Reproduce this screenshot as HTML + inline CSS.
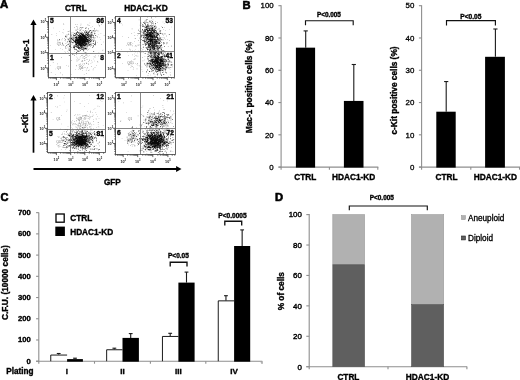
<!DOCTYPE html>
<html lang="en"><head><meta charset="utf-8"><title>Figure</title>
<style>
html,body{margin:0;padding:0;background:#fff;}
body{width:520px;height:380px;overflow:hidden;font-family:'Liberation Sans', Arial, Helvetica, sans-serif;}
svg{display:block;}
svg text{font-family:'Liberation Sans', Arial, Helvetica, sans-serif;}
</style></head><body>
<svg width="520" height="380" viewBox="0 0 520 380">
<rect x="0" y="0" width="520" height="380" fill="#ffffff"/>
<g style="filter:blur(0.38px)">
<rect x="-5" y="-5" width="530" height="390" fill="#ffffff"/>
<text x="0" y="8.3" font-size="11.4" font-weight="700" text-anchor="start" fill="#000" stroke="#000" stroke-width="0.6">A</text>
<text x="75.8" y="11" font-size="8.2" font-weight="700" text-anchor="middle" fill="#000" stroke="#000" stroke-width="0.35">CTRL</text>
<text x="146" y="10.8" font-size="8.3" font-weight="700" text-anchor="middle" fill="#000" stroke="#000" stroke-width="0.35">HDAC1-KD</text>
<text x="28.6" y="51.2" font-size="8.3" font-weight="700" text-anchor="middle" fill="#000" stroke="#000" stroke-width="0.35" transform="rotate(-90 28.6 51.2)">Mac-1</text>
<text x="28.1" y="123.4" font-size="8.4" font-weight="700" text-anchor="middle" fill="#000" stroke="#000" stroke-width="0.35" transform="rotate(-90 28.1 123.4)">c-Kit</text>
<text x="112.3" y="184.7" font-size="8.2" font-weight="700" text-anchor="middle" fill="#000" stroke="#000" stroke-width="0.35">GFP</text>
<line x1="33.5" y1="77.2" x2="33.5" y2="23.6" stroke="#000" stroke-width="1.7"/>
<path d="M30.4,25.0 L33.5,19.6 L36.6,25.0 Z" fill="#000"/>
<line x1="33.5" y1="152.7" x2="33.5" y2="99" stroke="#000" stroke-width="1.7"/>
<path d="M30.4,100.4 L33.5,95 L36.6,100.4 Z" fill="#000"/>
<line x1="33.5" y1="169" x2="177" y2="169" stroke="#000" stroke-width="1.9"/>
<path d="M176.1,166.1 L181.5,169 L176.1,171.9 Z" fill="#000"/>
<rect x="48.50" y="16.50" width="57.00" height="61.00" fill="#fff" stroke="#4a4a4a" stroke-width="0.85"/>
<line x1="45.9" y1="21.5" x2="48.5" y2="21.5" stroke="#222" stroke-width="0.7"/>
<text x="46.1" y="23.1" font-size="3.7" font-weight="700" text-anchor="end" fill="#222">10<tspan font-size="2.6" dy="-1.7">5</tspan></text>
<line x1="47.2" y1="32.124344065907486" x2="48.5" y2="32.124344065907486" stroke="#222" stroke-width="0.6"/>
<line x1="47.2" y1="29.447756928261132" x2="48.5" y2="29.447756928261132" stroke="#222" stroke-width="0.6"/>
<line x1="47.2" y1="27.54868813181497" x2="48.5" y2="27.54868813181497" stroke="#222" stroke-width="0.6"/>
<line x1="47.2" y1="26.075655934092513" x2="48.5" y2="26.075655934092513" stroke="#222" stroke-width="0.6"/>
<line x1="47.2" y1="24.872100994168616" x2="48.5" y2="24.872100994168616" stroke="#222" stroke-width="0.6"/>
<line x1="47.2" y1="23.854509791783297" x2="48.5" y2="23.854509791783297" stroke="#222" stroke-width="0.6"/>
<line x1="47.2" y1="22.973032197722457" x2="48.5" y2="22.973032197722457" stroke="#222" stroke-width="0.6"/>
<line x1="47.2" y1="22.19551385652226" x2="48.5" y2="22.19551385652226" stroke="#222" stroke-width="0.6"/>
<line x1="45.9" y1="37.3" x2="48.5" y2="37.3" stroke="#222" stroke-width="0.7"/>
<text x="46.1" y="38.9" font-size="3.7" font-weight="700" text-anchor="end" fill="#222">10<tspan font-size="2.6" dy="-1.7">4</tspan></text>
<line x1="47.2" y1="47.92434406590748" x2="48.5" y2="47.92434406590748" stroke="#222" stroke-width="0.6"/>
<line x1="47.2" y1="45.247756928261126" x2="48.5" y2="45.247756928261126" stroke="#222" stroke-width="0.6"/>
<line x1="47.2" y1="43.34868813181497" x2="48.5" y2="43.34868813181497" stroke="#222" stroke-width="0.6"/>
<line x1="47.2" y1="41.87565593409251" x2="48.5" y2="41.87565593409251" stroke="#222" stroke-width="0.6"/>
<line x1="47.2" y1="40.672100994168616" x2="48.5" y2="40.672100994168616" stroke="#222" stroke-width="0.6"/>
<line x1="47.2" y1="39.65450979178329" x2="48.5" y2="39.65450979178329" stroke="#222" stroke-width="0.6"/>
<line x1="47.2" y1="38.77303219772246" x2="48.5" y2="38.77303219772246" stroke="#222" stroke-width="0.6"/>
<line x1="47.2" y1="37.99551385652226" x2="48.5" y2="37.99551385652226" stroke="#222" stroke-width="0.6"/>
<line x1="45.9" y1="52.6" x2="48.5" y2="52.6" stroke="#222" stroke-width="0.7"/>
<text x="46.1" y="54.2" font-size="3.7" font-weight="700" text-anchor="end" fill="#222">10<tspan font-size="2.6" dy="-1.7">3</tspan></text>
<line x1="47.2" y1="63.22434406590749" x2="48.5" y2="63.22434406590749" stroke="#222" stroke-width="0.6"/>
<line x1="47.2" y1="60.54775692826113" x2="48.5" y2="60.54775692826113" stroke="#222" stroke-width="0.6"/>
<line x1="47.2" y1="58.64868813181497" x2="48.5" y2="58.64868813181497" stroke="#222" stroke-width="0.6"/>
<line x1="47.2" y1="57.17565593409252" x2="48.5" y2="57.17565593409252" stroke="#222" stroke-width="0.6"/>
<line x1="47.2" y1="55.97210099416862" x2="48.5" y2="55.97210099416862" stroke="#222" stroke-width="0.6"/>
<line x1="47.2" y1="54.954509791783295" x2="48.5" y2="54.954509791783295" stroke="#222" stroke-width="0.6"/>
<line x1="47.2" y1="54.07303219772246" x2="48.5" y2="54.07303219772246" stroke="#222" stroke-width="0.6"/>
<line x1="47.2" y1="53.29551385652226" x2="48.5" y2="53.29551385652226" stroke="#222" stroke-width="0.6"/>
<line x1="45.9" y1="68" x2="48.5" y2="68" stroke="#222" stroke-width="0.7"/>
<text x="46.1" y="69.6" font-size="3.7" font-weight="700" text-anchor="end" fill="#222">10<tspan font-size="2.6" dy="-1.7">2</tspan></text>
<line x1="47.2" y1="75.94775692826113" x2="48.5" y2="75.94775692826113" stroke="#222" stroke-width="0.6"/>
<line x1="47.2" y1="74.04868813181497" x2="48.5" y2="74.04868813181497" stroke="#222" stroke-width="0.6"/>
<line x1="47.2" y1="72.57565593409251" x2="48.5" y2="72.57565593409251" stroke="#222" stroke-width="0.6"/>
<line x1="47.2" y1="71.37210099416862" x2="48.5" y2="71.37210099416862" stroke="#222" stroke-width="0.6"/>
<line x1="47.2" y1="70.3545097917833" x2="48.5" y2="70.3545097917833" stroke="#222" stroke-width="0.6"/>
<line x1="47.2" y1="69.47303219772246" x2="48.5" y2="69.47303219772246" stroke="#222" stroke-width="0.6"/>
<line x1="47.2" y1="68.69551385652227" x2="48.5" y2="68.69551385652227" stroke="#222" stroke-width="0.6"/>
<line x1="47.2" y1="16.924344065907487" x2="48.5" y2="16.924344065907487" stroke="#222" stroke-width="0.6"/>
<line x1="56.4" y1="77.5" x2="56.4" y2="80.1" stroke="#222" stroke-width="0.7"/>
<text x="56.4" y="85.7" font-size="3.7" font-weight="700" text-anchor="middle" fill="#222">10<tspan font-size="2.6" dy="-1.7">2</tspan></text>
<line x1="48.87054606796313" y1="77.5" x2="48.87054606796313" y2="78.8" stroke="#222" stroke-width="0.6"/>
<line x1="50.66966387512266" y1="77.5" x2="50.66966387512266" y2="78.8" stroke="#222" stroke-width="0.6"/>
<line x1="52.06516806243867" y1="77.5" x2="52.06516806243867" y2="78.8" stroke="#222" stroke-width="0.6"/>
<line x1="53.205378005524466" y1="77.5" x2="53.205378005524466" y2="78.8" stroke="#222" stroke-width="0.6"/>
<line x1="54.169411776205294" y1="77.5" x2="54.169411776205294" y2="78.8" stroke="#222" stroke-width="0.6"/>
<line x1="55.004495812683984" y1="77.5" x2="55.004495812683984" y2="78.8" stroke="#222" stroke-width="0.6"/>
<line x1="55.74109213592628" y1="77.5" x2="55.74109213592628" y2="78.8" stroke="#222" stroke-width="0.6"/>
<line x1="70.7" y1="77.5" x2="70.7" y2="80.1" stroke="#222" stroke-width="0.7"/>
<text x="70.7" y="85.7" font-size="3.7" font-weight="700" text-anchor="middle" fill="#222">10<tspan font-size="2.6" dy="-1.7">3</tspan></text>
<line x1="60.63483193756133" y1="77.5" x2="60.63483193756133" y2="78.8" stroke="#222" stroke-width="0.6"/>
<line x1="63.170546067963144" y1="77.5" x2="63.170546067963144" y2="78.8" stroke="#222" stroke-width="0.6"/>
<line x1="64.96966387512266" y1="77.5" x2="64.96966387512266" y2="78.8" stroke="#222" stroke-width="0.6"/>
<line x1="66.36516806243867" y1="77.5" x2="66.36516806243867" y2="78.8" stroke="#222" stroke-width="0.6"/>
<line x1="67.50537800552448" y1="77.5" x2="67.50537800552448" y2="78.8" stroke="#222" stroke-width="0.6"/>
<line x1="68.4694117762053" y1="77.5" x2="68.4694117762053" y2="78.8" stroke="#222" stroke-width="0.6"/>
<line x1="69.304495812684" y1="77.5" x2="69.304495812684" y2="78.8" stroke="#222" stroke-width="0.6"/>
<line x1="70.04109213592628" y1="77.5" x2="70.04109213592628" y2="78.8" stroke="#222" stroke-width="0.6"/>
<line x1="84.8" y1="77.5" x2="84.8" y2="80.1" stroke="#222" stroke-width="0.7"/>
<text x="84.8" y="85.7" font-size="3.7" font-weight="700" text-anchor="middle" fill="#222">10<tspan font-size="2.6" dy="-1.7">4</tspan></text>
<line x1="74.73483193756132" y1="77.5" x2="74.73483193756132" y2="78.8" stroke="#222" stroke-width="0.6"/>
<line x1="77.27054606796314" y1="77.5" x2="77.27054606796314" y2="78.8" stroke="#222" stroke-width="0.6"/>
<line x1="79.06966387512266" y1="77.5" x2="79.06966387512266" y2="78.8" stroke="#222" stroke-width="0.6"/>
<line x1="80.46516806243866" y1="77.5" x2="80.46516806243866" y2="78.8" stroke="#222" stroke-width="0.6"/>
<line x1="81.60537800552447" y1="77.5" x2="81.60537800552447" y2="78.8" stroke="#222" stroke-width="0.6"/>
<line x1="82.5694117762053" y1="77.5" x2="82.5694117762053" y2="78.8" stroke="#222" stroke-width="0.6"/>
<line x1="83.40449581268399" y1="77.5" x2="83.40449581268399" y2="78.8" stroke="#222" stroke-width="0.6"/>
<line x1="84.14109213592627" y1="77.5" x2="84.14109213592627" y2="78.8" stroke="#222" stroke-width="0.6"/>
<line x1="99.3" y1="77.5" x2="99.3" y2="80.1" stroke="#222" stroke-width="0.7"/>
<text x="99.3" y="85.7" font-size="3.7" font-weight="700" text-anchor="middle" fill="#222">10<tspan font-size="2.6" dy="-1.7">5</tspan></text>
<line x1="89.23483193756132" y1="77.5" x2="89.23483193756132" y2="78.8" stroke="#222" stroke-width="0.6"/>
<line x1="91.77054606796314" y1="77.5" x2="91.77054606796314" y2="78.8" stroke="#222" stroke-width="0.6"/>
<line x1="93.56966387512266" y1="77.5" x2="93.56966387512266" y2="78.8" stroke="#222" stroke-width="0.6"/>
<line x1="94.96516806243866" y1="77.5" x2="94.96516806243866" y2="78.8" stroke="#222" stroke-width="0.6"/>
<line x1="96.10537800552447" y1="77.5" x2="96.10537800552447" y2="78.8" stroke="#222" stroke-width="0.6"/>
<line x1="97.0694117762053" y1="77.5" x2="97.0694117762053" y2="78.8" stroke="#222" stroke-width="0.6"/>
<line x1="97.90449581268399" y1="77.5" x2="97.90449581268399" y2="78.8" stroke="#222" stroke-width="0.6"/>
<line x1="98.64109213592627" y1="77.5" x2="98.64109213592627" y2="78.8" stroke="#222" stroke-width="0.6"/>
<line x1="103.63483193756133" y1="77.5" x2="103.63483193756133" y2="78.8" stroke="#222" stroke-width="0.6"/>
<path d="M71.6,43.9h0.6v0.6h-0.6zM90.5,35.4h0.6v0.6h-0.6zM70.7,40.9h0.6v0.6h-0.6zM86.1,47.1h0.6v0.6h-0.6zM71.7,32.3h0.6v0.6h-0.6zM88.0,42.5h0.6v0.6h-0.6zM95.0,45.2h0.6v0.6h-0.6zM81.1,38.2h0.6v0.6h-0.6zM103.8,35.3h0.6v0.6h-0.6zM75.3,32.9h0.6v0.6h-0.6zM82.8,40.9h0.6v0.6h-0.6zM79.1,39.9h0.6v0.6h-0.6zM84.3,44.5h0.6v0.6h-0.6zM91.3,40.3h0.6v0.6h-0.6zM66.8,46.7h0.6v0.6h-0.6zM69.9,40.3h0.6v0.6h-0.6zM69.5,41.6h0.6v0.6h-0.6zM75.4,42.3h0.6v0.6h-0.6zM89.2,30.0h0.6v0.6h-0.6zM79.6,44.9h0.6v0.6h-0.6zM81.2,42.7h0.6v0.6h-0.6zM82.9,32.9h0.6v0.6h-0.6zM86.8,33.8h0.6v0.6h-0.6zM97.9,34.5h0.6v0.6h-0.6zM87.8,39.3h0.6v0.6h-0.6zM90.1,34.8h0.6v0.6h-0.6zM90.5,38.1h0.6v0.6h-0.6zM92.7,43.0h0.6v0.6h-0.6zM83.2,34.5h0.6v0.6h-0.6zM88.5,42.4h0.6v0.6h-0.6zM96.0,35.7h0.6v0.6h-0.6zM86.7,42.9h0.6v0.6h-0.6zM84.4,41.1h0.6v0.6h-0.6zM83.5,35.7h0.6v0.6h-0.6zM73.4,38.3h0.6v0.6h-0.6zM87.0,49.8h0.6v0.6h-0.6zM90.3,46.3h0.6v0.6h-0.6zM88.6,44.0h0.6v0.6h-0.6zM83.6,45.1h0.6v0.6h-0.6zM97.1,35.9h0.6v0.6h-0.6zM76.1,54.3h0.6v0.6h-0.6zM84.1,46.5h0.6v0.6h-0.6zM89.4,31.2h0.6v0.6h-0.6zM102.7,49.7h0.6v0.6h-0.6zM83.5,45.0h0.6v0.6h-0.6zM83.1,33.7h0.6v0.6h-0.6zM81.0,42.7h0.6v0.6h-0.6zM91.5,43.7h0.6v0.6h-0.6zM82.5,49.3h0.6v0.6h-0.6zM75.5,46.3h0.6v0.6h-0.6zM91.5,36.8h0.6v0.6h-0.6zM66.8,35.6h0.6v0.6h-0.6zM84.0,43.4h0.6v0.6h-0.6zM95.2,31.4h0.6v0.6h-0.6zM82.0,44.5h0.6v0.6h-0.6zM80.7,23.8h0.6v0.6h-0.6zM88.9,55.2h0.6v0.6h-0.6zM90.5,32.6h0.6v0.6h-0.6zM78.5,42.0h0.6v0.6h-0.6zM103.2,41.7h0.6v0.6h-0.6zM83.0,50.7h0.6v0.6h-0.6zM81.3,53.0h0.6v0.6h-0.6zM76.2,37.4h0.6v0.6h-0.6zM88.1,49.1h0.6v0.6h-0.6zM87.6,41.4h0.6v0.6h-0.6zM66.5,37.0h0.6v0.6h-0.6zM76.8,36.9h0.6v0.6h-0.6zM87.0,37.1h0.6v0.6h-0.6zM88.7,39.7h0.6v0.6h-0.6zM79.2,41.2h0.6v0.6h-0.6zM85.6,45.5h0.6v0.6h-0.6zM77.9,38.9h0.6v0.6h-0.6zM70.4,52.5h0.6v0.6h-0.6zM94.3,37.2h0.6v0.6h-0.6zM77.9,31.9h0.6v0.6h-0.6zM83.4,41.2h0.6v0.6h-0.6zM100.5,39.4h0.6v0.6h-0.6zM75.4,23.9h0.6v0.6h-0.6zM94.0,39.8h0.6v0.6h-0.6zM68.3,42.9h0.6v0.6h-0.6zM68.3,65.8h0.6v0.6h-0.6zM91.5,42.8h0.6v0.6h-0.6zM80.5,25.4h0.6v0.6h-0.6zM80.9,29.4h0.6v0.6h-0.6zM87.1,24.6h0.6v0.6h-0.6zM74.3,49.4h0.6v0.6h-0.6zM96.0,30.1h0.6v0.6h-0.6zM69.0,47.7h0.6v0.6h-0.6zM89.3,32.3h0.6v0.6h-0.6zM76.1,35.9h0.6v0.6h-0.6zM71.9,36.5h0.6v0.6h-0.6zM92.6,43.5h0.6v0.6h-0.6zM99.5,37.2h0.6v0.6h-0.6zM80.8,33.3h0.6v0.6h-0.6zM80.9,31.0h0.6v0.6h-0.6zM66.9,46.7h0.6v0.6h-0.6zM94.2,44.3h0.6v0.6h-0.6zM93.3,40.3h0.6v0.6h-0.6zM75.9,41.4h0.6v0.6h-0.6zM78.8,32.7h0.6v0.6h-0.6zM67.6,31.5h0.6v0.6h-0.6zM82.0,41.0h0.6v0.6h-0.6zM78.0,50.4h0.6v0.6h-0.6zM83.5,43.8h0.6v0.6h-0.6zM92.4,33.0h0.6v0.6h-0.6zM65.3,47.3h0.6v0.6h-0.6zM76.1,49.8h0.6v0.6h-0.6zM84.9,46.6h0.6v0.6h-0.6zM88.5,24.8h0.6v0.6h-0.6zM88.1,34.6h0.6v0.6h-0.6zM75.6,37.8h0.6v0.6h-0.6zM88.5,45.3h0.6v0.6h-0.6zM90.6,27.5h0.6v0.6h-0.6zM77.0,24.2h0.6v0.6h-0.6zM81.1,44.3h0.6v0.6h-0.6zM75.5,42.5h0.6v0.6h-0.6zM84.0,46.7h0.6v0.6h-0.6zM75.0,35.1h0.6v0.6h-0.6zM75.5,52.9h0.6v0.6h-0.6zM91.3,38.0h0.6v0.6h-0.6zM83.9,40.6h0.6v0.6h-0.6zM83.7,38.3h0.6v0.6h-0.6zM79.2,31.7h0.6v0.6h-0.6zM76.5,52.1h0.6v0.6h-0.6zM86.6,39.9h0.6v0.6h-0.6zM80.2,40.7h0.6v0.6h-0.6zM85.0,35.2h0.6v0.6h-0.6zM83.7,41.5h0.6v0.6h-0.6zM75.6,35.3h0.6v0.6h-0.6zM73.5,33.7h0.6v0.6h-0.6zM89.6,22.7h0.6v0.6h-0.6zM79.7,36.1h0.6v0.6h-0.6zM76.7,41.3h0.6v0.6h-0.6zM91.6,39.3h0.6v0.6h-0.6zM80.8,35.9h0.6v0.6h-0.6zM80.9,46.4h0.6v0.6h-0.6zM78.7,32.5h0.6v0.6h-0.6zM71.3,33.7h0.6v0.6h-0.6zM70.2,49.1h0.6v0.6h-0.6zM85.0,38.0h0.6v0.6h-0.6zM94.4,33.9h0.6v0.6h-0.6zM88.4,44.8h0.6v0.6h-0.6zM68.9,30.8h0.6v0.6h-0.6zM74.1,47.2h0.6v0.6h-0.6zM93.0,30.1h0.6v0.6h-0.6zM90.9,36.2h0.6v0.6h-0.6zM78.7,36.6h0.6v0.6h-0.6zM79.2,27.8h0.6v0.6h-0.6zM73.5,32.5h0.6v0.6h-0.6zM86.2,53.9h0.6v0.6h-0.6zM67.4,39.0h0.6v0.6h-0.6zM74.0,54.7h0.6v0.6h-0.6zM86.9,34.4h0.6v0.6h-0.6zM90.0,42.7h0.6v0.6h-0.6zM68.2,38.0h0.6v0.6h-0.6zM80.0,40.4h0.6v0.6h-0.6zM83.1,37.5h0.6v0.6h-0.6zM83.6,35.7h0.6v0.6h-0.6zM74.4,51.4h0.6v0.6h-0.6zM85.1,42.7h0.6v0.6h-0.6zM68.4,40.5h0.6v0.6h-0.6zM89.0,30.2h0.6v0.6h-0.6zM91.3,36.2h0.6v0.6h-0.6zM85.4,38.7h0.6v0.6h-0.6zM83.9,48.1h0.6v0.6h-0.6zM78.6,51.3h0.6v0.6h-0.6zM75.4,34.4h0.6v0.6h-0.6zM88.0,31.9h0.6v0.6h-0.6zM78.9,46.7h0.6v0.6h-0.6zM92.3,26.4h0.6v0.6h-0.6zM86.3,52.5h0.6v0.6h-0.6zM92.2,37.1h0.6v0.6h-0.6zM76.9,38.6h0.6v0.6h-0.6zM72.2,39.4h0.6v0.6h-0.6zM80.4,39.2h0.6v0.6h-0.6zM92.1,37.2h0.6v0.6h-0.6zM69.6,48.8h0.6v0.6h-0.6zM72.9,38.0h0.6v0.6h-0.6zM80.9,37.8h0.6v0.6h-0.6zM73.5,39.3h0.6v0.6h-0.6zM100.6,33.5h0.6v0.6h-0.6zM80.8,47.9h0.6v0.6h-0.6zM88.3,44.5h0.6v0.6h-0.6zM89.3,25.5h0.6v0.6h-0.6zM74.7,41.8h0.6v0.6h-0.6zM86.2,48.4h0.6v0.6h-0.6zM86.0,37.9h0.6v0.6h-0.6zM82.3,38.5h0.6v0.6h-0.6zM84.1,44.4h0.6v0.6h-0.6zM79.1,34.7h0.6v0.6h-0.6zM74.7,48.5h0.6v0.6h-0.6zM92.9,45.5h0.6v0.6h-0.6zM89.3,44.9h0.6v0.6h-0.6zM82.0,44.6h0.6v0.6h-0.6zM73.1,39.7h0.6v0.6h-0.6zM75.8,45.8h0.6v0.6h-0.6zM77.1,39.9h0.6v0.6h-0.6zM85.4,49.0h0.6v0.6h-0.6zM75.3,34.3h0.6v0.6h-0.6zM88.9,31.5h0.6v0.6h-0.6zM85.8,35.6h0.6v0.6h-0.6zM81.1,27.5h0.6v0.6h-0.6zM88.1,35.8h0.6v0.6h-0.6zM74.4,55.3h0.6v0.6h-0.6zM88.1,63.5h0.6v0.6h-0.6zM85.5,37.2h0.6v0.6h-0.6zM82.9,51.0h0.6v0.6h-0.6zM81.8,43.1h0.6v0.6h-0.6zM86.4,33.2h0.6v0.6h-0.6zM83.1,36.4h0.6v0.6h-0.6zM71.4,47.3h0.6v0.6h-0.6zM87.7,39.8h0.6v0.6h-0.6zM74.3,27.1h0.6v0.6h-0.6zM86.1,38.8h0.6v0.6h-0.6zM67.7,41.4h0.6v0.6h-0.6zM69.1,41.4h0.6v0.6h-0.6zM83.2,42.3h0.6v0.6h-0.6zM83.8,41.0h0.6v0.6h-0.6zM72.3,38.5h0.6v0.6h-0.6zM77.7,38.9h0.6v0.6h-0.6zM84.3,44.0h0.6v0.6h-0.6zM95.9,20.5h0.6v0.6h-0.6zM85.4,38.2h0.6v0.6h-0.6zM101.3,44.1h0.6v0.6h-0.6zM67.9,44.5h0.6v0.6h-0.6zM77.6,47.4h0.6v0.6h-0.6zM73.0,40.4h0.6v0.6h-0.6zM80.9,39.5h0.6v0.6h-0.6zM77.0,27.9h0.6v0.6h-0.6zM85.9,46.4h0.6v0.6h-0.6zM81.4,33.0h0.6v0.6h-0.6zM83.7,43.7h0.6v0.6h-0.6zM80.5,40.1h0.6v0.6h-0.6zM94.0,30.8h0.6v0.6h-0.6zM77.3,27.4h0.6v0.6h-0.6zM76.1,35.6h0.6v0.6h-0.6zM73.8,36.2h0.6v0.6h-0.6zM97.3,36.8h0.6v0.6h-0.6zM81.0,55.3h0.6v0.6h-0.6zM81.5,28.1h0.6v0.6h-0.6zM85.4,33.1h0.6v0.6h-0.6zM95.9,29.7h0.6v0.6h-0.6zM77.1,29.5h0.6v0.6h-0.6zM82.8,32.9h0.6v0.6h-0.6zM81.4,37.5h0.6v0.6h-0.6zM76.8,47.2h0.6v0.6h-0.6zM90.0,39.4h0.6v0.6h-0.6zM74.3,33.5h0.6v0.6h-0.6zM84.3,56.3h0.6v0.6h-0.6zM78.1,35.0h0.6v0.6h-0.6zM76.1,33.2h0.6v0.6h-0.6zM73.7,39.6h0.6v0.6h-0.6zM94.2,38.5h0.6v0.6h-0.6zM77.7,29.4h0.6v0.6h-0.6zM83.8,39.6h0.6v0.6h-0.6zM71.6,33.8h0.6v0.6h-0.6zM81.6,47.1h0.6v0.6h-0.6zM87.3,40.8h0.6v0.6h-0.6zM82.2,63.8h0.6v0.6h-0.6zM83.9,74.0h0.6v0.6h-0.6zM77.8,60.0h0.6v0.6h-0.6zM91.0,60.5h0.6v0.6h-0.6zM91.8,61.8h0.6v0.6h-0.6zM84.8,60.0h0.6v0.6h-0.6zM76.4,56.7h0.6v0.6h-0.6zM96.2,65.5h0.6v0.6h-0.6zM87.3,67.2h0.6v0.6h-0.6zM87.1,67.6h0.6v0.6h-0.6zM82.5,60.8h0.6v0.6h-0.6zM89.4,60.1h0.6v0.6h-0.6zM76.7,60.8h0.6v0.6h-0.6zM81.0,65.4h0.6v0.6h-0.6zM80.0,56.2h0.6v0.6h-0.6zM82.2,70.5h0.6v0.6h-0.6zM83.7,62.9h0.6v0.6h-0.6zM84.1,63.6h0.6v0.6h-0.6zM89.1,69.7h0.6v0.6h-0.6zM75.0,69.5h0.6v0.6h-0.6zM84.0,60.2h0.6v0.6h-0.6zM97.2,61.1h0.6v0.6h-0.6zM94.7,67.3h0.6v0.6h-0.6zM78.3,64.7h0.6v0.6h-0.6zM88.1,61.3h0.6v0.6h-0.6zM71.2,60.1h0.6v0.6h-0.6zM82.9,55.9h0.6v0.6h-0.6zM94.0,60.7h0.6v0.6h-0.6zM81.8,60.4h0.6v0.6h-0.6zM79.7,57.7h0.6v0.6h-0.6zM84.5,63.7h0.6v0.6h-0.6zM81.2,61.5h0.6v0.6h-0.6zM76.4,64.9h0.6v0.6h-0.6zM79.9,63.2h0.6v0.6h-0.6zM79.0,59.2h0.6v0.6h-0.6zM85.2,55.3h0.6v0.6h-0.6zM97.6,61.8h0.6v0.6h-0.6zM83.6,58.0h0.6v0.6h-0.6zM92.8,69.6h0.6v0.6h-0.6zM85.6,54.5h0.6v0.6h-0.6zM81.2,65.4h0.6v0.6h-0.6zM81.2,55.5h0.6v0.6h-0.6zM77.5,57.8h0.6v0.6h-0.6zM84.1,58.4h0.6v0.6h-0.6zM93.8,56.3h0.6v0.6h-0.6zM85.9,62.5h0.6v0.6h-0.6zM83.2,67.7h0.6v0.6h-0.6zM82.2,60.2h0.6v0.6h-0.6zM81.9,61.4h0.6v0.6h-0.6zM91.1,66.3h0.6v0.6h-0.6zM76.6,59.6h0.6v0.6h-0.6zM79.6,66.5h0.6v0.6h-0.6zM85.2,66.9h0.6v0.6h-0.6zM83.7,51.5h0.6v0.6h-0.6zM86.5,63.3h0.6v0.6h-0.6zM86.8,54.8h0.6v0.6h-0.6zM84.4,58.2h0.6v0.6h-0.6zM80.2,63.9h0.6v0.6h-0.6zM85.9,57.1h0.6v0.6h-0.6zM74.6,48.4h0.6v0.6h-0.6zM80.8,68.2h0.6v0.6h-0.6zM83.7,49.6h0.6v0.6h-0.6zM79.3,64.3h0.6v0.6h-0.6zM93.2,68.4h0.6v0.6h-0.6zM86.0,63.1h0.6v0.6h-0.6zM78.2,59.5h0.6v0.6h-0.6zM82.2,57.7h0.6v0.6h-0.6zM84.3,59.8h0.6v0.6h-0.6zM85.9,69.9h0.6v0.6h-0.6zM88.1,64.3h0.6v0.6h-0.6zM82.7,53.6h0.6v0.6h-0.6zM83.4,65.0h0.6v0.6h-0.6zM78.5,68.9h0.6v0.6h-0.6zM82.2,64.0h0.6v0.6h-0.6zM82.2,55.1h0.6v0.6h-0.6zM95.4,55.6h0.6v0.6h-0.6zM89.1,58.9h0.6v0.6h-0.6zM85.5,57.6h0.6v0.6h-0.6zM81.7,67.1h0.6v0.6h-0.6zM94.7,57.3h0.6v0.6h-0.6zM84.1,67.2h0.6v0.6h-0.6zM80.5,65.9h0.6v0.6h-0.6zM79.7,65.3h0.6v0.6h-0.6zM86.4,68.7h0.6v0.6h-0.6zM86.0,55.4h0.6v0.6h-0.6zM87.7,55.9h0.6v0.6h-0.6zM88.1,70.3h0.6v0.6h-0.6zM87.3,59.0h0.6v0.6h-0.6zM90.6,62.9h0.6v0.6h-0.6zM59.0,39.9h0.6v0.6h-0.6zM69.7,40.2h0.6v0.6h-0.6zM64.5,39.9h0.6v0.6h-0.6zM57.3,38.9h0.6v0.6h-0.6zM65.4,43.2h0.6v0.6h-0.6zM63.3,29.2h0.6v0.6h-0.6zM68.9,46.3h0.6v0.6h-0.6zM68.1,49.8h0.6v0.6h-0.6zM62.2,38.4h0.6v0.6h-0.6zM65.3,52.0h0.6v0.6h-0.6zM57.3,40.6h0.6v0.6h-0.6zM61.1,45.4h0.6v0.6h-0.6zM69.9,40.2h0.6v0.6h-0.6zM59.0,42.3h0.6v0.6h-0.6zM62.9,32.7h0.6v0.6h-0.6zM67.5,38.9h0.6v0.6h-0.6zM66.7,34.1h0.6v0.6h-0.6zM68.4,33.4h0.6v0.6h-0.6zM68.2,31.1h0.6v0.6h-0.6zM69.5,39.8h0.6v0.6h-0.6zM57.8,40.6h0.6v0.6h-0.6zM65.3,36.1h0.6v0.6h-0.6zM62.0,43.6h0.6v0.6h-0.6zM63.3,23.6h0.6v0.6h-0.6zM62.3,44.6h0.6v0.6h-0.6zM65.2,48.1h0.6v0.6h-0.6zM61.2,57.3h0.6v0.6h-0.6zM67.2,43.9h0.6v0.6h-0.6zM68.3,47.7h0.6v0.6h-0.6zM64.4,38.3h0.6v0.6h-0.6zM68.1,44.5h0.6v0.6h-0.6zM56.4,35.4h0.6v0.6h-0.6zM65.9,42.7h0.6v0.6h-0.6zM65.1,45.9h0.6v0.6h-0.6zM64.6,51.5h0.6v0.6h-0.6zM61.6,39.6h0.6v0.6h-0.6zM65.3,46.5h0.6v0.6h-0.6zM67.2,50.9h0.6v0.6h-0.6zM62.1,49.0h0.6v0.6h-0.6zM65.9,35.7h0.6v0.6h-0.6zM54.9,68.7h0.55v0.55h-0.55zM67.4,38.2h0.55v0.55h-0.55zM60.4,72.6h0.55v0.55h-0.55zM59.2,31.4h0.55v0.55h-0.55zM50.9,72.1h0.55v0.55h-0.55zM65.2,40.6h0.55v0.55h-0.55zM60.0,47.9h0.55v0.55h-0.55zM55.2,74.5h0.55v0.55h-0.55zM62.5,32.3h0.55v0.55h-0.55zM50.2,45.5h0.55v0.55h-0.55zM57.1,63.6h0.55v0.55h-0.55zM63.6,52.9h0.55v0.55h-0.55zM53.0,27.8h0.55v0.55h-0.55zM56.1,33.5h0.55v0.55h-0.55zM66.5,47.9h0.55v0.55h-0.55zM62.1,74.6h0.55v0.55h-0.55zM55.1,48.9h0.55v0.55h-0.55zM52.9,62.1h0.55v0.55h-0.55zM50.0,65.0h0.55v0.55h-0.55zM66.1,65.0h0.55v0.55h-0.55zM51.6,34.1h0.55v0.55h-0.55zM63.6,24.4h0.55v0.55h-0.55zM59.1,45.2h0.55v0.55h-0.55zM68.2,51.9h0.55v0.55h-0.55zM66.3,36.0h0.55v0.55h-0.55zM97.0,42.4h0.55v0.55h-0.55zM101.3,24.1h0.55v0.55h-0.55zM98.3,30.7h0.55v0.55h-0.55zM88.9,48.4h0.55v0.55h-0.55zM76.2,65.6h0.55v0.55h-0.55zM81.3,36.4h0.55v0.55h-0.55zM73.5,36.1h0.55v0.55h-0.55zM86.4,59.0h0.55v0.55h-0.55zM82.9,57.5h0.55v0.55h-0.55zM74.5,41.1h0.55v0.55h-0.55zM86.2,73.1h0.55v0.55h-0.55zM98.4,55.6h0.55v0.55h-0.55zM71.4,40.1h0.55v0.55h-0.55zM94.4,32.3h0.55v0.55h-0.55zM89.6,44.7h0.55v0.55h-0.55zM71.3,74.5h0.55v0.55h-0.55zM97.4,30.6h0.55v0.55h-0.55zM91.3,35.3h0.55v0.55h-0.55zM83.4,49.2h0.55v0.55h-0.55zM80.8,37.9h0.55v0.55h-0.55zM83.9,56.3h0.55v0.55h-0.55zM79.5,30.2h0.55v0.55h-0.55zM95.1,37.4h0.55v0.55h-0.55zM102.2,50.5h0.55v0.55h-0.55zM94.9,37.6h0.55v0.55h-0.55zM98.3,24.2h0.55v0.55h-0.55zM75.6,24.3h0.55v0.55h-0.55zM93.4,58.7h0.55v0.55h-0.55zM76.9,41.5h0.55v0.55h-0.55zM98.6,52.2h0.55v0.55h-0.55z" fill="#8a8a8a"/>
<path d="M83.0,40.2h0.7v0.7h-0.7zM82.2,40.5h0.7v0.7h-0.7zM80.5,40.3h0.7v0.7h-0.7zM83.9,37.9h0.7v0.7h-0.7zM77.5,40.1h0.7v0.7h-0.7zM81.9,35.0h0.7v0.7h-0.7zM79.6,41.4h0.7v0.7h-0.7zM81.0,39.9h0.7v0.7h-0.7zM78.0,42.4h0.7v0.7h-0.7zM86.1,38.2h0.7v0.7h-0.7zM79.4,37.1h0.7v0.7h-0.7zM83.8,39.4h0.7v0.7h-0.7zM79.3,43.0h0.7v0.7h-0.7zM83.5,40.7h0.7v0.7h-0.7zM76.6,40.2h0.7v0.7h-0.7zM83.1,36.3h0.7v0.7h-0.7zM83.9,42.6h0.7v0.7h-0.7zM84.2,37.3h0.7v0.7h-0.7zM79.5,42.3h0.7v0.7h-0.7zM84.1,42.1h0.7v0.7h-0.7zM84.6,38.8h0.7v0.7h-0.7zM80.3,35.3h0.7v0.7h-0.7zM83.5,44.8h0.7v0.7h-0.7zM80.1,38.7h0.7v0.7h-0.7zM83.2,40.2h0.7v0.7h-0.7zM77.7,38.5h0.7v0.7h-0.7zM78.4,45.1h0.7v0.7h-0.7zM79.5,42.1h0.7v0.7h-0.7zM86.6,43.3h0.7v0.7h-0.7zM85.2,42.9h0.7v0.7h-0.7zM78.1,39.4h0.7v0.7h-0.7zM79.4,39.3h0.7v0.7h-0.7zM88.5,34.2h0.7v0.7h-0.7zM82.9,36.3h0.7v0.7h-0.7zM85.0,42.1h0.7v0.7h-0.7zM80.0,44.9h0.7v0.7h-0.7zM81.6,42.8h0.7v0.7h-0.7zM82.2,38.1h0.7v0.7h-0.7zM80.4,39.5h0.7v0.7h-0.7zM83.1,39.6h0.7v0.7h-0.7zM87.8,37.9h0.7v0.7h-0.7zM80.1,38.1h0.7v0.7h-0.7zM79.3,36.5h0.7v0.7h-0.7zM78.7,42.3h0.7v0.7h-0.7zM81.6,39.2h0.7v0.7h-0.7zM82.3,42.0h0.7v0.7h-0.7zM83.1,41.2h0.7v0.7h-0.7zM79.9,39.2h0.7v0.7h-0.7zM79.3,39.8h0.7v0.7h-0.7zM79.2,39.1h0.7v0.7h-0.7zM80.9,39.2h0.7v0.7h-0.7zM80.7,38.5h0.7v0.7h-0.7zM84.9,38.1h0.7v0.7h-0.7zM78.7,40.6h0.7v0.7h-0.7zM78.5,37.5h0.7v0.7h-0.7zM81.6,35.5h0.7v0.7h-0.7zM72.7,41.9h0.7v0.7h-0.7zM84.2,35.0h0.7v0.7h-0.7zM79.0,41.5h0.7v0.7h-0.7zM76.0,38.5h0.7v0.7h-0.7zM78.1,39.7h0.7v0.7h-0.7zM76.1,42.8h0.7v0.7h-0.7zM81.0,40.4h0.7v0.7h-0.7zM80.5,34.6h0.7v0.7h-0.7zM81.0,36.4h0.7v0.7h-0.7zM81.4,37.5h0.7v0.7h-0.7zM80.5,39.2h0.7v0.7h-0.7zM83.5,41.1h0.7v0.7h-0.7zM78.7,40.1h0.7v0.7h-0.7zM85.3,40.1h0.7v0.7h-0.7zM79.4,39.7h0.7v0.7h-0.7zM80.5,42.1h0.7v0.7h-0.7zM81.5,40.5h0.7v0.7h-0.7zM87.4,35.1h0.7v0.7h-0.7zM78.7,35.9h0.7v0.7h-0.7zM77.1,42.5h0.7v0.7h-0.7zM82.2,43.4h0.7v0.7h-0.7zM76.1,38.4h0.7v0.7h-0.7zM85.3,41.4h0.7v0.7h-0.7zM83.8,41.3h0.7v0.7h-0.7zM81.5,39.6h0.7v0.7h-0.7zM81.5,41.6h0.7v0.7h-0.7zM81.0,40.5h0.7v0.7h-0.7zM85.3,36.1h0.7v0.7h-0.7zM79.4,41.4h0.7v0.7h-0.7zM80.7,39.3h0.7v0.7h-0.7zM87.1,39.6h0.7v0.7h-0.7zM80.3,42.5h0.7v0.7h-0.7zM88.2,35.6h0.7v0.7h-0.7zM79.6,40.2h0.7v0.7h-0.7zM79.7,45.2h0.7v0.7h-0.7zM82.8,38.4h0.7v0.7h-0.7zM82.7,37.4h0.7v0.7h-0.7zM79.8,40.2h0.7v0.7h-0.7zM87.8,32.9h0.7v0.7h-0.7zM82.5,42.7h0.7v0.7h-0.7zM83.4,43.9h0.7v0.7h-0.7zM82.6,39.7h0.7v0.7h-0.7zM81.0,37.6h0.7v0.7h-0.7zM85.8,35.9h0.7v0.7h-0.7zM81.1,38.4h0.7v0.7h-0.7zM79.3,34.5h0.7v0.7h-0.7zM80.4,40.1h0.7v0.7h-0.7zM81.8,41.6h0.7v0.7h-0.7zM81.0,38.1h0.7v0.7h-0.7zM82.2,41.1h0.7v0.7h-0.7zM79.0,36.3h0.7v0.7h-0.7zM78.6,42.7h0.7v0.7h-0.7zM84.1,36.9h0.7v0.7h-0.7zM81.7,41.6h0.7v0.7h-0.7zM85.0,37.3h0.7v0.7h-0.7zM80.8,43.2h0.7v0.7h-0.7zM87.9,42.1h0.7v0.7h-0.7zM78.3,41.3h0.7v0.7h-0.7zM80.6,39.6h0.7v0.7h-0.7zM79.6,38.8h0.7v0.7h-0.7zM81.4,44.0h0.7v0.7h-0.7zM83.3,40.3h0.7v0.7h-0.7zM81.5,37.7h0.7v0.7h-0.7zM80.8,42.8h0.7v0.7h-0.7zM83.6,44.0h0.7v0.7h-0.7zM82.1,39.4h0.7v0.7h-0.7zM77.0,41.4h0.7v0.7h-0.7zM76.7,44.2h0.7v0.7h-0.7zM79.7,39.9h0.7v0.7h-0.7zM77.8,39.1h0.7v0.7h-0.7zM78.9,42.8h0.7v0.7h-0.7zM82.1,36.6h0.7v0.7h-0.7zM76.2,40.4h0.7v0.7h-0.7zM80.1,37.1h0.7v0.7h-0.7zM83.0,38.9h0.7v0.7h-0.7zM81.7,38.1h0.7v0.7h-0.7zM79.9,38.8h0.7v0.7h-0.7zM77.1,41.9h0.7v0.7h-0.7zM82.5,35.2h0.7v0.7h-0.7zM81.7,42.4h0.7v0.7h-0.7zM82.0,42.7h0.7v0.7h-0.7zM80.7,39.7h0.7v0.7h-0.7zM77.9,38.0h0.7v0.7h-0.7zM76.5,38.3h0.7v0.7h-0.7zM82.1,40.7h0.7v0.7h-0.7zM84.5,39.3h0.7v0.7h-0.7zM78.7,41.2h0.7v0.7h-0.7zM81.0,44.0h0.7v0.7h-0.7zM86.7,41.0h0.7v0.7h-0.7zM78.3,38.9h0.7v0.7h-0.7zM81.9,37.8h0.7v0.7h-0.7zM82.8,41.0h0.7v0.7h-0.7zM83.7,39.7h0.7v0.7h-0.7zM79.0,38.0h0.7v0.7h-0.7zM81.1,42.9h0.7v0.7h-0.7zM85.7,41.2h0.7v0.7h-0.7zM82.4,41.1h0.7v0.7h-0.7zM83.6,42.4h0.7v0.7h-0.7zM83.7,35.4h0.7v0.7h-0.7zM84.0,40.1h0.7v0.7h-0.7zM80.2,41.1h0.7v0.7h-0.7zM82.2,39.3h0.7v0.7h-0.7zM76.8,40.7h0.7v0.7h-0.7zM82.9,39.2h0.7v0.7h-0.7zM77.1,41.5h0.7v0.7h-0.7zM83.3,39.7h0.7v0.7h-0.7zM82.5,38.5h0.7v0.7h-0.7zM79.6,41.2h0.7v0.7h-0.7zM80.4,40.2h0.7v0.7h-0.7zM90.2,39.7h0.7v0.7h-0.7zM81.8,35.6h0.7v0.7h-0.7zM81.7,41.4h0.7v0.7h-0.7zM79.5,39.4h0.7v0.7h-0.7zM75.3,42.1h0.7v0.7h-0.7zM79.8,41.6h0.7v0.7h-0.7zM85.1,38.5h0.7v0.7h-0.7zM84.1,39.7h0.7v0.7h-0.7zM80.8,39.0h0.7v0.7h-0.7zM79.1,43.2h0.7v0.7h-0.7zM83.8,36.7h0.7v0.7h-0.7zM83.7,37.4h0.7v0.7h-0.7zM77.3,43.3h0.7v0.7h-0.7zM77.9,43.1h0.7v0.7h-0.7zM81.9,41.7h0.7v0.7h-0.7zM82.8,42.2h0.7v0.7h-0.7zM82.3,40.8h0.7v0.7h-0.7zM82.1,42.2h0.7v0.7h-0.7zM80.3,42.3h0.7v0.7h-0.7zM85.5,38.7h0.7v0.7h-0.7zM82.6,38.1h0.7v0.7h-0.7zM80.6,40.4h0.7v0.7h-0.7zM80.5,37.6h0.7v0.7h-0.7zM81.3,40.1h0.7v0.7h-0.7zM82.3,41.2h0.7v0.7h-0.7zM76.6,43.9h0.7v0.7h-0.7zM80.9,37.8h0.7v0.7h-0.7zM80.4,40.9h0.7v0.7h-0.7zM83.8,38.3h0.7v0.7h-0.7zM81.8,35.6h0.7v0.7h-0.7zM81.9,39.2h0.7v0.7h-0.7zM80.2,42.0h0.7v0.7h-0.7zM86.2,41.2h0.7v0.7h-0.7zM79.3,43.7h0.7v0.7h-0.7zM80.5,39.7h0.7v0.7h-0.7zM79.8,41.0h0.7v0.7h-0.7zM82.9,39.7h0.7v0.7h-0.7zM80.8,39.4h0.7v0.7h-0.7zM80.3,42.2h0.7v0.7h-0.7zM80.0,39.5h0.7v0.7h-0.7zM80.8,37.9h0.7v0.7h-0.7zM80.8,36.1h0.7v0.7h-0.7zM82.5,40.7h0.7v0.7h-0.7zM80.6,43.5h0.7v0.7h-0.7zM79.2,41.4h0.7v0.7h-0.7zM82.7,38.1h0.7v0.7h-0.7zM80.8,41.9h0.7v0.7h-0.7zM81.6,40.3h0.7v0.7h-0.7zM85.2,39.4h0.7v0.7h-0.7zM76.9,38.6h0.7v0.7h-0.7zM83.6,38.9h0.7v0.7h-0.7zM78.5,35.3h0.7v0.7h-0.7zM82.3,43.1h0.7v0.7h-0.7zM78.0,34.9h0.7v0.7h-0.7zM82.7,38.0h0.7v0.7h-0.7zM80.6,39.0h0.7v0.7h-0.7zM79.0,41.1h0.7v0.7h-0.7zM83.9,40.0h0.7v0.7h-0.7zM79.9,42.4h0.7v0.7h-0.7zM81.1,41.1h0.7v0.7h-0.7zM78.9,41.7h0.7v0.7h-0.7zM83.4,42.4h0.7v0.7h-0.7zM81.5,40.7h0.7v0.7h-0.7zM79.9,42.0h0.7v0.7h-0.7zM83.5,41.8h0.7v0.7h-0.7zM80.4,36.8h0.7v0.7h-0.7zM81.2,39.1h0.7v0.7h-0.7zM79.4,41.4h0.7v0.7h-0.7zM83.9,40.1h0.7v0.7h-0.7zM84.4,40.0h0.7v0.7h-0.7zM78.8,38.7h0.7v0.7h-0.7zM80.5,41.4h0.7v0.7h-0.7zM83.9,39.5h0.7v0.7h-0.7zM84.1,37.1h0.7v0.7h-0.7zM81.1,43.3h0.7v0.7h-0.7zM82.6,41.9h0.7v0.7h-0.7zM76.4,36.5h0.7v0.7h-0.7zM79.1,42.5h0.7v0.7h-0.7zM85.7,37.3h0.7v0.7h-0.7zM78.8,37.6h0.7v0.7h-0.7zM79.0,41.4h0.7v0.7h-0.7zM80.6,44.3h0.7v0.7h-0.7zM83.3,37.6h0.7v0.7h-0.7zM82.0,39.1h0.7v0.7h-0.7zM83.5,41.4h0.7v0.7h-0.7zM80.5,41.9h0.7v0.7h-0.7zM82.9,39.1h0.7v0.7h-0.7zM82.1,41.1h0.7v0.7h-0.7zM80.6,38.1h0.7v0.7h-0.7zM84.8,39.0h0.7v0.7h-0.7zM79.8,41.0h0.7v0.7h-0.7zM77.5,40.5h0.7v0.7h-0.7zM77.8,39.2h0.7v0.7h-0.7zM76.7,38.8h0.7v0.7h-0.7zM83.8,38.7h0.7v0.7h-0.7zM78.2,44.4h0.7v0.7h-0.7zM79.7,43.5h0.7v0.7h-0.7zM80.0,36.3h0.7v0.7h-0.7zM86.3,37.7h0.7v0.7h-0.7zM83.4,42.1h0.7v0.7h-0.7zM77.9,40.4h0.7v0.7h-0.7zM79.9,41.3h0.7v0.7h-0.7zM81.4,36.6h0.7v0.7h-0.7zM81.6,41.4h0.7v0.7h-0.7zM80.6,41.1h0.7v0.7h-0.7zM80.0,39.7h0.7v0.7h-0.7zM82.3,39.8h0.7v0.7h-0.7zM84.8,41.3h0.7v0.7h-0.7zM83.6,40.9h0.7v0.7h-0.7zM81.8,36.7h0.7v0.7h-0.7zM84.2,43.3h0.7v0.7h-0.7zM82.0,38.9h0.7v0.7h-0.7zM81.3,42.5h0.7v0.7h-0.7zM82.2,37.1h0.7v0.7h-0.7zM81.0,37.9h0.7v0.7h-0.7zM80.9,37.6h0.7v0.7h-0.7zM79.1,43.6h0.7v0.7h-0.7zM84.2,35.2h0.7v0.7h-0.7zM78.8,39.0h0.7v0.7h-0.7zM80.4,36.5h0.7v0.7h-0.7zM83.8,35.3h0.7v0.7h-0.7zM83.3,40.9h0.7v0.7h-0.7zM80.5,38.2h0.7v0.7h-0.7zM81.6,39.9h0.7v0.7h-0.7zM75.9,37.6h0.7v0.7h-0.7zM82.8,39.1h0.7v0.7h-0.7zM80.3,37.4h0.7v0.7h-0.7zM79.6,38.1h0.7v0.7h-0.7zM88.8,35.2h0.7v0.7h-0.7zM85.5,40.0h0.7v0.7h-0.7zM82.0,40.0h0.7v0.7h-0.7zM80.4,43.7h0.7v0.7h-0.7zM82.8,39.3h0.7v0.7h-0.7zM81.1,40.2h0.7v0.7h-0.7zM78.4,39.4h0.7v0.7h-0.7zM79.8,41.4h0.7v0.7h-0.7zM83.0,34.9h0.7v0.7h-0.7zM80.8,42.1h0.7v0.7h-0.7zM78.0,37.4h0.7v0.7h-0.7zM84.1,38.8h0.7v0.7h-0.7zM80.2,36.9h0.7v0.7h-0.7zM81.9,38.2h0.7v0.7h-0.7zM82.0,40.5h0.7v0.7h-0.7zM83.3,38.5h0.7v0.7h-0.7zM80.0,39.9h0.7v0.7h-0.7zM81.2,40.1h0.7v0.7h-0.7zM80.0,39.3h0.7v0.7h-0.7zM79.9,38.5h0.7v0.7h-0.7zM81.8,42.3h0.7v0.7h-0.7zM80.0,41.3h0.7v0.7h-0.7zM82.3,39.7h0.7v0.7h-0.7zM83.2,37.9h0.7v0.7h-0.7zM82.9,40.1h0.7v0.7h-0.7zM72.2,42.2h0.7v0.7h-0.7zM83.0,44.0h0.7v0.7h-0.7zM78.6,40.4h0.7v0.7h-0.7zM82.4,37.1h0.7v0.7h-0.7zM84.6,40.1h0.7v0.7h-0.7zM79.3,37.1h0.7v0.7h-0.7zM80.3,45.5h0.7v0.7h-0.7zM87.1,32.6h0.7v0.7h-0.7zM76.6,42.1h0.7v0.7h-0.7zM81.1,38.1h0.7v0.7h-0.7zM83.0,39.5h0.7v0.7h-0.7zM82.2,40.1h0.7v0.7h-0.7zM78.5,43.3h0.7v0.7h-0.7zM80.2,42.6h0.7v0.7h-0.7zM83.3,39.4h0.7v0.7h-0.7zM81.8,39.4h0.7v0.7h-0.7zM76.6,39.7h0.7v0.7h-0.7zM82.6,35.5h0.7v0.7h-0.7zM77.5,42.9h0.7v0.7h-0.7zM83.6,35.5h0.7v0.7h-0.7zM82.6,39.3h0.7v0.7h-0.7zM84.0,38.4h0.7v0.7h-0.7zM80.7,36.8h0.7v0.7h-0.7zM82.7,39.1h0.7v0.7h-0.7zM78.6,38.9h0.7v0.7h-0.7zM78.1,43.1h0.7v0.7h-0.7zM76.8,34.1h0.7v0.7h-0.7zM77.1,45.2h0.7v0.7h-0.7zM79.3,43.0h0.7v0.7h-0.7zM85.4,37.0h0.7v0.7h-0.7zM85.5,41.3h0.7v0.7h-0.7zM81.6,36.9h0.7v0.7h-0.7zM81.5,34.4h0.7v0.7h-0.7zM80.5,37.6h0.7v0.7h-0.7zM84.0,40.9h0.7v0.7h-0.7zM78.7,44.0h0.7v0.7h-0.7zM87.7,39.1h0.7v0.7h-0.7zM78.2,42.6h0.7v0.7h-0.7zM69.8,39.5h0.7v0.7h-0.7zM84.7,47.8h0.7v0.7h-0.7zM78.2,47.0h0.7v0.7h-0.7zM93.3,45.8h0.7v0.7h-0.7zM70.2,46.5h0.7v0.7h-0.7zM82.8,44.0h0.7v0.7h-0.7zM80.9,37.4h0.7v0.7h-0.7zM80.7,46.4h0.7v0.7h-0.7zM86.0,37.8h0.7v0.7h-0.7zM83.7,43.2h0.7v0.7h-0.7zM84.6,39.1h0.7v0.7h-0.7zM78.6,37.2h0.7v0.7h-0.7zM79.7,37.8h0.7v0.7h-0.7zM74.0,35.2h0.7v0.7h-0.7zM86.2,34.3h0.7v0.7h-0.7zM75.3,40.8h0.7v0.7h-0.7zM89.0,43.9h0.7v0.7h-0.7zM79.8,35.8h0.7v0.7h-0.7zM79.2,36.4h0.7v0.7h-0.7zM79.1,42.3h0.7v0.7h-0.7zM76.5,37.4h0.7v0.7h-0.7zM80.5,39.9h0.7v0.7h-0.7zM78.0,37.1h0.7v0.7h-0.7zM76.2,37.6h0.7v0.7h-0.7zM84.4,38.3h0.7v0.7h-0.7zM66.4,45.2h0.7v0.7h-0.7zM81.5,36.1h0.7v0.7h-0.7zM80.5,27.1h0.7v0.7h-0.7zM73.6,46.2h0.7v0.7h-0.7zM92.4,47.3h0.7v0.7h-0.7zM78.2,40.6h0.7v0.7h-0.7zM85.7,33.9h0.7v0.7h-0.7zM90.5,35.2h0.7v0.7h-0.7zM83.6,34.6h0.7v0.7h-0.7zM83.6,39.4h0.7v0.7h-0.7zM87.2,33.9h0.7v0.7h-0.7zM81.8,47.6h0.7v0.7h-0.7zM75.9,42.4h0.7v0.7h-0.7zM84.0,37.3h0.7v0.7h-0.7zM80.5,46.1h0.7v0.7h-0.7zM87.5,41.2h0.7v0.7h-0.7zM83.1,34.7h0.7v0.7h-0.7zM82.3,47.4h0.7v0.7h-0.7zM87.1,33.0h0.7v0.7h-0.7zM71.5,38.8h0.7v0.7h-0.7zM82.6,37.3h0.7v0.7h-0.7zM80.3,41.5h0.7v0.7h-0.7zM86.3,39.9h0.7v0.7h-0.7zM88.1,32.6h0.7v0.7h-0.7zM84.1,41.2h0.7v0.7h-0.7zM74.4,46.5h0.7v0.7h-0.7zM73.8,35.0h0.7v0.7h-0.7zM95.2,43.0h0.7v0.7h-0.7zM83.7,45.3h0.7v0.7h-0.7zM87.6,33.9h0.7v0.7h-0.7zM84.2,45.4h0.7v0.7h-0.7zM81.0,40.3h0.7v0.7h-0.7zM79.5,43.4h0.7v0.7h-0.7zM79.0,37.8h0.7v0.7h-0.7zM75.7,36.9h0.7v0.7h-0.7zM82.9,41.7h0.7v0.7h-0.7zM79.9,35.6h0.7v0.7h-0.7zM83.5,41.1h0.7v0.7h-0.7zM88.2,36.5h0.7v0.7h-0.7zM79.7,42.4h0.7v0.7h-0.7zM89.5,38.2h0.7v0.7h-0.7zM81.4,35.8h0.7v0.7h-0.7zM79.9,44.2h0.7v0.7h-0.7zM86.1,43.9h0.7v0.7h-0.7zM73.6,44.9h0.7v0.7h-0.7zM77.2,43.2h0.7v0.7h-0.7zM69.9,41.5h0.7v0.7h-0.7zM77.4,46.1h0.7v0.7h-0.7zM82.4,45.3h0.7v0.7h-0.7zM79.6,48.7h0.7v0.7h-0.7zM79.6,48.4h0.7v0.7h-0.7zM79.4,36.0h0.7v0.7h-0.7zM86.3,37.3h0.7v0.7h-0.7zM81.5,34.0h0.7v0.7h-0.7zM80.1,40.6h0.7v0.7h-0.7zM78.2,42.1h0.7v0.7h-0.7zM70.2,45.7h0.7v0.7h-0.7zM79.7,46.6h0.7v0.7h-0.7zM80.0,37.3h0.7v0.7h-0.7zM79.5,41.4h0.7v0.7h-0.7zM84.8,37.3h0.7v0.7h-0.7zM77.8,42.4h0.7v0.7h-0.7zM86.0,31.5h0.7v0.7h-0.7zM76.5,37.8h0.7v0.7h-0.7zM90.4,43.7h0.7v0.7h-0.7zM85.8,41.2h0.7v0.7h-0.7zM76.2,45.7h0.7v0.7h-0.7zM79.6,36.7h0.7v0.7h-0.7zM91.6,31.8h0.7v0.7h-0.7zM88.8,39.5h0.7v0.7h-0.7zM77.2,41.4h0.7v0.7h-0.7zM77.5,41.4h0.7v0.7h-0.7zM78.5,35.2h0.7v0.7h-0.7zM95.3,35.2h0.7v0.7h-0.7zM86.8,38.7h0.7v0.7h-0.7zM85.2,33.7h0.7v0.7h-0.7zM76.5,26.4h0.7v0.7h-0.7zM86.9,40.9h0.7v0.7h-0.7zM75.9,44.5h0.7v0.7h-0.7zM84.8,52.1h0.7v0.7h-0.7zM83.0,43.6h0.7v0.7h-0.7zM84.9,42.6h0.7v0.7h-0.7zM81.7,38.0h0.7v0.7h-0.7zM85.4,44.6h0.7v0.7h-0.7zM75.9,35.9h0.7v0.7h-0.7zM81.6,47.7h0.7v0.7h-0.7zM80.8,32.6h0.7v0.7h-0.7zM85.9,42.4h0.7v0.7h-0.7zM91.7,38.9h0.7v0.7h-0.7zM91.8,34.9h0.7v0.7h-0.7zM86.4,39.6h0.7v0.7h-0.7zM75.8,39.7h0.7v0.7h-0.7zM88.6,43.5h0.7v0.7h-0.7zM79.9,45.0h0.7v0.7h-0.7zM86.4,42.9h0.7v0.7h-0.7zM83.3,40.9h0.7v0.7h-0.7zM77.6,40.3h0.7v0.7h-0.7zM82.4,36.5h0.7v0.7h-0.7zM80.4,40.8h0.7v0.7h-0.7zM82.9,44.2h0.7v0.7h-0.7zM76.6,39.0h0.7v0.7h-0.7zM83.2,37.9h0.7v0.7h-0.7zM83.5,37.5h0.7v0.7h-0.7zM87.8,37.8h0.7v0.7h-0.7zM76.1,44.1h0.7v0.7h-0.7zM90.2,29.9h0.7v0.7h-0.7zM81.2,40.2h0.7v0.7h-0.7zM87.1,45.4h0.7v0.7h-0.7zM81.0,33.2h0.7v0.7h-0.7zM85.2,43.6h0.7v0.7h-0.7zM84.2,39.8h0.7v0.7h-0.7zM77.7,51.2h0.7v0.7h-0.7zM75.8,34.3h0.7v0.7h-0.7zM86.8,40.2h0.7v0.7h-0.7zM85.2,40.8h0.7v0.7h-0.7zM90.4,44.5h0.7v0.7h-0.7zM79.0,44.7h0.7v0.7h-0.7zM75.9,33.4h0.7v0.7h-0.7zM87.9,36.9h0.7v0.7h-0.7zM71.0,41.6h0.7v0.7h-0.7zM78.5,42.6h0.7v0.7h-0.7zM81.5,36.5h0.7v0.7h-0.7zM78.2,43.8h0.7v0.7h-0.7zM77.1,41.2h0.7v0.7h-0.7zM76.8,42.7h0.7v0.7h-0.7zM90.8,40.7h0.7v0.7h-0.7zM87.5,40.8h0.7v0.7h-0.7zM77.0,39.4h0.7v0.7h-0.7zM82.2,41.7h0.7v0.7h-0.7zM78.8,43.0h0.7v0.7h-0.7zM78.2,40.7h0.7v0.7h-0.7zM81.8,34.8h0.7v0.7h-0.7zM86.9,39.2h0.7v0.7h-0.7zM82.4,39.6h0.7v0.7h-0.7zM71.2,35.6h0.7v0.7h-0.7zM77.3,44.9h0.7v0.7h-0.7zM78.9,43.0h0.7v0.7h-0.7zM76.6,37.1h0.7v0.7h-0.7zM79.5,44.9h0.7v0.7h-0.7zM73.5,40.5h0.7v0.7h-0.7zM83.9,40.1h0.7v0.7h-0.7zM81.8,43.2h0.7v0.7h-0.7zM83.3,35.2h0.7v0.7h-0.7zM85.0,35.9h0.7v0.7h-0.7zM80.1,46.4h0.7v0.7h-0.7zM94.2,44.0h0.7v0.7h-0.7zM84.0,36.1h0.7v0.7h-0.7zM78.0,47.7h0.7v0.7h-0.7zM83.5,33.5h0.7v0.7h-0.7zM89.8,41.0h0.7v0.7h-0.7zM88.5,40.4h0.7v0.7h-0.7zM71.0,38.5h0.7v0.7h-0.7zM81.1,39.2h0.7v0.7h-0.7zM89.5,35.6h0.7v0.7h-0.7zM81.3,39.7h0.7v0.7h-0.7zM81.4,35.4h0.7v0.7h-0.7zM75.7,29.7h0.7v0.7h-0.7zM83.5,38.6h0.7v0.7h-0.7zM82.9,35.1h0.7v0.7h-0.7zM81.8,35.6h0.7v0.7h-0.7zM76.7,42.2h0.7v0.7h-0.7zM85.0,41.8h0.7v0.7h-0.7zM81.6,38.2h0.7v0.7h-0.7zM88.9,44.0h0.7v0.7h-0.7zM78.6,35.7h0.7v0.7h-0.7zM83.7,40.9h0.7v0.7h-0.7zM77.2,50.5h0.7v0.7h-0.7zM71.3,38.0h0.7v0.7h-0.7zM83.1,43.9h0.7v0.7h-0.7zM72.5,39.6h0.7v0.7h-0.7zM89.1,44.7h0.7v0.7h-0.7zM80.6,40.2h0.7v0.7h-0.7zM77.4,42.3h0.7v0.7h-0.7zM76.5,31.9h0.7v0.7h-0.7zM74.2,41.4h0.7v0.7h-0.7zM75.2,45.8h0.7v0.7h-0.7zM88.3,43.0h0.7v0.7h-0.7zM85.1,44.2h0.7v0.7h-0.7zM83.2,43.4h0.7v0.7h-0.7zM84.2,42.8h0.7v0.7h-0.7zM76.7,37.9h0.7v0.7h-0.7zM76.8,44.3h0.7v0.7h-0.7zM84.4,35.9h0.7v0.7h-0.7zM76.9,38.2h0.7v0.7h-0.7zM86.2,38.6h0.7v0.7h-0.7zM80.6,37.0h0.7v0.7h-0.7zM81.2,46.9h0.7v0.7h-0.7zM78.4,38.9h0.7v0.7h-0.7zM90.4,41.4h0.7v0.7h-0.7zM76.1,45.6h0.7v0.7h-0.7zM75.5,43.4h0.7v0.7h-0.7zM69.1,37.7h0.7v0.7h-0.7zM86.5,36.4h0.7v0.7h-0.7zM78.2,40.7h0.7v0.7h-0.7zM81.8,37.8h0.7v0.7h-0.7zM78.4,48.2h0.7v0.7h-0.7zM89.4,39.9h0.7v0.7h-0.7zM76.0,38.5h0.7v0.7h-0.7zM80.4,42.2h0.7v0.7h-0.7zM89.9,36.1h0.7v0.7h-0.7zM82.6,37.8h0.7v0.7h-0.7zM82.5,36.7h0.7v0.7h-0.7zM83.7,44.5h0.7v0.7h-0.7zM79.8,38.8h0.7v0.7h-0.7zM82.4,34.0h0.7v0.7h-0.7zM91.0,32.4h0.7v0.7h-0.7zM80.0,36.3h0.7v0.7h-0.7zM89.4,36.4h0.7v0.7h-0.7zM79.3,48.5h0.7v0.7h-0.7zM81.2,36.6h0.7v0.7h-0.7zM81.8,40.7h0.7v0.7h-0.7zM78.1,39.7h0.7v0.7h-0.7zM80.8,43.2h0.7v0.7h-0.7zM85.7,42.8h0.7v0.7h-0.7zM81.2,43.4h0.7v0.7h-0.7zM80.8,45.0h0.7v0.7h-0.7zM83.9,37.6h0.7v0.7h-0.7zM88.0,32.2h0.7v0.7h-0.7zM77.0,37.2h0.7v0.7h-0.7zM81.2,34.6h0.7v0.7h-0.7zM75.8,32.7h0.7v0.7h-0.7zM82.4,36.4h0.7v0.7h-0.7zM92.9,41.2h0.7v0.7h-0.7zM76.1,46.6h0.7v0.7h-0.7zM82.4,44.4h0.7v0.7h-0.7zM76.2,45.8h0.7v0.7h-0.7zM87.4,37.0h0.7v0.7h-0.7zM77.6,38.9h0.7v0.7h-0.7zM83.2,50.0h0.7v0.7h-0.7zM90.9,44.7h0.7v0.7h-0.7zM80.7,38.6h0.7v0.7h-0.7zM83.7,38.3h0.7v0.7h-0.7zM79.5,39.3h0.7v0.7h-0.7zM86.1,38.8h0.7v0.7h-0.7zM83.0,38.5h0.7v0.7h-0.7zM80.9,38.6h0.7v0.7h-0.7zM88.2,39.7h0.7v0.7h-0.7zM89.4,37.8h0.7v0.7h-0.7zM87.2,32.9h0.7v0.7h-0.7zM79.8,39.9h0.7v0.7h-0.7zM78.7,39.9h0.7v0.7h-0.7zM77.2,39.9h0.7v0.7h-0.7zM78.5,40.4h0.7v0.7h-0.7zM80.4,35.8h0.7v0.7h-0.7zM79.8,40.3h0.7v0.7h-0.7zM75.4,41.4h0.7v0.7h-0.7zM88.1,37.7h0.7v0.7h-0.7zM84.6,42.0h0.7v0.7h-0.7zM77.8,46.3h0.7v0.7h-0.7zM94.5,33.2h0.7v0.7h-0.7zM92.6,34.9h0.7v0.7h-0.7zM89.2,30.7h0.7v0.7h-0.7zM87.6,39.4h0.7v0.7h-0.7zM75.4,37.4h0.7v0.7h-0.7zM76.6,36.9h0.7v0.7h-0.7zM83.7,38.7h0.7v0.7h-0.7zM69.2,40.7h0.7v0.7h-0.7zM84.2,39.8h0.7v0.7h-0.7zM90.3,30.4h0.7v0.7h-0.7zM83.1,39.7h0.7v0.7h-0.7zM85.5,33.4h0.7v0.7h-0.7zM75.3,40.2h0.7v0.7h-0.7zM82.2,31.9h0.7v0.7h-0.7zM83.7,39.5h0.7v0.7h-0.7zM85.5,27.9h0.7v0.7h-0.7zM84.4,35.5h0.7v0.7h-0.7zM79.4,43.6h0.7v0.7h-0.7zM90.3,39.0h0.7v0.7h-0.7zM81.3,45.6h0.7v0.7h-0.7zM77.3,39.9h0.7v0.7h-0.7zM79.3,36.0h0.7v0.7h-0.7zM82.8,48.5h0.7v0.7h-0.7zM83.1,41.8h0.7v0.7h-0.7zM81.7,44.7h0.7v0.7h-0.7zM82.7,35.8h0.7v0.7h-0.7zM82.3,46.0h0.7v0.7h-0.7zM81.4,45.1h0.7v0.7h-0.7zM81.5,48.7h0.7v0.7h-0.7zM83.3,42.4h0.7v0.7h-0.7zM80.4,43.7h0.7v0.7h-0.7zM80.7,33.6h0.7v0.7h-0.7zM83.4,34.3h0.7v0.7h-0.7zM89.3,42.0h0.7v0.7h-0.7zM81.9,42.8h0.7v0.7h-0.7zM68.8,48.8h0.7v0.7h-0.7zM78.6,43.3h0.7v0.7h-0.7zM94.7,30.5h0.7v0.7h-0.7zM79.8,41.7h0.7v0.7h-0.7zM84.0,32.1h0.7v0.7h-0.7zM77.2,47.1h0.7v0.7h-0.7zM78.8,42.8h0.7v0.7h-0.7zM74.9,37.1h0.7v0.7h-0.7zM72.7,42.6h0.7v0.7h-0.7zM87.7,39.2h0.7v0.7h-0.7zM80.5,41.1h0.7v0.7h-0.7zM84.2,38.2h0.7v0.7h-0.7zM84.6,47.8h0.7v0.7h-0.7zM93.0,35.4h0.7v0.7h-0.7zM75.5,49.3h0.7v0.7h-0.7zM86.8,44.2h0.7v0.7h-0.7zM84.9,38.3h0.7v0.7h-0.7zM86.8,43.8h0.7v0.7h-0.7zM87.8,34.1h0.7v0.7h-0.7zM87.0,37.4h0.7v0.7h-0.7zM80.0,41.7h0.7v0.7h-0.7zM80.1,50.2h0.7v0.7h-0.7zM84.7,40.5h0.7v0.7h-0.7zM80.9,41.1h0.7v0.7h-0.7zM80.7,42.6h0.7v0.7h-0.7zM86.2,42.7h0.7v0.7h-0.7zM75.5,39.5h0.7v0.7h-0.7zM82.3,34.5h0.7v0.7h-0.7zM83.7,38.9h0.7v0.7h-0.7zM82.1,41.4h0.7v0.7h-0.7zM78.7,47.1h0.7v0.7h-0.7zM87.1,36.5h0.7v0.7h-0.7zM84.2,42.6h0.7v0.7h-0.7zM78.0,39.0h0.7v0.7h-0.7zM85.4,28.0h0.7v0.7h-0.7zM75.2,42.4h0.7v0.7h-0.7zM85.0,35.3h0.7v0.7h-0.7zM86.2,48.7h0.7v0.7h-0.7zM82.9,39.5h0.7v0.7h-0.7zM82.2,35.4h0.7v0.7h-0.7zM84.6,40.1h0.7v0.7h-0.7zM85.6,45.4h0.7v0.7h-0.7zM82.0,40.6h0.7v0.7h-0.7zM83.5,47.1h0.7v0.7h-0.7zM74.5,41.1h0.7v0.7h-0.7zM78.7,40.9h0.7v0.7h-0.7zM86.0,39.4h0.7v0.7h-0.7zM85.6,40.0h0.7v0.7h-0.7zM78.3,37.6h0.7v0.7h-0.7zM74.9,42.0h0.7v0.7h-0.7zM79.9,43.8h0.7v0.7h-0.7zM86.7,35.1h0.7v0.7h-0.7zM76.4,43.4h0.7v0.7h-0.7zM77.4,41.5h0.7v0.7h-0.7zM84.9,37.6h0.7v0.7h-0.7zM90.8,34.9h0.7v0.7h-0.7zM84.0,37.7h0.7v0.7h-0.7zM67.4,41.6h0.7v0.7h-0.7zM81.1,42.5h0.7v0.7h-0.7zM81.2,36.8h0.7v0.7h-0.7zM79.3,39.0h0.7v0.7h-0.7zM85.7,38.0h0.7v0.7h-0.7zM88.1,42.5h0.7v0.7h-0.7zM78.1,45.0h0.7v0.7h-0.7zM70.5,42.0h0.7v0.7h-0.7zM76.9,40.3h0.7v0.7h-0.7zM87.7,38.8h0.7v0.7h-0.7zM81.0,45.5h0.7v0.7h-0.7zM78.0,36.9h0.7v0.7h-0.7zM86.8,41.6h0.7v0.7h-0.7zM74.7,41.8h0.7v0.7h-0.7zM85.8,38.4h0.7v0.7h-0.7zM79.8,40.8h0.7v0.7h-0.7zM82.9,36.6h0.7v0.7h-0.7zM86.1,32.3h0.7v0.7h-0.7zM81.5,49.2h0.7v0.7h-0.7zM76.5,40.6h0.7v0.7h-0.7zM70.4,38.3h0.7v0.7h-0.7zM76.1,41.1h0.7v0.7h-0.7zM79.4,48.2h0.7v0.7h-0.7zM77.2,40.5h0.7v0.7h-0.7zM82.9,42.4h0.7v0.7h-0.7zM86.3,32.3h0.7v0.7h-0.7zM92.9,36.6h0.7v0.7h-0.7zM78.3,33.4h0.7v0.7h-0.7zM79.6,32.6h0.7v0.7h-0.7zM82.8,37.1h0.7v0.7h-0.7zM83.5,36.1h0.7v0.7h-0.7zM82.2,49.4h0.7v0.7h-0.7zM87.7,39.5h0.7v0.7h-0.7zM76.9,47.0h0.7v0.7h-0.7zM73.3,35.2h0.7v0.7h-0.7zM88.4,36.1h0.7v0.7h-0.7zM88.6,41.1h0.7v0.7h-0.7zM92.8,45.6h0.7v0.7h-0.7zM84.8,36.6h0.7v0.7h-0.7zM84.8,45.4h0.7v0.7h-0.7zM82.5,27.2h0.7v0.7h-0.7zM79.9,38.6h0.7v0.7h-0.7zM81.5,38.4h0.7v0.7h-0.7zM87.6,33.3h0.7v0.7h-0.7zM84.0,30.9h0.7v0.7h-0.7zM70.9,37.4h0.7v0.7h-0.7zM78.1,36.6h0.7v0.7h-0.7zM78.3,43.1h0.7v0.7h-0.7zM84.7,39.7h0.7v0.7h-0.7zM82.8,36.6h0.7v0.7h-0.7zM76.9,34.5h0.7v0.7h-0.7zM79.7,35.3h0.7v0.7h-0.7zM80.2,43.2h0.7v0.7h-0.7zM84.6,45.1h0.7v0.7h-0.7zM77.1,31.1h0.7v0.7h-0.7zM76.3,49.4h0.7v0.7h-0.7zM85.3,37.3h0.7v0.7h-0.7zM88.4,36.9h0.7v0.7h-0.7zM90.2,36.6h0.7v0.7h-0.7zM79.8,43.2h0.7v0.7h-0.7zM76.1,40.1h0.7v0.7h-0.7zM91.5,40.0h0.7v0.7h-0.7zM76.3,39.7h0.7v0.7h-0.7zM81.7,36.6h0.7v0.7h-0.7zM83.9,44.8h0.7v0.7h-0.7zM82.0,43.6h0.7v0.7h-0.7zM83.3,40.1h0.7v0.7h-0.7zM78.0,44.6h0.7v0.7h-0.7zM88.6,36.7h0.7v0.7h-0.7zM77.4,42.8h0.7v0.7h-0.7zM82.3,44.6h0.7v0.7h-0.7zM84.3,38.8h0.7v0.7h-0.7zM74.9,43.7h0.7v0.7h-0.7zM82.3,34.2h0.7v0.7h-0.7zM74.3,33.2h0.7v0.7h-0.7zM84.9,37.4h0.7v0.7h-0.7zM65.2,38.9h0.7v0.7h-0.7zM78.6,39.9h0.7v0.7h-0.7zM82.0,38.3h0.7v0.7h-0.7zM85.5,43.6h0.7v0.7h-0.7zM80.7,46.8h0.7v0.7h-0.7zM81.2,36.2h0.7v0.7h-0.7zM82.6,33.5h0.7v0.7h-0.7zM80.3,35.5h0.7v0.7h-0.7zM79.6,41.0h0.7v0.7h-0.7zM69.5,43.6h0.7v0.7h-0.7zM83.1,38.6h0.7v0.7h-0.7zM85.4,40.6h0.7v0.7h-0.7zM80.0,35.8h0.7v0.7h-0.7zM85.5,42.4h0.7v0.7h-0.7zM74.4,37.9h0.7v0.7h-0.7zM75.9,44.4h0.7v0.7h-0.7zM78.9,34.9h0.7v0.7h-0.7zM89.3,40.4h0.7v0.7h-0.7zM83.0,40.6h0.7v0.7h-0.7zM80.9,40.1h0.7v0.7h-0.7zM86.3,40.9h0.7v0.7h-0.7zM79.5,40.6h0.7v0.7h-0.7zM91.2,35.7h0.7v0.7h-0.7zM75.2,41.4h0.7v0.7h-0.7zM76.1,52.1h0.7v0.7h-0.7zM84.9,41.8h0.7v0.7h-0.7zM83.6,48.0h0.7v0.7h-0.7zM76.7,40.5h0.7v0.7h-0.7zM73.4,46.6h0.7v0.7h-0.7zM81.4,47.5h0.7v0.7h-0.7zM80.4,35.5h0.7v0.7h-0.7zM78.2,43.9h0.7v0.7h-0.7zM77.6,41.6h0.7v0.7h-0.7zM78.1,37.3h0.7v0.7h-0.7zM79.0,47.3h0.7v0.7h-0.7zM76.4,42.1h0.7v0.7h-0.7zM85.8,35.8h0.7v0.7h-0.7zM74.2,47.6h0.7v0.7h-0.7zM90.5,37.2h0.7v0.7h-0.7zM75.7,44.6h0.7v0.7h-0.7zM81.6,36.2h0.7v0.7h-0.7zM79.8,29.7h0.7v0.7h-0.7zM77.7,35.2h0.7v0.7h-0.7zM75.1,43.5h0.7v0.7h-0.7zM83.1,46.9h0.7v0.7h-0.7zM68.2,39.3h0.7v0.7h-0.7zM77.5,46.3h0.7v0.7h-0.7zM87.0,39.4h0.7v0.7h-0.7zM82.2,36.4h0.7v0.7h-0.7zM79.1,38.3h0.7v0.7h-0.7zM69.0,50.2h0.7v0.7h-0.7zM85.4,48.2h0.7v0.7h-0.7zM88.0,40.8h0.7v0.7h-0.7zM85.9,31.7h0.7v0.7h-0.7zM76.6,44.3h0.7v0.7h-0.7zM79.8,33.1h0.7v0.7h-0.7zM81.7,34.2h0.7v0.7h-0.7zM81.7,46.6h0.7v0.7h-0.7zM76.0,38.8h0.7v0.7h-0.7zM84.5,39.1h0.7v0.7h-0.7zM82.6,35.9h0.7v0.7h-0.7zM80.0,29.7h0.7v0.7h-0.7zM80.5,47.8h0.7v0.7h-0.7zM73.4,39.8h0.7v0.7h-0.7zM87.2,46.6h0.7v0.7h-0.7zM90.7,33.5h0.7v0.7h-0.7zM78.7,50.8h0.7v0.7h-0.7zM78.3,42.0h0.7v0.7h-0.7zM75.4,36.7h0.7v0.7h-0.7zM59.3,39.3h0.7v0.7h-0.7zM65.2,35.8h0.7v0.7h-0.7zM74.4,48.9h0.7v0.7h-0.7zM87.6,41.6h0.7v0.7h-0.7zM77.9,32.0h0.7v0.7h-0.7zM85.5,34.5h0.7v0.7h-0.7zM81.0,45.7h0.7v0.7h-0.7zM80.4,39.9h0.7v0.7h-0.7zM74.3,47.1h0.7v0.7h-0.7zM85.9,43.7h0.7v0.7h-0.7zM94.2,28.6h0.7v0.7h-0.7zM82.0,43.7h0.7v0.7h-0.7zM84.3,41.4h0.7v0.7h-0.7zM85.4,30.2h0.7v0.7h-0.7zM81.2,46.9h0.7v0.7h-0.7zM81.4,38.7h0.7v0.7h-0.7zM88.2,28.6h0.7v0.7h-0.7zM84.8,48.6h0.7v0.7h-0.7zM79.9,35.1h0.7v0.7h-0.7zM85.8,36.7h0.7v0.7h-0.7zM75.6,41.6h0.7v0.7h-0.7zM69.2,45.4h0.7v0.7h-0.7zM72.7,37.7h0.7v0.7h-0.7zM87.3,39.0h0.7v0.7h-0.7zM83.8,47.9h0.7v0.7h-0.7zM93.4,51.0h0.7v0.7h-0.7zM77.6,45.9h0.7v0.7h-0.7zM69.2,46.2h0.7v0.7h-0.7zM91.7,34.3h0.7v0.7h-0.7zM85.3,44.5h0.7v0.7h-0.7zM80.6,36.2h0.7v0.7h-0.7zM93.3,30.6h0.7v0.7h-0.7zM83.1,45.5h0.7v0.7h-0.7zM83.6,49.2h0.7v0.7h-0.7zM93.1,41.3h0.7v0.7h-0.7zM95.3,42.8h0.7v0.7h-0.7zM72.4,39.0h0.7v0.7h-0.7zM83.9,40.8h0.7v0.7h-0.7zM68.9,55.2h0.7v0.7h-0.7zM69.9,34.5h0.7v0.7h-0.7zM85.2,40.7h0.7v0.7h-0.7zM93.5,39.8h0.7v0.7h-0.7zM84.7,43.9h0.7v0.7h-0.7zM76.2,32.8h0.7v0.7h-0.7zM78.3,46.4h0.7v0.7h-0.7zM79.7,47.7h0.7v0.7h-0.7zM77.6,44.9h0.7v0.7h-0.7zM82.0,44.9h0.7v0.7h-0.7zM81.9,41.1h0.7v0.7h-0.7zM78.3,47.8h0.7v0.7h-0.7zM81.6,42.9h0.7v0.7h-0.7zM86.8,33.9h0.7v0.7h-0.7zM75.5,40.4h0.7v0.7h-0.7zM91.5,32.4h0.7v0.7h-0.7zM74.1,34.9h0.7v0.7h-0.7zM78.9,33.8h0.7v0.7h-0.7zM75.6,43.8h0.7v0.7h-0.7zM73.6,40.8h0.7v0.7h-0.7zM72.9,39.8h0.7v0.7h-0.7zM85.8,27.4h0.7v0.7h-0.7zM82.3,41.2h0.7v0.7h-0.7zM81.4,41.5h0.7v0.7h-0.7zM85.0,31.7h0.7v0.7h-0.7zM80.9,43.9h0.7v0.7h-0.7zM91.7,30.5h0.7v0.7h-0.7zM77.3,32.2h0.7v0.7h-0.7zM81.7,33.5h0.7v0.7h-0.7zM74.4,45.4h0.7v0.7h-0.7zM98.9,25.5h0.7v0.7h-0.7zM94.4,32.9h0.7v0.7h-0.7zM87.0,41.4h0.7v0.7h-0.7zM91.2,37.5h0.7v0.7h-0.7zM75.6,40.3h0.7v0.7h-0.7zM87.9,33.8h0.7v0.7h-0.7zM85.0,39.5h0.7v0.7h-0.7zM83.2,39.8h0.7v0.7h-0.7zM86.4,44.2h0.7v0.7h-0.7zM79.7,38.1h0.7v0.7h-0.7zM65.6,36.6h0.7v0.7h-0.7zM70.3,45.4h0.7v0.7h-0.7zM73.7,36.7h0.7v0.7h-0.7zM85.9,45.4h0.7v0.7h-0.7zM91.1,33.7h0.7v0.7h-0.7zM83.7,46.1h0.7v0.7h-0.7zM75.5,39.3h0.7v0.7h-0.7zM72.6,37.2h0.7v0.7h-0.7zM87.3,39.8h0.7v0.7h-0.7zM79.1,36.9h0.7v0.7h-0.7zM93.4,43.1h0.7v0.7h-0.7zM72.5,54.0h0.7v0.7h-0.7zM78.8,39.4h0.7v0.7h-0.7zM78.2,37.0h0.7v0.7h-0.7zM86.7,30.7h0.7v0.7h-0.7zM82.1,38.0h0.7v0.7h-0.7zM95.1,40.7h0.7v0.7h-0.7zM85.2,42.7h0.7v0.7h-0.7zM86.4,40.1h0.7v0.7h-0.7zM63.4,44.7h0.7v0.7h-0.7zM79.5,44.4h0.7v0.7h-0.7zM84.3,36.4h0.7v0.7h-0.7zM75.2,34.7h0.7v0.7h-0.7zM84.1,39.1h0.7v0.7h-0.7zM75.2,38.6h0.7v0.7h-0.7zM84.6,35.6h0.7v0.7h-0.7zM81.0,36.4h0.7v0.7h-0.7zM62.3,42.8h0.7v0.7h-0.7zM82.4,44.7h0.7v0.7h-0.7zM91.8,34.4h0.7v0.7h-0.7zM86.4,41.0h0.7v0.7h-0.7zM82.5,44.8h0.7v0.7h-0.7zM88.5,31.6h0.7v0.7h-0.7zM93.1,37.6h0.7v0.7h-0.7zM76.9,36.4h0.7v0.7h-0.7zM80.2,33.4h0.7v0.7h-0.7zM90.1,41.5h0.7v0.7h-0.7zM75.1,45.7h0.7v0.7h-0.7zM83.7,40.2h0.7v0.7h-0.7zM89.2,38.5h0.7v0.7h-0.7zM80.0,43.2h0.7v0.7h-0.7zM68.1,34.4h0.7v0.7h-0.7zM85.7,45.9h0.7v0.7h-0.7zM69.2,41.6h0.7v0.7h-0.7zM76.9,38.9h0.7v0.7h-0.7zM86.5,48.3h0.7v0.7h-0.7zM95.2,44.0h0.7v0.7h-0.7zM86.8,40.2h0.7v0.7h-0.7zM67.8,44.0h0.7v0.7h-0.7zM72.9,34.4h0.7v0.7h-0.7zM82.8,30.4h0.7v0.7h-0.7zM95.3,41.9h0.7v0.7h-0.7zM84.7,42.5h0.7v0.7h-0.7zM83.8,40.1h0.7v0.7h-0.7zM87.3,35.3h0.7v0.7h-0.7zM84.0,40.7h0.7v0.7h-0.7zM87.8,32.7h0.7v0.7h-0.7zM83.8,39.0h0.7v0.7h-0.7zM86.7,42.6h0.7v0.7h-0.7zM83.3,42.5h0.7v0.7h-0.7zM85.3,47.7h0.7v0.7h-0.7zM84.2,42.9h0.7v0.7h-0.7zM74.9,39.6h0.7v0.7h-0.7zM87.7,45.5h0.7v0.7h-0.7zM74.6,40.6h0.7v0.7h-0.7zM79.9,40.5h0.7v0.7h-0.7zM78.3,37.9h0.7v0.7h-0.7zM81.5,40.8h0.7v0.7h-0.7zM89.6,34.0h0.7v0.7h-0.7zM74.7,45.5h0.7v0.7h-0.7zM85.7,38.4h0.7v0.7h-0.7zM73.2,47.3h0.7v0.7h-0.7zM73.8,47.7h0.7v0.7h-0.7zM83.8,38.8h0.7v0.7h-0.7zM80.7,45.0h0.7v0.7h-0.7z" fill="#0a0a0a"/>
<line x1="70.5" y1="16.5" x2="70.5" y2="77.5" stroke="#6a6a6a" stroke-width="0.8"/>
<line x1="48.5" y1="53.5" x2="105.5" y2="53.5" stroke="#6a6a6a" stroke-width="0.8"/>
<text x="59" y="45" font-size="3.4" text-anchor="middle" fill="#777">Q1</text>
<text x="59" y="68.8" font-size="3.4" text-anchor="middle" fill="#777">Q3</text>
<text x="81" y="68.8" font-size="3.4" text-anchor="middle" fill="#777">Q4</text>
<text x="49.9" y="23.1" font-size="6.7" font-weight="700" text-anchor="start" fill="#000" stroke="#000" stroke-width="0.35">5</text>
<text x="103.9" y="23.1" font-size="6.7" font-weight="700" text-anchor="end" fill="#000" stroke="#000" stroke-width="0.35">86</text>
<text x="49.9" y="60.4" font-size="6.7" font-weight="700" text-anchor="start" fill="#000" stroke="#000" stroke-width="0.35">1</text>
<text x="103.9" y="60.4" font-size="6.7" font-weight="700" text-anchor="end" fill="#000" stroke="#000" stroke-width="0.35">8</text>
<rect x="115.50" y="16.50" width="59.00" height="61.00" fill="#fff" stroke="#4a4a4a" stroke-width="0.85"/>
<line x1="112.9" y1="22.5" x2="115.5" y2="22.5" stroke="#222" stroke-width="0.7"/>
<text x="113.1" y="24.1" font-size="3.7" font-weight="700" text-anchor="end" fill="#222">10<tspan font-size="2.6" dy="-1.7">5</tspan></text>
<line x1="114.2" y1="33.124344065907486" x2="115.5" y2="33.124344065907486" stroke="#222" stroke-width="0.6"/>
<line x1="114.2" y1="30.447756928261132" x2="115.5" y2="30.447756928261132" stroke="#222" stroke-width="0.6"/>
<line x1="114.2" y1="28.54868813181497" x2="115.5" y2="28.54868813181497" stroke="#222" stroke-width="0.6"/>
<line x1="114.2" y1="27.075655934092513" x2="115.5" y2="27.075655934092513" stroke="#222" stroke-width="0.6"/>
<line x1="114.2" y1="25.872100994168616" x2="115.5" y2="25.872100994168616" stroke="#222" stroke-width="0.6"/>
<line x1="114.2" y1="24.854509791783297" x2="115.5" y2="24.854509791783297" stroke="#222" stroke-width="0.6"/>
<line x1="114.2" y1="23.973032197722457" x2="115.5" y2="23.973032197722457" stroke="#222" stroke-width="0.6"/>
<line x1="114.2" y1="23.19551385652226" x2="115.5" y2="23.19551385652226" stroke="#222" stroke-width="0.6"/>
<line x1="112.9" y1="37.8" x2="115.5" y2="37.8" stroke="#222" stroke-width="0.7"/>
<text x="113.1" y="39.4" font-size="3.7" font-weight="700" text-anchor="end" fill="#222">10<tspan font-size="2.6" dy="-1.7">4</tspan></text>
<line x1="114.2" y1="48.42434406590748" x2="115.5" y2="48.42434406590748" stroke="#222" stroke-width="0.6"/>
<line x1="114.2" y1="45.747756928261126" x2="115.5" y2="45.747756928261126" stroke="#222" stroke-width="0.6"/>
<line x1="114.2" y1="43.84868813181497" x2="115.5" y2="43.84868813181497" stroke="#222" stroke-width="0.6"/>
<line x1="114.2" y1="42.37565593409251" x2="115.5" y2="42.37565593409251" stroke="#222" stroke-width="0.6"/>
<line x1="114.2" y1="41.172100994168616" x2="115.5" y2="41.172100994168616" stroke="#222" stroke-width="0.6"/>
<line x1="114.2" y1="40.15450979178329" x2="115.5" y2="40.15450979178329" stroke="#222" stroke-width="0.6"/>
<line x1="114.2" y1="39.27303219772246" x2="115.5" y2="39.27303219772246" stroke="#222" stroke-width="0.6"/>
<line x1="114.2" y1="38.49551385652226" x2="115.5" y2="38.49551385652226" stroke="#222" stroke-width="0.6"/>
<line x1="112.9" y1="52.6" x2="115.5" y2="52.6" stroke="#222" stroke-width="0.7"/>
<text x="113.1" y="54.2" font-size="3.7" font-weight="700" text-anchor="end" fill="#222">10<tspan font-size="2.6" dy="-1.7">3</tspan></text>
<line x1="114.2" y1="63.22434406590749" x2="115.5" y2="63.22434406590749" stroke="#222" stroke-width="0.6"/>
<line x1="114.2" y1="60.54775692826113" x2="115.5" y2="60.54775692826113" stroke="#222" stroke-width="0.6"/>
<line x1="114.2" y1="58.64868813181497" x2="115.5" y2="58.64868813181497" stroke="#222" stroke-width="0.6"/>
<line x1="114.2" y1="57.17565593409252" x2="115.5" y2="57.17565593409252" stroke="#222" stroke-width="0.6"/>
<line x1="114.2" y1="55.97210099416862" x2="115.5" y2="55.97210099416862" stroke="#222" stroke-width="0.6"/>
<line x1="114.2" y1="54.954509791783295" x2="115.5" y2="54.954509791783295" stroke="#222" stroke-width="0.6"/>
<line x1="114.2" y1="54.07303219772246" x2="115.5" y2="54.07303219772246" stroke="#222" stroke-width="0.6"/>
<line x1="114.2" y1="53.29551385652226" x2="115.5" y2="53.29551385652226" stroke="#222" stroke-width="0.6"/>
<line x1="112.9" y1="68.8" x2="115.5" y2="68.8" stroke="#222" stroke-width="0.7"/>
<text x="113.1" y="70.4" font-size="3.7" font-weight="700" text-anchor="end" fill="#222">10<tspan font-size="2.6" dy="-1.7">2</tspan></text>
<line x1="114.2" y1="76.74775692826113" x2="115.5" y2="76.74775692826113" stroke="#222" stroke-width="0.6"/>
<line x1="114.2" y1="74.84868813181497" x2="115.5" y2="74.84868813181497" stroke="#222" stroke-width="0.6"/>
<line x1="114.2" y1="73.3756559340925" x2="115.5" y2="73.3756559340925" stroke="#222" stroke-width="0.6"/>
<line x1="114.2" y1="72.17210099416862" x2="115.5" y2="72.17210099416862" stroke="#222" stroke-width="0.6"/>
<line x1="114.2" y1="71.1545097917833" x2="115.5" y2="71.1545097917833" stroke="#222" stroke-width="0.6"/>
<line x1="114.2" y1="70.27303219772246" x2="115.5" y2="70.27303219772246" stroke="#222" stroke-width="0.6"/>
<line x1="114.2" y1="69.49551385652227" x2="115.5" y2="69.49551385652227" stroke="#222" stroke-width="0.6"/>
<line x1="114.2" y1="17.924344065907487" x2="115.5" y2="17.924344065907487" stroke="#222" stroke-width="0.6"/>
<line x1="123.8" y1="77.5" x2="123.8" y2="80.1" stroke="#222" stroke-width="0.7"/>
<text x="123.8" y="85.7" font-size="3.7" font-weight="700" text-anchor="middle" fill="#222">10<tspan font-size="2.6" dy="-1.7">2</tspan></text>
<line x1="116.27054606796314" y1="77.5" x2="116.27054606796314" y2="78.8" stroke="#222" stroke-width="0.6"/>
<line x1="118.06966387512266" y1="77.5" x2="118.06966387512266" y2="78.8" stroke="#222" stroke-width="0.6"/>
<line x1="119.46516806243866" y1="77.5" x2="119.46516806243866" y2="78.8" stroke="#222" stroke-width="0.6"/>
<line x1="120.60537800552447" y1="77.5" x2="120.60537800552447" y2="78.8" stroke="#222" stroke-width="0.6"/>
<line x1="121.5694117762053" y1="77.5" x2="121.5694117762053" y2="78.8" stroke="#222" stroke-width="0.6"/>
<line x1="122.40449581268399" y1="77.5" x2="122.40449581268399" y2="78.8" stroke="#222" stroke-width="0.6"/>
<line x1="123.14109213592627" y1="77.5" x2="123.14109213592627" y2="78.8" stroke="#222" stroke-width="0.6"/>
<line x1="138.6" y1="77.5" x2="138.6" y2="80.1" stroke="#222" stroke-width="0.7"/>
<text x="138.6" y="85.7" font-size="3.7" font-weight="700" text-anchor="middle" fill="#222">10<tspan font-size="2.6" dy="-1.7">3</tspan></text>
<line x1="128.53483193756134" y1="77.5" x2="128.53483193756134" y2="78.8" stroke="#222" stroke-width="0.6"/>
<line x1="131.07054606796314" y1="77.5" x2="131.07054606796314" y2="78.8" stroke="#222" stroke-width="0.6"/>
<line x1="132.86966387512265" y1="77.5" x2="132.86966387512265" y2="78.8" stroke="#222" stroke-width="0.6"/>
<line x1="134.26516806243868" y1="77.5" x2="134.26516806243868" y2="78.8" stroke="#222" stroke-width="0.6"/>
<line x1="135.40537800552445" y1="77.5" x2="135.40537800552445" y2="78.8" stroke="#222" stroke-width="0.6"/>
<line x1="136.36941177620528" y1="77.5" x2="136.36941177620528" y2="78.8" stroke="#222" stroke-width="0.6"/>
<line x1="137.20449581268397" y1="77.5" x2="137.20449581268397" y2="78.8" stroke="#222" stroke-width="0.6"/>
<line x1="137.94109213592628" y1="77.5" x2="137.94109213592628" y2="78.8" stroke="#222" stroke-width="0.6"/>
<line x1="153" y1="77.5" x2="153" y2="80.1" stroke="#222" stroke-width="0.7"/>
<text x="153.0" y="85.7" font-size="3.7" font-weight="700" text-anchor="middle" fill="#222">10<tspan font-size="2.6" dy="-1.7">4</tspan></text>
<line x1="142.93483193756134" y1="77.5" x2="142.93483193756134" y2="78.8" stroke="#222" stroke-width="0.6"/>
<line x1="145.47054606796314" y1="77.5" x2="145.47054606796314" y2="78.8" stroke="#222" stroke-width="0.6"/>
<line x1="147.26966387512266" y1="77.5" x2="147.26966387512266" y2="78.8" stroke="#222" stroke-width="0.6"/>
<line x1="148.66516806243868" y1="77.5" x2="148.66516806243868" y2="78.8" stroke="#222" stroke-width="0.6"/>
<line x1="149.80537800552446" y1="77.5" x2="149.80537800552446" y2="78.8" stroke="#222" stroke-width="0.6"/>
<line x1="150.7694117762053" y1="77.5" x2="150.7694117762053" y2="78.8" stroke="#222" stroke-width="0.6"/>
<line x1="151.60449581268398" y1="77.5" x2="151.60449581268398" y2="78.8" stroke="#222" stroke-width="0.6"/>
<line x1="152.3410921359263" y1="77.5" x2="152.3410921359263" y2="78.8" stroke="#222" stroke-width="0.6"/>
<line x1="167.3" y1="77.5" x2="167.3" y2="80.1" stroke="#222" stroke-width="0.7"/>
<text x="167.3" y="85.7" font-size="3.7" font-weight="700" text-anchor="middle" fill="#222">10<tspan font-size="2.6" dy="-1.7">5</tspan></text>
<line x1="157.23483193756135" y1="77.5" x2="157.23483193756135" y2="78.8" stroke="#222" stroke-width="0.6"/>
<line x1="159.77054606796315" y1="77.5" x2="159.77054606796315" y2="78.8" stroke="#222" stroke-width="0.6"/>
<line x1="161.56966387512267" y1="77.5" x2="161.56966387512267" y2="78.8" stroke="#222" stroke-width="0.6"/>
<line x1="162.9651680624387" y1="77.5" x2="162.9651680624387" y2="78.8" stroke="#222" stroke-width="0.6"/>
<line x1="164.10537800552447" y1="77.5" x2="164.10537800552447" y2="78.8" stroke="#222" stroke-width="0.6"/>
<line x1="165.0694117762053" y1="77.5" x2="165.0694117762053" y2="78.8" stroke="#222" stroke-width="0.6"/>
<line x1="165.904495812684" y1="77.5" x2="165.904495812684" y2="78.8" stroke="#222" stroke-width="0.6"/>
<line x1="166.6410921359263" y1="77.5" x2="166.6410921359263" y2="78.8" stroke="#222" stroke-width="0.6"/>
<line x1="171.63483193756133" y1="77.5" x2="171.63483193756133" y2="78.8" stroke="#222" stroke-width="0.6"/>
<line x1="174.17054606796316" y1="77.5" x2="174.17054606796316" y2="78.8" stroke="#222" stroke-width="0.6"/>
<path d="M152.0,23.0h0.6v0.6h-0.6zM147.4,17.5h0.6v0.6h-0.6zM154.6,47.0h0.6v0.6h-0.6zM158.7,29.1h0.6v0.6h-0.6zM165.8,59.3h0.6v0.6h-0.6zM151.2,20.5h0.6v0.6h-0.6zM146.3,44.5h0.6v0.6h-0.6zM165.4,38.9h0.6v0.6h-0.6zM139.9,24.6h0.6v0.6h-0.6zM164.4,43.1h0.6v0.6h-0.6zM156.1,46.6h0.6v0.6h-0.6zM148.8,34.9h0.6v0.6h-0.6zM152.4,35.2h0.6v0.6h-0.6zM148.4,31.5h0.6v0.6h-0.6zM148.1,46.9h0.6v0.6h-0.6zM154.5,47.8h0.6v0.6h-0.6zM163.9,23.2h0.6v0.6h-0.6zM151.5,46.0h0.6v0.6h-0.6zM150.5,32.2h0.6v0.6h-0.6zM154.5,34.4h0.6v0.6h-0.6zM146.5,33.0h0.6v0.6h-0.6zM152.3,38.1h0.6v0.6h-0.6zM157.8,40.5h0.6v0.6h-0.6zM148.8,62.8h0.6v0.6h-0.6zM150.5,35.0h0.6v0.6h-0.6zM151.0,31.5h0.6v0.6h-0.6zM141.7,35.3h0.6v0.6h-0.6zM161.4,26.2h0.6v0.6h-0.6zM147.0,39.5h0.6v0.6h-0.6zM147.5,40.6h0.6v0.6h-0.6zM151.6,28.3h0.6v0.6h-0.6zM150.5,32.9h0.6v0.6h-0.6zM155.5,17.5h0.6v0.6h-0.6zM154.6,50.5h0.6v0.6h-0.6zM152.9,40.3h0.6v0.6h-0.6zM148.5,39.3h0.6v0.6h-0.6zM151.0,26.5h0.6v0.6h-0.6zM154.8,40.5h0.6v0.6h-0.6zM159.0,43.0h0.6v0.6h-0.6zM156.4,28.2h0.6v0.6h-0.6zM139.8,27.9h0.6v0.6h-0.6zM149.8,40.1h0.6v0.6h-0.6zM151.1,36.1h0.6v0.6h-0.6zM152.2,40.2h0.6v0.6h-0.6zM153.2,41.2h0.6v0.6h-0.6zM148.7,35.7h0.6v0.6h-0.6zM142.4,24.3h0.6v0.6h-0.6zM150.2,40.8h0.6v0.6h-0.6zM147.0,23.7h0.6v0.6h-0.6zM158.2,33.3h0.6v0.6h-0.6zM140.7,24.9h0.6v0.6h-0.6zM149.4,51.3h0.6v0.6h-0.6zM147.1,28.8h0.6v0.6h-0.6zM159.4,41.7h0.6v0.6h-0.6zM151.3,49.3h0.6v0.6h-0.6zM144.2,34.2h0.6v0.6h-0.6zM155.2,41.0h0.6v0.6h-0.6zM144.3,26.7h0.6v0.6h-0.6zM163.5,41.9h0.6v0.6h-0.6zM150.2,46.4h0.6v0.6h-0.6zM140.3,32.6h0.6v0.6h-0.6zM140.5,45.1h0.6v0.6h-0.6zM145.5,36.2h0.6v0.6h-0.6zM145.9,36.5h0.6v0.6h-0.6zM154.0,38.8h0.6v0.6h-0.6zM149.9,39.2h0.6v0.6h-0.6zM150.4,32.9h0.6v0.6h-0.6zM156.0,46.9h0.6v0.6h-0.6zM143.2,25.6h0.6v0.6h-0.6zM146.9,38.3h0.6v0.6h-0.6zM142.8,47.5h0.6v0.6h-0.6zM152.2,39.4h0.6v0.6h-0.6zM157.6,33.9h0.6v0.6h-0.6zM154.4,42.4h0.6v0.6h-0.6zM160.3,32.4h0.6v0.6h-0.6zM161.0,46.8h0.6v0.6h-0.6zM153.6,47.8h0.6v0.6h-0.6zM150.3,35.6h0.6v0.6h-0.6zM157.4,37.2h0.6v0.6h-0.6zM159.0,52.7h0.6v0.6h-0.6zM153.4,40.1h0.6v0.6h-0.6zM147.8,28.3h0.6v0.6h-0.6zM161.3,33.0h0.6v0.6h-0.6zM152.5,40.7h0.6v0.6h-0.6zM146.2,29.7h0.6v0.6h-0.6zM147.4,54.3h0.6v0.6h-0.6zM154.4,50.9h0.6v0.6h-0.6zM165.2,52.2h0.6v0.6h-0.6zM160.6,37.8h0.6v0.6h-0.6zM147.5,48.6h0.6v0.6h-0.6zM161.5,33.2h0.6v0.6h-0.6zM159.4,43.7h0.6v0.6h-0.6zM157.2,48.5h0.6v0.6h-0.6zM164.4,37.8h0.6v0.6h-0.6zM152.1,48.9h0.6v0.6h-0.6zM150.4,42.1h0.6v0.6h-0.6zM151.6,23.3h0.6v0.6h-0.6zM148.5,44.2h0.6v0.6h-0.6zM148.5,23.5h0.6v0.6h-0.6zM148.8,37.7h0.6v0.6h-0.6zM155.3,42.3h0.6v0.6h-0.6zM155.5,30.5h0.6v0.6h-0.6zM148.2,30.0h0.6v0.6h-0.6zM149.3,40.8h0.6v0.6h-0.6zM160.8,39.8h0.6v0.6h-0.6zM159.0,50.6h0.6v0.6h-0.6zM144.7,28.1h0.6v0.6h-0.6zM153.1,26.8h0.6v0.6h-0.6zM164.3,27.2h0.6v0.6h-0.6zM144.2,41.6h0.6v0.6h-0.6zM147.3,42.3h0.6v0.6h-0.6zM145.7,44.6h0.6v0.6h-0.6zM148.4,42.9h0.6v0.6h-0.6zM158.7,28.1h0.6v0.6h-0.6zM146.4,20.9h0.6v0.6h-0.6zM145.0,43.2h0.6v0.6h-0.6zM152.0,45.5h0.6v0.6h-0.6zM161.4,51.0h0.6v0.6h-0.6zM156.9,36.6h0.6v0.6h-0.6zM149.7,40.0h0.6v0.6h-0.6zM157.8,50.0h0.6v0.6h-0.6zM154.1,36.6h0.6v0.6h-0.6zM151.7,52.3h0.6v0.6h-0.6zM154.0,56.2h0.6v0.6h-0.6zM147.6,43.9h0.6v0.6h-0.6zM153.6,45.5h0.6v0.6h-0.6zM147.3,39.2h0.6v0.6h-0.6zM151.8,35.8h0.6v0.6h-0.6zM144.5,23.0h0.6v0.6h-0.6zM150.0,42.2h0.6v0.6h-0.6zM153.9,41.1h0.6v0.6h-0.6zM154.3,27.7h0.6v0.6h-0.6zM159.1,41.8h0.6v0.6h-0.6zM147.4,31.7h0.6v0.6h-0.6zM158.6,42.7h0.6v0.6h-0.6zM141.5,51.9h0.6v0.6h-0.6zM142.6,49.1h0.6v0.6h-0.6zM157.7,32.1h0.6v0.6h-0.6zM160.3,52.5h0.6v0.6h-0.6zM159.0,46.8h0.6v0.6h-0.6zM154.3,41.1h0.6v0.6h-0.6zM148.8,39.3h0.6v0.6h-0.6zM160.5,41.0h0.6v0.6h-0.6zM165.0,30.5h0.6v0.6h-0.6zM152.5,25.8h0.6v0.6h-0.6zM140.9,35.9h0.6v0.6h-0.6zM150.2,32.8h0.6v0.6h-0.6zM145.4,33.6h0.6v0.6h-0.6zM141.8,32.4h0.6v0.6h-0.6zM148.8,26.3h0.6v0.6h-0.6zM154.9,23.7h0.6v0.6h-0.6zM155.0,41.9h0.6v0.6h-0.6zM155.7,41.0h0.6v0.6h-0.6zM157.4,38.4h0.6v0.6h-0.6zM145.3,38.8h0.6v0.6h-0.6zM147.2,33.3h0.6v0.6h-0.6zM153.0,30.9h0.6v0.6h-0.6zM158.6,28.0h0.6v0.6h-0.6zM160.2,41.5h0.6v0.6h-0.6zM163.2,52.5h0.6v0.6h-0.6zM156.6,42.8h0.6v0.6h-0.6zM153.0,27.0h0.6v0.6h-0.6zM148.7,28.9h0.6v0.6h-0.6zM147.7,35.4h0.6v0.6h-0.6zM147.1,37.5h0.6v0.6h-0.6zM150.6,33.8h0.6v0.6h-0.6zM154.8,43.5h0.6v0.6h-0.6zM143.6,32.2h0.6v0.6h-0.6zM171.2,46.4h0.6v0.6h-0.6zM155.2,32.1h0.6v0.6h-0.6zM158.6,54.2h0.6v0.6h-0.6zM156.0,38.9h0.6v0.6h-0.6zM152.5,22.4h0.6v0.6h-0.6zM156.1,37.4h0.6v0.6h-0.6zM154.8,42.7h0.6v0.6h-0.6zM153.6,57.0h0.6v0.6h-0.6zM158.2,35.4h0.6v0.6h-0.6zM156.2,45.5h0.6v0.6h-0.6zM152.5,50.6h0.6v0.6h-0.6zM149.9,22.5h0.6v0.6h-0.6zM145.4,38.9h0.6v0.6h-0.6zM145.9,37.1h0.6v0.6h-0.6zM142.5,37.7h0.6v0.6h-0.6zM150.6,30.0h0.6v0.6h-0.6zM148.7,34.7h0.6v0.6h-0.6zM158.2,42.9h0.6v0.6h-0.6zM150.9,39.3h0.6v0.6h-0.6zM158.0,44.8h0.6v0.6h-0.6zM163.6,37.0h0.6v0.6h-0.6zM157.6,41.7h0.6v0.6h-0.6zM148.2,41.9h0.6v0.6h-0.6zM157.7,49.1h0.6v0.6h-0.6zM155.4,32.3h0.6v0.6h-0.6zM153.4,42.2h0.6v0.6h-0.6zM163.0,44.0h0.6v0.6h-0.6zM153.3,52.2h0.6v0.6h-0.6zM152.7,34.8h0.6v0.6h-0.6zM154.1,45.8h0.6v0.6h-0.6zM153.3,24.6h0.6v0.6h-0.6zM149.7,45.9h0.6v0.6h-0.6zM147.5,43.8h0.6v0.6h-0.6zM153.4,32.1h0.6v0.6h-0.6zM157.4,22.3h0.6v0.6h-0.6zM138.8,19.6h0.6v0.6h-0.6zM155.7,37.5h0.6v0.6h-0.6zM156.3,39.5h0.6v0.6h-0.6zM153.1,34.4h0.6v0.6h-0.6zM149.7,45.8h0.6v0.6h-0.6zM157.2,29.2h0.6v0.6h-0.6zM156.0,57.2h0.6v0.6h-0.6zM157.1,32.5h0.6v0.6h-0.6zM157.1,42.3h0.6v0.6h-0.6zM150.2,45.9h0.6v0.6h-0.6zM160.2,37.3h0.6v0.6h-0.6zM153.1,35.4h0.6v0.6h-0.6zM152.3,52.0h0.6v0.6h-0.6zM149.5,42.2h0.6v0.6h-0.6zM153.9,39.9h0.6v0.6h-0.6zM145.0,40.8h0.6v0.6h-0.6zM145.2,41.7h0.6v0.6h-0.6zM151.7,39.4h0.6v0.6h-0.6zM149.3,30.0h0.6v0.6h-0.6zM145.7,35.8h0.6v0.6h-0.6zM151.7,40.7h0.6v0.6h-0.6zM150.4,44.3h0.6v0.6h-0.6zM153.2,39.9h0.6v0.6h-0.6zM150.7,37.7h0.6v0.6h-0.6zM156.5,34.3h0.6v0.6h-0.6zM144.6,38.5h0.6v0.6h-0.6zM155.0,39.8h0.6v0.6h-0.6zM153.8,28.1h0.6v0.6h-0.6zM146.0,35.9h0.6v0.6h-0.6zM152.1,27.9h0.6v0.6h-0.6zM155.2,23.6h0.6v0.6h-0.6zM160.2,32.9h0.6v0.6h-0.6zM148.7,28.1h0.6v0.6h-0.6zM143.6,32.2h0.6v0.6h-0.6zM140.1,30.6h0.6v0.6h-0.6zM153.3,36.4h0.6v0.6h-0.6zM152.1,26.2h0.6v0.6h-0.6zM140.4,22.3h0.6v0.6h-0.6zM159.0,43.9h0.6v0.6h-0.6zM140.8,48.1h0.6v0.6h-0.6zM156.3,49.3h0.6v0.6h-0.6zM158.7,52.1h0.6v0.6h-0.6zM141.4,34.6h0.6v0.6h-0.6zM147.3,52.7h0.6v0.6h-0.6zM156.6,40.2h0.6v0.6h-0.6zM150.6,19.9h0.6v0.6h-0.6zM152.9,31.6h0.6v0.6h-0.6zM160.9,48.3h0.6v0.6h-0.6zM151.7,34.9h0.6v0.6h-0.6zM159.3,36.8h0.6v0.6h-0.6zM159.3,43.1h0.6v0.6h-0.6zM150.4,40.8h0.6v0.6h-0.6zM163.4,29.5h0.6v0.6h-0.6zM157.0,46.6h0.6v0.6h-0.6zM150.6,50.1h0.6v0.6h-0.6zM156.5,44.8h0.6v0.6h-0.6zM145.8,40.6h0.6v0.6h-0.6zM144.0,39.2h0.6v0.6h-0.6zM166.0,36.5h0.6v0.6h-0.6zM162.2,33.4h0.6v0.6h-0.6zM152.7,44.6h0.6v0.6h-0.6zM143.0,37.3h0.6v0.6h-0.6zM147.3,31.1h0.6v0.6h-0.6zM157.6,39.9h0.6v0.6h-0.6zM154.8,39.6h0.6v0.6h-0.6zM154.7,52.6h0.6v0.6h-0.6zM153.0,36.3h0.6v0.6h-0.6zM152.4,44.5h0.6v0.6h-0.6zM155.2,21.5h0.6v0.6h-0.6zM151.7,41.9h0.6v0.6h-0.6zM169.0,40.3h0.6v0.6h-0.6zM150.5,27.9h0.6v0.6h-0.6zM151.8,23.2h0.6v0.6h-0.6zM146.8,35.5h0.6v0.6h-0.6zM142.5,32.1h0.6v0.6h-0.6zM147.8,47.2h0.6v0.6h-0.6zM162.4,60.5h0.6v0.6h-0.6zM153.1,44.4h0.6v0.6h-0.6zM167.4,39.2h0.6v0.6h-0.6zM163.1,35.2h0.6v0.6h-0.6zM159.0,27.9h0.6v0.6h-0.6zM149.7,35.7h0.6v0.6h-0.6zM150.6,21.2h0.6v0.6h-0.6zM153.0,36.2h0.6v0.6h-0.6zM161.8,47.3h0.6v0.6h-0.6zM138.3,33.7h0.6v0.6h-0.6zM159.1,40.4h0.6v0.6h-0.6zM147.7,24.9h0.6v0.6h-0.6zM149.8,29.4h0.6v0.6h-0.6zM150.4,34.9h0.6v0.6h-0.6zM160.4,33.4h0.6v0.6h-0.6zM154.3,29.9h0.6v0.6h-0.6zM154.0,47.9h0.6v0.6h-0.6zM148.5,26.8h0.6v0.6h-0.6zM158.5,61.4h0.6v0.6h-0.6zM153.8,63.5h0.6v0.6h-0.6zM158.7,65.6h0.6v0.6h-0.6zM148.7,65.2h0.6v0.6h-0.6zM167.0,56.8h0.6v0.6h-0.6zM172.0,64.0h0.6v0.6h-0.6zM149.2,53.6h0.6v0.6h-0.6zM153.1,56.6h0.6v0.6h-0.6zM156.6,63.0h0.6v0.6h-0.6zM156.8,59.0h0.6v0.6h-0.6zM151.5,47.5h0.6v0.6h-0.6zM153.3,52.9h0.6v0.6h-0.6zM164.3,46.3h0.6v0.6h-0.6zM166.1,43.6h0.6v0.6h-0.6zM156.8,61.2h0.6v0.6h-0.6zM150.5,54.2h0.6v0.6h-0.6zM164.3,54.8h0.6v0.6h-0.6zM157.6,61.4h0.6v0.6h-0.6zM162.8,53.5h0.6v0.6h-0.6zM167.4,61.1h0.6v0.6h-0.6zM165.2,52.8h0.6v0.6h-0.6zM165.8,61.3h0.6v0.6h-0.6zM163.6,57.6h0.6v0.6h-0.6zM164.2,62.0h0.6v0.6h-0.6zM153.6,63.8h0.6v0.6h-0.6zM156.8,58.2h0.6v0.6h-0.6zM155.6,66.9h0.6v0.6h-0.6zM164.7,67.8h0.6v0.6h-0.6zM146.8,65.4h0.6v0.6h-0.6zM147.7,75.1h0.6v0.6h-0.6zM160.9,68.8h0.6v0.6h-0.6zM158.2,62.1h0.6v0.6h-0.6zM153.3,73.6h0.6v0.6h-0.6zM155.9,68.0h0.6v0.6h-0.6zM152.6,59.7h0.6v0.6h-0.6zM155.5,60.2h0.6v0.6h-0.6zM154.7,65.0h0.6v0.6h-0.6zM162.8,51.3h0.6v0.6h-0.6zM155.1,52.5h0.6v0.6h-0.6zM165.7,53.8h0.6v0.6h-0.6zM161.5,62.5h0.6v0.6h-0.6zM157.8,48.6h0.6v0.6h-0.6zM170.1,61.4h0.6v0.6h-0.6zM163.0,68.5h0.6v0.6h-0.6zM151.2,54.2h0.6v0.6h-0.6zM170.2,74.8h0.6v0.6h-0.6zM152.5,60.2h0.6v0.6h-0.6zM164.9,60.9h0.6v0.6h-0.6zM167.4,66.0h0.6v0.6h-0.6zM157.7,65.5h0.6v0.6h-0.6zM154.9,69.1h0.6v0.6h-0.6zM153.6,69.2h0.6v0.6h-0.6zM170.1,52.8h0.6v0.6h-0.6zM157.7,73.0h0.6v0.6h-0.6zM165.8,66.3h0.6v0.6h-0.6zM160.8,62.6h0.6v0.6h-0.6zM161.5,60.3h0.6v0.6h-0.6zM156.2,53.1h0.6v0.6h-0.6zM170.4,62.2h0.6v0.6h-0.6zM171.6,67.3h0.6v0.6h-0.6zM161.4,54.4h0.6v0.6h-0.6zM156.4,61.4h0.6v0.6h-0.6zM157.4,59.2h0.6v0.6h-0.6zM142.3,57.1h0.6v0.6h-0.6zM156.5,58.0h0.6v0.6h-0.6zM156.0,50.9h0.6v0.6h-0.6zM152.3,70.2h0.6v0.6h-0.6zM151.6,57.2h0.6v0.6h-0.6zM152.5,59.6h0.6v0.6h-0.6zM154.6,73.9h0.6v0.6h-0.6zM151.0,69.4h0.6v0.6h-0.6zM155.0,63.8h0.6v0.6h-0.6zM158.2,42.7h0.6v0.6h-0.6zM155.9,59.6h0.6v0.6h-0.6zM159.2,62.9h0.6v0.6h-0.6zM150.6,54.5h0.6v0.6h-0.6zM163.6,60.0h0.6v0.6h-0.6zM158.5,65.6h0.6v0.6h-0.6zM159.0,62.3h0.6v0.6h-0.6zM150.7,60.6h0.6v0.6h-0.6zM146.4,71.6h0.6v0.6h-0.6zM152.9,71.7h0.6v0.6h-0.6zM154.8,60.1h0.6v0.6h-0.6zM167.4,63.5h0.6v0.6h-0.6zM159.6,59.7h0.6v0.6h-0.6zM156.5,56.4h0.6v0.6h-0.6zM152.9,49.2h0.6v0.6h-0.6zM157.3,56.1h0.6v0.6h-0.6zM168.2,76.0h0.6v0.6h-0.6zM171.7,54.9h0.6v0.6h-0.6zM155.8,60.3h0.6v0.6h-0.6zM147.6,70.5h0.6v0.6h-0.6zM163.3,63.7h0.6v0.6h-0.6zM171.9,65.8h0.6v0.6h-0.6zM156.2,63.0h0.6v0.6h-0.6zM155.1,64.2h0.6v0.6h-0.6zM149.2,63.8h0.6v0.6h-0.6zM156.3,58.4h0.6v0.6h-0.6zM155.7,60.3h0.6v0.6h-0.6zM146.1,64.1h0.6v0.6h-0.6zM157.0,72.9h0.6v0.6h-0.6zM158.3,67.5h0.6v0.6h-0.6zM158.2,60.5h0.6v0.6h-0.6zM149.8,57.6h0.6v0.6h-0.6zM154.3,45.3h0.6v0.6h-0.6zM156.3,56.5h0.6v0.6h-0.6zM160.5,68.3h0.6v0.6h-0.6zM156.3,68.9h0.6v0.6h-0.6zM167.1,67.2h0.6v0.6h-0.6zM156.1,61.9h0.6v0.6h-0.6zM169.9,72.5h0.6v0.6h-0.6zM166.4,50.9h0.6v0.6h-0.6zM142.5,71.5h0.6v0.6h-0.6zM163.4,70.6h0.6v0.6h-0.6zM162.5,59.8h0.6v0.6h-0.6zM161.6,61.4h0.6v0.6h-0.6zM168.9,67.9h0.6v0.6h-0.6zM151.7,55.9h0.6v0.6h-0.6zM165.6,67.8h0.6v0.6h-0.6zM160.4,63.9h0.6v0.6h-0.6zM149.6,55.1h0.6v0.6h-0.6zM162.1,49.9h0.6v0.6h-0.6zM161.9,65.5h0.6v0.6h-0.6zM163.0,67.4h0.6v0.6h-0.6zM171.9,64.6h0.6v0.6h-0.6zM152.7,49.8h0.6v0.6h-0.6zM142.6,60.6h0.6v0.6h-0.6zM164.7,51.2h0.6v0.6h-0.6zM159.7,56.9h0.6v0.6h-0.6zM156.7,62.7h0.6v0.6h-0.6zM158.7,53.8h0.6v0.6h-0.6zM163.8,61.1h0.6v0.6h-0.6zM145.2,65.3h0.6v0.6h-0.6zM169.5,60.0h0.6v0.6h-0.6zM169.7,52.2h0.6v0.6h-0.6zM156.7,69.8h0.6v0.6h-0.6zM167.7,65.7h0.6v0.6h-0.6zM165.9,59.5h0.6v0.6h-0.6zM163.5,68.2h0.6v0.6h-0.6zM165.1,64.5h0.6v0.6h-0.6zM164.4,64.8h0.6v0.6h-0.6zM162.7,51.8h0.6v0.6h-0.6zM162.7,55.7h0.6v0.6h-0.6zM155.8,61.6h0.6v0.6h-0.6zM160.2,53.1h0.6v0.6h-0.6zM154.7,62.7h0.6v0.6h-0.6zM155.6,61.4h0.6v0.6h-0.6zM160.1,63.0h0.6v0.6h-0.6zM154.6,62.3h0.6v0.6h-0.6zM162.5,53.6h0.6v0.6h-0.6zM164.0,55.5h0.6v0.6h-0.6zM161.0,65.7h0.6v0.6h-0.6zM163.0,54.2h0.6v0.6h-0.6zM152.0,53.2h0.6v0.6h-0.6zM162.5,62.7h0.6v0.6h-0.6zM145.7,65.1h0.6v0.6h-0.6zM166.8,58.8h0.6v0.6h-0.6zM157.9,63.0h0.6v0.6h-0.6zM151.3,58.0h0.6v0.6h-0.6zM162.3,59.5h0.6v0.6h-0.6zM158.4,62.1h0.6v0.6h-0.6zM170.5,64.3h0.6v0.6h-0.6zM160.8,58.6h0.6v0.6h-0.6zM167.1,62.7h0.6v0.6h-0.6zM158.2,69.9h0.6v0.6h-0.6zM167.9,56.3h0.6v0.6h-0.6zM156.2,69.5h0.6v0.6h-0.6zM155.1,71.3h0.6v0.6h-0.6zM157.3,74.0h0.6v0.6h-0.6zM151.6,48.1h0.6v0.6h-0.6zM148.2,73.3h0.6v0.6h-0.6zM153.3,58.1h0.6v0.6h-0.6zM154.4,56.2h0.6v0.6h-0.6zM159.5,62.3h0.6v0.6h-0.6zM154.0,57.5h0.6v0.6h-0.6zM167.8,68.5h0.6v0.6h-0.6zM165.4,70.1h0.6v0.6h-0.6zM157.0,67.0h0.6v0.6h-0.6zM170.0,57.1h0.6v0.6h-0.6zM167.9,46.3h0.6v0.6h-0.6zM145.0,50.6h0.6v0.6h-0.6zM151.4,54.4h0.6v0.6h-0.6zM154.9,66.4h0.6v0.6h-0.6zM153.2,58.5h0.6v0.6h-0.6zM149.2,50.1h0.6v0.6h-0.6zM157.1,56.4h0.6v0.6h-0.6zM164.6,62.7h0.6v0.6h-0.6zM145.6,64.9h0.6v0.6h-0.6zM149.9,58.0h0.6v0.6h-0.6zM151.0,55.3h0.6v0.6h-0.6zM154.1,53.2h0.6v0.6h-0.6zM153.1,59.0h0.6v0.6h-0.6zM163.4,66.4h0.6v0.6h-0.6zM170.8,52.0h0.6v0.6h-0.6zM155.5,68.9h0.6v0.6h-0.6zM150.3,59.5h0.6v0.6h-0.6zM163.4,71.8h0.6v0.6h-0.6zM162.3,63.8h0.6v0.6h-0.6zM157.2,65.2h0.6v0.6h-0.6zM159.0,63.6h0.6v0.6h-0.6zM153.7,60.0h0.6v0.6h-0.6zM152.1,53.6h0.6v0.6h-0.6zM152.3,55.3h0.6v0.6h-0.6zM153.5,57.1h0.6v0.6h-0.6zM147.6,62.3h0.6v0.6h-0.6zM160.5,71.5h0.6v0.6h-0.6zM141.7,50.5h0.6v0.6h-0.6zM151.4,54.9h0.6v0.6h-0.6zM158.7,55.8h0.6v0.6h-0.6zM152.8,65.5h0.6v0.6h-0.6zM156.9,50.6h0.6v0.6h-0.6zM166.1,60.9h0.6v0.6h-0.6zM167.8,61.7h0.6v0.6h-0.6zM155.8,62.6h0.6v0.6h-0.6zM167.3,62.8h0.6v0.6h-0.6zM156.1,52.1h0.6v0.6h-0.6zM159.5,54.4h0.6v0.6h-0.6zM157.5,52.2h0.6v0.6h-0.6zM152.1,54.4h0.6v0.6h-0.6zM153.5,53.4h0.6v0.6h-0.6zM166.8,67.0h0.6v0.6h-0.6zM155.9,54.3h0.6v0.6h-0.6zM165.9,60.3h0.6v0.6h-0.6zM162.2,68.1h0.6v0.6h-0.6zM155.4,63.8h0.6v0.6h-0.6zM161.3,58.7h0.6v0.6h-0.6zM157.0,57.1h0.6v0.6h-0.6zM134.4,56.5h0.6v0.6h-0.6zM169.8,68.9h0.6v0.6h-0.6zM164.4,57.8h0.6v0.6h-0.6zM153.0,55.1h0.6v0.6h-0.6zM161.4,66.5h0.6v0.6h-0.6zM144.8,64.5h0.6v0.6h-0.6zM164.6,66.9h0.6v0.6h-0.6zM149.3,61.7h0.6v0.6h-0.6zM160.5,52.8h0.6v0.6h-0.6zM150.3,74.7h0.6v0.6h-0.6zM153.5,57.6h0.6v0.6h-0.6zM144.6,55.9h0.6v0.6h-0.6zM167.7,64.6h0.6v0.6h-0.6zM152.2,60.9h0.6v0.6h-0.6zM160.7,65.2h0.6v0.6h-0.6zM151.2,63.0h0.6v0.6h-0.6zM153.5,57.5h0.6v0.6h-0.6zM152.2,55.4h0.6v0.6h-0.6zM161.6,50.1h0.6v0.6h-0.6zM151.9,58.8h0.6v0.6h-0.6zM157.7,71.2h0.6v0.6h-0.6zM148.2,63.9h0.6v0.6h-0.6zM157.5,73.8h0.6v0.6h-0.6zM156.7,73.9h0.6v0.6h-0.6zM151.4,62.9h0.6v0.6h-0.6zM150.5,56.6h0.6v0.6h-0.6zM149.4,57.7h0.6v0.6h-0.6zM140.3,40.4h0.6v0.6h-0.6zM143.9,59.7h0.6v0.6h-0.6zM135.3,45.3h0.6v0.6h-0.6zM135.3,38.4h0.6v0.6h-0.6zM136.4,46.0h0.6v0.6h-0.6zM126.3,45.5h0.6v0.6h-0.6zM136.4,45.7h0.6v0.6h-0.6zM135.3,45.2h0.6v0.6h-0.6zM132.2,54.6h0.6v0.6h-0.6zM139.7,42.5h0.6v0.6h-0.6zM137.3,35.5h0.6v0.6h-0.6zM139.1,37.8h0.6v0.6h-0.6zM134.2,53.7h0.6v0.6h-0.6zM132.1,45.6h0.6v0.6h-0.6zM138.1,40.3h0.6v0.6h-0.6zM135.4,55.0h0.6v0.6h-0.6zM135.1,38.2h0.6v0.6h-0.6zM132.5,42.9h0.6v0.6h-0.6zM134.1,50.8h0.6v0.6h-0.6zM127.9,44.5h0.6v0.6h-0.6zM134.9,58.6h0.6v0.6h-0.6zM128.3,37.3h0.6v0.6h-0.6zM137.6,44.8h0.6v0.6h-0.6zM138.4,44.8h0.6v0.6h-0.6zM131.5,44.7h0.6v0.6h-0.6zM139.0,51.6h0.6v0.6h-0.6zM134.8,46.4h0.6v0.6h-0.6zM138.3,50.7h0.6v0.6h-0.6zM135.0,51.6h0.6v0.6h-0.6zM134.5,35.3h0.6v0.6h-0.6zM137.6,55.8h0.6v0.6h-0.6zM139.6,44.6h0.6v0.6h-0.6zM129.3,48.8h0.6v0.6h-0.6zM131.8,28.6h0.6v0.6h-0.6zM134.7,38.4h0.6v0.6h-0.6zM134.4,40.9h0.6v0.6h-0.6zM137.3,52.7h0.6v0.6h-0.6zM136.1,55.6h0.6v0.6h-0.6zM132.0,66.1h0.6v0.6h-0.6zM127.3,51.7h0.6v0.6h-0.6zM137.1,63.1h0.6v0.6h-0.6zM133.5,59.2h0.6v0.6h-0.6zM131.3,66.5h0.6v0.6h-0.6zM128.1,55.5h0.6v0.6h-0.6zM131.7,61.0h0.6v0.6h-0.6zM129.3,64.3h0.6v0.6h-0.6zM127.7,70.4h0.6v0.6h-0.6zM137.6,65.2h0.6v0.6h-0.6zM130.8,64.8h0.6v0.6h-0.6zM132.7,61.2h0.6v0.6h-0.6zM130.5,67.2h0.6v0.6h-0.6zM129.5,62.0h0.6v0.6h-0.6zM131.3,60.2h0.6v0.6h-0.6zM134.1,58.8h0.6v0.6h-0.6zM136.7,68.6h0.6v0.6h-0.6zM132.9,69.2h0.6v0.6h-0.6zM137.3,63.2h0.6v0.6h-0.6zM132.8,62.1h0.6v0.6h-0.6zM131.6,63.2h0.6v0.6h-0.6zM133.4,67.6h0.6v0.6h-0.6zM141.6,66.7h0.6v0.6h-0.6zM136.7,63.9h0.6v0.6h-0.6zM139.5,65.6h0.6v0.6h-0.6zM132.4,63.7h0.6v0.6h-0.6zM133.2,63.1h0.6v0.6h-0.6zM122.1,63.4h0.55v0.55h-0.55zM133.9,32.3h0.55v0.55h-0.55zM128.2,64.6h0.55v0.55h-0.55zM130.3,48.9h0.55v0.55h-0.55zM121.1,22.9h0.55v0.55h-0.55zM121.1,48.9h0.55v0.55h-0.55zM130.1,45.2h0.55v0.55h-0.55zM131.0,51.1h0.55v0.55h-0.55zM131.2,42.4h0.55v0.55h-0.55zM135.5,49.3h0.55v0.55h-0.55zM136.4,75.2h0.55v0.55h-0.55zM135.2,63.0h0.55v0.55h-0.55zM132.2,50.5h0.55v0.55h-0.55zM122.4,24.8h0.55v0.55h-0.55zM131.5,33.1h0.55v0.55h-0.55zM130.5,50.3h0.55v0.55h-0.55zM130.4,43.5h0.55v0.55h-0.55zM122.3,36.3h0.55v0.55h-0.55zM163.3,69.5h0.55v0.55h-0.55zM151.2,36.9h0.55v0.55h-0.55zM155.3,43.5h0.55v0.55h-0.55zM161.2,62.1h0.55v0.55h-0.55zM165.6,65.1h0.55v0.55h-0.55zM164.2,74.4h0.55v0.55h-0.55zM155.4,44.5h0.55v0.55h-0.55zM161.8,36.9h0.55v0.55h-0.55zM167.5,42.8h0.55v0.55h-0.55zM158.8,48.6h0.55v0.55h-0.55zM152.7,19.6h0.55v0.55h-0.55zM149.9,46.1h0.55v0.55h-0.55zM171.4,26.8h0.55v0.55h-0.55zM169.9,74.4h0.55v0.55h-0.55zM166.3,34.9h0.55v0.55h-0.55zM141.6,69.2h0.55v0.55h-0.55zM143.2,36.0h0.55v0.55h-0.55zM171.0,57.4h0.55v0.55h-0.55zM167.4,66.5h0.55v0.55h-0.55zM146.7,47.8h0.55v0.55h-0.55zM144.0,40.6h0.55v0.55h-0.55zM156.9,65.6h0.55v0.55h-0.55zM150.3,57.0h0.55v0.55h-0.55zM145.5,33.6h0.55v0.55h-0.55zM142.9,52.1h0.55v0.55h-0.55zM159.8,59.6h0.55v0.55h-0.55zM154.4,72.4h0.55v0.55h-0.55zM164.1,51.4h0.55v0.55h-0.55zM169.0,29.2h0.55v0.55h-0.55zM150.3,50.4h0.55v0.55h-0.55zM160.2,73.5h0.55v0.55h-0.55zM162.7,21.7h0.55v0.55h-0.55zM171.2,45.6h0.55v0.55h-0.55zM147.6,62.4h0.55v0.55h-0.55zM161.1,67.7h0.55v0.55h-0.55zM158.6,33.6h0.55v0.55h-0.55zM156.1,45.6h0.55v0.55h-0.55zM152.3,52.1h0.55v0.55h-0.55zM145.8,33.4h0.55v0.55h-0.55zM144.8,20.5h0.55v0.55h-0.55z" fill="#8a8a8a"/>
<path d="M144.2,31.7h0.7v0.7h-0.7zM143.6,40.7h0.7v0.7h-0.7zM146.1,28.6h0.7v0.7h-0.7zM148.8,48.5h0.7v0.7h-0.7zM146.2,44.1h0.7v0.7h-0.7zM151.2,51.9h0.7v0.7h-0.7zM149.8,32.5h0.7v0.7h-0.7zM150.5,32.8h0.7v0.7h-0.7zM147.8,39.1h0.7v0.7h-0.7zM148.8,40.6h0.7v0.7h-0.7zM153.0,42.9h0.7v0.7h-0.7zM156.9,45.5h0.7v0.7h-0.7zM146.9,42.4h0.7v0.7h-0.7zM140.8,39.1h0.7v0.7h-0.7zM155.5,32.1h0.7v0.7h-0.7zM155.7,27.3h0.7v0.7h-0.7zM154.6,35.6h0.7v0.7h-0.7zM149.5,34.6h0.7v0.7h-0.7zM148.4,39.5h0.7v0.7h-0.7zM150.4,35.8h0.7v0.7h-0.7zM150.8,34.1h0.7v0.7h-0.7zM146.6,37.8h0.7v0.7h-0.7zM154.0,30.7h0.7v0.7h-0.7zM154.4,45.6h0.7v0.7h-0.7zM151.3,45.3h0.7v0.7h-0.7zM142.0,40.3h0.7v0.7h-0.7zM147.7,36.6h0.7v0.7h-0.7zM147.0,49.2h0.7v0.7h-0.7zM149.0,39.4h0.7v0.7h-0.7zM144.8,31.6h0.7v0.7h-0.7zM152.4,36.3h0.7v0.7h-0.7zM147.7,43.7h0.7v0.7h-0.7zM144.5,33.8h0.7v0.7h-0.7zM150.0,33.7h0.7v0.7h-0.7zM153.2,38.9h0.7v0.7h-0.7zM149.9,39.8h0.7v0.7h-0.7zM150.3,39.3h0.7v0.7h-0.7zM155.7,40.1h0.7v0.7h-0.7zM150.9,32.9h0.7v0.7h-0.7zM156.3,44.7h0.7v0.7h-0.7zM152.8,39.1h0.7v0.7h-0.7zM147.4,35.2h0.7v0.7h-0.7zM151.9,29.8h0.7v0.7h-0.7zM146.9,33.8h0.7v0.7h-0.7zM158.3,42.1h0.7v0.7h-0.7zM144.9,41.1h0.7v0.7h-0.7zM154.2,42.2h0.7v0.7h-0.7zM148.5,34.5h0.7v0.7h-0.7zM159.4,47.1h0.7v0.7h-0.7zM168.9,34.0h0.7v0.7h-0.7zM144.4,30.7h0.7v0.7h-0.7zM147.0,30.5h0.7v0.7h-0.7zM153.6,45.7h0.7v0.7h-0.7zM145.0,37.0h0.7v0.7h-0.7zM154.1,39.4h0.7v0.7h-0.7zM156.1,45.9h0.7v0.7h-0.7zM147.5,35.6h0.7v0.7h-0.7zM151.8,29.6h0.7v0.7h-0.7zM149.8,42.0h0.7v0.7h-0.7zM152.2,37.2h0.7v0.7h-0.7zM161.0,45.0h0.7v0.7h-0.7zM154.5,32.9h0.7v0.7h-0.7zM155.6,36.0h0.7v0.7h-0.7zM150.0,33.5h0.7v0.7h-0.7zM145.6,37.4h0.7v0.7h-0.7zM145.8,39.0h0.7v0.7h-0.7zM147.5,42.5h0.7v0.7h-0.7zM152.0,44.0h0.7v0.7h-0.7zM146.3,37.7h0.7v0.7h-0.7zM153.7,39.4h0.7v0.7h-0.7zM150.3,32.6h0.7v0.7h-0.7zM137.7,33.2h0.7v0.7h-0.7zM145.7,27.6h0.7v0.7h-0.7zM152.2,21.0h0.7v0.7h-0.7zM147.7,39.0h0.7v0.7h-0.7zM150.8,35.1h0.7v0.7h-0.7zM147.6,35.9h0.7v0.7h-0.7zM144.6,30.0h0.7v0.7h-0.7zM153.9,32.3h0.7v0.7h-0.7zM150.2,33.9h0.7v0.7h-0.7zM145.7,22.0h0.7v0.7h-0.7zM147.2,30.0h0.7v0.7h-0.7zM146.6,34.1h0.7v0.7h-0.7zM152.0,40.8h0.7v0.7h-0.7zM152.2,30.0h0.7v0.7h-0.7zM156.3,41.2h0.7v0.7h-0.7zM153.7,30.0h0.7v0.7h-0.7zM155.1,52.4h0.7v0.7h-0.7zM152.8,44.2h0.7v0.7h-0.7zM148.4,36.3h0.7v0.7h-0.7zM150.5,40.3h0.7v0.7h-0.7zM151.4,38.3h0.7v0.7h-0.7zM147.1,27.5h0.7v0.7h-0.7zM150.7,51.7h0.7v0.7h-0.7zM146.8,37.8h0.7v0.7h-0.7zM156.1,35.1h0.7v0.7h-0.7zM144.2,35.5h0.7v0.7h-0.7zM150.6,31.1h0.7v0.7h-0.7zM156.8,43.6h0.7v0.7h-0.7zM150.7,28.1h0.7v0.7h-0.7zM155.8,45.8h0.7v0.7h-0.7zM154.1,48.0h0.7v0.7h-0.7zM146.6,28.4h0.7v0.7h-0.7zM154.3,40.8h0.7v0.7h-0.7zM150.6,33.4h0.7v0.7h-0.7zM154.9,40.0h0.7v0.7h-0.7zM154.3,31.2h0.7v0.7h-0.7zM151.0,39.1h0.7v0.7h-0.7zM154.9,28.3h0.7v0.7h-0.7zM150.0,32.1h0.7v0.7h-0.7zM150.8,35.6h0.7v0.7h-0.7zM152.5,42.1h0.7v0.7h-0.7zM151.9,36.6h0.7v0.7h-0.7zM154.3,46.7h0.7v0.7h-0.7zM151.0,31.7h0.7v0.7h-0.7zM157.9,45.5h0.7v0.7h-0.7zM159.6,38.2h0.7v0.7h-0.7zM149.2,34.7h0.7v0.7h-0.7zM150.4,27.4h0.7v0.7h-0.7zM154.2,29.0h0.7v0.7h-0.7zM139.6,30.9h0.7v0.7h-0.7zM146.5,36.0h0.7v0.7h-0.7zM146.1,26.0h0.7v0.7h-0.7zM142.5,24.8h0.7v0.7h-0.7zM149.6,49.0h0.7v0.7h-0.7zM153.5,33.8h0.7v0.7h-0.7zM156.3,40.6h0.7v0.7h-0.7zM143.2,22.1h0.7v0.7h-0.7zM144.7,30.0h0.7v0.7h-0.7zM150.9,32.8h0.7v0.7h-0.7zM148.6,29.7h0.7v0.7h-0.7zM151.5,41.7h0.7v0.7h-0.7zM146.5,42.1h0.7v0.7h-0.7zM147.4,33.1h0.7v0.7h-0.7zM157.6,43.4h0.7v0.7h-0.7zM151.0,24.8h0.7v0.7h-0.7zM151.1,34.5h0.7v0.7h-0.7zM149.9,42.9h0.7v0.7h-0.7zM148.6,46.5h0.7v0.7h-0.7zM151.0,37.6h0.7v0.7h-0.7zM149.5,36.5h0.7v0.7h-0.7zM156.3,40.6h0.7v0.7h-0.7zM146.7,29.8h0.7v0.7h-0.7zM155.6,42.2h0.7v0.7h-0.7zM147.3,34.1h0.7v0.7h-0.7zM151.2,40.2h0.7v0.7h-0.7zM146.9,35.3h0.7v0.7h-0.7zM145.5,29.2h0.7v0.7h-0.7zM149.9,44.4h0.7v0.7h-0.7zM150.4,46.6h0.7v0.7h-0.7zM152.4,45.2h0.7v0.7h-0.7zM150.2,25.1h0.7v0.7h-0.7zM141.9,29.7h0.7v0.7h-0.7zM158.0,39.0h0.7v0.7h-0.7zM148.8,39.3h0.7v0.7h-0.7zM149.3,33.5h0.7v0.7h-0.7zM151.6,39.4h0.7v0.7h-0.7zM148.4,30.4h0.7v0.7h-0.7zM157.3,34.3h0.7v0.7h-0.7zM147.1,33.6h0.7v0.7h-0.7zM150.2,38.1h0.7v0.7h-0.7zM157.2,47.6h0.7v0.7h-0.7zM150.6,37.2h0.7v0.7h-0.7zM154.8,37.6h0.7v0.7h-0.7zM151.5,30.1h0.7v0.7h-0.7zM152.4,36.8h0.7v0.7h-0.7zM145.0,35.2h0.7v0.7h-0.7zM159.8,42.9h0.7v0.7h-0.7zM147.5,42.9h0.7v0.7h-0.7zM152.3,38.4h0.7v0.7h-0.7zM157.0,45.1h0.7v0.7h-0.7zM159.3,35.6h0.7v0.7h-0.7zM149.0,35.1h0.7v0.7h-0.7zM151.6,29.6h0.7v0.7h-0.7zM152.0,28.4h0.7v0.7h-0.7zM148.5,33.9h0.7v0.7h-0.7zM151.9,39.0h0.7v0.7h-0.7zM147.7,37.1h0.7v0.7h-0.7zM152.0,36.5h0.7v0.7h-0.7zM150.9,33.4h0.7v0.7h-0.7zM158.2,48.5h0.7v0.7h-0.7zM151.8,45.2h0.7v0.7h-0.7zM147.2,31.6h0.7v0.7h-0.7zM149.5,38.6h0.7v0.7h-0.7zM149.5,30.2h0.7v0.7h-0.7zM144.7,26.8h0.7v0.7h-0.7zM154.6,41.3h0.7v0.7h-0.7zM145.1,45.3h0.7v0.7h-0.7zM148.8,32.7h0.7v0.7h-0.7zM150.1,36.5h0.7v0.7h-0.7zM149.2,35.6h0.7v0.7h-0.7zM154.0,43.6h0.7v0.7h-0.7zM148.0,34.2h0.7v0.7h-0.7zM147.7,32.4h0.7v0.7h-0.7zM150.4,34.4h0.7v0.7h-0.7zM153.2,32.0h0.7v0.7h-0.7zM152.4,41.8h0.7v0.7h-0.7zM149.5,33.9h0.7v0.7h-0.7zM153.3,35.4h0.7v0.7h-0.7zM149.5,37.1h0.7v0.7h-0.7zM140.7,36.0h0.7v0.7h-0.7zM151.8,40.6h0.7v0.7h-0.7zM145.2,31.3h0.7v0.7h-0.7zM152.6,40.8h0.7v0.7h-0.7zM148.4,32.6h0.7v0.7h-0.7zM157.0,41.1h0.7v0.7h-0.7zM155.8,30.6h0.7v0.7h-0.7zM152.5,33.9h0.7v0.7h-0.7zM148.8,43.3h0.7v0.7h-0.7zM146.5,28.7h0.7v0.7h-0.7zM148.0,33.7h0.7v0.7h-0.7zM150.9,39.2h0.7v0.7h-0.7zM155.9,41.8h0.7v0.7h-0.7zM158.0,46.5h0.7v0.7h-0.7zM153.0,36.7h0.7v0.7h-0.7zM156.4,37.3h0.7v0.7h-0.7zM154.8,38.6h0.7v0.7h-0.7zM148.5,39.5h0.7v0.7h-0.7zM153.6,39.7h0.7v0.7h-0.7zM155.2,39.3h0.7v0.7h-0.7zM147.8,35.6h0.7v0.7h-0.7zM158.4,34.2h0.7v0.7h-0.7zM143.4,33.0h0.7v0.7h-0.7zM146.7,42.8h0.7v0.7h-0.7zM151.5,31.1h0.7v0.7h-0.7zM150.6,30.6h0.7v0.7h-0.7zM152.8,43.2h0.7v0.7h-0.7zM155.7,45.3h0.7v0.7h-0.7zM150.7,43.7h0.7v0.7h-0.7zM152.8,29.6h0.7v0.7h-0.7zM156.3,33.7h0.7v0.7h-0.7zM148.4,25.8h0.7v0.7h-0.7zM147.5,22.0h0.7v0.7h-0.7zM145.8,29.0h0.7v0.7h-0.7zM146.0,31.8h0.7v0.7h-0.7zM154.0,36.1h0.7v0.7h-0.7zM152.6,44.1h0.7v0.7h-0.7zM148.3,44.4h0.7v0.7h-0.7zM150.6,36.1h0.7v0.7h-0.7zM152.3,45.5h0.7v0.7h-0.7zM145.9,39.8h0.7v0.7h-0.7zM148.8,36.1h0.7v0.7h-0.7zM146.7,19.0h0.7v0.7h-0.7zM155.6,43.4h0.7v0.7h-0.7zM146.5,28.9h0.7v0.7h-0.7zM145.9,33.9h0.7v0.7h-0.7zM159.1,39.6h0.7v0.7h-0.7zM143.9,37.8h0.7v0.7h-0.7zM147.1,25.0h0.7v0.7h-0.7zM152.4,37.2h0.7v0.7h-0.7zM151.5,41.2h0.7v0.7h-0.7zM154.7,25.6h0.7v0.7h-0.7zM151.5,43.9h0.7v0.7h-0.7zM155.8,32.6h0.7v0.7h-0.7zM143.4,26.2h0.7v0.7h-0.7zM152.4,36.0h0.7v0.7h-0.7zM154.1,37.0h0.7v0.7h-0.7zM145.6,27.2h0.7v0.7h-0.7zM149.8,41.2h0.7v0.7h-0.7zM156.8,33.2h0.7v0.7h-0.7zM152.6,37.0h0.7v0.7h-0.7zM146.1,27.0h0.7v0.7h-0.7zM157.1,36.8h0.7v0.7h-0.7zM150.4,39.1h0.7v0.7h-0.7zM152.3,41.5h0.7v0.7h-0.7zM147.5,32.6h0.7v0.7h-0.7zM151.8,39.1h0.7v0.7h-0.7zM147.8,24.6h0.7v0.7h-0.7zM154.3,43.4h0.7v0.7h-0.7zM154.6,37.6h0.7v0.7h-0.7zM143.5,30.6h0.7v0.7h-0.7zM159.0,42.3h0.7v0.7h-0.7zM151.8,27.0h0.7v0.7h-0.7zM148.2,41.3h0.7v0.7h-0.7zM152.2,36.3h0.7v0.7h-0.7zM155.9,43.3h0.7v0.7h-0.7zM153.0,36.5h0.7v0.7h-0.7zM152.5,43.7h0.7v0.7h-0.7zM152.1,29.4h0.7v0.7h-0.7zM150.1,34.5h0.7v0.7h-0.7zM152.5,45.1h0.7v0.7h-0.7zM150.5,33.7h0.7v0.7h-0.7zM153.8,40.8h0.7v0.7h-0.7zM147.6,37.8h0.7v0.7h-0.7zM151.6,39.0h0.7v0.7h-0.7zM144.6,21.4h0.7v0.7h-0.7zM144.7,23.2h0.7v0.7h-0.7zM154.8,44.5h0.7v0.7h-0.7zM145.6,43.0h0.7v0.7h-0.7zM146.2,29.3h0.7v0.7h-0.7zM159.6,32.8h0.7v0.7h-0.7zM153.7,42.9h0.7v0.7h-0.7zM155.3,42.7h0.7v0.7h-0.7zM151.8,46.5h0.7v0.7h-0.7zM150.5,37.0h0.7v0.7h-0.7zM152.4,35.2h0.7v0.7h-0.7zM150.2,43.7h0.7v0.7h-0.7zM157.4,43.4h0.7v0.7h-0.7zM150.4,33.3h0.7v0.7h-0.7zM149.2,33.5h0.7v0.7h-0.7zM149.0,35.1h0.7v0.7h-0.7zM149.9,42.7h0.7v0.7h-0.7zM145.1,31.3h0.7v0.7h-0.7zM154.1,35.6h0.7v0.7h-0.7zM149.1,39.2h0.7v0.7h-0.7zM150.5,30.4h0.7v0.7h-0.7zM151.4,40.7h0.7v0.7h-0.7zM143.9,38.9h0.7v0.7h-0.7zM143.8,37.5h0.7v0.7h-0.7zM145.5,35.4h0.7v0.7h-0.7zM150.7,42.8h0.7v0.7h-0.7zM150.5,33.8h0.7v0.7h-0.7zM147.8,36.4h0.7v0.7h-0.7zM149.9,41.5h0.7v0.7h-0.7zM152.5,45.0h0.7v0.7h-0.7zM153.7,39.0h0.7v0.7h-0.7zM150.6,40.3h0.7v0.7h-0.7zM154.0,29.9h0.7v0.7h-0.7zM152.5,35.1h0.7v0.7h-0.7zM152.2,42.1h0.7v0.7h-0.7zM143.0,32.2h0.7v0.7h-0.7zM154.9,27.9h0.7v0.7h-0.7zM151.8,37.1h0.7v0.7h-0.7zM148.6,41.0h0.7v0.7h-0.7zM154.6,38.5h0.7v0.7h-0.7zM156.6,48.3h0.7v0.7h-0.7zM151.7,42.2h0.7v0.7h-0.7zM154.4,48.9h0.7v0.7h-0.7zM154.2,42.4h0.7v0.7h-0.7zM151.4,41.4h0.7v0.7h-0.7zM157.3,39.2h0.7v0.7h-0.7zM150.5,30.6h0.7v0.7h-0.7zM161.3,39.2h0.7v0.7h-0.7zM148.9,32.2h0.7v0.7h-0.7zM155.7,41.2h0.7v0.7h-0.7zM142.7,33.7h0.7v0.7h-0.7zM158.4,40.0h0.7v0.7h-0.7zM151.4,54.7h0.7v0.7h-0.7zM149.9,35.0h0.7v0.7h-0.7zM153.5,52.9h0.7v0.7h-0.7zM152.7,27.6h0.7v0.7h-0.7zM150.3,35.1h0.7v0.7h-0.7zM154.0,36.0h0.7v0.7h-0.7zM151.5,29.2h0.7v0.7h-0.7zM145.8,34.7h0.7v0.7h-0.7zM157.6,34.0h0.7v0.7h-0.7zM144.5,41.0h0.7v0.7h-0.7zM152.5,42.4h0.7v0.7h-0.7zM150.3,38.0h0.7v0.7h-0.7zM150.6,36.6h0.7v0.7h-0.7zM158.2,37.8h0.7v0.7h-0.7zM149.3,36.1h0.7v0.7h-0.7zM150.2,46.9h0.7v0.7h-0.7zM150.3,38.9h0.7v0.7h-0.7zM146.0,37.8h0.7v0.7h-0.7zM153.6,42.1h0.7v0.7h-0.7zM144.4,29.9h0.7v0.7h-0.7zM140.3,42.0h0.7v0.7h-0.7zM150.6,46.7h0.7v0.7h-0.7zM158.8,46.9h0.7v0.7h-0.7zM148.4,34.3h0.7v0.7h-0.7zM154.2,26.3h0.7v0.7h-0.7zM156.6,48.6h0.7v0.7h-0.7zM154.5,36.8h0.7v0.7h-0.7zM152.4,27.7h0.7v0.7h-0.7zM147.1,32.2h0.7v0.7h-0.7zM147.9,45.6h0.7v0.7h-0.7zM152.8,22.8h0.7v0.7h-0.7zM155.6,42.2h0.7v0.7h-0.7zM150.0,31.9h0.7v0.7h-0.7zM159.4,42.3h0.7v0.7h-0.7zM152.0,27.5h0.7v0.7h-0.7zM148.6,41.2h0.7v0.7h-0.7zM151.5,34.3h0.7v0.7h-0.7zM149.7,26.4h0.7v0.7h-0.7zM140.9,35.3h0.7v0.7h-0.7zM145.0,24.3h0.7v0.7h-0.7zM152.2,43.1h0.7v0.7h-0.7zM149.5,42.9h0.7v0.7h-0.7zM151.1,17.5h0.7v0.7h-0.7zM157.6,33.2h0.7v0.7h-0.7zM157.4,38.1h0.7v0.7h-0.7zM150.7,33.7h0.7v0.7h-0.7zM146.8,38.6h0.7v0.7h-0.7zM157.8,48.0h0.7v0.7h-0.7zM148.7,38.8h0.7v0.7h-0.7zM155.2,42.4h0.7v0.7h-0.7zM145.6,46.9h0.7v0.7h-0.7zM147.9,30.2h0.7v0.7h-0.7zM151.5,38.5h0.7v0.7h-0.7zM148.7,27.6h0.7v0.7h-0.7zM145.9,34.4h0.7v0.7h-0.7zM143.2,40.1h0.7v0.7h-0.7zM153.6,39.4h0.7v0.7h-0.7zM151.8,31.8h0.7v0.7h-0.7zM148.7,41.2h0.7v0.7h-0.7zM148.8,45.6h0.7v0.7h-0.7zM155.1,43.0h0.7v0.7h-0.7zM150.0,30.6h0.7v0.7h-0.7zM150.3,30.5h0.7v0.7h-0.7zM149.4,33.8h0.7v0.7h-0.7zM148.6,42.7h0.7v0.7h-0.7zM147.3,30.4h0.7v0.7h-0.7zM155.8,40.6h0.7v0.7h-0.7zM153.0,33.8h0.7v0.7h-0.7zM152.3,45.5h0.7v0.7h-0.7zM151.0,39.5h0.7v0.7h-0.7zM155.9,42.8h0.7v0.7h-0.7zM156.0,31.8h0.7v0.7h-0.7zM143.7,26.4h0.7v0.7h-0.7zM152.7,33.4h0.7v0.7h-0.7zM142.7,44.0h0.7v0.7h-0.7zM156.3,36.0h0.7v0.7h-0.7zM148.2,31.1h0.7v0.7h-0.7zM153.9,41.0h0.7v0.7h-0.7zM151.5,45.5h0.7v0.7h-0.7zM147.6,27.7h0.7v0.7h-0.7zM150.9,36.4h0.7v0.7h-0.7zM151.3,39.5h0.7v0.7h-0.7zM144.6,43.6h0.7v0.7h-0.7zM143.6,35.3h0.7v0.7h-0.7zM152.4,42.5h0.7v0.7h-0.7zM151.8,32.1h0.7v0.7h-0.7zM150.1,27.9h0.7v0.7h-0.7zM150.2,35.0h0.7v0.7h-0.7zM143.2,46.7h0.7v0.7h-0.7zM148.5,38.9h0.7v0.7h-0.7zM156.3,39.1h0.7v0.7h-0.7zM149.2,29.0h0.7v0.7h-0.7zM147.9,30.8h0.7v0.7h-0.7zM150.3,41.3h0.7v0.7h-0.7zM151.7,46.4h0.7v0.7h-0.7zM152.5,38.9h0.7v0.7h-0.7zM138.4,29.8h0.7v0.7h-0.7zM152.0,28.0h0.7v0.7h-0.7zM150.7,32.2h0.7v0.7h-0.7zM150.0,36.1h0.7v0.7h-0.7zM149.8,35.8h0.7v0.7h-0.7zM152.4,39.3h0.7v0.7h-0.7zM148.2,41.1h0.7v0.7h-0.7zM151.1,39.1h0.7v0.7h-0.7zM158.0,50.4h0.7v0.7h-0.7zM159.8,39.5h0.7v0.7h-0.7zM152.6,40.5h0.7v0.7h-0.7zM151.3,36.0h0.7v0.7h-0.7zM154.3,45.4h0.7v0.7h-0.7zM159.9,37.7h0.7v0.7h-0.7zM152.8,33.0h0.7v0.7h-0.7zM149.8,21.5h0.7v0.7h-0.7zM159.6,31.0h0.7v0.7h-0.7zM151.3,25.9h0.7v0.7h-0.7zM149.5,29.7h0.7v0.7h-0.7zM142.3,26.1h0.7v0.7h-0.7zM150.0,35.5h0.7v0.7h-0.7zM143.0,36.8h0.7v0.7h-0.7zM149.6,29.0h0.7v0.7h-0.7zM157.1,35.3h0.7v0.7h-0.7zM151.8,46.5h0.7v0.7h-0.7zM151.1,36.1h0.7v0.7h-0.7zM154.8,35.9h0.7v0.7h-0.7zM151.2,35.9h0.7v0.7h-0.7zM149.3,40.6h0.7v0.7h-0.7zM152.0,46.0h0.7v0.7h-0.7zM152.5,28.7h0.7v0.7h-0.7zM152.5,35.7h0.7v0.7h-0.7zM149.8,42.2h0.7v0.7h-0.7zM152.6,27.6h0.7v0.7h-0.7zM159.1,39.7h0.7v0.7h-0.7zM144.2,31.4h0.7v0.7h-0.7zM152.9,30.6h0.7v0.7h-0.7zM147.3,23.9h0.7v0.7h-0.7zM152.0,33.9h0.7v0.7h-0.7zM157.1,41.3h0.7v0.7h-0.7zM151.9,33.3h0.7v0.7h-0.7zM154.9,30.0h0.7v0.7h-0.7zM152.0,40.2h0.7v0.7h-0.7zM147.7,27.8h0.7v0.7h-0.7zM155.6,50.2h0.7v0.7h-0.7zM152.5,48.8h0.7v0.7h-0.7zM152.8,36.4h0.7v0.7h-0.7zM149.2,28.3h0.7v0.7h-0.7zM154.6,34.9h0.7v0.7h-0.7zM148.3,37.7h0.7v0.7h-0.7zM152.9,33.0h0.7v0.7h-0.7zM151.7,36.1h0.7v0.7h-0.7zM151.4,36.0h0.7v0.7h-0.7zM149.1,20.7h0.7v0.7h-0.7zM148.4,42.8h0.7v0.7h-0.7zM149.5,37.1h0.7v0.7h-0.7zM153.3,31.6h0.7v0.7h-0.7zM151.2,35.1h0.7v0.7h-0.7zM152.3,41.1h0.7v0.7h-0.7zM151.2,35.4h0.7v0.7h-0.7zM154.8,39.2h0.7v0.7h-0.7zM144.8,41.5h0.7v0.7h-0.7zM152.7,33.9h0.7v0.7h-0.7zM150.6,30.6h0.7v0.7h-0.7zM151.4,27.7h0.7v0.7h-0.7zM155.0,41.5h0.7v0.7h-0.7zM146.8,37.8h0.7v0.7h-0.7zM144.9,30.5h0.7v0.7h-0.7zM146.7,38.9h0.7v0.7h-0.7zM153.7,29.6h0.7v0.7h-0.7zM151.6,40.0h0.7v0.7h-0.7zM149.4,51.0h0.7v0.7h-0.7zM144.4,41.8h0.7v0.7h-0.7zM157.0,37.3h0.7v0.7h-0.7zM146.2,41.8h0.7v0.7h-0.7zM140.7,31.5h0.7v0.7h-0.7zM145.0,33.6h0.7v0.7h-0.7zM148.5,27.4h0.7v0.7h-0.7zM153.1,44.8h0.7v0.7h-0.7zM145.2,37.9h0.7v0.7h-0.7zM151.2,32.5h0.7v0.7h-0.7zM148.6,39.0h0.7v0.7h-0.7zM155.4,37.0h0.7v0.7h-0.7zM140.7,36.7h0.7v0.7h-0.7zM152.5,25.3h0.7v0.7h-0.7zM148.7,35.4h0.7v0.7h-0.7zM149.6,37.8h0.7v0.7h-0.7zM147.2,38.8h0.7v0.7h-0.7zM139.5,33.3h0.7v0.7h-0.7zM148.4,34.6h0.7v0.7h-0.7zM153.5,46.2h0.7v0.7h-0.7zM146.6,33.9h0.7v0.7h-0.7zM146.6,34.8h0.7v0.7h-0.7zM148.4,27.9h0.7v0.7h-0.7zM155.4,40.9h0.7v0.7h-0.7zM150.8,44.7h0.7v0.7h-0.7zM144.1,35.7h0.7v0.7h-0.7zM157.4,37.4h0.7v0.7h-0.7zM147.2,29.8h0.7v0.7h-0.7zM155.8,45.4h0.7v0.7h-0.7zM152.1,42.8h0.7v0.7h-0.7zM148.0,32.7h0.7v0.7h-0.7zM154.2,32.2h0.7v0.7h-0.7zM151.7,36.7h0.7v0.7h-0.7zM147.3,36.0h0.7v0.7h-0.7zM145.5,29.9h0.7v0.7h-0.7zM142.6,24.7h0.7v0.7h-0.7zM147.1,36.9h0.7v0.7h-0.7zM150.8,28.6h0.7v0.7h-0.7zM149.7,49.9h0.7v0.7h-0.7zM151.0,39.0h0.7v0.7h-0.7zM142.0,29.1h0.7v0.7h-0.7zM155.4,29.7h0.7v0.7h-0.7zM147.0,30.0h0.7v0.7h-0.7zM150.2,39.8h0.7v0.7h-0.7zM143.5,37.2h0.7v0.7h-0.7zM139.9,25.5h0.7v0.7h-0.7zM152.4,29.9h0.7v0.7h-0.7zM147.2,31.3h0.7v0.7h-0.7zM157.3,33.1h0.7v0.7h-0.7zM154.6,50.4h0.7v0.7h-0.7zM149.1,30.4h0.7v0.7h-0.7zM150.7,29.9h0.7v0.7h-0.7zM149.1,28.8h0.7v0.7h-0.7zM144.5,23.3h0.7v0.7h-0.7zM154.4,33.7h0.7v0.7h-0.7zM145.9,40.5h0.7v0.7h-0.7zM149.9,33.7h0.7v0.7h-0.7zM147.5,34.6h0.7v0.7h-0.7zM149.3,32.8h0.7v0.7h-0.7zM149.9,40.6h0.7v0.7h-0.7zM149.8,43.9h0.7v0.7h-0.7zM154.6,31.6h0.7v0.7h-0.7zM146.6,26.1h0.7v0.7h-0.7zM147.4,39.1h0.7v0.7h-0.7zM149.2,32.3h0.7v0.7h-0.7zM151.0,22.6h0.7v0.7h-0.7zM151.9,35.5h0.7v0.7h-0.7zM153.3,35.5h0.7v0.7h-0.7zM154.7,44.6h0.7v0.7h-0.7zM149.3,39.0h0.7v0.7h-0.7zM146.8,29.8h0.7v0.7h-0.7zM146.0,32.5h0.7v0.7h-0.7zM145.5,26.8h0.7v0.7h-0.7zM149.6,26.4h0.7v0.7h-0.7zM153.0,31.4h0.7v0.7h-0.7zM149.5,33.6h0.7v0.7h-0.7zM154.7,41.7h0.7v0.7h-0.7zM149.5,31.8h0.7v0.7h-0.7zM154.1,36.8h0.7v0.7h-0.7zM146.2,34.7h0.7v0.7h-0.7zM153.1,37.0h0.7v0.7h-0.7zM150.7,45.3h0.7v0.7h-0.7zM148.4,39.7h0.7v0.7h-0.7zM157.0,49.6h0.7v0.7h-0.7zM145.8,37.0h0.7v0.7h-0.7zM151.1,51.2h0.7v0.7h-0.7zM155.8,44.8h0.7v0.7h-0.7zM155.4,41.8h0.7v0.7h-0.7zM146.2,47.9h0.7v0.7h-0.7zM143.5,37.5h0.7v0.7h-0.7zM153.8,38.7h0.7v0.7h-0.7zM154.7,37.9h0.7v0.7h-0.7zM153.9,39.1h0.7v0.7h-0.7zM147.5,40.7h0.7v0.7h-0.7zM148.2,38.9h0.7v0.7h-0.7zM146.2,35.5h0.7v0.7h-0.7zM159.6,67.4h0.7v0.7h-0.7zM152.2,59.3h0.7v0.7h-0.7zM157.1,57.9h0.7v0.7h-0.7zM159.9,72.5h0.7v0.7h-0.7zM160.2,65.3h0.7v0.7h-0.7zM153.4,64.1h0.7v0.7h-0.7zM159.6,70.8h0.7v0.7h-0.7zM155.6,67.2h0.7v0.7h-0.7zM155.6,60.9h0.7v0.7h-0.7zM155.2,63.1h0.7v0.7h-0.7zM150.4,59.7h0.7v0.7h-0.7zM163.9,55.6h0.7v0.7h-0.7zM161.2,66.0h0.7v0.7h-0.7zM155.2,58.7h0.7v0.7h-0.7zM162.3,61.5h0.7v0.7h-0.7zM158.5,61.5h0.7v0.7h-0.7zM152.1,65.9h0.7v0.7h-0.7zM160.2,58.7h0.7v0.7h-0.7zM162.2,57.7h0.7v0.7h-0.7zM151.4,65.0h0.7v0.7h-0.7zM155.2,62.0h0.7v0.7h-0.7zM164.4,58.8h0.7v0.7h-0.7zM160.0,61.0h0.7v0.7h-0.7zM157.6,61.4h0.7v0.7h-0.7zM153.6,62.0h0.7v0.7h-0.7zM153.0,61.7h0.7v0.7h-0.7zM152.8,60.5h0.7v0.7h-0.7zM157.8,56.5h0.7v0.7h-0.7zM156.9,65.1h0.7v0.7h-0.7zM157.7,66.2h0.7v0.7h-0.7zM152.7,64.1h0.7v0.7h-0.7zM158.6,50.9h0.7v0.7h-0.7zM157.1,65.9h0.7v0.7h-0.7zM156.9,62.4h0.7v0.7h-0.7zM156.6,61.5h0.7v0.7h-0.7zM152.4,58.7h0.7v0.7h-0.7zM147.2,69.6h0.7v0.7h-0.7zM157.1,63.2h0.7v0.7h-0.7zM160.0,64.8h0.7v0.7h-0.7zM156.8,55.6h0.7v0.7h-0.7zM151.7,68.5h0.7v0.7h-0.7zM159.1,65.3h0.7v0.7h-0.7zM152.4,59.6h0.7v0.7h-0.7zM158.4,59.2h0.7v0.7h-0.7zM162.6,59.8h0.7v0.7h-0.7zM155.2,57.2h0.7v0.7h-0.7zM158.8,67.9h0.7v0.7h-0.7zM158.1,62.3h0.7v0.7h-0.7zM155.5,65.4h0.7v0.7h-0.7zM157.2,69.6h0.7v0.7h-0.7zM156.0,60.5h0.7v0.7h-0.7zM154.8,54.0h0.7v0.7h-0.7zM158.2,62.9h0.7v0.7h-0.7zM149.9,56.4h0.7v0.7h-0.7zM152.3,60.3h0.7v0.7h-0.7zM152.6,64.8h0.7v0.7h-0.7zM162.6,60.3h0.7v0.7h-0.7zM157.3,57.8h0.7v0.7h-0.7zM163.1,58.6h0.7v0.7h-0.7zM153.6,61.8h0.7v0.7h-0.7zM153.5,72.9h0.7v0.7h-0.7zM156.3,61.1h0.7v0.7h-0.7zM152.7,61.3h0.7v0.7h-0.7zM154.4,60.1h0.7v0.7h-0.7zM161.7,60.4h0.7v0.7h-0.7zM159.1,59.9h0.7v0.7h-0.7zM161.7,59.7h0.7v0.7h-0.7zM152.8,60.6h0.7v0.7h-0.7zM162.8,61.4h0.7v0.7h-0.7zM153.2,61.1h0.7v0.7h-0.7zM154.0,62.9h0.7v0.7h-0.7zM154.1,63.1h0.7v0.7h-0.7zM161.2,64.9h0.7v0.7h-0.7zM163.9,64.5h0.7v0.7h-0.7zM165.5,68.7h0.7v0.7h-0.7zM155.9,65.3h0.7v0.7h-0.7zM153.8,60.9h0.7v0.7h-0.7zM156.8,58.9h0.7v0.7h-0.7zM158.6,62.1h0.7v0.7h-0.7zM166.1,66.7h0.7v0.7h-0.7zM156.1,59.3h0.7v0.7h-0.7zM154.7,59.1h0.7v0.7h-0.7zM153.8,61.8h0.7v0.7h-0.7zM151.1,60.1h0.7v0.7h-0.7zM159.4,60.1h0.7v0.7h-0.7zM152.1,59.5h0.7v0.7h-0.7zM161.0,59.6h0.7v0.7h-0.7zM164.1,56.3h0.7v0.7h-0.7zM153.5,64.3h0.7v0.7h-0.7zM163.2,62.3h0.7v0.7h-0.7zM149.7,60.0h0.7v0.7h-0.7zM153.1,58.8h0.7v0.7h-0.7zM155.5,59.5h0.7v0.7h-0.7zM157.0,62.8h0.7v0.7h-0.7zM155.9,54.7h0.7v0.7h-0.7zM156.3,51.3h0.7v0.7h-0.7zM157.5,60.5h0.7v0.7h-0.7zM153.0,70.3h0.7v0.7h-0.7zM164.6,68.8h0.7v0.7h-0.7zM158.1,60.4h0.7v0.7h-0.7zM159.2,69.3h0.7v0.7h-0.7zM156.8,61.6h0.7v0.7h-0.7zM154.5,61.6h0.7v0.7h-0.7zM160.9,59.0h0.7v0.7h-0.7zM161.9,63.5h0.7v0.7h-0.7zM167.2,64.5h0.7v0.7h-0.7zM162.8,59.0h0.7v0.7h-0.7zM168.0,64.1h0.7v0.7h-0.7zM156.8,68.4h0.7v0.7h-0.7zM157.9,57.3h0.7v0.7h-0.7zM159.9,64.9h0.7v0.7h-0.7zM157.1,60.3h0.7v0.7h-0.7zM150.0,68.2h0.7v0.7h-0.7zM155.2,63.5h0.7v0.7h-0.7zM155.0,59.0h0.7v0.7h-0.7zM158.5,58.8h0.7v0.7h-0.7zM161.4,56.2h0.7v0.7h-0.7zM159.9,67.5h0.7v0.7h-0.7zM155.2,62.9h0.7v0.7h-0.7zM160.9,61.0h0.7v0.7h-0.7zM156.2,61.4h0.7v0.7h-0.7zM169.4,60.6h0.7v0.7h-0.7zM156.4,60.4h0.7v0.7h-0.7zM154.8,58.1h0.7v0.7h-0.7zM154.3,62.6h0.7v0.7h-0.7zM162.4,69.7h0.7v0.7h-0.7zM151.5,57.5h0.7v0.7h-0.7zM157.1,58.3h0.7v0.7h-0.7zM153.8,60.9h0.7v0.7h-0.7zM154.7,58.5h0.7v0.7h-0.7zM158.2,59.2h0.7v0.7h-0.7zM156.0,63.5h0.7v0.7h-0.7zM160.4,63.6h0.7v0.7h-0.7zM162.1,63.6h0.7v0.7h-0.7zM150.6,67.5h0.7v0.7h-0.7zM170.0,67.4h0.7v0.7h-0.7zM164.4,67.9h0.7v0.7h-0.7zM155.3,64.6h0.7v0.7h-0.7zM154.2,59.6h0.7v0.7h-0.7zM159.8,63.1h0.7v0.7h-0.7zM154.3,56.1h0.7v0.7h-0.7zM160.8,62.9h0.7v0.7h-0.7zM157.9,58.8h0.7v0.7h-0.7zM153.8,61.7h0.7v0.7h-0.7zM148.9,66.2h0.7v0.7h-0.7zM157.3,66.9h0.7v0.7h-0.7zM161.5,60.6h0.7v0.7h-0.7zM159.5,58.1h0.7v0.7h-0.7zM153.2,67.3h0.7v0.7h-0.7zM154.9,58.8h0.7v0.7h-0.7zM159.4,62.8h0.7v0.7h-0.7zM161.6,57.7h0.7v0.7h-0.7zM156.1,57.8h0.7v0.7h-0.7zM157.4,61.3h0.7v0.7h-0.7zM153.1,54.6h0.7v0.7h-0.7zM151.2,65.4h0.7v0.7h-0.7zM155.6,57.6h0.7v0.7h-0.7zM158.1,57.9h0.7v0.7h-0.7zM161.4,66.5h0.7v0.7h-0.7zM157.5,60.0h0.7v0.7h-0.7zM149.1,63.2h0.7v0.7h-0.7zM166.3,64.4h0.7v0.7h-0.7zM154.9,65.3h0.7v0.7h-0.7zM155.5,57.1h0.7v0.7h-0.7zM156.8,64.8h0.7v0.7h-0.7zM149.1,65.5h0.7v0.7h-0.7zM164.6,63.3h0.7v0.7h-0.7zM155.1,56.2h0.7v0.7h-0.7zM159.7,61.6h0.7v0.7h-0.7zM162.7,69.6h0.7v0.7h-0.7zM162.8,63.9h0.7v0.7h-0.7zM149.1,66.7h0.7v0.7h-0.7zM155.1,60.1h0.7v0.7h-0.7zM162.1,65.0h0.7v0.7h-0.7zM152.6,60.3h0.7v0.7h-0.7zM156.0,61.6h0.7v0.7h-0.7zM152.0,67.8h0.7v0.7h-0.7zM156.7,65.0h0.7v0.7h-0.7zM162.0,72.0h0.7v0.7h-0.7zM160.5,59.8h0.7v0.7h-0.7zM155.3,65.7h0.7v0.7h-0.7zM164.7,57.4h0.7v0.7h-0.7zM165.9,61.3h0.7v0.7h-0.7zM156.4,60.5h0.7v0.7h-0.7zM159.9,62.0h0.7v0.7h-0.7zM157.1,58.6h0.7v0.7h-0.7zM163.8,64.8h0.7v0.7h-0.7zM157.1,71.1h0.7v0.7h-0.7zM160.2,68.5h0.7v0.7h-0.7zM156.1,62.8h0.7v0.7h-0.7zM156.6,65.9h0.7v0.7h-0.7zM158.6,55.6h0.7v0.7h-0.7zM159.9,61.9h0.7v0.7h-0.7zM158.4,66.5h0.7v0.7h-0.7zM156.1,64.9h0.7v0.7h-0.7zM157.4,62.1h0.7v0.7h-0.7zM155.1,61.7h0.7v0.7h-0.7zM155.9,65.5h0.7v0.7h-0.7zM147.1,63.3h0.7v0.7h-0.7zM157.0,58.1h0.7v0.7h-0.7zM160.8,62.8h0.7v0.7h-0.7zM159.8,68.3h0.7v0.7h-0.7zM158.3,56.0h0.7v0.7h-0.7zM150.2,61.2h0.7v0.7h-0.7zM152.0,70.5h0.7v0.7h-0.7zM156.9,55.0h0.7v0.7h-0.7zM147.6,58.8h0.7v0.7h-0.7zM146.5,62.9h0.7v0.7h-0.7zM147.0,64.6h0.7v0.7h-0.7zM155.2,66.7h0.7v0.7h-0.7zM152.1,59.8h0.7v0.7h-0.7zM162.2,56.5h0.7v0.7h-0.7zM160.3,68.8h0.7v0.7h-0.7zM152.9,61.2h0.7v0.7h-0.7zM164.8,69.6h0.7v0.7h-0.7zM164.6,63.0h0.7v0.7h-0.7zM155.7,61.5h0.7v0.7h-0.7zM155.7,65.6h0.7v0.7h-0.7zM161.1,65.1h0.7v0.7h-0.7zM154.3,65.3h0.7v0.7h-0.7zM159.6,63.7h0.7v0.7h-0.7zM162.9,61.7h0.7v0.7h-0.7zM157.9,67.1h0.7v0.7h-0.7zM154.0,65.7h0.7v0.7h-0.7zM160.7,69.1h0.7v0.7h-0.7zM163.2,60.9h0.7v0.7h-0.7zM165.4,61.7h0.7v0.7h-0.7zM152.1,60.6h0.7v0.7h-0.7zM155.8,58.6h0.7v0.7h-0.7zM161.8,65.2h0.7v0.7h-0.7zM160.2,57.2h0.7v0.7h-0.7zM165.6,65.6h0.7v0.7h-0.7zM162.6,64.7h0.7v0.7h-0.7zM159.1,65.9h0.7v0.7h-0.7zM158.1,68.3h0.7v0.7h-0.7zM155.1,53.8h0.7v0.7h-0.7zM155.8,62.2h0.7v0.7h-0.7zM159.2,63.2h0.7v0.7h-0.7zM159.3,64.6h0.7v0.7h-0.7zM156.7,64.7h0.7v0.7h-0.7zM159.9,59.7h0.7v0.7h-0.7zM149.6,62.3h0.7v0.7h-0.7zM159.6,67.3h0.7v0.7h-0.7zM162.4,64.4h0.7v0.7h-0.7zM162.6,60.9h0.7v0.7h-0.7zM155.3,67.8h0.7v0.7h-0.7zM152.1,61.7h0.7v0.7h-0.7zM152.8,56.9h0.7v0.7h-0.7zM166.9,56.6h0.7v0.7h-0.7zM165.4,61.8h0.7v0.7h-0.7zM154.1,55.2h0.7v0.7h-0.7zM158.4,65.2h0.7v0.7h-0.7zM160.1,59.2h0.7v0.7h-0.7zM164.8,64.4h0.7v0.7h-0.7zM159.8,65.3h0.7v0.7h-0.7zM160.0,61.6h0.7v0.7h-0.7zM159.0,59.8h0.7v0.7h-0.7zM158.6,58.8h0.7v0.7h-0.7zM151.1,59.2h0.7v0.7h-0.7zM156.8,59.6h0.7v0.7h-0.7zM156.1,60.1h0.7v0.7h-0.7zM157.7,69.7h0.7v0.7h-0.7zM160.1,66.4h0.7v0.7h-0.7zM161.9,66.7h0.7v0.7h-0.7zM159.3,66.3h0.7v0.7h-0.7zM162.2,62.6h0.7v0.7h-0.7zM156.2,62.3h0.7v0.7h-0.7zM157.2,64.4h0.7v0.7h-0.7zM155.5,60.6h0.7v0.7h-0.7zM158.5,64.7h0.7v0.7h-0.7zM157.0,56.4h0.7v0.7h-0.7zM156.4,65.8h0.7v0.7h-0.7zM156.5,67.5h0.7v0.7h-0.7zM155.2,61.3h0.7v0.7h-0.7zM161.0,67.8h0.7v0.7h-0.7zM156.2,68.4h0.7v0.7h-0.7zM158.3,64.3h0.7v0.7h-0.7zM165.4,67.1h0.7v0.7h-0.7zM156.5,62.2h0.7v0.7h-0.7zM153.5,66.6h0.7v0.7h-0.7zM159.1,70.4h0.7v0.7h-0.7zM162.9,63.4h0.7v0.7h-0.7zM154.8,60.9h0.7v0.7h-0.7zM163.0,62.9h0.7v0.7h-0.7zM162.5,68.3h0.7v0.7h-0.7zM164.1,64.5h0.7v0.7h-0.7zM160.7,57.9h0.7v0.7h-0.7zM159.0,62.9h0.7v0.7h-0.7zM161.6,56.0h0.7v0.7h-0.7zM156.1,71.8h0.7v0.7h-0.7zM158.2,60.8h0.7v0.7h-0.7zM158.0,62.1h0.7v0.7h-0.7zM156.0,64.8h0.7v0.7h-0.7zM158.7,67.4h0.7v0.7h-0.7zM168.6,67.1h0.7v0.7h-0.7zM159.1,68.8h0.7v0.7h-0.7zM151.4,69.1h0.7v0.7h-0.7zM152.5,60.0h0.7v0.7h-0.7zM157.8,57.2h0.7v0.7h-0.7zM154.8,62.9h0.7v0.7h-0.7zM159.3,57.2h0.7v0.7h-0.7zM144.3,63.5h0.7v0.7h-0.7zM150.2,63.0h0.7v0.7h-0.7zM159.6,66.2h0.7v0.7h-0.7zM155.0,59.8h0.7v0.7h-0.7zM171.1,64.1h0.7v0.7h-0.7zM153.0,56.7h0.7v0.7h-0.7zM156.4,69.4h0.7v0.7h-0.7zM160.6,59.4h0.7v0.7h-0.7zM151.4,59.2h0.7v0.7h-0.7zM157.4,63.8h0.7v0.7h-0.7zM159.7,67.4h0.7v0.7h-0.7zM151.6,55.5h0.7v0.7h-0.7zM157.1,65.0h0.7v0.7h-0.7zM155.0,63.4h0.7v0.7h-0.7zM157.1,67.3h0.7v0.7h-0.7zM156.6,60.6h0.7v0.7h-0.7zM159.7,67.0h0.7v0.7h-0.7zM154.6,61.8h0.7v0.7h-0.7zM154.3,57.5h0.7v0.7h-0.7zM168.3,61.6h0.7v0.7h-0.7zM156.1,61.0h0.7v0.7h-0.7zM153.9,61.5h0.7v0.7h-0.7zM157.1,64.1h0.7v0.7h-0.7zM155.0,56.5h0.7v0.7h-0.7zM156.9,65.4h0.7v0.7h-0.7zM163.1,63.0h0.7v0.7h-0.7zM156.3,59.4h0.7v0.7h-0.7zM164.1,61.1h0.7v0.7h-0.7zM155.2,62.1h0.7v0.7h-0.7zM156.5,62.7h0.7v0.7h-0.7zM159.3,69.8h0.7v0.7h-0.7zM159.7,64.6h0.7v0.7h-0.7zM151.0,70.7h0.7v0.7h-0.7zM159.8,66.5h0.7v0.7h-0.7zM156.1,62.1h0.7v0.7h-0.7zM155.8,61.7h0.7v0.7h-0.7zM155.7,65.6h0.7v0.7h-0.7zM162.2,63.1h0.7v0.7h-0.7zM156.2,65.9h0.7v0.7h-0.7zM156.6,64.7h0.7v0.7h-0.7zM154.6,67.9h0.7v0.7h-0.7zM155.4,64.6h0.7v0.7h-0.7zM165.1,65.3h0.7v0.7h-0.7zM156.3,65.5h0.7v0.7h-0.7zM164.3,54.5h0.7v0.7h-0.7zM155.8,61.8h0.7v0.7h-0.7zM161.3,57.0h0.7v0.7h-0.7zM161.1,63.4h0.7v0.7h-0.7zM160.0,58.8h0.7v0.7h-0.7zM163.2,74.1h0.7v0.7h-0.7zM158.1,65.1h0.7v0.7h-0.7zM152.9,50.4h0.7v0.7h-0.7zM157.2,61.7h0.7v0.7h-0.7zM160.5,63.3h0.7v0.7h-0.7zM151.6,52.6h0.7v0.7h-0.7zM162.4,67.3h0.7v0.7h-0.7zM156.9,61.5h0.7v0.7h-0.7zM160.6,60.9h0.7v0.7h-0.7zM151.8,66.9h0.7v0.7h-0.7zM151.3,60.1h0.7v0.7h-0.7zM163.3,65.4h0.7v0.7h-0.7zM162.4,69.4h0.7v0.7h-0.7zM158.4,56.7h0.7v0.7h-0.7zM149.8,52.5h0.7v0.7h-0.7zM160.8,57.2h0.7v0.7h-0.7zM156.9,62.9h0.7v0.7h-0.7zM159.0,62.7h0.7v0.7h-0.7zM163.2,64.8h0.7v0.7h-0.7zM162.3,63.0h0.7v0.7h-0.7zM157.6,63.3h0.7v0.7h-0.7zM159.7,66.2h0.7v0.7h-0.7zM155.3,64.9h0.7v0.7h-0.7zM169.9,53.3h0.7v0.7h-0.7zM160.3,62.5h0.7v0.7h-0.7zM156.5,60.0h0.7v0.7h-0.7zM152.2,62.9h0.7v0.7h-0.7zM154.3,68.7h0.7v0.7h-0.7zM158.9,70.1h0.7v0.7h-0.7zM158.0,56.8h0.7v0.7h-0.7zM159.4,63.8h0.7v0.7h-0.7zM161.3,53.2h0.7v0.7h-0.7zM157.8,68.7h0.7v0.7h-0.7zM157.9,54.2h0.7v0.7h-0.7zM159.4,64.9h0.7v0.7h-0.7zM163.8,65.8h0.7v0.7h-0.7zM153.0,66.9h0.7v0.7h-0.7zM160.7,68.1h0.7v0.7h-0.7zM156.7,66.8h0.7v0.7h-0.7zM148.1,55.7h0.7v0.7h-0.7zM160.2,69.7h0.7v0.7h-0.7zM160.1,63.7h0.7v0.7h-0.7zM156.8,60.8h0.7v0.7h-0.7zM162.5,55.9h0.7v0.7h-0.7zM158.7,69.1h0.7v0.7h-0.7zM150.0,52.2h0.7v0.7h-0.7zM153.1,62.0h0.7v0.7h-0.7zM160.0,60.6h0.7v0.7h-0.7zM161.1,61.0h0.7v0.7h-0.7zM150.3,65.8h0.7v0.7h-0.7zM157.5,59.9h0.7v0.7h-0.7zM150.1,51.0h0.7v0.7h-0.7zM152.7,65.0h0.7v0.7h-0.7zM153.4,56.4h0.7v0.7h-0.7zM154.0,64.6h0.7v0.7h-0.7zM160.2,68.1h0.7v0.7h-0.7zM153.6,68.4h0.7v0.7h-0.7zM164.7,65.4h0.7v0.7h-0.7zM162.2,70.3h0.7v0.7h-0.7zM159.3,59.3h0.7v0.7h-0.7zM159.9,64.5h0.7v0.7h-0.7zM160.7,74.1h0.7v0.7h-0.7zM157.7,61.7h0.7v0.7h-0.7zM163.2,63.6h0.7v0.7h-0.7zM151.9,63.2h0.7v0.7h-0.7zM162.1,56.5h0.7v0.7h-0.7zM165.2,71.8h0.7v0.7h-0.7zM152.5,63.0h0.7v0.7h-0.7zM159.3,65.3h0.7v0.7h-0.7zM158.8,65.8h0.7v0.7h-0.7zM154.1,61.2h0.7v0.7h-0.7zM157.1,64.5h0.7v0.7h-0.7zM166.4,67.6h0.7v0.7h-0.7zM152.8,63.6h0.7v0.7h-0.7zM166.2,72.5h0.7v0.7h-0.7zM165.3,64.2h0.7v0.7h-0.7zM161.0,63.9h0.7v0.7h-0.7zM152.5,62.2h0.7v0.7h-0.7zM155.7,57.1h0.7v0.7h-0.7zM156.9,61.0h0.7v0.7h-0.7zM156.4,65.6h0.7v0.7h-0.7zM152.7,62.4h0.7v0.7h-0.7zM159.2,64.1h0.7v0.7h-0.7zM158.8,63.2h0.7v0.7h-0.7zM150.4,53.0h0.7v0.7h-0.7zM154.9,60.6h0.7v0.7h-0.7zM153.4,58.8h0.7v0.7h-0.7zM155.7,69.6h0.7v0.7h-0.7zM157.1,66.0h0.7v0.7h-0.7zM160.6,63.8h0.7v0.7h-0.7zM161.9,60.9h0.7v0.7h-0.7zM156.7,57.6h0.7v0.7h-0.7zM157.0,66.3h0.7v0.7h-0.7zM153.5,61.8h0.7v0.7h-0.7zM156.4,62.3h0.7v0.7h-0.7zM155.7,63.6h0.7v0.7h-0.7zM151.9,62.4h0.7v0.7h-0.7zM165.1,59.1h0.7v0.7h-0.7zM161.2,60.2h0.7v0.7h-0.7zM155.0,69.9h0.7v0.7h-0.7zM160.6,65.7h0.7v0.7h-0.7zM165.0,66.4h0.7v0.7h-0.7zM157.1,53.0h0.7v0.7h-0.7zM160.8,70.2h0.7v0.7h-0.7zM155.6,57.3h0.7v0.7h-0.7zM149.8,64.0h0.7v0.7h-0.7zM146.7,62.7h0.7v0.7h-0.7zM161.2,61.2h0.7v0.7h-0.7zM152.8,60.8h0.7v0.7h-0.7zM164.6,58.8h0.7v0.7h-0.7zM153.9,64.3h0.7v0.7h-0.7zM154.7,67.7h0.7v0.7h-0.7zM154.2,57.1h0.7v0.7h-0.7zM150.7,60.7h0.7v0.7h-0.7zM162.5,63.4h0.7v0.7h-0.7zM154.9,55.8h0.7v0.7h-0.7zM158.7,60.0h0.7v0.7h-0.7zM168.0,59.1h0.7v0.7h-0.7zM151.3,56.4h0.7v0.7h-0.7zM158.4,65.2h0.7v0.7h-0.7zM158.5,67.7h0.7v0.7h-0.7zM160.7,60.6h0.7v0.7h-0.7zM165.1,60.4h0.7v0.7h-0.7zM158.5,62.9h0.7v0.7h-0.7zM162.7,63.2h0.7v0.7h-0.7zM159.0,54.6h0.7v0.7h-0.7zM157.1,63.1h0.7v0.7h-0.7zM164.4,56.3h0.7v0.7h-0.7zM152.1,65.4h0.7v0.7h-0.7zM168.0,64.7h0.7v0.7h-0.7zM147.9,53.8h0.7v0.7h-0.7zM155.8,58.6h0.7v0.7h-0.7zM159.7,67.3h0.7v0.7h-0.7zM161.1,59.2h0.7v0.7h-0.7zM154.3,61.4h0.7v0.7h-0.7zM159.4,65.2h0.7v0.7h-0.7zM155.7,66.7h0.7v0.7h-0.7zM160.7,61.8h0.7v0.7h-0.7zM158.4,69.4h0.7v0.7h-0.7zM160.5,61.8h0.7v0.7h-0.7zM156.0,66.4h0.7v0.7h-0.7zM159.2,63.4h0.7v0.7h-0.7zM154.2,61.1h0.7v0.7h-0.7zM158.2,70.1h0.7v0.7h-0.7zM151.6,62.3h0.7v0.7h-0.7zM153.3,56.2h0.7v0.7h-0.7zM167.9,58.7h0.7v0.7h-0.7zM163.0,67.7h0.7v0.7h-0.7zM159.6,63.1h0.7v0.7h-0.7zM157.3,64.7h0.7v0.7h-0.7zM159.3,65.2h0.7v0.7h-0.7zM160.4,56.2h0.7v0.7h-0.7zM151.7,61.7h0.7v0.7h-0.7zM157.3,56.9h0.7v0.7h-0.7zM161.8,65.3h0.7v0.7h-0.7zM158.9,67.2h0.7v0.7h-0.7zM160.4,62.5h0.7v0.7h-0.7zM154.8,67.1h0.7v0.7h-0.7zM155.3,59.2h0.7v0.7h-0.7zM153.2,64.9h0.7v0.7h-0.7zM158.7,62.1h0.7v0.7h-0.7zM161.8,59.7h0.7v0.7h-0.7zM161.3,61.0h0.7v0.7h-0.7zM156.8,61.7h0.7v0.7h-0.7zM158.5,68.6h0.7v0.7h-0.7zM154.8,66.5h0.7v0.7h-0.7zM163.1,62.7h0.7v0.7h-0.7zM154.6,57.4h0.7v0.7h-0.7zM157.2,74.6h0.7v0.7h-0.7zM156.7,63.0h0.7v0.7h-0.7zM150.4,49.3h0.7v0.7h-0.7zM154.5,54.2h0.7v0.7h-0.7zM160.8,58.1h0.7v0.7h-0.7zM150.7,46.9h0.7v0.7h-0.7zM149.2,44.6h0.7v0.7h-0.7zM148.7,51.6h0.7v0.7h-0.7zM146.1,47.5h0.7v0.7h-0.7zM154.0,42.3h0.7v0.7h-0.7zM156.3,56.7h0.7v0.7h-0.7zM159.7,51.6h0.7v0.7h-0.7zM156.2,51.6h0.7v0.7h-0.7zM158.5,52.0h0.7v0.7h-0.7zM157.4,46.7h0.7v0.7h-0.7zM151.3,42.8h0.7v0.7h-0.7zM153.0,43.0h0.7v0.7h-0.7zM154.1,46.8h0.7v0.7h-0.7zM148.8,47.4h0.7v0.7h-0.7zM157.5,53.8h0.7v0.7h-0.7zM154.8,48.7h0.7v0.7h-0.7zM153.0,41.4h0.7v0.7h-0.7zM160.3,45.4h0.7v0.7h-0.7zM150.5,42.5h0.7v0.7h-0.7zM149.9,47.7h0.7v0.7h-0.7zM151.0,45.1h0.7v0.7h-0.7zM154.8,44.3h0.7v0.7h-0.7zM149.7,49.0h0.7v0.7h-0.7zM151.9,39.6h0.7v0.7h-0.7zM155.6,43.6h0.7v0.7h-0.7zM153.5,49.1h0.7v0.7h-0.7zM154.5,50.9h0.7v0.7h-0.7zM152.1,48.1h0.7v0.7h-0.7zM147.9,47.0h0.7v0.7h-0.7zM147.1,48.6h0.7v0.7h-0.7zM151.0,51.6h0.7v0.7h-0.7zM153.3,51.3h0.7v0.7h-0.7zM152.0,47.0h0.7v0.7h-0.7zM155.2,53.0h0.7v0.7h-0.7zM152.2,35.6h0.7v0.7h-0.7zM154.0,52.6h0.7v0.7h-0.7zM157.9,50.4h0.7v0.7h-0.7zM157.2,34.7h0.7v0.7h-0.7zM152.1,45.3h0.7v0.7h-0.7zM160.6,52.1h0.7v0.7h-0.7zM162.4,54.5h0.7v0.7h-0.7zM152.0,45.5h0.7v0.7h-0.7zM150.7,48.0h0.7v0.7h-0.7zM154.0,44.7h0.7v0.7h-0.7zM159.6,57.5h0.7v0.7h-0.7zM152.5,50.9h0.7v0.7h-0.7zM152.9,46.4h0.7v0.7h-0.7zM150.6,44.2h0.7v0.7h-0.7zM159.6,60.5h0.7v0.7h-0.7zM153.1,47.3h0.7v0.7h-0.7zM157.5,47.4h0.7v0.7h-0.7zM156.1,43.4h0.7v0.7h-0.7zM154.9,53.3h0.7v0.7h-0.7zM156.4,58.1h0.7v0.7h-0.7zM157.7,49.5h0.7v0.7h-0.7zM148.8,35.4h0.7v0.7h-0.7zM149.9,46.2h0.7v0.7h-0.7zM151.6,61.0h0.7v0.7h-0.7zM155.1,52.0h0.7v0.7h-0.7zM154.0,48.4h0.7v0.7h-0.7zM154.8,55.1h0.7v0.7h-0.7zM153.8,53.7h0.7v0.7h-0.7zM158.5,53.0h0.7v0.7h-0.7zM156.0,52.2h0.7v0.7h-0.7zM157.7,55.7h0.7v0.7h-0.7zM154.4,55.2h0.7v0.7h-0.7zM157.8,52.8h0.7v0.7h-0.7zM149.4,55.0h0.7v0.7h-0.7zM154.5,53.2h0.7v0.7h-0.7zM154.3,48.3h0.7v0.7h-0.7zM149.6,47.0h0.7v0.7h-0.7zM153.0,51.4h0.7v0.7h-0.7zM152.7,48.5h0.7v0.7h-0.7zM156.3,50.9h0.7v0.7h-0.7zM151.6,50.3h0.7v0.7h-0.7zM152.6,43.9h0.7v0.7h-0.7zM150.0,43.1h0.7v0.7h-0.7zM151.6,37.6h0.7v0.7h-0.7zM148.6,43.5h0.7v0.7h-0.7zM152.2,47.6h0.7v0.7h-0.7zM155.6,45.4h0.7v0.7h-0.7zM158.9,54.0h0.7v0.7h-0.7zM145.3,44.1h0.7v0.7h-0.7zM150.2,49.6h0.7v0.7h-0.7zM159.7,46.2h0.7v0.7h-0.7zM154.0,44.3h0.7v0.7h-0.7zM148.5,49.2h0.7v0.7h-0.7zM156.5,47.7h0.7v0.7h-0.7zM152.2,42.6h0.7v0.7h-0.7zM151.3,46.7h0.7v0.7h-0.7zM153.0,52.1h0.7v0.7h-0.7zM154.3,49.4h0.7v0.7h-0.7zM153.9,52.3h0.7v0.7h-0.7zM155.5,43.9h0.7v0.7h-0.7zM152.9,50.7h0.7v0.7h-0.7zM150.9,40.7h0.7v0.7h-0.7zM150.1,41.4h0.7v0.7h-0.7zM152.8,47.9h0.7v0.7h-0.7zM155.4,41.2h0.7v0.7h-0.7zM155.2,53.9h0.7v0.7h-0.7zM162.8,53.2h0.7v0.7h-0.7zM156.2,42.5h0.7v0.7h-0.7zM157.3,59.1h0.7v0.7h-0.7zM154.5,46.8h0.7v0.7h-0.7zM158.8,47.7h0.7v0.7h-0.7zM159.8,47.8h0.7v0.7h-0.7zM155.2,51.6h0.7v0.7h-0.7zM154.2,46.8h0.7v0.7h-0.7zM150.0,53.6h0.7v0.7h-0.7zM155.2,45.9h0.7v0.7h-0.7zM149.0,50.1h0.7v0.7h-0.7zM158.3,51.6h0.7v0.7h-0.7zM152.1,50.9h0.7v0.7h-0.7zM155.3,55.9h0.7v0.7h-0.7zM153.0,45.5h0.7v0.7h-0.7zM153.3,42.7h0.7v0.7h-0.7zM149.8,44.3h0.7v0.7h-0.7zM153.0,49.1h0.7v0.7h-0.7zM148.6,44.5h0.7v0.7h-0.7zM160.4,45.1h0.7v0.7h-0.7zM152.3,46.1h0.7v0.7h-0.7zM155.7,46.6h0.7v0.7h-0.7zM161.5,51.2h0.7v0.7h-0.7zM154.4,50.4h0.7v0.7h-0.7zM158.4,54.0h0.7v0.7h-0.7zM148.8,46.5h0.7v0.7h-0.7zM151.4,53.3h0.7v0.7h-0.7zM155.4,51.9h0.7v0.7h-0.7zM153.2,45.6h0.7v0.7h-0.7zM157.2,55.5h0.7v0.7h-0.7zM161.4,52.5h0.7v0.7h-0.7zM157.5,46.4h0.7v0.7h-0.7zM155.5,50.3h0.7v0.7h-0.7zM149.9,44.1h0.7v0.7h-0.7zM153.9,48.3h0.7v0.7h-0.7zM152.6,47.2h0.7v0.7h-0.7zM153.5,47.0h0.7v0.7h-0.7zM147.7,46.2h0.7v0.7h-0.7zM159.5,51.8h0.7v0.7h-0.7zM154.1,45.6h0.7v0.7h-0.7zM150.8,43.0h0.7v0.7h-0.7zM148.9,46.5h0.7v0.7h-0.7zM150.4,48.7h0.7v0.7h-0.7zM153.9,42.6h0.7v0.7h-0.7zM161.2,51.9h0.7v0.7h-0.7zM154.0,47.2h0.7v0.7h-0.7zM149.5,46.5h0.7v0.7h-0.7zM155.0,23.1h0.7v0.7h-0.7zM152.3,39.2h0.7v0.7h-0.7zM162.3,27.3h0.7v0.7h-0.7zM148.1,45.1h0.7v0.7h-0.7zM147.9,41.2h0.7v0.7h-0.7zM146.5,26.7h0.7v0.7h-0.7zM156.3,35.6h0.7v0.7h-0.7zM146.0,35.7h0.7v0.7h-0.7zM158.6,40.1h0.7v0.7h-0.7zM164.6,33.6h0.7v0.7h-0.7zM161.3,44.4h0.7v0.7h-0.7zM156.9,45.9h0.7v0.7h-0.7zM150.5,35.1h0.7v0.7h-0.7zM144.6,29.2h0.7v0.7h-0.7zM148.0,44.0h0.7v0.7h-0.7zM149.5,39.6h0.7v0.7h-0.7zM151.6,56.0h0.7v0.7h-0.7zM147.5,28.8h0.7v0.7h-0.7zM155.6,25.9h0.7v0.7h-0.7zM152.2,30.4h0.7v0.7h-0.7zM147.3,34.3h0.7v0.7h-0.7zM163.5,49.9h0.7v0.7h-0.7zM156.6,43.6h0.7v0.7h-0.7zM154.8,34.0h0.7v0.7h-0.7zM153.0,37.6h0.7v0.7h-0.7zM155.5,46.3h0.7v0.7h-0.7zM145.6,25.0h0.7v0.7h-0.7zM160.1,33.0h0.7v0.7h-0.7zM158.7,62.6h0.7v0.7h-0.7zM157.9,43.0h0.7v0.7h-0.7zM151.3,39.1h0.7v0.7h-0.7zM157.1,63.5h0.7v0.7h-0.7zM157.0,38.9h0.7v0.7h-0.7zM161.0,41.9h0.7v0.7h-0.7zM159.3,43.3h0.7v0.7h-0.7zM153.2,44.5h0.7v0.7h-0.7zM151.2,32.6h0.7v0.7h-0.7zM151.6,38.5h0.7v0.7h-0.7zM150.0,43.0h0.7v0.7h-0.7zM153.9,41.1h0.7v0.7h-0.7zM150.1,38.9h0.7v0.7h-0.7zM155.9,37.4h0.7v0.7h-0.7zM150.7,39.5h0.7v0.7h-0.7zM153.4,34.0h0.7v0.7h-0.7zM156.7,43.4h0.7v0.7h-0.7zM162.5,33.7h0.7v0.7h-0.7zM144.9,37.0h0.7v0.7h-0.7zM162.6,50.0h0.7v0.7h-0.7zM152.1,32.3h0.7v0.7h-0.7zM153.7,35.0h0.7v0.7h-0.7zM147.5,36.7h0.7v0.7h-0.7zM148.2,34.0h0.7v0.7h-0.7zM147.9,34.6h0.7v0.7h-0.7zM154.7,39.5h0.7v0.7h-0.7zM153.4,30.6h0.7v0.7h-0.7zM143.9,33.6h0.7v0.7h-0.7zM151.9,42.9h0.7v0.7h-0.7zM144.3,41.6h0.7v0.7h-0.7zM151.3,29.3h0.7v0.7h-0.7zM148.7,32.9h0.7v0.7h-0.7zM159.4,37.8h0.7v0.7h-0.7zM153.7,31.8h0.7v0.7h-0.7zM144.4,29.0h0.7v0.7h-0.7zM142.9,31.4h0.7v0.7h-0.7zM150.7,50.7h0.7v0.7h-0.7zM149.3,45.2h0.7v0.7h-0.7zM155.5,45.6h0.7v0.7h-0.7zM153.0,37.2h0.7v0.7h-0.7zM154.6,48.0h0.7v0.7h-0.7zM147.4,26.3h0.7v0.7h-0.7zM148.6,25.3h0.7v0.7h-0.7zM149.5,34.2h0.7v0.7h-0.7zM147.7,34.4h0.7v0.7h-0.7zM158.5,41.2h0.7v0.7h-0.7zM158.1,39.3h0.7v0.7h-0.7zM152.5,27.6h0.7v0.7h-0.7zM158.7,43.2h0.7v0.7h-0.7zM160.0,40.7h0.7v0.7h-0.7zM148.5,52.3h0.7v0.7h-0.7zM145.8,19.8h0.7v0.7h-0.7zM156.2,31.6h0.7v0.7h-0.7zM145.4,37.0h0.7v0.7h-0.7zM147.4,49.6h0.7v0.7h-0.7zM163.5,59.6h0.7v0.7h-0.7zM148.9,43.6h0.7v0.7h-0.7zM148.3,32.2h0.7v0.7h-0.7zM150.6,35.8h0.7v0.7h-0.7zM153.8,36.1h0.7v0.7h-0.7zM159.6,30.5h0.7v0.7h-0.7zM154.1,26.5h0.7v0.7h-0.7zM154.8,48.3h0.7v0.7h-0.7zM160.4,46.5h0.7v0.7h-0.7zM152.9,33.3h0.7v0.7h-0.7zM149.8,38.2h0.7v0.7h-0.7zM147.8,25.9h0.7v0.7h-0.7zM159.0,44.9h0.7v0.7h-0.7zM154.5,35.8h0.7v0.7h-0.7zM155.7,36.3h0.7v0.7h-0.7zM154.3,39.3h0.7v0.7h-0.7zM152.2,33.1h0.7v0.7h-0.7zM155.7,33.3h0.7v0.7h-0.7zM160.8,48.8h0.7v0.7h-0.7zM150.6,41.0h0.7v0.7h-0.7zM156.7,40.2h0.7v0.7h-0.7zM145.8,37.4h0.7v0.7h-0.7zM150.0,35.6h0.7v0.7h-0.7zM163.5,43.3h0.7v0.7h-0.7zM144.1,40.1h0.7v0.7h-0.7zM157.8,34.3h0.7v0.7h-0.7zM151.8,32.5h0.7v0.7h-0.7zM153.6,47.6h0.7v0.7h-0.7zM166.6,42.6h0.7v0.7h-0.7zM152.9,49.1h0.7v0.7h-0.7zM150.7,44.4h0.7v0.7h-0.7zM148.5,61.0h0.7v0.7h-0.7zM147.4,41.7h0.7v0.7h-0.7zM161.1,49.6h0.7v0.7h-0.7zM160.9,49.2h0.7v0.7h-0.7zM152.3,43.7h0.7v0.7h-0.7zM157.0,42.0h0.7v0.7h-0.7zM157.0,38.2h0.7v0.7h-0.7zM147.5,47.0h0.7v0.7h-0.7zM153.2,51.2h0.7v0.7h-0.7zM162.6,39.5h0.7v0.7h-0.7zM161.3,45.4h0.7v0.7h-0.7zM154.4,25.9h0.7v0.7h-0.7zM149.7,35.3h0.7v0.7h-0.7zM148.8,27.6h0.7v0.7h-0.7zM142.6,35.1h0.7v0.7h-0.7zM154.2,45.7h0.7v0.7h-0.7zM144.1,22.6h0.7v0.7h-0.7zM163.5,42.1h0.7v0.7h-0.7zM151.5,45.8h0.7v0.7h-0.7zM146.0,34.1h0.7v0.7h-0.7zM156.6,43.5h0.7v0.7h-0.7zM156.8,37.0h0.7v0.7h-0.7zM160.4,30.6h0.7v0.7h-0.7zM139.8,31.1h0.7v0.7h-0.7zM152.8,38.2h0.7v0.7h-0.7zM140.5,22.8h0.7v0.7h-0.7zM150.1,43.9h0.7v0.7h-0.7zM158.6,53.7h0.7v0.7h-0.7zM145.2,31.1h0.7v0.7h-0.7zM142.4,24.5h0.7v0.7h-0.7zM145.1,34.0h0.7v0.7h-0.7zM147.3,38.2h0.7v0.7h-0.7zM159.8,39.3h0.7v0.7h-0.7zM149.6,37.1h0.7v0.7h-0.7zM150.9,35.8h0.7v0.7h-0.7zM148.3,37.3h0.7v0.7h-0.7zM154.7,63.1h0.7v0.7h-0.7zM159.0,66.9h0.7v0.7h-0.7zM161.3,64.2h0.7v0.7h-0.7zM157.5,58.5h0.7v0.7h-0.7zM161.5,56.7h0.7v0.7h-0.7zM160.4,70.4h0.7v0.7h-0.7zM153.9,64.3h0.7v0.7h-0.7zM161.8,61.4h0.7v0.7h-0.7zM164.5,59.1h0.7v0.7h-0.7zM150.6,63.2h0.7v0.7h-0.7zM160.9,62.9h0.7v0.7h-0.7zM163.5,55.6h0.7v0.7h-0.7zM153.0,70.4h0.7v0.7h-0.7zM156.3,66.6h0.7v0.7h-0.7zM160.6,50.8h0.7v0.7h-0.7zM154.7,75.9h0.7v0.7h-0.7zM159.2,65.3h0.7v0.7h-0.7zM150.3,59.7h0.7v0.7h-0.7zM151.5,58.9h0.7v0.7h-0.7zM158.8,57.0h0.7v0.7h-0.7zM149.7,63.5h0.7v0.7h-0.7zM161.6,58.7h0.7v0.7h-0.7zM153.9,65.5h0.7v0.7h-0.7zM157.2,67.4h0.7v0.7h-0.7zM162.1,59.9h0.7v0.7h-0.7zM164.1,51.5h0.7v0.7h-0.7zM152.4,60.8h0.7v0.7h-0.7zM163.6,66.2h0.7v0.7h-0.7zM161.3,56.9h0.7v0.7h-0.7zM157.7,71.2h0.7v0.7h-0.7zM162.2,67.3h0.7v0.7h-0.7zM158.7,54.6h0.7v0.7h-0.7zM155.8,67.9h0.7v0.7h-0.7zM153.4,67.5h0.7v0.7h-0.7zM161.1,51.8h0.7v0.7h-0.7zM158.5,58.3h0.7v0.7h-0.7zM156.9,69.0h0.7v0.7h-0.7zM149.7,51.5h0.7v0.7h-0.7zM156.0,61.5h0.7v0.7h-0.7zM159.7,61.9h0.7v0.7h-0.7zM152.8,59.4h0.7v0.7h-0.7zM170.8,65.0h0.7v0.7h-0.7zM163.1,63.5h0.7v0.7h-0.7zM159.4,52.9h0.7v0.7h-0.7zM161.0,75.0h0.7v0.7h-0.7zM147.4,63.3h0.7v0.7h-0.7zM150.4,64.0h0.7v0.7h-0.7zM160.0,60.7h0.7v0.7h-0.7zM150.7,57.3h0.7v0.7h-0.7zM166.0,60.2h0.7v0.7h-0.7zM157.8,64.0h0.7v0.7h-0.7zM154.6,59.6h0.7v0.7h-0.7zM149.0,71.3h0.7v0.7h-0.7zM159.7,64.5h0.7v0.7h-0.7zM154.6,55.0h0.7v0.7h-0.7zM162.5,58.8h0.7v0.7h-0.7zM158.3,55.4h0.7v0.7h-0.7zM171.4,61.8h0.7v0.7h-0.7zM160.0,66.1h0.7v0.7h-0.7zM151.3,61.4h0.7v0.7h-0.7zM150.3,55.7h0.7v0.7h-0.7zM163.1,67.9h0.7v0.7h-0.7zM160.7,56.2h0.7v0.7h-0.7zM157.4,65.1h0.7v0.7h-0.7zM155.6,59.0h0.7v0.7h-0.7zM159.2,65.6h0.7v0.7h-0.7zM154.3,52.3h0.7v0.7h-0.7zM154.7,59.9h0.7v0.7h-0.7zM156.7,62.4h0.7v0.7h-0.7zM164.7,61.5h0.7v0.7h-0.7zM160.4,57.7h0.7v0.7h-0.7zM157.5,64.0h0.7v0.7h-0.7zM151.0,65.8h0.7v0.7h-0.7zM153.0,59.0h0.7v0.7h-0.7zM161.3,64.5h0.7v0.7h-0.7zM158.5,57.7h0.7v0.7h-0.7zM169.4,61.5h0.7v0.7h-0.7zM158.2,61.4h0.7v0.7h-0.7zM158.8,59.6h0.7v0.7h-0.7zM154.6,55.0h0.7v0.7h-0.7zM151.3,64.2h0.7v0.7h-0.7zM167.9,62.9h0.7v0.7h-0.7zM158.9,59.8h0.7v0.7h-0.7zM155.7,71.1h0.7v0.7h-0.7zM159.1,64.0h0.7v0.7h-0.7zM164.1,45.9h0.7v0.7h-0.7zM161.9,61.1h0.7v0.7h-0.7zM158.6,61.6h0.7v0.7h-0.7zM161.9,64.7h0.7v0.7h-0.7zM167.8,59.6h0.7v0.7h-0.7zM160.5,66.2h0.7v0.7h-0.7zM154.6,59.7h0.7v0.7h-0.7zM161.7,62.6h0.7v0.7h-0.7zM157.5,62.4h0.7v0.7h-0.7zM151.7,61.4h0.7v0.7h-0.7zM147.3,56.6h0.7v0.7h-0.7zM146.6,66.5h0.7v0.7h-0.7zM162.7,60.2h0.7v0.7h-0.7zM144.8,53.3h0.7v0.7h-0.7zM149.1,60.1h0.7v0.7h-0.7zM163.0,64.6h0.7v0.7h-0.7zM155.7,57.7h0.7v0.7h-0.7zM163.9,60.5h0.7v0.7h-0.7zM148.5,56.2h0.7v0.7h-0.7zM154.4,68.5h0.7v0.7h-0.7zM156.9,51.5h0.7v0.7h-0.7zM155.7,65.3h0.7v0.7h-0.7zM152.3,57.5h0.7v0.7h-0.7zM150.4,61.5h0.7v0.7h-0.7zM158.2,58.0h0.7v0.7h-0.7zM158.7,63.8h0.7v0.7h-0.7zM153.9,60.2h0.7v0.7h-0.7zM161.7,59.8h0.7v0.7h-0.7zM148.3,63.1h0.7v0.7h-0.7zM157.5,63.1h0.7v0.7h-0.7zM159.1,69.6h0.7v0.7h-0.7zM149.5,70.9h0.7v0.7h-0.7zM160.9,65.1h0.7v0.7h-0.7zM152.6,60.7h0.7v0.7h-0.7zM157.2,63.4h0.7v0.7h-0.7zM148.0,59.8h0.7v0.7h-0.7zM146.2,71.5h0.7v0.7h-0.7zM153.9,57.0h0.7v0.7h-0.7zM154.8,64.0h0.7v0.7h-0.7zM163.6,65.0h0.7v0.7h-0.7zM147.6,58.0h0.7v0.7h-0.7zM159.3,61.8h0.7v0.7h-0.7zM162.7,58.6h0.7v0.7h-0.7z" fill="#0a0a0a"/>
<line x1="140.5" y1="16.5" x2="140.5" y2="77.5" stroke="#6a6a6a" stroke-width="0.8"/>
<line x1="115.5" y1="51.5" x2="174.5" y2="51.5" stroke="#6a6a6a" stroke-width="0.8"/>
<text x="129.5" y="44.6" font-size="3.4" text-anchor="middle" fill="#777">Q1</text>
<text x="129.5" y="64.4" font-size="3.4" text-anchor="middle" fill="#777">Q3</text>
<text x="116.9" y="23.1" font-size="6.7" font-weight="700" text-anchor="start" fill="#000" stroke="#000" stroke-width="0.35">4</text>
<text x="172.9" y="23.1" font-size="6.7" font-weight="700" text-anchor="end" fill="#000" stroke="#000" stroke-width="0.35">53</text>
<text x="116.9" y="58.4" font-size="6.7" font-weight="700" text-anchor="start" fill="#000" stroke="#000" stroke-width="0.35">2</text>
<text x="172.9" y="58.4" font-size="6.7" font-weight="700" text-anchor="end" fill="#000" stroke="#000" stroke-width="0.35">41</text>
<rect x="47.50" y="92.50" width="58.00" height="60.00" fill="#fff" stroke="#4a4a4a" stroke-width="0.85"/>
<line x1="44.9" y1="98" x2="47.5" y2="98" stroke="#222" stroke-width="0.7"/>
<text x="45.1" y="99.6" font-size="3.7" font-weight="700" text-anchor="end" fill="#222">10<tspan font-size="2.6" dy="-1.7">5</tspan></text>
<line x1="46.2" y1="108.62434406590748" x2="47.5" y2="108.62434406590748" stroke="#222" stroke-width="0.6"/>
<line x1="46.2" y1="105.94775692826113" x2="47.5" y2="105.94775692826113" stroke="#222" stroke-width="0.6"/>
<line x1="46.2" y1="104.04868813181497" x2="47.5" y2="104.04868813181497" stroke="#222" stroke-width="0.6"/>
<line x1="46.2" y1="102.57565593409251" x2="47.5" y2="102.57565593409251" stroke="#222" stroke-width="0.6"/>
<line x1="46.2" y1="101.37210099416862" x2="47.5" y2="101.37210099416862" stroke="#222" stroke-width="0.6"/>
<line x1="46.2" y1="100.3545097917833" x2="47.5" y2="100.3545097917833" stroke="#222" stroke-width="0.6"/>
<line x1="46.2" y1="99.47303219772246" x2="47.5" y2="99.47303219772246" stroke="#222" stroke-width="0.6"/>
<line x1="46.2" y1="98.69551385652227" x2="47.5" y2="98.69551385652227" stroke="#222" stroke-width="0.6"/>
<line x1="44.9" y1="113.2" x2="47.5" y2="113.2" stroke="#222" stroke-width="0.7"/>
<text x="45.1" y="114.8" font-size="3.7" font-weight="700" text-anchor="end" fill="#222">10<tspan font-size="2.6" dy="-1.7">4</tspan></text>
<line x1="46.2" y1="123.82434406590748" x2="47.5" y2="123.82434406590748" stroke="#222" stroke-width="0.6"/>
<line x1="46.2" y1="121.14775692826113" x2="47.5" y2="121.14775692826113" stroke="#222" stroke-width="0.6"/>
<line x1="46.2" y1="119.24868813181497" x2="47.5" y2="119.24868813181497" stroke="#222" stroke-width="0.6"/>
<line x1="46.2" y1="117.77565593409251" x2="47.5" y2="117.77565593409251" stroke="#222" stroke-width="0.6"/>
<line x1="46.2" y1="116.57210099416862" x2="47.5" y2="116.57210099416862" stroke="#222" stroke-width="0.6"/>
<line x1="46.2" y1="115.5545097917833" x2="47.5" y2="115.5545097917833" stroke="#222" stroke-width="0.6"/>
<line x1="46.2" y1="114.67303219772246" x2="47.5" y2="114.67303219772246" stroke="#222" stroke-width="0.6"/>
<line x1="46.2" y1="113.89551385652227" x2="47.5" y2="113.89551385652227" stroke="#222" stroke-width="0.6"/>
<line x1="44.9" y1="128.4" x2="47.5" y2="128.4" stroke="#222" stroke-width="0.7"/>
<text x="45.1" y="130.0" font-size="3.7" font-weight="700" text-anchor="end" fill="#222">10<tspan font-size="2.6" dy="-1.7">3</tspan></text>
<line x1="46.2" y1="139.02434406590748" x2="47.5" y2="139.02434406590748" stroke="#222" stroke-width="0.6"/>
<line x1="46.2" y1="136.34775692826113" x2="47.5" y2="136.34775692826113" stroke="#222" stroke-width="0.6"/>
<line x1="46.2" y1="134.44868813181498" x2="47.5" y2="134.44868813181498" stroke="#222" stroke-width="0.6"/>
<line x1="46.2" y1="132.97565593409252" x2="47.5" y2="132.97565593409252" stroke="#222" stroke-width="0.6"/>
<line x1="46.2" y1="131.77210099416862" x2="47.5" y2="131.77210099416862" stroke="#222" stroke-width="0.6"/>
<line x1="46.2" y1="130.7545097917833" x2="47.5" y2="130.7545097917833" stroke="#222" stroke-width="0.6"/>
<line x1="46.2" y1="129.87303219772247" x2="47.5" y2="129.87303219772247" stroke="#222" stroke-width="0.6"/>
<line x1="46.2" y1="129.09551385652227" x2="47.5" y2="129.09551385652227" stroke="#222" stroke-width="0.6"/>
<line x1="44.9" y1="143.6" x2="47.5" y2="143.6" stroke="#222" stroke-width="0.7"/>
<text x="45.1" y="145.2" font-size="3.7" font-weight="700" text-anchor="end" fill="#222">10<tspan font-size="2.6" dy="-1.7">2</tspan></text>
<line x1="46.2" y1="151.54775692826112" x2="47.5" y2="151.54775692826112" stroke="#222" stroke-width="0.6"/>
<line x1="46.2" y1="149.64868813181496" x2="47.5" y2="149.64868813181496" stroke="#222" stroke-width="0.6"/>
<line x1="46.2" y1="148.1756559340925" x2="47.5" y2="148.1756559340925" stroke="#222" stroke-width="0.6"/>
<line x1="46.2" y1="146.9721009941686" x2="47.5" y2="146.9721009941686" stroke="#222" stroke-width="0.6"/>
<line x1="46.2" y1="145.9545097917833" x2="47.5" y2="145.9545097917833" stroke="#222" stroke-width="0.6"/>
<line x1="46.2" y1="145.07303219772245" x2="47.5" y2="145.07303219772245" stroke="#222" stroke-width="0.6"/>
<line x1="46.2" y1="144.29551385652226" x2="47.5" y2="144.29551385652226" stroke="#222" stroke-width="0.6"/>
<line x1="46.2" y1="93.42434406590749" x2="47.5" y2="93.42434406590749" stroke="#222" stroke-width="0.6"/>
<line x1="56.4" y1="152.5" x2="56.4" y2="155.1" stroke="#222" stroke-width="0.7"/>
<text x="56.4" y="160.7" font-size="3.7" font-weight="700" text-anchor="middle" fill="#222">10<tspan font-size="2.6" dy="-1.7">2</tspan></text>
<line x1="48.87054606796313" y1="152.5" x2="48.87054606796313" y2="153.8" stroke="#222" stroke-width="0.6"/>
<line x1="50.66966387512266" y1="152.5" x2="50.66966387512266" y2="153.8" stroke="#222" stroke-width="0.6"/>
<line x1="52.06516806243867" y1="152.5" x2="52.06516806243867" y2="153.8" stroke="#222" stroke-width="0.6"/>
<line x1="53.205378005524466" y1="152.5" x2="53.205378005524466" y2="153.8" stroke="#222" stroke-width="0.6"/>
<line x1="54.169411776205294" y1="152.5" x2="54.169411776205294" y2="153.8" stroke="#222" stroke-width="0.6"/>
<line x1="55.004495812683984" y1="152.5" x2="55.004495812683984" y2="153.8" stroke="#222" stroke-width="0.6"/>
<line x1="55.74109213592628" y1="152.5" x2="55.74109213592628" y2="153.8" stroke="#222" stroke-width="0.6"/>
<line x1="70.7" y1="152.5" x2="70.7" y2="155.1" stroke="#222" stroke-width="0.7"/>
<text x="70.7" y="160.7" font-size="3.7" font-weight="700" text-anchor="middle" fill="#222">10<tspan font-size="2.6" dy="-1.7">3</tspan></text>
<line x1="60.63483193756133" y1="152.5" x2="60.63483193756133" y2="153.8" stroke="#222" stroke-width="0.6"/>
<line x1="63.170546067963144" y1="152.5" x2="63.170546067963144" y2="153.8" stroke="#222" stroke-width="0.6"/>
<line x1="64.96966387512266" y1="152.5" x2="64.96966387512266" y2="153.8" stroke="#222" stroke-width="0.6"/>
<line x1="66.36516806243867" y1="152.5" x2="66.36516806243867" y2="153.8" stroke="#222" stroke-width="0.6"/>
<line x1="67.50537800552448" y1="152.5" x2="67.50537800552448" y2="153.8" stroke="#222" stroke-width="0.6"/>
<line x1="68.4694117762053" y1="152.5" x2="68.4694117762053" y2="153.8" stroke="#222" stroke-width="0.6"/>
<line x1="69.304495812684" y1="152.5" x2="69.304495812684" y2="153.8" stroke="#222" stroke-width="0.6"/>
<line x1="70.04109213592628" y1="152.5" x2="70.04109213592628" y2="153.8" stroke="#222" stroke-width="0.6"/>
<line x1="84.8" y1="152.5" x2="84.8" y2="155.1" stroke="#222" stroke-width="0.7"/>
<text x="84.8" y="160.7" font-size="3.7" font-weight="700" text-anchor="middle" fill="#222">10<tspan font-size="2.6" dy="-1.7">4</tspan></text>
<line x1="74.73483193756132" y1="152.5" x2="74.73483193756132" y2="153.8" stroke="#222" stroke-width="0.6"/>
<line x1="77.27054606796314" y1="152.5" x2="77.27054606796314" y2="153.8" stroke="#222" stroke-width="0.6"/>
<line x1="79.06966387512266" y1="152.5" x2="79.06966387512266" y2="153.8" stroke="#222" stroke-width="0.6"/>
<line x1="80.46516806243866" y1="152.5" x2="80.46516806243866" y2="153.8" stroke="#222" stroke-width="0.6"/>
<line x1="81.60537800552447" y1="152.5" x2="81.60537800552447" y2="153.8" stroke="#222" stroke-width="0.6"/>
<line x1="82.5694117762053" y1="152.5" x2="82.5694117762053" y2="153.8" stroke="#222" stroke-width="0.6"/>
<line x1="83.40449581268399" y1="152.5" x2="83.40449581268399" y2="153.8" stroke="#222" stroke-width="0.6"/>
<line x1="84.14109213592627" y1="152.5" x2="84.14109213592627" y2="153.8" stroke="#222" stroke-width="0.6"/>
<line x1="99.3" y1="152.5" x2="99.3" y2="155.1" stroke="#222" stroke-width="0.7"/>
<text x="99.3" y="160.7" font-size="3.7" font-weight="700" text-anchor="middle" fill="#222">10<tspan font-size="2.6" dy="-1.7">5</tspan></text>
<line x1="89.23483193756132" y1="152.5" x2="89.23483193756132" y2="153.8" stroke="#222" stroke-width="0.6"/>
<line x1="91.77054606796314" y1="152.5" x2="91.77054606796314" y2="153.8" stroke="#222" stroke-width="0.6"/>
<line x1="93.56966387512266" y1="152.5" x2="93.56966387512266" y2="153.8" stroke="#222" stroke-width="0.6"/>
<line x1="94.96516806243866" y1="152.5" x2="94.96516806243866" y2="153.8" stroke="#222" stroke-width="0.6"/>
<line x1="96.10537800552447" y1="152.5" x2="96.10537800552447" y2="153.8" stroke="#222" stroke-width="0.6"/>
<line x1="97.0694117762053" y1="152.5" x2="97.0694117762053" y2="153.8" stroke="#222" stroke-width="0.6"/>
<line x1="97.90449581268399" y1="152.5" x2="97.90449581268399" y2="153.8" stroke="#222" stroke-width="0.6"/>
<line x1="98.64109213592627" y1="152.5" x2="98.64109213592627" y2="153.8" stroke="#222" stroke-width="0.6"/>
<line x1="103.63483193756133" y1="152.5" x2="103.63483193756133" y2="153.8" stroke="#222" stroke-width="0.6"/>
<path d="M78.3,124.9h0.6v0.6h-0.6zM80.0,142.0h0.6v0.6h-0.6zM82.4,132.6h0.6v0.6h-0.6zM80.6,138.0h0.6v0.6h-0.6zM73.0,134.5h0.6v0.6h-0.6zM82.4,142.1h0.6v0.6h-0.6zM97.3,131.8h0.6v0.6h-0.6zM78.2,143.3h0.6v0.6h-0.6zM76.8,143.1h0.6v0.6h-0.6zM65.0,149.0h0.6v0.6h-0.6zM89.0,138.6h0.6v0.6h-0.6zM69.9,135.3h0.6v0.6h-0.6zM74.2,147.0h0.6v0.6h-0.6zM76.6,139.6h0.6v0.6h-0.6zM85.9,135.6h0.6v0.6h-0.6zM75.4,123.6h0.6v0.6h-0.6zM87.9,147.6h0.6v0.6h-0.6zM82.4,132.1h0.6v0.6h-0.6zM85.0,136.2h0.6v0.6h-0.6zM57.6,135.9h0.6v0.6h-0.6zM63.9,135.9h0.6v0.6h-0.6zM71.0,143.4h0.6v0.6h-0.6zM67.7,138.9h0.6v0.6h-0.6zM79.7,127.7h0.6v0.6h-0.6zM81.4,133.5h0.6v0.6h-0.6zM72.3,128.5h0.6v0.6h-0.6zM80.9,133.9h0.6v0.6h-0.6zM79.6,137.7h0.6v0.6h-0.6zM93.1,136.3h0.6v0.6h-0.6zM81.3,146.8h0.6v0.6h-0.6zM76.8,145.7h0.6v0.6h-0.6zM84.8,125.5h0.6v0.6h-0.6zM93.4,136.9h0.6v0.6h-0.6zM71.1,136.2h0.6v0.6h-0.6zM82.3,139.4h0.6v0.6h-0.6zM98.6,126.7h0.6v0.6h-0.6zM83.6,134.3h0.6v0.6h-0.6zM77.1,135.0h0.6v0.6h-0.6zM74.4,148.3h0.6v0.6h-0.6zM82.2,137.6h0.6v0.6h-0.6zM83.5,127.9h0.6v0.6h-0.6zM79.5,134.5h0.6v0.6h-0.6zM72.7,146.7h0.6v0.6h-0.6zM82.5,141.8h0.6v0.6h-0.6zM75.9,138.5h0.6v0.6h-0.6zM80.6,141.8h0.6v0.6h-0.6zM81.9,140.9h0.6v0.6h-0.6zM74.4,141.1h0.6v0.6h-0.6zM84.4,141.1h0.6v0.6h-0.6zM78.3,139.4h0.6v0.6h-0.6zM80.3,139.9h0.6v0.6h-0.6zM80.7,134.7h0.6v0.6h-0.6zM76.5,138.7h0.6v0.6h-0.6zM71.6,122.0h0.6v0.6h-0.6zM80.0,135.4h0.6v0.6h-0.6zM82.7,141.7h0.6v0.6h-0.6zM83.7,136.2h0.6v0.6h-0.6zM82.2,126.9h0.6v0.6h-0.6zM85.5,132.1h0.6v0.6h-0.6zM74.1,141.0h0.6v0.6h-0.6zM75.4,131.9h0.6v0.6h-0.6zM78.5,131.3h0.6v0.6h-0.6zM87.3,130.7h0.6v0.6h-0.6zM79.9,144.7h0.6v0.6h-0.6zM89.2,139.9h0.6v0.6h-0.6zM70.5,141.8h0.6v0.6h-0.6zM91.1,143.9h0.6v0.6h-0.6zM85.6,141.9h0.6v0.6h-0.6zM79.7,140.3h0.6v0.6h-0.6zM84.0,138.0h0.6v0.6h-0.6zM91.6,132.3h0.6v0.6h-0.6zM91.3,134.3h0.6v0.6h-0.6zM72.2,135.9h0.6v0.6h-0.6zM73.8,136.2h0.6v0.6h-0.6zM86.0,145.7h0.6v0.6h-0.6zM87.3,120.8h0.6v0.6h-0.6zM90.7,133.2h0.6v0.6h-0.6zM84.1,146.0h0.6v0.6h-0.6zM89.8,149.0h0.6v0.6h-0.6zM81.3,131.7h0.6v0.6h-0.6zM73.1,150.2h0.6v0.6h-0.6zM77.9,139.0h0.6v0.6h-0.6zM76.6,132.1h0.6v0.6h-0.6zM93.4,146.6h0.6v0.6h-0.6zM82.4,142.1h0.6v0.6h-0.6zM74.7,137.1h0.6v0.6h-0.6zM76.4,144.2h0.6v0.6h-0.6zM91.3,134.3h0.6v0.6h-0.6zM66.4,143.1h0.6v0.6h-0.6zM98.0,131.6h0.6v0.6h-0.6zM96.2,139.9h0.6v0.6h-0.6zM83.1,127.9h0.6v0.6h-0.6zM79.2,128.6h0.6v0.6h-0.6zM82.7,133.4h0.6v0.6h-0.6zM75.6,137.1h0.6v0.6h-0.6zM82.1,147.1h0.6v0.6h-0.6zM81.7,138.6h0.6v0.6h-0.6zM72.3,131.9h0.6v0.6h-0.6zM82.7,137.2h0.6v0.6h-0.6zM79.4,141.1h0.6v0.6h-0.6zM94.2,132.0h0.6v0.6h-0.6zM86.5,144.0h0.6v0.6h-0.6zM76.6,129.6h0.6v0.6h-0.6zM70.5,138.9h0.6v0.6h-0.6zM81.7,140.2h0.6v0.6h-0.6zM86.6,144.5h0.6v0.6h-0.6zM92.0,148.6h0.6v0.6h-0.6zM80.6,139.0h0.6v0.6h-0.6zM73.4,130.4h0.6v0.6h-0.6zM80.7,130.9h0.6v0.6h-0.6zM92.0,133.1h0.6v0.6h-0.6zM94.8,133.3h0.6v0.6h-0.6zM79.7,144.8h0.6v0.6h-0.6zM84.2,146.8h0.6v0.6h-0.6zM73.8,142.7h0.6v0.6h-0.6zM77.5,141.0h0.6v0.6h-0.6zM69.4,132.4h0.6v0.6h-0.6zM78.4,140.8h0.6v0.6h-0.6zM72.1,132.0h0.6v0.6h-0.6zM65.8,134.3h0.6v0.6h-0.6zM94.4,134.0h0.6v0.6h-0.6zM64.7,129.1h0.6v0.6h-0.6zM71.5,135.0h0.6v0.6h-0.6zM83.0,143.5h0.6v0.6h-0.6zM76.6,141.9h0.6v0.6h-0.6zM80.2,142.1h0.6v0.6h-0.6zM89.6,143.0h0.6v0.6h-0.6zM66.9,142.6h0.6v0.6h-0.6zM77.9,123.2h0.6v0.6h-0.6zM84.5,136.3h0.6v0.6h-0.6zM70.4,125.6h0.6v0.6h-0.6zM85.0,139.8h0.6v0.6h-0.6zM86.3,138.5h0.6v0.6h-0.6zM97.5,133.6h0.6v0.6h-0.6zM81.5,138.5h0.6v0.6h-0.6zM94.3,146.1h0.6v0.6h-0.6zM76.1,145.6h0.6v0.6h-0.6zM75.4,143.2h0.6v0.6h-0.6zM67.7,126.4h0.6v0.6h-0.6zM89.2,140.7h0.6v0.6h-0.6zM77.6,126.9h0.6v0.6h-0.6zM76.2,134.2h0.6v0.6h-0.6zM87.0,138.8h0.6v0.6h-0.6zM64.2,132.9h0.6v0.6h-0.6zM71.3,133.4h0.6v0.6h-0.6zM70.5,145.3h0.6v0.6h-0.6zM90.5,136.6h0.6v0.6h-0.6zM74.5,131.7h0.6v0.6h-0.6zM88.9,141.1h0.6v0.6h-0.6zM90.8,134.1h0.6v0.6h-0.6zM76.5,140.8h0.6v0.6h-0.6zM71.2,145.8h0.6v0.6h-0.6zM76.1,129.8h0.6v0.6h-0.6zM88.8,136.1h0.6v0.6h-0.6zM78.5,146.9h0.6v0.6h-0.6zM93.0,133.7h0.6v0.6h-0.6zM91.0,128.5h0.6v0.6h-0.6zM93.0,139.3h0.6v0.6h-0.6zM81.3,147.8h0.6v0.6h-0.6zM84.6,126.6h0.6v0.6h-0.6zM84.0,143.8h0.6v0.6h-0.6zM89.8,148.2h0.6v0.6h-0.6zM77.9,130.0h0.6v0.6h-0.6zM67.8,134.8h0.6v0.6h-0.6zM75.9,139.2h0.6v0.6h-0.6zM95.0,134.8h0.6v0.6h-0.6zM70.1,138.2h0.6v0.6h-0.6zM82.7,142.6h0.6v0.6h-0.6zM92.8,141.2h0.6v0.6h-0.6zM83.6,133.3h0.6v0.6h-0.6zM84.1,144.5h0.6v0.6h-0.6zM78.0,148.7h0.6v0.6h-0.6zM81.1,143.0h0.6v0.6h-0.6zM67.1,145.2h0.6v0.6h-0.6zM80.0,134.9h0.6v0.6h-0.6zM82.8,139.6h0.6v0.6h-0.6zM75.0,129.7h0.6v0.6h-0.6zM84.5,142.6h0.6v0.6h-0.6zM82.6,136.3h0.6v0.6h-0.6zM79.2,125.9h0.6v0.6h-0.6zM76.8,133.3h0.6v0.6h-0.6zM79.8,123.3h0.6v0.6h-0.6zM69.9,134.8h0.6v0.6h-0.6zM65.2,129.1h0.6v0.6h-0.6zM93.4,136.4h0.6v0.6h-0.6zM76.6,138.3h0.6v0.6h-0.6zM72.1,138.5h0.6v0.6h-0.6zM76.8,131.2h0.6v0.6h-0.6zM81.3,142.3h0.6v0.6h-0.6zM80.9,129.5h0.6v0.6h-0.6zM81.7,133.8h0.6v0.6h-0.6zM77.0,139.1h0.6v0.6h-0.6zM84.7,143.3h0.6v0.6h-0.6zM89.0,142.8h0.6v0.6h-0.6zM95.8,145.5h0.6v0.6h-0.6zM94.3,145.7h0.6v0.6h-0.6zM77.8,143.6h0.6v0.6h-0.6zM90.7,143.3h0.6v0.6h-0.6zM92.3,142.2h0.6v0.6h-0.6zM74.3,136.9h0.6v0.6h-0.6zM73.1,129.7h0.6v0.6h-0.6zM98.2,143.7h0.6v0.6h-0.6zM91.8,129.8h0.6v0.6h-0.6zM87.9,135.2h0.6v0.6h-0.6zM87.2,143.0h0.6v0.6h-0.6zM92.1,133.1h0.6v0.6h-0.6zM92.0,144.9h0.6v0.6h-0.6zM84.4,131.3h0.6v0.6h-0.6zM70.8,127.4h0.6v0.6h-0.6zM67.7,143.3h0.6v0.6h-0.6zM67.5,133.1h0.6v0.6h-0.6zM83.8,135.0h0.6v0.6h-0.6zM85.3,146.0h0.6v0.6h-0.6zM76.9,142.5h0.6v0.6h-0.6zM90.2,138.0h0.6v0.6h-0.6zM89.7,137.9h0.6v0.6h-0.6zM82.8,144.1h0.6v0.6h-0.6zM79.4,137.1h0.6v0.6h-0.6zM86.0,145.0h0.6v0.6h-0.6zM72.4,145.5h0.6v0.6h-0.6zM83.1,139.7h0.6v0.6h-0.6zM93.1,132.3h0.6v0.6h-0.6zM73.8,131.1h0.6v0.6h-0.6zM82.7,141.5h0.6v0.6h-0.6zM68.9,141.3h0.6v0.6h-0.6zM71.3,139.8h0.6v0.6h-0.6zM99.2,145.6h0.6v0.6h-0.6zM81.6,144.4h0.6v0.6h-0.6zM88.0,123.2h0.6v0.6h-0.6zM74.7,143.3h0.6v0.6h-0.6zM86.2,131.6h0.6v0.6h-0.6zM85.4,141.1h0.6v0.6h-0.6zM80.7,138.4h0.6v0.6h-0.6zM97.6,143.3h0.6v0.6h-0.6zM89.0,127.4h0.6v0.6h-0.6zM78.4,143.7h0.6v0.6h-0.6zM83.6,137.2h0.6v0.6h-0.6zM73.6,140.5h0.6v0.6h-0.6zM80.5,128.1h0.6v0.6h-0.6zM103.1,137.4h0.6v0.6h-0.6zM66.1,129.0h0.6v0.6h-0.6zM76.3,135.5h0.6v0.6h-0.6zM74.3,137.7h0.6v0.6h-0.6zM93.9,131.7h0.6v0.6h-0.6zM90.9,143.6h0.6v0.6h-0.6zM72.0,129.2h0.6v0.6h-0.6zM87.8,144.8h0.6v0.6h-0.6zM87.9,142.3h0.6v0.6h-0.6zM75.9,142.7h0.6v0.6h-0.6zM72.4,142.3h0.6v0.6h-0.6zM89.0,143.1h0.6v0.6h-0.6zM92.8,142.6h0.6v0.6h-0.6zM90.5,139.7h0.6v0.6h-0.6zM95.8,138.3h0.6v0.6h-0.6zM94.2,134.2h0.6v0.6h-0.6zM71.9,140.0h0.6v0.6h-0.6zM84.1,118.9h0.6v0.6h-0.6zM79.4,127.0h0.6v0.6h-0.6zM87.3,125.1h0.6v0.6h-0.6zM81.9,123.9h0.6v0.6h-0.6zM78.1,119.8h0.6v0.6h-0.6zM89.7,123.8h0.6v0.6h-0.6zM85.3,127.2h0.6v0.6h-0.6zM79.7,129.7h0.6v0.6h-0.6zM83.6,120.9h0.6v0.6h-0.6zM78.4,130.1h0.6v0.6h-0.6zM78.2,130.3h0.6v0.6h-0.6zM93.6,109.2h0.6v0.6h-0.6zM84.1,115.5h0.6v0.6h-0.6zM81.3,122.1h0.6v0.6h-0.6zM82.6,125.3h0.6v0.6h-0.6zM87.4,111.4h0.6v0.6h-0.6zM76.5,116.8h0.6v0.6h-0.6zM75.6,126.6h0.6v0.6h-0.6zM83.3,121.9h0.6v0.6h-0.6zM70.8,123.4h0.6v0.6h-0.6zM70.0,125.3h0.6v0.6h-0.6zM80.2,124.7h0.6v0.6h-0.6zM87.7,124.5h0.6v0.6h-0.6zM82.8,123.7h0.6v0.6h-0.6zM77.8,134.6h0.6v0.6h-0.6zM85.3,115.3h0.6v0.6h-0.6zM84.7,126.8h0.6v0.6h-0.6zM79.5,128.5h0.6v0.6h-0.6zM82.3,128.6h0.6v0.6h-0.6zM84.6,116.7h0.6v0.6h-0.6zM85.5,127.1h0.6v0.6h-0.6zM72.0,119.9h0.6v0.6h-0.6zM86.8,114.9h0.6v0.6h-0.6zM72.6,124.7h0.6v0.6h-0.6zM81.1,120.7h0.6v0.6h-0.6zM81.6,123.4h0.6v0.6h-0.6zM78.6,114.7h0.6v0.6h-0.6zM82.6,120.1h0.6v0.6h-0.6zM83.0,121.8h0.6v0.6h-0.6zM79.6,114.4h0.6v0.6h-0.6zM87.1,127.9h0.6v0.6h-0.6zM87.5,120.9h0.6v0.6h-0.6zM88.1,118.2h0.6v0.6h-0.6zM75.0,114.0h0.6v0.6h-0.6zM84.7,115.1h0.6v0.6h-0.6zM78.1,125.0h0.6v0.6h-0.6zM90.4,126.6h0.6v0.6h-0.6zM73.0,123.1h0.6v0.6h-0.6zM79.3,122.9h0.6v0.6h-0.6zM83.8,123.6h0.6v0.6h-0.6zM82.5,115.5h0.6v0.6h-0.6zM70.7,134.2h0.6v0.6h-0.6zM80.0,125.8h0.6v0.6h-0.6zM84.9,124.8h0.6v0.6h-0.6zM84.1,127.1h0.6v0.6h-0.6zM77.6,125.7h0.6v0.6h-0.6zM87.1,116.0h0.6v0.6h-0.6zM77.9,119.0h0.6v0.6h-0.6zM92.3,116.3h0.6v0.6h-0.6zM89.6,117.3h0.6v0.6h-0.6zM85.5,123.8h0.6v0.6h-0.6zM85.3,118.3h0.6v0.6h-0.6zM80.8,131.6h0.6v0.6h-0.6zM93.4,121.3h0.6v0.6h-0.6zM80.4,124.3h0.6v0.6h-0.6zM96.1,114.0h0.6v0.6h-0.6zM84.8,123.4h0.6v0.6h-0.6zM81.6,121.0h0.6v0.6h-0.6zM89.5,117.9h0.6v0.6h-0.6zM83.1,122.9h0.6v0.6h-0.6zM75.7,123.9h0.6v0.6h-0.6zM91.1,124.6h0.6v0.6h-0.6zM72.0,123.8h0.6v0.6h-0.6zM95.5,112.5h0.6v0.6h-0.6zM78.4,124.4h0.6v0.6h-0.6zM79.7,118.3h0.6v0.6h-0.6zM79.3,123.5h0.6v0.6h-0.6zM85.8,122.4h0.6v0.6h-0.6zM74.5,115.3h0.6v0.6h-0.6zM89.1,119.0h0.6v0.6h-0.6zM84.8,122.9h0.6v0.6h-0.6zM93.5,124.0h0.6v0.6h-0.6zM80.5,126.1h0.6v0.6h-0.6zM87.4,127.5h0.6v0.6h-0.6zM89.8,131.2h0.6v0.6h-0.6zM98.7,118.4h0.6v0.6h-0.6zM78.1,125.8h0.6v0.6h-0.6zM79.2,122.4h0.6v0.6h-0.6zM90.8,115.9h0.6v0.6h-0.6zM71.3,121.9h0.6v0.6h-0.6zM77.4,114.6h0.6v0.6h-0.6zM88.0,122.8h0.6v0.6h-0.6zM85.8,126.5h0.6v0.6h-0.6zM83.0,132.3h0.6v0.6h-0.6zM85.6,125.5h0.6v0.6h-0.6zM79.3,124.9h0.6v0.6h-0.6zM82.1,115.8h0.6v0.6h-0.6zM85.7,115.9h0.6v0.6h-0.6zM90.4,110.8h0.6v0.6h-0.6zM71.5,131.6h0.6v0.6h-0.6zM88.2,118.2h0.6v0.6h-0.6zM71.5,121.4h0.6v0.6h-0.6zM85.7,130.8h0.6v0.6h-0.6zM80.0,131.2h0.6v0.6h-0.6zM72.8,132.9h0.6v0.6h-0.6zM88.5,116.1h0.6v0.6h-0.6zM93.0,118.9h0.6v0.6h-0.6zM79.0,120.7h0.6v0.6h-0.6zM89.8,116.6h0.6v0.6h-0.6zM79.4,121.7h0.6v0.6h-0.6zM83.0,114.9h0.6v0.6h-0.6zM93.4,127.9h0.6v0.6h-0.6zM83.4,123.9h0.6v0.6h-0.6zM82.8,116.0h0.6v0.6h-0.6zM86.3,115.2h0.6v0.6h-0.6zM74.2,121.1h0.6v0.6h-0.6zM86.7,118.0h0.6v0.6h-0.6zM89.7,123.1h0.6v0.6h-0.6zM90.6,126.6h0.6v0.6h-0.6zM80.7,126.0h0.6v0.6h-0.6zM88.5,121.8h0.6v0.6h-0.6zM80.7,125.1h0.6v0.6h-0.6zM85.3,124.7h0.6v0.6h-0.6zM83.5,118.6h0.6v0.6h-0.6zM74.6,123.6h0.6v0.6h-0.6zM95.9,118.8h0.6v0.6h-0.6zM84.2,117.1h0.6v0.6h-0.6zM86.4,121.0h0.6v0.6h-0.6zM85.3,119.5h0.6v0.6h-0.6zM77.3,118.7h0.6v0.6h-0.6zM80.1,117.4h0.6v0.6h-0.6zM77.1,124.8h0.6v0.6h-0.6zM84.1,118.6h0.6v0.6h-0.6zM83.1,127.2h0.6v0.6h-0.6zM76.3,126.9h0.6v0.6h-0.6zM70.7,133.4h0.6v0.6h-0.6zM87.3,131.4h0.6v0.6h-0.6zM95.8,118.5h0.6v0.6h-0.6zM88.3,122.3h0.6v0.6h-0.6zM71.3,129.9h0.6v0.6h-0.6zM89.2,124.0h0.6v0.6h-0.6zM85.9,114.7h0.6v0.6h-0.6zM79.8,103.1h0.6v0.6h-0.6zM85.6,116.8h0.6v0.6h-0.6zM80.3,127.9h0.6v0.6h-0.6zM84.0,106.5h0.6v0.6h-0.6zM90.5,111.7h0.6v0.6h-0.6zM76.1,118.2h0.6v0.6h-0.6zM92.1,111.9h0.6v0.6h-0.6zM86.2,123.6h0.6v0.6h-0.6zM70.0,132.5h0.6v0.6h-0.6zM79.3,131.1h0.6v0.6h-0.6zM81.2,129.6h0.6v0.6h-0.6zM97.6,105.8h0.6v0.6h-0.6zM76.1,120.3h0.6v0.6h-0.6zM90.2,127.9h0.6v0.6h-0.6zM84.8,123.4h0.6v0.6h-0.6zM89.1,114.7h0.6v0.6h-0.6zM79.9,123.0h0.6v0.6h-0.6zM92.8,114.8h0.6v0.6h-0.6zM88.3,115.9h0.6v0.6h-0.6zM76.3,124.0h0.6v0.6h-0.6zM85.1,121.2h0.6v0.6h-0.6zM78.9,119.8h0.6v0.6h-0.6zM90.0,111.9h0.6v0.6h-0.6zM79.8,116.4h0.6v0.6h-0.6zM84.5,127.7h0.6v0.6h-0.6zM81.5,118.3h0.6v0.6h-0.6zM81.6,122.1h0.6v0.6h-0.6zM80.8,117.1h0.6v0.6h-0.6zM64.1,146.9h0.6v0.6h-0.6zM63.7,137.0h0.6v0.6h-0.6zM67.6,140.3h0.6v0.6h-0.6zM64.4,139.4h0.6v0.6h-0.6zM64.5,134.2h0.6v0.6h-0.6zM62.8,139.3h0.6v0.6h-0.6zM62.2,140.8h0.6v0.6h-0.6zM72.8,135.7h0.6v0.6h-0.6zM61.9,134.1h0.6v0.6h-0.6zM63.3,137.6h0.6v0.6h-0.6zM66.4,139.6h0.6v0.6h-0.6zM62.5,140.3h0.6v0.6h-0.6zM70.0,145.0h0.6v0.6h-0.6zM64.4,145.0h0.6v0.6h-0.6zM62.1,132.8h0.6v0.6h-0.6zM58.0,142.5h0.6v0.6h-0.6zM64.2,137.4h0.6v0.6h-0.6zM59.6,143.9h0.6v0.6h-0.6zM61.4,134.5h0.6v0.6h-0.6zM65.6,140.7h0.6v0.6h-0.6zM58.6,147.0h0.6v0.6h-0.6zM60.9,137.6h0.6v0.6h-0.6zM60.3,138.5h0.6v0.6h-0.6zM68.3,138.6h0.6v0.6h-0.6zM65.5,136.9h0.6v0.6h-0.6zM67.2,145.8h0.6v0.6h-0.6zM65.9,148.0h0.6v0.6h-0.6zM63.8,131.1h0.6v0.6h-0.6zM58.5,137.2h0.6v0.6h-0.6zM65.8,140.7h0.6v0.6h-0.6zM63.9,141.1h0.6v0.6h-0.6zM61.8,139.7h0.6v0.6h-0.6zM61.0,140.1h0.6v0.6h-0.6zM65.4,147.5h0.6v0.6h-0.6zM67.9,139.5h0.6v0.6h-0.6zM61.3,138.1h0.6v0.6h-0.6zM56.5,144.3h0.6v0.6h-0.6zM66.1,141.9h0.6v0.6h-0.6zM63.1,143.2h0.6v0.6h-0.6zM66.3,145.9h0.6v0.6h-0.6zM60.6,146.4h0.6v0.6h-0.6zM59.0,145.8h0.6v0.6h-0.6zM72.3,144.8h0.6v0.6h-0.6zM63.1,147.4h0.6v0.6h-0.6zM62.7,140.8h0.6v0.6h-0.6zM61.2,139.4h0.6v0.6h-0.6zM63.5,136.9h0.6v0.6h-0.6zM67.1,141.7h0.6v0.6h-0.6zM58.7,136.7h0.6v0.6h-0.6zM63.6,97.8h0.55v0.55h-0.55zM67.2,139.4h0.55v0.55h-0.55zM64.2,95.3h0.55v0.55h-0.55zM55.5,106.3h0.55v0.55h-0.55zM66.8,109.8h0.55v0.55h-0.55zM57.5,106.5h0.55v0.55h-0.55zM63.9,101.7h0.55v0.55h-0.55zM58.8,136.5h0.55v0.55h-0.55zM56.9,107.4h0.55v0.55h-0.55zM59.7,105.4h0.55v0.55h-0.55zM63.8,139.8h0.55v0.55h-0.55zM54.5,97.8h0.55v0.55h-0.55zM57.1,95.6h0.55v0.55h-0.55zM66.1,147.4h0.55v0.55h-0.55zM61.3,123.8h0.55v0.55h-0.55zM61.2,114.9h0.55v0.55h-0.55zM60.3,128.8h0.55v0.55h-0.55zM66.1,111.3h0.55v0.55h-0.55zM52.8,119.4h0.55v0.55h-0.55zM50.9,112.1h0.55v0.55h-0.55zM59.7,142.0h0.55v0.55h-0.55zM61.2,149.3h0.55v0.55h-0.55zM96.1,127.5h0.55v0.55h-0.55zM99.2,105.9h0.55v0.55h-0.55zM76.7,118.0h0.55v0.55h-0.55zM94.7,108.4h0.55v0.55h-0.55zM97.3,116.3h0.55v0.55h-0.55zM97.2,95.1h0.55v0.55h-0.55zM97.9,124.0h0.55v0.55h-0.55zM78.5,122.7h0.55v0.55h-0.55zM79.4,123.0h0.55v0.55h-0.55zM97.7,122.4h0.55v0.55h-0.55zM74.0,101.4h0.55v0.55h-0.55zM88.5,102.9h0.55v0.55h-0.55zM83.2,126.7h0.55v0.55h-0.55zM100.2,100.4h0.55v0.55h-0.55zM76.4,120.7h0.55v0.55h-0.55zM89.2,95.3h0.55v0.55h-0.55zM101.7,101.0h0.55v0.55h-0.55zM73.7,124.2h0.55v0.55h-0.55zM97.4,98.3h0.55v0.55h-0.55zM89.5,126.1h0.55v0.55h-0.55zM102.9,125.0h0.55v0.55h-0.55zM97.9,125.9h0.55v0.55h-0.55zM83.8,118.4h0.55v0.55h-0.55zM98.4,122.1h0.55v0.55h-0.55zM90.1,122.7h0.55v0.55h-0.55z" fill="#8a8a8a"/>
<path d="M80.0,134.0h0.7v0.7h-0.7zM84.4,137.1h0.7v0.7h-0.7zM80.7,142.6h0.7v0.7h-0.7zM79.5,140.3h0.7v0.7h-0.7zM78.5,145.9h0.7v0.7h-0.7zM82.9,139.8h0.7v0.7h-0.7zM78.3,140.2h0.7v0.7h-0.7zM73.4,138.8h0.7v0.7h-0.7zM78.2,144.1h0.7v0.7h-0.7zM81.0,137.5h0.7v0.7h-0.7zM75.7,142.1h0.7v0.7h-0.7zM80.8,142.6h0.7v0.7h-0.7zM79.8,141.3h0.7v0.7h-0.7zM79.9,145.6h0.7v0.7h-0.7zM79.7,137.5h0.7v0.7h-0.7zM82.2,142.5h0.7v0.7h-0.7zM78.8,144.1h0.7v0.7h-0.7zM81.3,138.2h0.7v0.7h-0.7zM77.3,144.9h0.7v0.7h-0.7zM82.4,136.9h0.7v0.7h-0.7zM76.4,145.8h0.7v0.7h-0.7zM87.4,143.6h0.7v0.7h-0.7zM79.5,139.3h0.7v0.7h-0.7zM82.1,144.7h0.7v0.7h-0.7zM80.9,139.8h0.7v0.7h-0.7zM75.6,136.5h0.7v0.7h-0.7zM76.5,134.7h0.7v0.7h-0.7zM81.0,139.1h0.7v0.7h-0.7zM84.8,143.3h0.7v0.7h-0.7zM79.8,146.0h0.7v0.7h-0.7zM82.4,139.6h0.7v0.7h-0.7zM79.9,138.4h0.7v0.7h-0.7zM78.3,140.2h0.7v0.7h-0.7zM78.6,139.2h0.7v0.7h-0.7zM79.1,140.6h0.7v0.7h-0.7zM83.5,139.8h0.7v0.7h-0.7zM78.6,142.0h0.7v0.7h-0.7zM80.4,137.1h0.7v0.7h-0.7zM79.0,140.0h0.7v0.7h-0.7zM77.6,142.7h0.7v0.7h-0.7zM80.7,138.7h0.7v0.7h-0.7zM83.0,141.4h0.7v0.7h-0.7zM79.9,141.1h0.7v0.7h-0.7zM82.2,142.3h0.7v0.7h-0.7zM77.7,141.3h0.7v0.7h-0.7zM79.4,139.4h0.7v0.7h-0.7zM78.8,143.5h0.7v0.7h-0.7zM80.0,147.6h0.7v0.7h-0.7zM78.1,142.9h0.7v0.7h-0.7zM82.9,139.3h0.7v0.7h-0.7zM80.0,143.5h0.7v0.7h-0.7zM85.0,140.0h0.7v0.7h-0.7zM79.3,141.3h0.7v0.7h-0.7zM81.8,139.2h0.7v0.7h-0.7zM82.3,141.7h0.7v0.7h-0.7zM79.9,137.6h0.7v0.7h-0.7zM81.9,134.1h0.7v0.7h-0.7zM77.0,135.2h0.7v0.7h-0.7zM78.7,139.7h0.7v0.7h-0.7zM78.8,138.4h0.7v0.7h-0.7zM81.8,134.7h0.7v0.7h-0.7zM75.4,141.2h0.7v0.7h-0.7zM83.2,141.4h0.7v0.7h-0.7zM76.3,135.0h0.7v0.7h-0.7zM81.4,141.1h0.7v0.7h-0.7zM80.0,136.5h0.7v0.7h-0.7zM72.6,142.6h0.7v0.7h-0.7zM84.8,142.7h0.7v0.7h-0.7zM81.3,141.7h0.7v0.7h-0.7zM79.2,139.5h0.7v0.7h-0.7zM79.9,137.9h0.7v0.7h-0.7zM80.8,136.7h0.7v0.7h-0.7zM79.5,145.3h0.7v0.7h-0.7zM84.0,137.9h0.7v0.7h-0.7zM82.2,142.0h0.7v0.7h-0.7zM82.5,141.6h0.7v0.7h-0.7zM79.0,143.7h0.7v0.7h-0.7zM82.8,136.9h0.7v0.7h-0.7zM80.0,139.4h0.7v0.7h-0.7zM76.8,140.6h0.7v0.7h-0.7zM78.8,134.5h0.7v0.7h-0.7zM85.3,140.6h0.7v0.7h-0.7zM79.3,140.9h0.7v0.7h-0.7zM77.2,137.9h0.7v0.7h-0.7zM84.6,139.1h0.7v0.7h-0.7zM74.9,141.3h0.7v0.7h-0.7zM82.3,138.2h0.7v0.7h-0.7zM78.0,144.0h0.7v0.7h-0.7zM82.3,136.7h0.7v0.7h-0.7zM78.5,139.2h0.7v0.7h-0.7zM79.2,136.5h0.7v0.7h-0.7zM79.2,137.2h0.7v0.7h-0.7zM81.8,140.8h0.7v0.7h-0.7zM78.3,139.4h0.7v0.7h-0.7zM78.4,142.9h0.7v0.7h-0.7zM81.1,142.1h0.7v0.7h-0.7zM73.8,142.2h0.7v0.7h-0.7zM79.4,139.0h0.7v0.7h-0.7zM75.7,143.5h0.7v0.7h-0.7zM84.1,140.3h0.7v0.7h-0.7zM79.3,138.2h0.7v0.7h-0.7zM82.1,140.5h0.7v0.7h-0.7zM77.7,143.9h0.7v0.7h-0.7zM81.2,141.1h0.7v0.7h-0.7zM79.6,139.5h0.7v0.7h-0.7zM77.5,138.8h0.7v0.7h-0.7zM78.2,142.8h0.7v0.7h-0.7zM77.0,144.5h0.7v0.7h-0.7zM82.8,138.5h0.7v0.7h-0.7zM77.5,135.4h0.7v0.7h-0.7zM82.1,142.3h0.7v0.7h-0.7zM84.3,141.1h0.7v0.7h-0.7zM80.9,139.4h0.7v0.7h-0.7zM76.2,142.1h0.7v0.7h-0.7zM78.8,140.1h0.7v0.7h-0.7zM77.6,141.7h0.7v0.7h-0.7zM75.0,136.7h0.7v0.7h-0.7zM82.8,142.0h0.7v0.7h-0.7zM77.0,141.0h0.7v0.7h-0.7zM80.8,143.2h0.7v0.7h-0.7zM82.8,143.1h0.7v0.7h-0.7zM78.1,145.8h0.7v0.7h-0.7zM79.8,142.2h0.7v0.7h-0.7zM81.4,144.5h0.7v0.7h-0.7zM82.7,135.5h0.7v0.7h-0.7zM75.7,139.9h0.7v0.7h-0.7zM77.6,143.0h0.7v0.7h-0.7zM84.0,144.0h0.7v0.7h-0.7zM76.8,141.8h0.7v0.7h-0.7zM82.4,142.3h0.7v0.7h-0.7zM82.4,147.9h0.7v0.7h-0.7zM82.0,141.5h0.7v0.7h-0.7zM81.4,141.2h0.7v0.7h-0.7zM78.7,140.3h0.7v0.7h-0.7zM77.2,137.5h0.7v0.7h-0.7zM80.0,137.8h0.7v0.7h-0.7zM78.0,138.4h0.7v0.7h-0.7zM76.5,132.6h0.7v0.7h-0.7zM81.5,144.1h0.7v0.7h-0.7zM80.3,138.3h0.7v0.7h-0.7zM82.9,141.3h0.7v0.7h-0.7zM75.9,140.0h0.7v0.7h-0.7zM79.9,137.8h0.7v0.7h-0.7zM81.2,136.2h0.7v0.7h-0.7zM79.8,142.3h0.7v0.7h-0.7zM74.4,141.9h0.7v0.7h-0.7zM82.1,137.9h0.7v0.7h-0.7zM76.5,139.7h0.7v0.7h-0.7zM79.7,139.7h0.7v0.7h-0.7zM78.8,137.0h0.7v0.7h-0.7zM74.6,138.2h0.7v0.7h-0.7zM82.3,142.4h0.7v0.7h-0.7zM81.7,139.7h0.7v0.7h-0.7zM78.0,138.8h0.7v0.7h-0.7zM80.2,136.3h0.7v0.7h-0.7zM80.7,141.5h0.7v0.7h-0.7zM78.0,142.8h0.7v0.7h-0.7zM81.7,133.9h0.7v0.7h-0.7zM78.5,139.9h0.7v0.7h-0.7zM73.2,142.0h0.7v0.7h-0.7zM82.4,141.7h0.7v0.7h-0.7zM79.3,144.3h0.7v0.7h-0.7zM79.9,141.1h0.7v0.7h-0.7zM81.0,143.4h0.7v0.7h-0.7zM74.9,142.8h0.7v0.7h-0.7zM80.6,144.3h0.7v0.7h-0.7zM80.3,140.0h0.7v0.7h-0.7zM77.8,140.4h0.7v0.7h-0.7zM78.1,141.7h0.7v0.7h-0.7zM79.8,138.1h0.7v0.7h-0.7zM81.6,140.1h0.7v0.7h-0.7zM78.6,144.1h0.7v0.7h-0.7zM80.9,141.5h0.7v0.7h-0.7zM77.6,143.9h0.7v0.7h-0.7zM81.3,136.9h0.7v0.7h-0.7zM78.9,143.8h0.7v0.7h-0.7zM82.4,140.0h0.7v0.7h-0.7zM80.3,140.8h0.7v0.7h-0.7zM73.2,142.3h0.7v0.7h-0.7zM83.7,138.7h0.7v0.7h-0.7zM80.0,143.0h0.7v0.7h-0.7zM80.4,143.2h0.7v0.7h-0.7zM79.8,139.6h0.7v0.7h-0.7zM77.8,140.0h0.7v0.7h-0.7zM76.1,136.9h0.7v0.7h-0.7zM80.0,137.7h0.7v0.7h-0.7zM80.1,140.0h0.7v0.7h-0.7zM79.3,141.8h0.7v0.7h-0.7zM78.4,137.4h0.7v0.7h-0.7zM78.9,139.7h0.7v0.7h-0.7zM83.4,143.1h0.7v0.7h-0.7zM76.0,135.2h0.7v0.7h-0.7zM76.3,141.8h0.7v0.7h-0.7zM74.5,142.8h0.7v0.7h-0.7zM78.8,143.4h0.7v0.7h-0.7zM80.3,137.7h0.7v0.7h-0.7zM78.5,140.8h0.7v0.7h-0.7zM82.9,139.5h0.7v0.7h-0.7zM78.0,140.6h0.7v0.7h-0.7zM77.5,141.7h0.7v0.7h-0.7zM80.7,142.7h0.7v0.7h-0.7zM77.3,143.5h0.7v0.7h-0.7zM87.6,144.2h0.7v0.7h-0.7zM79.9,140.0h0.7v0.7h-0.7zM75.3,141.6h0.7v0.7h-0.7zM85.4,141.8h0.7v0.7h-0.7zM80.7,140.1h0.7v0.7h-0.7zM76.4,146.9h0.7v0.7h-0.7zM78.7,144.8h0.7v0.7h-0.7zM79.8,140.1h0.7v0.7h-0.7zM77.2,140.6h0.7v0.7h-0.7zM80.2,139.3h0.7v0.7h-0.7zM79.4,139.8h0.7v0.7h-0.7zM77.2,138.3h0.7v0.7h-0.7zM87.1,136.7h0.7v0.7h-0.7zM81.6,136.4h0.7v0.7h-0.7zM77.0,142.9h0.7v0.7h-0.7zM75.6,142.4h0.7v0.7h-0.7zM83.8,139.7h0.7v0.7h-0.7zM81.8,143.1h0.7v0.7h-0.7zM73.8,139.1h0.7v0.7h-0.7zM78.5,142.8h0.7v0.7h-0.7zM78.4,136.7h0.7v0.7h-0.7zM75.9,140.5h0.7v0.7h-0.7zM79.9,141.5h0.7v0.7h-0.7zM76.5,141.6h0.7v0.7h-0.7zM79.3,137.5h0.7v0.7h-0.7zM76.1,146.4h0.7v0.7h-0.7zM81.3,139.3h0.7v0.7h-0.7zM81.3,138.3h0.7v0.7h-0.7zM84.4,141.9h0.7v0.7h-0.7zM73.3,139.2h0.7v0.7h-0.7zM79.0,140.6h0.7v0.7h-0.7zM76.3,143.0h0.7v0.7h-0.7zM80.1,144.4h0.7v0.7h-0.7zM80.3,144.4h0.7v0.7h-0.7zM84.1,140.6h0.7v0.7h-0.7zM80.5,143.0h0.7v0.7h-0.7zM81.0,140.0h0.7v0.7h-0.7zM86.3,143.7h0.7v0.7h-0.7zM81.1,137.0h0.7v0.7h-0.7zM76.6,139.8h0.7v0.7h-0.7zM76.5,136.2h0.7v0.7h-0.7zM81.4,142.3h0.7v0.7h-0.7zM78.1,140.3h0.7v0.7h-0.7zM82.8,142.8h0.7v0.7h-0.7zM84.8,139.8h0.7v0.7h-0.7zM78.7,142.6h0.7v0.7h-0.7zM84.9,139.9h0.7v0.7h-0.7zM78.8,139.7h0.7v0.7h-0.7zM82.9,143.7h0.7v0.7h-0.7zM76.9,143.3h0.7v0.7h-0.7zM81.9,144.0h0.7v0.7h-0.7zM78.4,140.2h0.7v0.7h-0.7zM81.2,141.8h0.7v0.7h-0.7zM77.0,142.5h0.7v0.7h-0.7zM81.4,139.7h0.7v0.7h-0.7zM80.9,143.5h0.7v0.7h-0.7zM79.7,140.6h0.7v0.7h-0.7zM76.8,140.2h0.7v0.7h-0.7zM77.8,137.6h0.7v0.7h-0.7zM82.4,141.6h0.7v0.7h-0.7zM80.6,140.9h0.7v0.7h-0.7zM83.5,135.6h0.7v0.7h-0.7zM84.1,139.1h0.7v0.7h-0.7zM77.2,138.1h0.7v0.7h-0.7zM77.3,139.9h0.7v0.7h-0.7zM81.9,138.1h0.7v0.7h-0.7zM82.0,138.9h0.7v0.7h-0.7zM79.7,144.3h0.7v0.7h-0.7zM78.8,137.2h0.7v0.7h-0.7zM79.9,141.5h0.7v0.7h-0.7zM78.7,139.2h0.7v0.7h-0.7zM81.5,137.7h0.7v0.7h-0.7zM79.3,138.1h0.7v0.7h-0.7zM81.4,139.2h0.7v0.7h-0.7zM80.7,140.2h0.7v0.7h-0.7zM79.5,137.9h0.7v0.7h-0.7zM83.2,138.9h0.7v0.7h-0.7zM79.3,136.8h0.7v0.7h-0.7zM79.9,138.0h0.7v0.7h-0.7zM76.7,143.2h0.7v0.7h-0.7zM81.8,141.1h0.7v0.7h-0.7zM80.3,141.9h0.7v0.7h-0.7zM79.7,140.9h0.7v0.7h-0.7zM77.0,139.3h0.7v0.7h-0.7zM79.3,133.2h0.7v0.7h-0.7zM76.3,137.9h0.7v0.7h-0.7zM85.4,135.9h0.7v0.7h-0.7zM74.5,142.3h0.7v0.7h-0.7zM76.9,141.7h0.7v0.7h-0.7zM79.6,144.9h0.7v0.7h-0.7zM79.7,142.7h0.7v0.7h-0.7zM79.2,140.5h0.7v0.7h-0.7zM79.8,140.2h0.7v0.7h-0.7zM83.7,144.7h0.7v0.7h-0.7zM79.8,139.7h0.7v0.7h-0.7zM80.2,143.1h0.7v0.7h-0.7zM81.7,140.5h0.7v0.7h-0.7zM75.3,146.8h0.7v0.7h-0.7zM83.8,141.7h0.7v0.7h-0.7zM80.6,144.1h0.7v0.7h-0.7zM84.4,140.6h0.7v0.7h-0.7zM80.6,139.8h0.7v0.7h-0.7zM85.2,139.4h0.7v0.7h-0.7zM78.5,143.3h0.7v0.7h-0.7zM81.5,140.4h0.7v0.7h-0.7zM82.1,141.2h0.7v0.7h-0.7zM79.7,141.4h0.7v0.7h-0.7zM81.4,141.0h0.7v0.7h-0.7zM81.1,140.8h0.7v0.7h-0.7zM81.2,137.8h0.7v0.7h-0.7zM84.5,143.2h0.7v0.7h-0.7zM80.6,142.1h0.7v0.7h-0.7zM84.8,141.7h0.7v0.7h-0.7zM76.2,141.5h0.7v0.7h-0.7zM74.2,139.9h0.7v0.7h-0.7zM83.8,137.4h0.7v0.7h-0.7zM75.5,139.4h0.7v0.7h-0.7zM80.9,145.8h0.7v0.7h-0.7zM79.1,140.2h0.7v0.7h-0.7zM76.4,146.2h0.7v0.7h-0.7zM79.3,141.7h0.7v0.7h-0.7zM82.6,140.0h0.7v0.7h-0.7zM77.3,139.1h0.7v0.7h-0.7zM79.5,142.8h0.7v0.7h-0.7zM82.7,139.0h0.7v0.7h-0.7zM78.8,136.5h0.7v0.7h-0.7zM79.9,146.4h0.7v0.7h-0.7zM81.0,139.5h0.7v0.7h-0.7zM84.0,141.6h0.7v0.7h-0.7zM83.0,144.9h0.7v0.7h-0.7zM76.3,140.6h0.7v0.7h-0.7zM79.1,143.8h0.7v0.7h-0.7zM79.5,140.8h0.7v0.7h-0.7zM74.2,139.1h0.7v0.7h-0.7zM78.1,137.6h0.7v0.7h-0.7zM80.2,139.6h0.7v0.7h-0.7zM80.3,142.9h0.7v0.7h-0.7zM80.9,140.5h0.7v0.7h-0.7zM82.4,135.0h0.7v0.7h-0.7zM78.6,137.4h0.7v0.7h-0.7zM90.8,134.3h0.7v0.7h-0.7zM78.6,142.3h0.7v0.7h-0.7zM78.0,142.8h0.7v0.7h-0.7zM74.4,144.4h0.7v0.7h-0.7zM81.7,130.2h0.7v0.7h-0.7zM73.0,134.3h0.7v0.7h-0.7zM79.2,138.3h0.7v0.7h-0.7zM82.3,142.7h0.7v0.7h-0.7zM83.8,142.0h0.7v0.7h-0.7zM76.2,133.3h0.7v0.7h-0.7zM74.1,141.6h0.7v0.7h-0.7zM75.3,134.5h0.7v0.7h-0.7zM75.9,141.6h0.7v0.7h-0.7zM73.4,139.0h0.7v0.7h-0.7zM84.4,143.6h0.7v0.7h-0.7zM71.4,139.7h0.7v0.7h-0.7zM77.5,150.9h0.7v0.7h-0.7zM79.2,133.6h0.7v0.7h-0.7zM77.2,139.8h0.7v0.7h-0.7zM78.0,143.1h0.7v0.7h-0.7zM78.4,140.1h0.7v0.7h-0.7zM98.9,141.8h0.7v0.7h-0.7zM85.1,140.0h0.7v0.7h-0.7zM67.4,147.4h0.7v0.7h-0.7zM78.1,142.9h0.7v0.7h-0.7zM72.9,140.4h0.7v0.7h-0.7zM86.4,135.0h0.7v0.7h-0.7zM90.8,144.3h0.7v0.7h-0.7zM82.6,138.6h0.7v0.7h-0.7zM85.6,130.8h0.7v0.7h-0.7zM87.3,131.0h0.7v0.7h-0.7zM77.8,145.8h0.7v0.7h-0.7zM82.3,131.4h0.7v0.7h-0.7zM71.6,134.1h0.7v0.7h-0.7zM77.7,136.1h0.7v0.7h-0.7zM85.7,138.3h0.7v0.7h-0.7zM90.0,145.9h0.7v0.7h-0.7zM73.9,145.6h0.7v0.7h-0.7zM87.6,134.7h0.7v0.7h-0.7zM78.7,136.1h0.7v0.7h-0.7zM75.1,139.6h0.7v0.7h-0.7zM82.2,136.2h0.7v0.7h-0.7zM71.8,142.7h0.7v0.7h-0.7zM87.7,145.0h0.7v0.7h-0.7zM72.8,137.5h0.7v0.7h-0.7zM78.8,136.8h0.7v0.7h-0.7zM86.3,135.8h0.7v0.7h-0.7zM78.9,141.5h0.7v0.7h-0.7zM80.9,141.0h0.7v0.7h-0.7zM79.8,142.2h0.7v0.7h-0.7zM82.2,140.1h0.7v0.7h-0.7zM83.5,141.7h0.7v0.7h-0.7zM84.3,142.0h0.7v0.7h-0.7zM83.0,141.4h0.7v0.7h-0.7zM75.9,137.7h0.7v0.7h-0.7zM78.9,136.8h0.7v0.7h-0.7zM77.9,136.8h0.7v0.7h-0.7zM76.8,141.3h0.7v0.7h-0.7zM96.6,148.5h0.7v0.7h-0.7zM80.5,140.1h0.7v0.7h-0.7zM79.1,138.8h0.7v0.7h-0.7zM83.6,141.7h0.7v0.7h-0.7zM82.0,144.0h0.7v0.7h-0.7zM78.1,143.1h0.7v0.7h-0.7zM81.4,135.5h0.7v0.7h-0.7zM87.3,135.7h0.7v0.7h-0.7zM84.8,136.6h0.7v0.7h-0.7zM76.8,144.9h0.7v0.7h-0.7zM82.7,139.8h0.7v0.7h-0.7zM76.3,132.2h0.7v0.7h-0.7zM77.9,139.1h0.7v0.7h-0.7zM85.3,139.8h0.7v0.7h-0.7zM85.9,137.4h0.7v0.7h-0.7zM85.4,143.6h0.7v0.7h-0.7zM79.2,143.5h0.7v0.7h-0.7zM89.5,133.7h0.7v0.7h-0.7zM73.5,136.8h0.7v0.7h-0.7zM77.5,135.6h0.7v0.7h-0.7zM81.3,133.7h0.7v0.7h-0.7zM90.2,139.4h0.7v0.7h-0.7zM81.6,139.0h0.7v0.7h-0.7zM77.5,140.3h0.7v0.7h-0.7zM79.8,141.4h0.7v0.7h-0.7zM84.5,136.2h0.7v0.7h-0.7zM71.0,136.8h0.7v0.7h-0.7zM81.8,130.8h0.7v0.7h-0.7zM82.9,140.3h0.7v0.7h-0.7zM73.4,140.8h0.7v0.7h-0.7zM85.5,139.4h0.7v0.7h-0.7zM83.1,142.4h0.7v0.7h-0.7zM86.8,145.1h0.7v0.7h-0.7zM76.6,138.8h0.7v0.7h-0.7zM80.7,135.4h0.7v0.7h-0.7zM81.2,141.4h0.7v0.7h-0.7zM82.2,131.5h0.7v0.7h-0.7zM77.1,128.8h0.7v0.7h-0.7zM81.0,139.7h0.7v0.7h-0.7zM84.8,143.8h0.7v0.7h-0.7zM75.5,139.4h0.7v0.7h-0.7zM81.4,143.3h0.7v0.7h-0.7zM86.7,139.0h0.7v0.7h-0.7zM72.7,143.3h0.7v0.7h-0.7zM79.4,131.8h0.7v0.7h-0.7zM81.5,136.0h0.7v0.7h-0.7zM80.7,145.1h0.7v0.7h-0.7zM80.2,136.3h0.7v0.7h-0.7zM82.8,138.5h0.7v0.7h-0.7zM81.1,144.2h0.7v0.7h-0.7zM81.8,141.9h0.7v0.7h-0.7zM80.2,140.3h0.7v0.7h-0.7zM75.0,136.4h0.7v0.7h-0.7zM86.0,145.6h0.7v0.7h-0.7zM74.7,142.8h0.7v0.7h-0.7zM85.3,136.3h0.7v0.7h-0.7zM84.3,142.4h0.7v0.7h-0.7zM86.9,147.5h0.7v0.7h-0.7zM80.7,141.5h0.7v0.7h-0.7zM75.8,141.0h0.7v0.7h-0.7zM80.7,138.9h0.7v0.7h-0.7zM81.3,143.7h0.7v0.7h-0.7zM85.5,143.2h0.7v0.7h-0.7zM90.1,133.5h0.7v0.7h-0.7zM79.8,139.5h0.7v0.7h-0.7zM78.5,137.9h0.7v0.7h-0.7zM73.2,138.4h0.7v0.7h-0.7zM87.1,137.9h0.7v0.7h-0.7zM80.4,141.7h0.7v0.7h-0.7zM80.6,135.6h0.7v0.7h-0.7zM77.9,145.0h0.7v0.7h-0.7zM77.0,134.4h0.7v0.7h-0.7zM90.8,140.4h0.7v0.7h-0.7zM74.7,132.1h0.7v0.7h-0.7zM76.6,134.1h0.7v0.7h-0.7zM79.9,143.9h0.7v0.7h-0.7zM84.8,138.2h0.7v0.7h-0.7zM84.1,137.9h0.7v0.7h-0.7zM67.1,142.9h0.7v0.7h-0.7zM76.3,135.6h0.7v0.7h-0.7zM85.9,140.1h0.7v0.7h-0.7zM85.2,144.1h0.7v0.7h-0.7zM84.7,139.3h0.7v0.7h-0.7zM91.6,135.4h0.7v0.7h-0.7zM85.8,148.1h0.7v0.7h-0.7zM79.7,137.2h0.7v0.7h-0.7zM85.1,144.7h0.7v0.7h-0.7zM83.7,137.0h0.7v0.7h-0.7zM81.5,133.4h0.7v0.7h-0.7zM86.4,144.8h0.7v0.7h-0.7zM79.7,142.5h0.7v0.7h-0.7zM79.1,140.1h0.7v0.7h-0.7zM81.5,138.9h0.7v0.7h-0.7zM96.3,138.5h0.7v0.7h-0.7zM86.1,135.9h0.7v0.7h-0.7zM82.1,139.7h0.7v0.7h-0.7zM76.3,143.5h0.7v0.7h-0.7zM84.8,145.6h0.7v0.7h-0.7zM82.9,135.3h0.7v0.7h-0.7zM85.1,141.2h0.7v0.7h-0.7zM90.5,129.5h0.7v0.7h-0.7zM79.8,140.3h0.7v0.7h-0.7zM86.3,134.7h0.7v0.7h-0.7zM86.7,141.1h0.7v0.7h-0.7zM69.7,150.2h0.7v0.7h-0.7zM69.3,135.3h0.7v0.7h-0.7zM76.2,141.9h0.7v0.7h-0.7zM78.2,139.4h0.7v0.7h-0.7zM76.6,142.0h0.7v0.7h-0.7zM85.1,147.5h0.7v0.7h-0.7zM72.8,136.6h0.7v0.7h-0.7zM77.5,137.8h0.7v0.7h-0.7zM79.9,142.6h0.7v0.7h-0.7zM77.3,137.0h0.7v0.7h-0.7zM87.4,145.9h0.7v0.7h-0.7zM90.6,148.8h0.7v0.7h-0.7zM76.7,145.7h0.7v0.7h-0.7zM84.5,139.5h0.7v0.7h-0.7zM84.0,137.0h0.7v0.7h-0.7zM74.7,138.7h0.7v0.7h-0.7zM72.6,138.1h0.7v0.7h-0.7zM81.1,135.4h0.7v0.7h-0.7zM76.7,131.2h0.7v0.7h-0.7zM74.4,139.5h0.7v0.7h-0.7zM77.2,140.4h0.7v0.7h-0.7zM77.2,137.6h0.7v0.7h-0.7zM71.8,147.2h0.7v0.7h-0.7zM79.3,143.7h0.7v0.7h-0.7zM76.5,134.7h0.7v0.7h-0.7zM82.1,137.9h0.7v0.7h-0.7zM80.3,142.6h0.7v0.7h-0.7zM83.9,143.3h0.7v0.7h-0.7zM81.7,131.4h0.7v0.7h-0.7zM83.2,146.5h0.7v0.7h-0.7zM82.7,144.4h0.7v0.7h-0.7zM83.3,142.2h0.7v0.7h-0.7zM83.9,133.2h0.7v0.7h-0.7zM69.2,140.1h0.7v0.7h-0.7zM84.0,142.2h0.7v0.7h-0.7zM79.2,137.7h0.7v0.7h-0.7zM75.1,141.3h0.7v0.7h-0.7zM82.4,143.0h0.7v0.7h-0.7zM80.0,145.4h0.7v0.7h-0.7zM76.8,144.7h0.7v0.7h-0.7zM76.4,146.1h0.7v0.7h-0.7zM85.9,135.5h0.7v0.7h-0.7zM83.6,135.5h0.7v0.7h-0.7zM90.4,144.6h0.7v0.7h-0.7zM81.2,141.5h0.7v0.7h-0.7zM80.4,137.8h0.7v0.7h-0.7zM74.8,139.5h0.7v0.7h-0.7zM86.1,141.4h0.7v0.7h-0.7zM86.8,144.4h0.7v0.7h-0.7zM83.6,135.9h0.7v0.7h-0.7zM75.5,138.2h0.7v0.7h-0.7zM68.9,132.9h0.7v0.7h-0.7zM81.1,145.8h0.7v0.7h-0.7zM92.5,140.7h0.7v0.7h-0.7zM85.9,141.4h0.7v0.7h-0.7zM76.0,144.0h0.7v0.7h-0.7zM80.5,142.6h0.7v0.7h-0.7zM70.7,138.4h0.7v0.7h-0.7zM86.0,138.9h0.7v0.7h-0.7zM80.7,143.8h0.7v0.7h-0.7zM88.6,146.0h0.7v0.7h-0.7zM81.5,137.5h0.7v0.7h-0.7zM85.9,137.0h0.7v0.7h-0.7zM74.1,136.3h0.7v0.7h-0.7zM80.5,136.7h0.7v0.7h-0.7zM76.3,144.3h0.7v0.7h-0.7zM74.6,134.5h0.7v0.7h-0.7zM81.1,142.7h0.7v0.7h-0.7zM77.9,135.6h0.7v0.7h-0.7zM93.9,138.1h0.7v0.7h-0.7zM95.2,136.7h0.7v0.7h-0.7zM87.7,134.5h0.7v0.7h-0.7zM89.6,142.4h0.7v0.7h-0.7zM82.3,137.5h0.7v0.7h-0.7zM89.4,146.0h0.7v0.7h-0.7zM81.3,141.1h0.7v0.7h-0.7zM77.4,143.1h0.7v0.7h-0.7zM79.4,142.5h0.7v0.7h-0.7zM70.5,142.1h0.7v0.7h-0.7zM86.5,140.9h0.7v0.7h-0.7zM89.6,136.7h0.7v0.7h-0.7zM87.4,140.8h0.7v0.7h-0.7zM81.6,142.2h0.7v0.7h-0.7zM88.5,132.3h0.7v0.7h-0.7zM81.5,139.8h0.7v0.7h-0.7zM85.4,140.2h0.7v0.7h-0.7zM78.7,141.3h0.7v0.7h-0.7zM85.7,137.2h0.7v0.7h-0.7zM82.1,139.7h0.7v0.7h-0.7zM78.0,140.2h0.7v0.7h-0.7zM91.8,138.1h0.7v0.7h-0.7zM84.3,142.6h0.7v0.7h-0.7zM87.6,138.8h0.7v0.7h-0.7zM74.5,143.4h0.7v0.7h-0.7zM70.3,141.4h0.7v0.7h-0.7zM86.4,143.0h0.7v0.7h-0.7zM81.6,139.2h0.7v0.7h-0.7zM78.4,144.1h0.7v0.7h-0.7zM72.2,134.9h0.7v0.7h-0.7zM78.3,139.3h0.7v0.7h-0.7zM83.8,139.0h0.7v0.7h-0.7zM81.4,137.8h0.7v0.7h-0.7zM86.8,143.9h0.7v0.7h-0.7zM72.1,144.9h0.7v0.7h-0.7zM82.9,140.6h0.7v0.7h-0.7zM85.6,142.2h0.7v0.7h-0.7zM82.1,142.1h0.7v0.7h-0.7zM71.5,142.0h0.7v0.7h-0.7zM81.9,135.4h0.7v0.7h-0.7zM78.1,142.7h0.7v0.7h-0.7zM78.6,135.7h0.7v0.7h-0.7zM79.7,137.7h0.7v0.7h-0.7zM81.6,145.4h0.7v0.7h-0.7zM92.0,140.1h0.7v0.7h-0.7zM83.6,135.7h0.7v0.7h-0.7zM84.8,142.4h0.7v0.7h-0.7zM77.6,143.3h0.7v0.7h-0.7zM77.7,140.8h0.7v0.7h-0.7zM82.5,140.5h0.7v0.7h-0.7zM82.7,142.1h0.7v0.7h-0.7zM77.9,141.1h0.7v0.7h-0.7zM84.8,144.5h0.7v0.7h-0.7zM76.5,138.3h0.7v0.7h-0.7zM78.7,134.5h0.7v0.7h-0.7zM83.4,148.4h0.7v0.7h-0.7zM77.8,138.8h0.7v0.7h-0.7zM78.8,139.8h0.7v0.7h-0.7zM76.5,148.6h0.7v0.7h-0.7zM75.6,143.1h0.7v0.7h-0.7zM86.2,140.8h0.7v0.7h-0.7zM88.7,132.7h0.7v0.7h-0.7zM65.3,143.0h0.7v0.7h-0.7zM83.1,139.5h0.7v0.7h-0.7zM82.3,136.7h0.7v0.7h-0.7zM75.6,136.7h0.7v0.7h-0.7zM81.1,142.7h0.7v0.7h-0.7zM91.4,139.0h0.7v0.7h-0.7zM72.0,144.2h0.7v0.7h-0.7zM78.8,135.7h0.7v0.7h-0.7zM84.7,131.9h0.7v0.7h-0.7zM74.1,148.3h0.7v0.7h-0.7zM78.1,142.3h0.7v0.7h-0.7zM87.9,134.7h0.7v0.7h-0.7zM81.7,145.2h0.7v0.7h-0.7zM85.6,146.3h0.7v0.7h-0.7zM94.3,149.1h0.7v0.7h-0.7zM84.7,137.4h0.7v0.7h-0.7zM85.5,137.2h0.7v0.7h-0.7zM71.3,133.7h0.7v0.7h-0.7zM81.1,139.9h0.7v0.7h-0.7zM77.9,145.0h0.7v0.7h-0.7zM80.2,136.8h0.7v0.7h-0.7zM80.8,139.9h0.7v0.7h-0.7zM84.2,139.9h0.7v0.7h-0.7zM85.8,138.2h0.7v0.7h-0.7zM80.2,142.7h0.7v0.7h-0.7zM76.7,141.0h0.7v0.7h-0.7zM81.9,144.6h0.7v0.7h-0.7zM67.8,145.8h0.7v0.7h-0.7zM79.1,140.4h0.7v0.7h-0.7zM88.5,142.4h0.7v0.7h-0.7zM73.4,138.8h0.7v0.7h-0.7zM84.9,138.8h0.7v0.7h-0.7zM82.9,144.0h0.7v0.7h-0.7zM91.4,137.1h0.7v0.7h-0.7zM72.3,136.8h0.7v0.7h-0.7zM78.4,144.5h0.7v0.7h-0.7zM82.3,145.7h0.7v0.7h-0.7zM82.0,134.2h0.7v0.7h-0.7zM83.0,137.2h0.7v0.7h-0.7zM82.6,133.0h0.7v0.7h-0.7zM85.0,135.5h0.7v0.7h-0.7zM78.7,144.0h0.7v0.7h-0.7zM79.6,136.1h0.7v0.7h-0.7zM88.8,138.6h0.7v0.7h-0.7zM86.1,139.7h0.7v0.7h-0.7zM71.2,139.2h0.7v0.7h-0.7zM82.9,139.4h0.7v0.7h-0.7zM89.8,132.7h0.7v0.7h-0.7zM77.0,142.9h0.7v0.7h-0.7zM86.9,143.9h0.7v0.7h-0.7zM75.8,141.6h0.7v0.7h-0.7zM83.6,148.1h0.7v0.7h-0.7zM92.5,142.3h0.7v0.7h-0.7zM84.3,143.4h0.7v0.7h-0.7zM80.3,141.4h0.7v0.7h-0.7zM82.9,140.7h0.7v0.7h-0.7zM84.5,140.2h0.7v0.7h-0.7zM77.8,145.1h0.7v0.7h-0.7zM85.9,136.8h0.7v0.7h-0.7zM84.1,136.3h0.7v0.7h-0.7zM82.6,137.0h0.7v0.7h-0.7zM77.6,142.0h0.7v0.7h-0.7zM76.0,143.5h0.7v0.7h-0.7zM89.5,139.0h0.7v0.7h-0.7zM76.8,141.9h0.7v0.7h-0.7zM79.6,133.5h0.7v0.7h-0.7zM92.5,138.0h0.7v0.7h-0.7zM90.7,144.0h0.7v0.7h-0.7zM84.5,141.9h0.7v0.7h-0.7zM79.2,142.9h0.7v0.7h-0.7zM77.7,141.9h0.7v0.7h-0.7zM76.2,140.3h0.7v0.7h-0.7zM65.5,137.7h0.7v0.7h-0.7zM82.9,140.5h0.7v0.7h-0.7zM82.5,142.4h0.7v0.7h-0.7zM90.1,137.8h0.7v0.7h-0.7zM61.6,142.4h0.7v0.7h-0.7zM82.0,140.2h0.7v0.7h-0.7zM84.7,147.1h0.7v0.7h-0.7zM82.5,136.0h0.7v0.7h-0.7zM84.8,137.0h0.7v0.7h-0.7zM72.8,135.4h0.7v0.7h-0.7zM80.9,134.0h0.7v0.7h-0.7zM78.8,142.1h0.7v0.7h-0.7zM68.6,145.5h0.7v0.7h-0.7zM91.6,139.4h0.7v0.7h-0.7zM80.3,139.0h0.7v0.7h-0.7zM65.0,140.9h0.7v0.7h-0.7zM72.7,139.4h0.7v0.7h-0.7zM75.1,136.2h0.7v0.7h-0.7zM76.9,135.5h0.7v0.7h-0.7zM69.0,145.3h0.7v0.7h-0.7zM75.0,144.1h0.7v0.7h-0.7zM84.8,138.7h0.7v0.7h-0.7zM81.0,140.3h0.7v0.7h-0.7zM83.5,141.9h0.7v0.7h-0.7zM79.3,139.9h0.7v0.7h-0.7zM86.3,136.5h0.7v0.7h-0.7zM71.9,130.8h0.7v0.7h-0.7zM78.9,144.3h0.7v0.7h-0.7zM91.9,137.5h0.7v0.7h-0.7zM81.7,136.3h0.7v0.7h-0.7zM81.4,139.3h0.7v0.7h-0.7zM85.6,143.5h0.7v0.7h-0.7zM83.1,140.4h0.7v0.7h-0.7zM85.4,139.2h0.7v0.7h-0.7zM87.7,146.5h0.7v0.7h-0.7zM85.3,147.5h0.7v0.7h-0.7zM77.5,142.2h0.7v0.7h-0.7zM82.2,136.9h0.7v0.7h-0.7zM82.6,139.4h0.7v0.7h-0.7zM83.3,140.7h0.7v0.7h-0.7zM84.5,138.7h0.7v0.7h-0.7zM80.8,144.1h0.7v0.7h-0.7zM87.7,140.8h0.7v0.7h-0.7zM71.5,144.1h0.7v0.7h-0.7zM84.2,135.4h0.7v0.7h-0.7zM70.2,133.1h0.7v0.7h-0.7zM72.3,147.9h0.7v0.7h-0.7zM78.4,139.4h0.7v0.7h-0.7zM84.7,146.6h0.7v0.7h-0.7zM81.6,139.8h0.7v0.7h-0.7zM86.3,145.9h0.7v0.7h-0.7zM82.2,137.7h0.7v0.7h-0.7zM75.1,143.9h0.7v0.7h-0.7zM75.7,137.6h0.7v0.7h-0.7zM69.3,134.7h0.7v0.7h-0.7zM84.1,137.5h0.7v0.7h-0.7zM84.9,139.4h0.7v0.7h-0.7zM77.9,144.1h0.7v0.7h-0.7zM81.5,138.6h0.7v0.7h-0.7zM88.8,135.8h0.7v0.7h-0.7zM74.7,140.2h0.7v0.7h-0.7zM80.6,131.8h0.7v0.7h-0.7zM79.1,139.0h0.7v0.7h-0.7zM76.1,141.0h0.7v0.7h-0.7zM69.4,141.9h0.7v0.7h-0.7zM86.2,150.0h0.7v0.7h-0.7zM73.8,144.2h0.7v0.7h-0.7zM76.4,132.9h0.7v0.7h-0.7zM80.6,136.4h0.7v0.7h-0.7zM77.5,136.3h0.7v0.7h-0.7zM83.2,139.3h0.7v0.7h-0.7zM82.9,141.0h0.7v0.7h-0.7zM83.0,140.2h0.7v0.7h-0.7zM74.3,143.0h0.7v0.7h-0.7zM78.7,140.3h0.7v0.7h-0.7zM81.4,140.6h0.7v0.7h-0.7zM77.1,137.4h0.7v0.7h-0.7zM75.8,138.7h0.7v0.7h-0.7zM84.5,136.0h0.7v0.7h-0.7zM82.1,147.7h0.7v0.7h-0.7zM73.1,140.3h0.7v0.7h-0.7zM82.4,139.0h0.7v0.7h-0.7zM77.7,143.3h0.7v0.7h-0.7zM80.1,141.1h0.7v0.7h-0.7zM74.7,145.5h0.7v0.7h-0.7zM91.1,138.8h0.7v0.7h-0.7zM82.9,137.6h0.7v0.7h-0.7zM87.2,141.9h0.7v0.7h-0.7zM81.9,139.6h0.7v0.7h-0.7zM75.5,141.0h0.7v0.7h-0.7zM82.6,132.0h0.7v0.7h-0.7zM81.3,131.8h0.7v0.7h-0.7zM88.9,140.6h0.7v0.7h-0.7zM83.3,136.6h0.7v0.7h-0.7zM90.4,141.7h0.7v0.7h-0.7zM81.3,139.3h0.7v0.7h-0.7zM76.3,138.4h0.7v0.7h-0.7zM79.0,134.7h0.7v0.7h-0.7zM86.6,133.1h0.7v0.7h-0.7zM82.9,145.6h0.7v0.7h-0.7zM82.0,141.6h0.7v0.7h-0.7zM78.5,135.5h0.7v0.7h-0.7zM90.1,133.6h0.7v0.7h-0.7zM83.0,135.1h0.7v0.7h-0.7zM83.6,142.8h0.7v0.7h-0.7zM86.9,140.1h0.7v0.7h-0.7zM80.9,138.6h0.7v0.7h-0.7zM80.9,139.7h0.7v0.7h-0.7zM85.1,139.2h0.7v0.7h-0.7zM79.7,150.1h0.7v0.7h-0.7zM74.5,140.6h0.7v0.7h-0.7zM94.0,134.3h0.7v0.7h-0.7zM88.3,140.9h0.7v0.7h-0.7zM86.4,143.0h0.7v0.7h-0.7zM72.9,144.1h0.7v0.7h-0.7zM79.0,133.4h0.7v0.7h-0.7zM83.3,135.5h0.7v0.7h-0.7zM79.8,141.3h0.7v0.7h-0.7zM72.9,143.5h0.7v0.7h-0.7zM84.8,140.5h0.7v0.7h-0.7zM85.6,139.6h0.7v0.7h-0.7zM88.8,138.1h0.7v0.7h-0.7zM81.8,143.1h0.7v0.7h-0.7zM83.3,133.2h0.7v0.7h-0.7zM79.1,145.1h0.7v0.7h-0.7zM78.0,133.5h0.7v0.7h-0.7zM83.1,135.7h0.7v0.7h-0.7zM87.5,137.2h0.7v0.7h-0.7zM67.9,134.5h0.7v0.7h-0.7zM75.0,136.9h0.7v0.7h-0.7zM82.3,140.3h0.7v0.7h-0.7zM85.5,136.4h0.7v0.7h-0.7zM78.1,141.6h0.7v0.7h-0.7zM83.3,143.6h0.7v0.7h-0.7zM72.7,140.8h0.7v0.7h-0.7zM82.9,142.2h0.7v0.7h-0.7zM79.0,141.0h0.7v0.7h-0.7zM71.6,135.5h0.7v0.7h-0.7zM86.7,136.1h0.7v0.7h-0.7zM82.3,149.6h0.7v0.7h-0.7zM72.0,135.5h0.7v0.7h-0.7zM81.3,141.2h0.7v0.7h-0.7zM81.4,140.6h0.7v0.7h-0.7zM74.2,138.5h0.7v0.7h-0.7zM85.8,135.2h0.7v0.7h-0.7zM79.5,139.8h0.7v0.7h-0.7zM85.4,136.9h0.7v0.7h-0.7zM87.7,141.2h0.7v0.7h-0.7zM82.1,138.9h0.7v0.7h-0.7zM77.2,134.6h0.7v0.7h-0.7zM84.6,139.8h0.7v0.7h-0.7zM85.0,143.2h0.7v0.7h-0.7zM76.0,140.4h0.7v0.7h-0.7zM77.1,131.7h0.7v0.7h-0.7zM85.8,140.3h0.7v0.7h-0.7zM81.1,145.3h0.7v0.7h-0.7zM74.6,145.0h0.7v0.7h-0.7zM78.0,141.4h0.7v0.7h-0.7zM81.0,136.2h0.7v0.7h-0.7zM73.0,144.5h0.7v0.7h-0.7zM78.4,141.6h0.7v0.7h-0.7zM78.2,140.9h0.7v0.7h-0.7zM79.6,139.6h0.7v0.7h-0.7zM85.0,147.2h0.7v0.7h-0.7zM75.4,137.3h0.7v0.7h-0.7zM82.6,138.4h0.7v0.7h-0.7zM80.2,143.3h0.7v0.7h-0.7zM80.6,135.4h0.7v0.7h-0.7zM85.2,140.6h0.7v0.7h-0.7zM83.0,140.6h0.7v0.7h-0.7zM70.9,145.4h0.7v0.7h-0.7zM76.7,145.0h0.7v0.7h-0.7zM74.2,140.3h0.7v0.7h-0.7zM82.1,137.3h0.7v0.7h-0.7zM83.0,142.3h0.7v0.7h-0.7zM77.8,142.7h0.7v0.7h-0.7zM81.1,142.8h0.7v0.7h-0.7zM76.4,137.2h0.7v0.7h-0.7zM78.2,137.7h0.7v0.7h-0.7zM78.6,142.3h0.7v0.7h-0.7zM82.5,136.6h0.7v0.7h-0.7zM79.6,142.0h0.7v0.7h-0.7zM76.5,138.4h0.7v0.7h-0.7zM78.2,135.7h0.7v0.7h-0.7zM75.2,136.6h0.7v0.7h-0.7zM84.1,138.3h0.7v0.7h-0.7zM82.6,137.5h0.7v0.7h-0.7zM72.8,137.5h0.7v0.7h-0.7zM85.1,140.3h0.7v0.7h-0.7zM77.9,141.2h0.7v0.7h-0.7zM80.5,137.6h0.7v0.7h-0.7zM77.4,141.2h0.7v0.7h-0.7zM78.3,133.1h0.7v0.7h-0.7zM82.2,134.5h0.7v0.7h-0.7zM71.3,133.8h0.7v0.7h-0.7zM69.2,145.3h0.7v0.7h-0.7zM79.1,144.3h0.7v0.7h-0.7zM82.3,138.5h0.7v0.7h-0.7zM72.4,142.2h0.7v0.7h-0.7zM79.4,139.3h0.7v0.7h-0.7zM73.3,145.7h0.7v0.7h-0.7zM76.0,141.3h0.7v0.7h-0.7zM80.5,147.3h0.7v0.7h-0.7zM89.2,141.9h0.7v0.7h-0.7zM79.2,144.9h0.7v0.7h-0.7zM85.2,132.7h0.7v0.7h-0.7zM80.9,137.0h0.7v0.7h-0.7zM87.5,146.8h0.7v0.7h-0.7zM76.4,138.4h0.7v0.7h-0.7zM76.1,142.4h0.7v0.7h-0.7zM85.4,133.4h0.7v0.7h-0.7zM72.2,142.7h0.7v0.7h-0.7zM81.9,136.4h0.7v0.7h-0.7zM82.8,144.9h0.7v0.7h-0.7zM88.6,142.3h0.7v0.7h-0.7zM77.4,143.7h0.7v0.7h-0.7zM83.4,137.7h0.7v0.7h-0.7zM88.6,146.2h0.7v0.7h-0.7zM92.4,140.5h0.7v0.7h-0.7zM78.9,139.1h0.7v0.7h-0.7zM81.3,136.3h0.7v0.7h-0.7zM73.4,147.6h0.7v0.7h-0.7zM84.7,141.9h0.7v0.7h-0.7zM86.1,137.5h0.7v0.7h-0.7zM79.1,139.2h0.7v0.7h-0.7zM88.2,139.5h0.7v0.7h-0.7zM82.2,138.1h0.7v0.7h-0.7zM83.1,142.6h0.7v0.7h-0.7zM80.8,138.3h0.7v0.7h-0.7zM90.8,135.9h0.7v0.7h-0.7zM76.9,143.2h0.7v0.7h-0.7zM75.4,135.7h0.7v0.7h-0.7zM83.1,144.0h0.7v0.7h-0.7zM98.1,149.6h0.7v0.7h-0.7zM84.8,149.5h0.7v0.7h-0.7zM72.4,138.4h0.7v0.7h-0.7zM70.3,146.8h0.7v0.7h-0.7zM77.1,140.3h0.7v0.7h-0.7zM78.5,140.4h0.7v0.7h-0.7zM79.0,143.0h0.7v0.7h-0.7zM89.0,137.3h0.7v0.7h-0.7zM81.0,137.8h0.7v0.7h-0.7zM75.5,147.9h0.7v0.7h-0.7zM66.9,129.5h0.7v0.7h-0.7zM69.0,145.8h0.7v0.7h-0.7zM85.7,144.9h0.7v0.7h-0.7zM72.8,138.5h0.7v0.7h-0.7zM96.5,132.2h0.7v0.7h-0.7zM66.3,131.6h0.7v0.7h-0.7zM79.1,143.8h0.7v0.7h-0.7zM87.5,138.3h0.7v0.7h-0.7zM83.8,138.8h0.7v0.7h-0.7zM78.3,146.5h0.7v0.7h-0.7zM82.1,138.2h0.7v0.7h-0.7zM81.5,140.2h0.7v0.7h-0.7zM84.7,145.1h0.7v0.7h-0.7zM81.3,141.7h0.7v0.7h-0.7zM79.1,136.3h0.7v0.7h-0.7zM95.6,137.0h0.7v0.7h-0.7zM94.3,131.3h0.7v0.7h-0.7zM94.2,133.2h0.7v0.7h-0.7zM80.9,139.7h0.7v0.7h-0.7zM81.5,139.3h0.7v0.7h-0.7zM76.1,143.6h0.7v0.7h-0.7zM79.2,133.6h0.7v0.7h-0.7zM87.6,141.9h0.7v0.7h-0.7zM76.5,132.3h0.7v0.7h-0.7zM88.7,139.9h0.7v0.7h-0.7zM80.1,135.7h0.7v0.7h-0.7zM72.9,146.7h0.7v0.7h-0.7zM84.4,135.3h0.7v0.7h-0.7zM85.9,140.8h0.7v0.7h-0.7zM82.5,129.9h0.7v0.7h-0.7zM85.2,142.9h0.7v0.7h-0.7zM73.4,142.1h0.7v0.7h-0.7zM79.7,140.4h0.7v0.7h-0.7zM73.7,143.4h0.7v0.7h-0.7zM81.4,138.8h0.7v0.7h-0.7zM83.6,133.7h0.7v0.7h-0.7zM84.7,148.5h0.7v0.7h-0.7zM86.1,139.2h0.7v0.7h-0.7zM74.8,140.4h0.7v0.7h-0.7zM81.0,137.6h0.7v0.7h-0.7zM77.6,138.7h0.7v0.7h-0.7zM86.1,139.6h0.7v0.7h-0.7zM84.1,140.7h0.7v0.7h-0.7zM86.7,138.5h0.7v0.7h-0.7zM81.4,144.5h0.7v0.7h-0.7zM85.4,147.5h0.7v0.7h-0.7zM70.7,140.0h0.7v0.7h-0.7zM76.2,140.6h0.7v0.7h-0.7zM83.9,141.5h0.7v0.7h-0.7zM74.4,143.1h0.7v0.7h-0.7zM88.7,140.2h0.7v0.7h-0.7zM82.3,147.3h0.7v0.7h-0.7zM88.4,136.8h0.7v0.7h-0.7zM90.0,141.8h0.7v0.7h-0.7zM74.5,135.9h0.7v0.7h-0.7zM67.9,135.0h0.7v0.7h-0.7zM81.5,144.2h0.7v0.7h-0.7zM80.9,137.0h0.7v0.7h-0.7zM79.2,135.9h0.7v0.7h-0.7zM78.2,148.7h0.7v0.7h-0.7zM82.1,133.4h0.7v0.7h-0.7zM80.7,135.6h0.7v0.7h-0.7zM73.4,134.6h0.7v0.7h-0.7zM94.6,134.5h0.7v0.7h-0.7zM75.5,138.4h0.7v0.7h-0.7zM89.4,151.0h0.7v0.7h-0.7zM85.8,141.7h0.7v0.7h-0.7zM78.8,138.3h0.7v0.7h-0.7zM91.5,135.6h0.7v0.7h-0.7zM86.2,134.3h0.7v0.7h-0.7zM80.5,138.4h0.7v0.7h-0.7zM87.8,129.4h0.7v0.7h-0.7zM70.0,139.3h0.7v0.7h-0.7zM82.2,143.5h0.7v0.7h-0.7zM70.8,144.6h0.7v0.7h-0.7zM85.6,138.2h0.7v0.7h-0.7zM91.5,136.2h0.7v0.7h-0.7zM89.4,146.5h0.7v0.7h-0.7zM80.5,140.4h0.7v0.7h-0.7zM78.1,140.4h0.7v0.7h-0.7zM84.9,136.8h0.7v0.7h-0.7zM81.1,141.2h0.7v0.7h-0.7zM72.1,139.7h0.7v0.7h-0.7zM82.4,147.6h0.7v0.7h-0.7zM85.0,137.6h0.7v0.7h-0.7zM80.6,142.7h0.7v0.7h-0.7zM74.0,141.9h0.7v0.7h-0.7zM75.3,144.6h0.7v0.7h-0.7zM89.2,135.1h0.7v0.7h-0.7zM87.3,143.5h0.7v0.7h-0.7zM72.4,137.5h0.7v0.7h-0.7zM80.8,144.4h0.7v0.7h-0.7zM76.4,145.5h0.7v0.7h-0.7zM89.1,138.6h0.7v0.7h-0.7zM79.3,140.6h0.7v0.7h-0.7zM84.6,142.2h0.7v0.7h-0.7zM71.0,136.3h0.7v0.7h-0.7zM70.4,145.6h0.7v0.7h-0.7zM88.0,138.5h0.7v0.7h-0.7zM86.2,133.6h0.7v0.7h-0.7zM81.4,142.0h0.7v0.7h-0.7zM69.8,139.7h0.7v0.7h-0.7zM72.8,144.5h0.7v0.7h-0.7zM80.6,137.4h0.7v0.7h-0.7zM73.7,144.7h0.7v0.7h-0.7zM82.3,136.3h0.7v0.7h-0.7zM77.2,135.0h0.7v0.7h-0.7zM90.0,137.0h0.7v0.7h-0.7zM94.2,137.3h0.7v0.7h-0.7zM74.6,138.0h0.7v0.7h-0.7zM80.4,143.3h0.7v0.7h-0.7zM99.2,149.2h0.7v0.7h-0.7zM86.2,131.9h0.7v0.7h-0.7zM92.7,149.2h0.7v0.7h-0.7zM70.6,138.2h0.7v0.7h-0.7zM84.4,150.9h0.7v0.7h-0.7zM88.5,140.3h0.7v0.7h-0.7zM64.6,144.9h0.7v0.7h-0.7zM72.3,136.3h0.7v0.7h-0.7zM70.9,142.3h0.7v0.7h-0.7zM96.0,140.6h0.7v0.7h-0.7zM88.0,135.7h0.7v0.7h-0.7zM72.3,141.0h0.7v0.7h-0.7zM68.8,134.7h0.7v0.7h-0.7zM82.0,134.0h0.7v0.7h-0.7zM87.7,146.8h0.7v0.7h-0.7zM75.3,138.2h0.7v0.7h-0.7zM81.0,142.0h0.7v0.7h-0.7zM72.9,135.5h0.7v0.7h-0.7zM88.9,142.8h0.7v0.7h-0.7zM94.5,148.2h0.7v0.7h-0.7zM84.4,135.8h0.7v0.7h-0.7zM76.5,134.2h0.7v0.7h-0.7zM87.9,144.8h0.7v0.7h-0.7zM92.3,136.7h0.7v0.7h-0.7zM90.7,136.4h0.7v0.7h-0.7zM81.6,136.3h0.7v0.7h-0.7zM84.7,140.3h0.7v0.7h-0.7zM81.9,127.3h0.7v0.7h-0.7zM84.6,144.4h0.7v0.7h-0.7zM88.3,132.7h0.7v0.7h-0.7zM66.2,146.4h0.7v0.7h-0.7zM81.4,137.2h0.7v0.7h-0.7zM73.3,135.4h0.7v0.7h-0.7zM72.9,135.2h0.7v0.7h-0.7zM84.5,129.8h0.7v0.7h-0.7zM93.9,146.1h0.7v0.7h-0.7zM68.2,140.3h0.7v0.7h-0.7zM66.0,144.3h0.7v0.7h-0.7zM57.8,145.5h0.7v0.7h-0.7zM69.2,139.1h0.7v0.7h-0.7zM64.5,144.4h0.7v0.7h-0.7zM66.4,147.2h0.7v0.7h-0.7zM62.6,136.7h0.7v0.7h-0.7zM65.1,141.4h0.7v0.7h-0.7zM64.3,143.3h0.7v0.7h-0.7zM63.9,143.0h0.7v0.7h-0.7zM62.7,146.8h0.7v0.7h-0.7zM67.7,141.8h0.7v0.7h-0.7zM63.5,139.9h0.7v0.7h-0.7zM63.2,136.2h0.7v0.7h-0.7zM63.1,145.2h0.7v0.7h-0.7zM64.7,144.5h0.7v0.7h-0.7zM65.9,139.5h0.7v0.7h-0.7zM62.7,139.9h0.7v0.7h-0.7zM65.6,138.5h0.7v0.7h-0.7zM63.8,137.3h0.7v0.7h-0.7zM69.0,135.8h0.7v0.7h-0.7zM66.7,137.0h0.7v0.7h-0.7zM64.6,147.4h0.7v0.7h-0.7z" fill="#0a0a0a"/>
<line x1="70.5" y1="92.5" x2="70.5" y2="152.5" stroke="#6a6a6a" stroke-width="0.8"/>
<line x1="47.5" y1="129.5" x2="105.5" y2="129.5" stroke="#6a6a6a" stroke-width="0.8"/>
<text x="58.5" y="119.5" font-size="3.4" text-anchor="middle" fill="#777">Q1</text>
<text x="80" y="119.5" font-size="3.4" text-anchor="middle" fill="#777">Q2</text>
<text x="58.5" y="143.3" font-size="3.4" text-anchor="middle" fill="#777">Q3</text>
<text x="48.9" y="99.1" font-size="6.7" font-weight="700" text-anchor="start" fill="#000" stroke="#000" stroke-width="0.35">2</text>
<text x="103.9" y="99.1" font-size="6.7" font-weight="700" text-anchor="end" fill="#000" stroke="#000" stroke-width="0.35">12</text>
<text x="48.9" y="136.4" font-size="6.7" font-weight="700" text-anchor="start" fill="#000" stroke="#000" stroke-width="0.35">5</text>
<text x="103.9" y="136.4" font-size="6.7" font-weight="700" text-anchor="end" fill="#000" stroke="#000" stroke-width="0.35">81</text>
<rect x="115.50" y="92.50" width="60.00" height="62.00" fill="#fff" stroke="#4a4a4a" stroke-width="0.85"/>
<line x1="112.9" y1="98" x2="115.5" y2="98" stroke="#222" stroke-width="0.7"/>
<text x="113.1" y="99.6" font-size="3.7" font-weight="700" text-anchor="end" fill="#222">10<tspan font-size="2.6" dy="-1.7">5</tspan></text>
<line x1="114.2" y1="108.62434406590748" x2="115.5" y2="108.62434406590748" stroke="#222" stroke-width="0.6"/>
<line x1="114.2" y1="105.94775692826113" x2="115.5" y2="105.94775692826113" stroke="#222" stroke-width="0.6"/>
<line x1="114.2" y1="104.04868813181497" x2="115.5" y2="104.04868813181497" stroke="#222" stroke-width="0.6"/>
<line x1="114.2" y1="102.57565593409251" x2="115.5" y2="102.57565593409251" stroke="#222" stroke-width="0.6"/>
<line x1="114.2" y1="101.37210099416862" x2="115.5" y2="101.37210099416862" stroke="#222" stroke-width="0.6"/>
<line x1="114.2" y1="100.3545097917833" x2="115.5" y2="100.3545097917833" stroke="#222" stroke-width="0.6"/>
<line x1="114.2" y1="99.47303219772246" x2="115.5" y2="99.47303219772246" stroke="#222" stroke-width="0.6"/>
<line x1="114.2" y1="98.69551385652227" x2="115.5" y2="98.69551385652227" stroke="#222" stroke-width="0.6"/>
<line x1="112.9" y1="113.2" x2="115.5" y2="113.2" stroke="#222" stroke-width="0.7"/>
<text x="113.1" y="114.8" font-size="3.7" font-weight="700" text-anchor="end" fill="#222">10<tspan font-size="2.6" dy="-1.7">4</tspan></text>
<line x1="114.2" y1="123.82434406590748" x2="115.5" y2="123.82434406590748" stroke="#222" stroke-width="0.6"/>
<line x1="114.2" y1="121.14775692826113" x2="115.5" y2="121.14775692826113" stroke="#222" stroke-width="0.6"/>
<line x1="114.2" y1="119.24868813181497" x2="115.5" y2="119.24868813181497" stroke="#222" stroke-width="0.6"/>
<line x1="114.2" y1="117.77565593409251" x2="115.5" y2="117.77565593409251" stroke="#222" stroke-width="0.6"/>
<line x1="114.2" y1="116.57210099416862" x2="115.5" y2="116.57210099416862" stroke="#222" stroke-width="0.6"/>
<line x1="114.2" y1="115.5545097917833" x2="115.5" y2="115.5545097917833" stroke="#222" stroke-width="0.6"/>
<line x1="114.2" y1="114.67303219772246" x2="115.5" y2="114.67303219772246" stroke="#222" stroke-width="0.6"/>
<line x1="114.2" y1="113.89551385652227" x2="115.5" y2="113.89551385652227" stroke="#222" stroke-width="0.6"/>
<line x1="112.9" y1="128.3" x2="115.5" y2="128.3" stroke="#222" stroke-width="0.7"/>
<text x="113.1" y="129.9" font-size="3.7" font-weight="700" text-anchor="end" fill="#222">10<tspan font-size="2.6" dy="-1.7">3</tspan></text>
<line x1="114.2" y1="138.9243440659075" x2="115.5" y2="138.9243440659075" stroke="#222" stroke-width="0.6"/>
<line x1="114.2" y1="136.24775692826114" x2="115.5" y2="136.24775692826114" stroke="#222" stroke-width="0.6"/>
<line x1="114.2" y1="134.34868813181498" x2="115.5" y2="134.34868813181498" stroke="#222" stroke-width="0.6"/>
<line x1="114.2" y1="132.87565593409252" x2="115.5" y2="132.87565593409252" stroke="#222" stroke-width="0.6"/>
<line x1="114.2" y1="131.67210099416863" x2="115.5" y2="131.67210099416863" stroke="#222" stroke-width="0.6"/>
<line x1="114.2" y1="130.6545097917833" x2="115.5" y2="130.6545097917833" stroke="#222" stroke-width="0.6"/>
<line x1="114.2" y1="129.77303219772247" x2="115.5" y2="129.77303219772247" stroke="#222" stroke-width="0.6"/>
<line x1="114.2" y1="128.99551385652228" x2="115.5" y2="128.99551385652228" stroke="#222" stroke-width="0.6"/>
<line x1="112.9" y1="143.5" x2="115.5" y2="143.5" stroke="#222" stroke-width="0.7"/>
<text x="113.1" y="145.1" font-size="3.7" font-weight="700" text-anchor="end" fill="#222">10<tspan font-size="2.6" dy="-1.7">2</tspan></text>
<line x1="114.2" y1="154.12434406590748" x2="115.5" y2="154.12434406590748" stroke="#222" stroke-width="0.6"/>
<line x1="114.2" y1="151.44775692826113" x2="115.5" y2="151.44775692826113" stroke="#222" stroke-width="0.6"/>
<line x1="114.2" y1="149.54868813181497" x2="115.5" y2="149.54868813181497" stroke="#222" stroke-width="0.6"/>
<line x1="114.2" y1="148.0756559340925" x2="115.5" y2="148.0756559340925" stroke="#222" stroke-width="0.6"/>
<line x1="114.2" y1="146.87210099416862" x2="115.5" y2="146.87210099416862" stroke="#222" stroke-width="0.6"/>
<line x1="114.2" y1="145.8545097917833" x2="115.5" y2="145.8545097917833" stroke="#222" stroke-width="0.6"/>
<line x1="114.2" y1="144.97303219772246" x2="115.5" y2="144.97303219772246" stroke="#222" stroke-width="0.6"/>
<line x1="114.2" y1="144.19551385652227" x2="115.5" y2="144.19551385652227" stroke="#222" stroke-width="0.6"/>
<line x1="114.2" y1="93.42434406590749" x2="115.5" y2="93.42434406590749" stroke="#222" stroke-width="0.6"/>
<line x1="123.2" y1="154.5" x2="123.2" y2="157.1" stroke="#222" stroke-width="0.7"/>
<text x="123.2" y="162.7" font-size="3.7" font-weight="700" text-anchor="middle" fill="#222">10<tspan font-size="2.6" dy="-1.7">2</tspan></text>
<line x1="115.67054606796314" y1="154.5" x2="115.67054606796314" y2="155.8" stroke="#222" stroke-width="0.6"/>
<line x1="117.46966387512266" y1="154.5" x2="117.46966387512266" y2="155.8" stroke="#222" stroke-width="0.6"/>
<line x1="118.86516806243867" y1="154.5" x2="118.86516806243867" y2="155.8" stroke="#222" stroke-width="0.6"/>
<line x1="120.00537800552448" y1="154.5" x2="120.00537800552448" y2="155.8" stroke="#222" stroke-width="0.6"/>
<line x1="120.9694117762053" y1="154.5" x2="120.9694117762053" y2="155.8" stroke="#222" stroke-width="0.6"/>
<line x1="121.804495812684" y1="154.5" x2="121.804495812684" y2="155.8" stroke="#222" stroke-width="0.6"/>
<line x1="122.54109213592628" y1="154.5" x2="122.54109213592628" y2="155.8" stroke="#222" stroke-width="0.6"/>
<line x1="137.7" y1="154.5" x2="137.7" y2="157.1" stroke="#222" stroke-width="0.7"/>
<text x="137.7" y="162.7" font-size="3.7" font-weight="700" text-anchor="middle" fill="#222">10<tspan font-size="2.6" dy="-1.7">3</tspan></text>
<line x1="127.63483193756132" y1="154.5" x2="127.63483193756132" y2="155.8" stroke="#222" stroke-width="0.6"/>
<line x1="130.17054606796313" y1="154.5" x2="130.17054606796313" y2="155.8" stroke="#222" stroke-width="0.6"/>
<line x1="131.96966387512265" y1="154.5" x2="131.96966387512265" y2="155.8" stroke="#222" stroke-width="0.6"/>
<line x1="133.36516806243867" y1="154.5" x2="133.36516806243867" y2="155.8" stroke="#222" stroke-width="0.6"/>
<line x1="134.50537800552445" y1="154.5" x2="134.50537800552445" y2="155.8" stroke="#222" stroke-width="0.6"/>
<line x1="135.46941177620528" y1="154.5" x2="135.46941177620528" y2="155.8" stroke="#222" stroke-width="0.6"/>
<line x1="136.30449581268397" y1="154.5" x2="136.30449581268397" y2="155.8" stroke="#222" stroke-width="0.6"/>
<line x1="137.04109213592628" y1="154.5" x2="137.04109213592628" y2="155.8" stroke="#222" stroke-width="0.6"/>
<line x1="152.8" y1="154.5" x2="152.8" y2="157.1" stroke="#222" stroke-width="0.7"/>
<text x="152.8" y="162.7" font-size="3.7" font-weight="700" text-anchor="middle" fill="#222">10<tspan font-size="2.6" dy="-1.7">4</tspan></text>
<line x1="142.73483193756135" y1="154.5" x2="142.73483193756135" y2="155.8" stroke="#222" stroke-width="0.6"/>
<line x1="145.27054606796315" y1="154.5" x2="145.27054606796315" y2="155.8" stroke="#222" stroke-width="0.6"/>
<line x1="147.06966387512267" y1="154.5" x2="147.06966387512267" y2="155.8" stroke="#222" stroke-width="0.6"/>
<line x1="148.4651680624387" y1="154.5" x2="148.4651680624387" y2="155.8" stroke="#222" stroke-width="0.6"/>
<line x1="149.60537800552447" y1="154.5" x2="149.60537800552447" y2="155.8" stroke="#222" stroke-width="0.6"/>
<line x1="150.5694117762053" y1="154.5" x2="150.5694117762053" y2="155.8" stroke="#222" stroke-width="0.6"/>
<line x1="151.404495812684" y1="154.5" x2="151.404495812684" y2="155.8" stroke="#222" stroke-width="0.6"/>
<line x1="152.1410921359263" y1="154.5" x2="152.1410921359263" y2="155.8" stroke="#222" stroke-width="0.6"/>
<line x1="167.9" y1="154.5" x2="167.9" y2="157.1" stroke="#222" stroke-width="0.7"/>
<text x="167.9" y="162.7" font-size="3.7" font-weight="700" text-anchor="middle" fill="#222">10<tspan font-size="2.6" dy="-1.7">5</tspan></text>
<line x1="157.83483193756135" y1="154.5" x2="157.83483193756135" y2="155.8" stroke="#222" stroke-width="0.6"/>
<line x1="160.37054606796315" y1="154.5" x2="160.37054606796315" y2="155.8" stroke="#222" stroke-width="0.6"/>
<line x1="162.16966387512267" y1="154.5" x2="162.16966387512267" y2="155.8" stroke="#222" stroke-width="0.6"/>
<line x1="163.5651680624387" y1="154.5" x2="163.5651680624387" y2="155.8" stroke="#222" stroke-width="0.6"/>
<line x1="164.70537800552447" y1="154.5" x2="164.70537800552447" y2="155.8" stroke="#222" stroke-width="0.6"/>
<line x1="165.6694117762053" y1="154.5" x2="165.6694117762053" y2="155.8" stroke="#222" stroke-width="0.6"/>
<line x1="166.50449581268398" y1="154.5" x2="166.50449581268398" y2="155.8" stroke="#222" stroke-width="0.6"/>
<line x1="167.2410921359263" y1="154.5" x2="167.2410921359263" y2="155.8" stroke="#222" stroke-width="0.6"/>
<line x1="172.23483193756132" y1="154.5" x2="172.23483193756132" y2="155.8" stroke="#222" stroke-width="0.6"/>
<line x1="174.77054606796315" y1="154.5" x2="174.77054606796315" y2="155.8" stroke="#222" stroke-width="0.6"/>
<path d="M149.7,142.0h0.6v0.6h-0.6zM146.7,150.7h0.6v0.6h-0.6zM167.0,148.9h0.6v0.6h-0.6zM149.6,129.0h0.6v0.6h-0.6zM145.5,129.4h0.6v0.6h-0.6zM165.9,140.8h0.6v0.6h-0.6zM154.2,133.8h0.6v0.6h-0.6zM159.7,137.3h0.6v0.6h-0.6zM151.5,140.7h0.6v0.6h-0.6zM147.1,129.6h0.6v0.6h-0.6zM165.0,150.5h0.6v0.6h-0.6zM139.5,142.5h0.6v0.6h-0.6zM143.0,135.2h0.6v0.6h-0.6zM152.7,145.1h0.6v0.6h-0.6zM141.3,148.6h0.6v0.6h-0.6zM155.8,149.9h0.6v0.6h-0.6zM148.6,124.9h0.6v0.6h-0.6zM162.5,132.1h0.6v0.6h-0.6zM164.8,132.2h0.6v0.6h-0.6zM154.8,140.5h0.6v0.6h-0.6zM140.2,130.0h0.6v0.6h-0.6zM157.4,142.4h0.6v0.6h-0.6zM151.8,152.0h0.6v0.6h-0.6zM168.2,126.4h0.6v0.6h-0.6zM150.6,131.4h0.6v0.6h-0.6zM146.4,135.8h0.6v0.6h-0.6zM139.0,141.3h0.6v0.6h-0.6zM166.7,147.9h0.6v0.6h-0.6zM141.3,140.8h0.6v0.6h-0.6zM160.2,136.1h0.6v0.6h-0.6zM170.9,143.4h0.6v0.6h-0.6zM167.1,139.8h0.6v0.6h-0.6zM161.3,144.2h0.6v0.6h-0.6zM147.3,127.9h0.6v0.6h-0.6zM156.2,132.5h0.6v0.6h-0.6zM163.9,132.0h0.6v0.6h-0.6zM160.0,130.5h0.6v0.6h-0.6zM172.9,140.6h0.6v0.6h-0.6zM145.5,139.0h0.6v0.6h-0.6zM156.9,122.8h0.6v0.6h-0.6zM146.1,141.2h0.6v0.6h-0.6zM148.4,136.6h0.6v0.6h-0.6zM168.3,147.0h0.6v0.6h-0.6zM157.3,141.9h0.6v0.6h-0.6zM169.7,141.5h0.6v0.6h-0.6zM142.9,140.4h0.6v0.6h-0.6zM145.1,133.8h0.6v0.6h-0.6zM156.2,138.6h0.6v0.6h-0.6zM154.9,144.0h0.6v0.6h-0.6zM153.7,140.5h0.6v0.6h-0.6zM162.1,135.7h0.6v0.6h-0.6zM153.5,137.0h0.6v0.6h-0.6zM145.9,133.6h0.6v0.6h-0.6zM159.7,139.7h0.6v0.6h-0.6zM143.2,143.7h0.6v0.6h-0.6zM162.1,145.1h0.6v0.6h-0.6zM166.4,139.8h0.6v0.6h-0.6zM160.8,137.8h0.6v0.6h-0.6zM147.0,138.4h0.6v0.6h-0.6zM159.6,140.7h0.6v0.6h-0.6zM150.3,134.4h0.6v0.6h-0.6zM150.5,136.3h0.6v0.6h-0.6zM153.2,142.4h0.6v0.6h-0.6zM154.7,124.7h0.6v0.6h-0.6zM162.1,135.9h0.6v0.6h-0.6zM172.6,150.9h0.6v0.6h-0.6zM164.4,137.6h0.6v0.6h-0.6zM155.1,129.6h0.6v0.6h-0.6zM168.2,135.9h0.6v0.6h-0.6zM164.5,141.5h0.6v0.6h-0.6zM172.1,140.3h0.6v0.6h-0.6zM156.1,135.8h0.6v0.6h-0.6zM141.4,141.9h0.6v0.6h-0.6zM149.7,145.5h0.6v0.6h-0.6zM166.2,140.9h0.6v0.6h-0.6zM163.0,134.3h0.6v0.6h-0.6zM161.8,138.6h0.6v0.6h-0.6zM168.3,138.7h0.6v0.6h-0.6zM137.0,145.0h0.6v0.6h-0.6zM165.7,131.2h0.6v0.6h-0.6zM155.6,141.6h0.6v0.6h-0.6zM162.8,133.0h0.6v0.6h-0.6zM149.0,135.8h0.6v0.6h-0.6zM151.7,135.2h0.6v0.6h-0.6zM157.6,130.1h0.6v0.6h-0.6zM159.3,132.7h0.6v0.6h-0.6zM151.3,134.8h0.6v0.6h-0.6zM162.7,140.1h0.6v0.6h-0.6zM151.3,141.4h0.6v0.6h-0.6zM147.1,140.5h0.6v0.6h-0.6zM157.4,139.4h0.6v0.6h-0.6zM144.8,141.4h0.6v0.6h-0.6zM160.7,141.5h0.6v0.6h-0.6zM151.9,145.6h0.6v0.6h-0.6zM171.4,146.9h0.6v0.6h-0.6zM158.3,149.9h0.6v0.6h-0.6zM149.4,127.8h0.6v0.6h-0.6zM148.5,134.7h0.6v0.6h-0.6zM150.6,138.1h0.6v0.6h-0.6zM158.6,137.0h0.6v0.6h-0.6zM147.2,136.9h0.6v0.6h-0.6zM160.0,132.6h0.6v0.6h-0.6zM143.5,136.1h0.6v0.6h-0.6zM158.2,135.2h0.6v0.6h-0.6zM153.1,134.9h0.6v0.6h-0.6zM159.7,135.4h0.6v0.6h-0.6zM148.2,134.9h0.6v0.6h-0.6zM151.6,136.2h0.6v0.6h-0.6zM135.9,132.3h0.6v0.6h-0.6zM153.3,144.0h0.6v0.6h-0.6zM147.2,131.7h0.6v0.6h-0.6zM153.0,130.3h0.6v0.6h-0.6zM139.5,139.2h0.6v0.6h-0.6zM158.8,136.2h0.6v0.6h-0.6zM159.5,142.3h0.6v0.6h-0.6zM162.5,137.4h0.6v0.6h-0.6zM160.2,135.3h0.6v0.6h-0.6zM157.5,144.5h0.6v0.6h-0.6zM170.5,141.8h0.6v0.6h-0.6zM151.8,135.5h0.6v0.6h-0.6zM146.0,144.1h0.6v0.6h-0.6zM166.4,134.1h0.6v0.6h-0.6zM152.1,138.0h0.6v0.6h-0.6zM143.2,131.1h0.6v0.6h-0.6zM160.4,134.7h0.6v0.6h-0.6zM160.8,141.4h0.6v0.6h-0.6zM167.7,134.7h0.6v0.6h-0.6zM168.0,136.2h0.6v0.6h-0.6zM156.1,147.3h0.6v0.6h-0.6zM151.6,131.6h0.6v0.6h-0.6zM161.8,137.0h0.6v0.6h-0.6zM142.5,147.4h0.6v0.6h-0.6zM150.0,144.1h0.6v0.6h-0.6zM155.3,133.9h0.6v0.6h-0.6zM156.8,130.1h0.6v0.6h-0.6zM165.4,132.5h0.6v0.6h-0.6zM153.8,139.0h0.6v0.6h-0.6zM144.5,149.0h0.6v0.6h-0.6zM157.9,140.4h0.6v0.6h-0.6zM143.5,136.4h0.6v0.6h-0.6zM154.6,136.2h0.6v0.6h-0.6zM150.2,124.7h0.6v0.6h-0.6zM146.6,152.9h0.6v0.6h-0.6zM158.9,144.4h0.6v0.6h-0.6zM145.4,147.2h0.6v0.6h-0.6zM151.5,136.7h0.6v0.6h-0.6zM157.3,138.1h0.6v0.6h-0.6zM161.3,132.1h0.6v0.6h-0.6zM156.7,131.4h0.6v0.6h-0.6zM167.6,146.9h0.6v0.6h-0.6zM153.9,138.0h0.6v0.6h-0.6zM154.6,142.1h0.6v0.6h-0.6zM160.7,141.9h0.6v0.6h-0.6zM162.4,141.1h0.6v0.6h-0.6zM148.4,143.0h0.6v0.6h-0.6zM150.9,132.1h0.6v0.6h-0.6zM158.9,137.6h0.6v0.6h-0.6zM133.6,144.1h0.6v0.6h-0.6zM155.9,141.9h0.6v0.6h-0.6zM144.9,137.5h0.6v0.6h-0.6zM150.5,138.5h0.6v0.6h-0.6zM165.4,132.9h0.6v0.6h-0.6zM152.6,136.5h0.6v0.6h-0.6zM158.7,128.7h0.6v0.6h-0.6zM161.4,135.1h0.6v0.6h-0.6zM167.8,146.7h0.6v0.6h-0.6zM153.1,134.9h0.6v0.6h-0.6zM152.1,134.4h0.6v0.6h-0.6zM164.0,151.5h0.6v0.6h-0.6zM145.2,133.7h0.6v0.6h-0.6zM157.0,140.4h0.6v0.6h-0.6zM159.5,130.7h0.6v0.6h-0.6zM162.6,136.8h0.6v0.6h-0.6zM161.1,137.6h0.6v0.6h-0.6zM143.9,144.8h0.6v0.6h-0.6zM154.0,135.2h0.6v0.6h-0.6zM144.2,136.3h0.6v0.6h-0.6zM166.2,146.8h0.6v0.6h-0.6zM161.8,135.3h0.6v0.6h-0.6zM157.1,140.4h0.6v0.6h-0.6zM150.8,136.6h0.6v0.6h-0.6zM157.7,132.8h0.6v0.6h-0.6zM153.6,131.8h0.6v0.6h-0.6zM150.4,135.7h0.6v0.6h-0.6zM159.1,142.6h0.6v0.6h-0.6zM149.9,139.7h0.6v0.6h-0.6zM168.3,124.9h0.6v0.6h-0.6zM154.7,129.4h0.6v0.6h-0.6zM166.3,142.0h0.6v0.6h-0.6zM160.0,141.1h0.6v0.6h-0.6zM141.8,146.5h0.6v0.6h-0.6zM153.5,137.9h0.6v0.6h-0.6zM143.2,139.4h0.6v0.6h-0.6zM141.7,128.9h0.6v0.6h-0.6zM166.9,126.1h0.6v0.6h-0.6zM170.0,139.5h0.6v0.6h-0.6zM150.9,152.5h0.6v0.6h-0.6zM163.3,144.5h0.6v0.6h-0.6zM146.8,137.0h0.6v0.6h-0.6zM161.4,138.5h0.6v0.6h-0.6zM139.3,140.1h0.6v0.6h-0.6zM155.4,137.0h0.6v0.6h-0.6zM158.6,135.6h0.6v0.6h-0.6zM167.4,127.9h0.6v0.6h-0.6zM149.6,142.6h0.6v0.6h-0.6zM164.2,149.4h0.6v0.6h-0.6zM164.7,131.3h0.6v0.6h-0.6zM163.5,136.6h0.6v0.6h-0.6zM167.9,145.3h0.6v0.6h-0.6zM148.5,137.2h0.6v0.6h-0.6zM157.4,131.2h0.6v0.6h-0.6zM142.9,136.5h0.6v0.6h-0.6zM162.2,148.1h0.6v0.6h-0.6zM159.9,140.2h0.6v0.6h-0.6zM152.4,147.8h0.6v0.6h-0.6zM144.1,142.5h0.6v0.6h-0.6zM165.1,148.1h0.6v0.6h-0.6zM148.9,132.7h0.6v0.6h-0.6zM152.7,144.1h0.6v0.6h-0.6zM159.8,138.7h0.6v0.6h-0.6zM163.7,138.8h0.6v0.6h-0.6zM154.4,150.1h0.6v0.6h-0.6zM152.7,141.0h0.6v0.6h-0.6zM149.8,142.2h0.6v0.6h-0.6zM150.8,143.7h0.6v0.6h-0.6zM154.0,138.7h0.6v0.6h-0.6zM164.1,136.6h0.6v0.6h-0.6zM153.2,144.2h0.6v0.6h-0.6zM163.2,141.7h0.6v0.6h-0.6zM165.5,125.1h0.6v0.6h-0.6zM156.7,146.4h0.6v0.6h-0.6zM161.5,146.6h0.6v0.6h-0.6zM147.9,142.5h0.6v0.6h-0.6zM149.2,128.8h0.6v0.6h-0.6zM170.9,143.6h0.6v0.6h-0.6zM169.1,134.7h0.6v0.6h-0.6zM155.3,134.5h0.6v0.6h-0.6zM166.6,135.4h0.6v0.6h-0.6zM151.0,136.5h0.6v0.6h-0.6zM151.8,134.9h0.6v0.6h-0.6zM171.5,131.8h0.6v0.6h-0.6zM148.5,130.3h0.6v0.6h-0.6zM165.9,133.2h0.6v0.6h-0.6zM162.4,148.3h0.6v0.6h-0.6zM159.4,151.0h0.6v0.6h-0.6zM163.4,129.7h0.6v0.6h-0.6zM161.3,136.6h0.6v0.6h-0.6zM168.6,130.7h0.6v0.6h-0.6zM164.1,129.2h0.6v0.6h-0.6zM160.8,127.9h0.6v0.6h-0.6zM134.8,141.9h0.6v0.6h-0.6zM145.5,146.6h0.6v0.6h-0.6zM156.8,134.9h0.6v0.6h-0.6zM165.0,151.2h0.6v0.6h-0.6zM152.3,134.5h0.6v0.6h-0.6zM156.4,131.4h0.6v0.6h-0.6zM152.6,132.3h0.6v0.6h-0.6zM169.1,131.7h0.6v0.6h-0.6zM167.6,146.0h0.6v0.6h-0.6zM153.3,138.4h0.6v0.6h-0.6zM147.7,149.2h0.6v0.6h-0.6zM151.2,140.4h0.6v0.6h-0.6zM152.0,139.1h0.6v0.6h-0.6zM161.1,142.2h0.6v0.6h-0.6zM165.4,139.2h0.6v0.6h-0.6zM160.9,128.7h0.6v0.6h-0.6zM152.6,127.0h0.6v0.6h-0.6zM163.6,138.9h0.6v0.6h-0.6zM144.8,134.9h0.6v0.6h-0.6zM159.8,127.0h0.6v0.6h-0.6zM152.9,122.1h0.6v0.6h-0.6zM147.5,132.5h0.6v0.6h-0.6zM148.0,124.5h0.6v0.6h-0.6zM155.9,116.1h0.6v0.6h-0.6zM166.3,129.3h0.6v0.6h-0.6zM164.4,119.8h0.6v0.6h-0.6zM164.7,116.4h0.6v0.6h-0.6zM154.0,114.5h0.6v0.6h-0.6zM153.6,118.7h0.6v0.6h-0.6zM158.3,116.1h0.6v0.6h-0.6zM153.0,107.1h0.6v0.6h-0.6zM168.7,123.6h0.6v0.6h-0.6zM160.8,120.5h0.6v0.6h-0.6zM147.3,114.2h0.6v0.6h-0.6zM154.0,117.6h0.6v0.6h-0.6zM159.9,116.7h0.6v0.6h-0.6zM138.9,124.7h0.6v0.6h-0.6zM152.6,122.5h0.6v0.6h-0.6zM155.6,123.5h0.6v0.6h-0.6zM162.0,117.0h0.6v0.6h-0.6zM158.9,120.2h0.6v0.6h-0.6zM157.2,113.3h0.6v0.6h-0.6zM151.9,120.2h0.6v0.6h-0.6zM154.5,109.7h0.6v0.6h-0.6zM162.8,119.6h0.6v0.6h-0.6zM154.8,115.6h0.6v0.6h-0.6zM151.1,120.4h0.6v0.6h-0.6zM167.2,125.2h0.6v0.6h-0.6zM157.0,120.4h0.6v0.6h-0.6zM158.5,123.7h0.6v0.6h-0.6zM164.9,123.7h0.6v0.6h-0.6zM156.6,125.1h0.6v0.6h-0.6zM142.3,115.5h0.6v0.6h-0.6zM160.3,123.7h0.6v0.6h-0.6zM151.0,125.1h0.6v0.6h-0.6zM155.1,119.3h0.6v0.6h-0.6zM156.3,117.7h0.6v0.6h-0.6zM164.6,117.3h0.6v0.6h-0.6zM151.6,124.1h0.6v0.6h-0.6zM148.3,120.3h0.6v0.6h-0.6zM150.8,119.7h0.6v0.6h-0.6zM145.2,118.5h0.6v0.6h-0.6zM144.2,121.9h0.6v0.6h-0.6zM158.1,114.9h0.6v0.6h-0.6zM146.0,116.4h0.6v0.6h-0.6zM150.1,127.6h0.6v0.6h-0.6zM162.4,115.9h0.6v0.6h-0.6zM162.6,121.0h0.6v0.6h-0.6zM147.7,112.4h0.6v0.6h-0.6zM151.4,113.8h0.6v0.6h-0.6zM151.0,117.3h0.6v0.6h-0.6zM159.2,110.6h0.6v0.6h-0.6zM171.4,116.4h0.6v0.6h-0.6zM149.1,116.3h0.6v0.6h-0.6zM149.1,126.0h0.6v0.6h-0.6zM150.0,108.0h0.6v0.6h-0.6zM150.8,122.9h0.6v0.6h-0.6zM148.1,120.0h0.6v0.6h-0.6zM166.8,123.4h0.6v0.6h-0.6zM147.9,124.3h0.6v0.6h-0.6zM156.8,118.0h0.6v0.6h-0.6zM171.8,115.2h0.6v0.6h-0.6zM162.0,117.4h0.6v0.6h-0.6zM151.3,113.1h0.6v0.6h-0.6zM160.4,120.9h0.6v0.6h-0.6zM169.5,114.7h0.6v0.6h-0.6zM166.6,116.7h0.6v0.6h-0.6zM147.1,121.7h0.6v0.6h-0.6zM163.4,118.0h0.6v0.6h-0.6zM166.0,127.8h0.6v0.6h-0.6zM168.6,120.2h0.6v0.6h-0.6zM150.5,128.7h0.6v0.6h-0.6zM159.1,117.7h0.6v0.6h-0.6zM148.1,123.0h0.6v0.6h-0.6zM170.7,121.7h0.6v0.6h-0.6zM149.9,121.4h0.6v0.6h-0.6zM154.0,122.3h0.6v0.6h-0.6zM170.3,110.6h0.6v0.6h-0.6zM159.1,117.9h0.6v0.6h-0.6zM159.0,118.0h0.6v0.6h-0.6zM149.6,127.3h0.6v0.6h-0.6zM154.5,117.9h0.6v0.6h-0.6zM165.0,123.2h0.6v0.6h-0.6zM164.6,115.9h0.6v0.6h-0.6zM154.6,123.6h0.6v0.6h-0.6zM151.9,115.0h0.6v0.6h-0.6zM149.5,117.2h0.6v0.6h-0.6zM145.9,117.5h0.6v0.6h-0.6zM152.9,124.5h0.6v0.6h-0.6zM148.8,119.4h0.6v0.6h-0.6zM153.3,115.8h0.6v0.6h-0.6zM148.3,119.9h0.6v0.6h-0.6zM161.6,119.6h0.6v0.6h-0.6zM146.3,126.0h0.6v0.6h-0.6zM157.3,119.3h0.6v0.6h-0.6zM145.8,118.6h0.6v0.6h-0.6zM170.6,120.3h0.6v0.6h-0.6zM156.1,130.0h0.6v0.6h-0.6zM165.8,117.8h0.6v0.6h-0.6zM149.8,115.5h0.6v0.6h-0.6zM155.6,116.7h0.6v0.6h-0.6zM161.4,115.5h0.6v0.6h-0.6zM164.4,113.2h0.6v0.6h-0.6zM144.5,126.4h0.6v0.6h-0.6zM149.4,121.4h0.6v0.6h-0.6zM161.3,120.3h0.6v0.6h-0.6zM165.8,122.7h0.6v0.6h-0.6zM157.0,119.8h0.6v0.6h-0.6zM167.0,119.2h0.6v0.6h-0.6zM163.8,123.1h0.6v0.6h-0.6zM152.3,122.9h0.6v0.6h-0.6zM163.6,109.3h0.6v0.6h-0.6zM154.9,117.9h0.6v0.6h-0.6zM160.7,120.5h0.6v0.6h-0.6zM147.0,114.5h0.6v0.6h-0.6zM156.1,116.6h0.6v0.6h-0.6zM155.1,120.7h0.6v0.6h-0.6zM156.7,127.0h0.6v0.6h-0.6zM159.3,121.5h0.6v0.6h-0.6zM150.9,127.1h0.6v0.6h-0.6zM165.4,120.1h0.6v0.6h-0.6zM155.6,122.1h0.6v0.6h-0.6zM165.4,124.3h0.6v0.6h-0.6zM152.2,124.5h0.6v0.6h-0.6zM156.9,116.5h0.6v0.6h-0.6zM154.6,123.9h0.6v0.6h-0.6zM170.7,117.3h0.6v0.6h-0.6zM153.1,120.7h0.6v0.6h-0.6zM153.8,113.6h0.6v0.6h-0.6zM166.2,114.4h0.6v0.6h-0.6zM154.4,120.4h0.6v0.6h-0.6zM155.3,123.7h0.6v0.6h-0.6zM148.8,113.9h0.6v0.6h-0.6zM158.9,119.2h0.6v0.6h-0.6zM148.3,124.1h0.6v0.6h-0.6zM158.7,111.7h0.6v0.6h-0.6zM158.6,122.4h0.6v0.6h-0.6zM162.2,115.9h0.6v0.6h-0.6zM155.4,119.5h0.6v0.6h-0.6zM160.7,115.9h0.6v0.6h-0.6zM156.1,118.2h0.6v0.6h-0.6zM155.8,116.0h0.6v0.6h-0.6zM159.6,124.4h0.6v0.6h-0.6zM167.0,118.7h0.6v0.6h-0.6zM159.6,119.9h0.6v0.6h-0.6zM159.7,114.4h0.6v0.6h-0.6zM144.1,127.9h0.6v0.6h-0.6zM163.7,120.8h0.6v0.6h-0.6zM166.8,114.0h0.6v0.6h-0.6zM158.3,130.0h0.6v0.6h-0.6zM173.7,113.4h0.6v0.6h-0.6zM157.3,118.4h0.6v0.6h-0.6zM171.8,123.1h0.6v0.6h-0.6zM151.2,122.9h0.6v0.6h-0.6zM156.1,113.4h0.6v0.6h-0.6zM153.3,124.6h0.6v0.6h-0.6zM141.4,128.6h0.6v0.6h-0.6zM162.3,123.9h0.6v0.6h-0.6zM142.5,123.8h0.6v0.6h-0.6zM150.5,112.7h0.6v0.6h-0.6zM151.1,121.8h0.6v0.6h-0.6zM156.8,133.0h0.6v0.6h-0.6zM165.7,126.6h0.6v0.6h-0.6zM162.3,120.8h0.6v0.6h-0.6zM157.7,132.6h0.6v0.6h-0.6zM154.5,114.4h0.6v0.6h-0.6zM160.6,119.5h0.6v0.6h-0.6zM157.4,113.5h0.6v0.6h-0.6zM151.1,119.6h0.6v0.6h-0.6zM154.1,121.7h0.6v0.6h-0.6zM167.8,121.1h0.6v0.6h-0.6zM160.3,117.9h0.6v0.6h-0.6zM146.6,122.3h0.6v0.6h-0.6zM157.1,116.5h0.6v0.6h-0.6zM151.2,124.1h0.6v0.6h-0.6zM161.4,119.2h0.6v0.6h-0.6zM163.1,111.9h0.6v0.6h-0.6zM156.3,126.8h0.6v0.6h-0.6zM154.5,121.4h0.6v0.6h-0.6zM155.1,121.8h0.6v0.6h-0.6zM149.5,113.2h0.6v0.6h-0.6zM163.7,121.9h0.6v0.6h-0.6zM164.2,114.8h0.6v0.6h-0.6zM158.8,119.0h0.6v0.6h-0.6zM141.1,114.1h0.6v0.6h-0.6zM160.6,127.9h0.6v0.6h-0.6zM153.2,128.5h0.6v0.6h-0.6zM149.1,123.5h0.6v0.6h-0.6zM154.5,114.4h0.6v0.6h-0.6zM163.4,116.2h0.6v0.6h-0.6zM160.5,124.1h0.6v0.6h-0.6zM151.9,116.9h0.6v0.6h-0.6zM156.1,119.5h0.6v0.6h-0.6zM170.4,122.2h0.6v0.6h-0.6zM152.2,121.0h0.6v0.6h-0.6zM155.5,119.5h0.6v0.6h-0.6zM164.1,122.2h0.6v0.6h-0.6zM154.6,124.0h0.6v0.6h-0.6zM164.4,122.2h0.6v0.6h-0.6zM152.7,127.7h0.6v0.6h-0.6zM168.2,115.1h0.6v0.6h-0.6zM163.6,123.3h0.6v0.6h-0.6zM160.9,123.3h0.6v0.6h-0.6zM155.4,118.9h0.6v0.6h-0.6zM146.7,131.6h0.6v0.6h-0.6zM162.7,120.0h0.6v0.6h-0.6zM164.0,126.3h0.6v0.6h-0.6zM158.0,122.3h0.6v0.6h-0.6zM167.6,114.8h0.6v0.6h-0.6zM146.1,123.2h0.6v0.6h-0.6zM168.6,117.3h0.6v0.6h-0.6zM160.3,117.6h0.6v0.6h-0.6zM156.9,119.4h0.6v0.6h-0.6zM173.2,110.8h0.6v0.6h-0.6zM152.4,113.7h0.6v0.6h-0.6zM159.5,130.1h0.6v0.6h-0.6zM141.6,106.9h0.6v0.6h-0.6zM161.7,119.1h0.6v0.6h-0.6zM156.3,120.3h0.6v0.6h-0.6zM156.9,118.3h0.6v0.6h-0.6zM153.9,120.6h0.6v0.6h-0.6zM152.8,118.2h0.6v0.6h-0.6zM162.0,123.1h0.6v0.6h-0.6zM164.5,125.1h0.6v0.6h-0.6zM159.4,129.1h0.6v0.6h-0.6zM160.9,120.9h0.6v0.6h-0.6zM141.1,126.6h0.6v0.6h-0.6zM160.3,119.1h0.6v0.6h-0.6zM145.1,119.3h0.6v0.6h-0.6zM149.5,119.9h0.6v0.6h-0.6zM159.2,119.3h0.6v0.6h-0.6zM155.8,119.2h0.6v0.6h-0.6zM172.5,114.1h0.6v0.6h-0.6zM161.5,115.3h0.6v0.6h-0.6zM154.6,125.8h0.6v0.6h-0.6zM149.4,120.1h0.6v0.6h-0.6zM130.0,138.8h0.6v0.6h-0.6zM134.8,137.4h0.6v0.6h-0.6zM133.4,138.2h0.6v0.6h-0.6zM129.6,135.5h0.6v0.6h-0.6zM126.7,137.3h0.6v0.6h-0.6zM131.8,132.4h0.6v0.6h-0.6zM138.0,135.3h0.6v0.6h-0.6zM135.5,133.1h0.6v0.6h-0.6zM132.3,137.7h0.6v0.6h-0.6zM131.6,132.1h0.6v0.6h-0.6zM135.6,133.8h0.6v0.6h-0.6zM128.8,132.7h0.6v0.6h-0.6zM139.0,133.1h0.6v0.6h-0.6zM128.8,136.5h0.6v0.6h-0.6zM132.1,132.1h0.6v0.6h-0.6zM140.5,136.5h0.6v0.6h-0.6zM130.1,135.8h0.6v0.6h-0.6zM132.4,143.9h0.6v0.6h-0.6zM135.0,133.6h0.6v0.6h-0.6zM132.2,133.8h0.6v0.6h-0.6zM131.4,136.6h0.6v0.6h-0.6zM140.1,129.2h0.6v0.6h-0.6zM133.7,136.5h0.6v0.6h-0.6zM133.7,138.1h0.6v0.6h-0.6zM136.9,135.6h0.6v0.6h-0.6zM131.7,137.6h0.6v0.6h-0.6zM131.5,131.8h0.6v0.6h-0.6zM133.0,135.0h0.6v0.6h-0.6zM131.9,133.1h0.6v0.6h-0.6zM134.4,138.6h0.6v0.6h-0.6zM131.5,130.8h0.6v0.6h-0.6zM129.4,132.6h0.6v0.6h-0.6zM134.3,136.7h0.6v0.6h-0.6zM132.3,129.8h0.6v0.6h-0.6zM129.7,137.0h0.6v0.6h-0.6zM135.8,137.7h0.6v0.6h-0.6zM136.7,135.4h0.6v0.6h-0.6zM132.1,130.4h0.6v0.6h-0.6zM133.9,133.5h0.6v0.6h-0.6zM130.1,131.5h0.6v0.6h-0.6zM127.1,141.6h0.6v0.6h-0.6zM131.4,144.0h0.6v0.6h-0.6zM131.2,139.3h0.6v0.6h-0.6zM133.2,140.9h0.6v0.6h-0.6zM124.7,139.9h0.6v0.6h-0.6zM126.8,136.0h0.6v0.6h-0.6zM127.8,143.5h0.6v0.6h-0.6zM136.2,138.7h0.6v0.6h-0.6zM132.7,142.4h0.6v0.6h-0.6zM131.9,145.8h0.6v0.6h-0.6zM130.5,138.3h0.6v0.6h-0.6zM126.9,137.3h0.6v0.6h-0.6zM130.8,134.1h0.6v0.6h-0.6zM134.1,134.8h0.6v0.6h-0.6zM126.9,138.2h0.6v0.6h-0.6zM129.6,138.7h0.6v0.6h-0.6zM130.0,145.3h0.6v0.6h-0.6zM129.7,142.1h0.6v0.6h-0.6zM128.0,144.7h0.6v0.6h-0.6zM130.4,140.6h0.6v0.6h-0.6zM130.2,133.5h0.55v0.55h-0.55zM133.5,130.5h0.55v0.55h-0.55zM118.6,101.3h0.55v0.55h-0.55zM127.8,151.4h0.55v0.55h-0.55zM136.2,127.6h0.55v0.55h-0.55zM121.8,138.2h0.55v0.55h-0.55zM131.4,95.6h0.55v0.55h-0.55zM117.8,136.7h0.55v0.55h-0.55zM136.9,138.4h0.55v0.55h-0.55zM123.5,102.6h0.55v0.55h-0.55zM120.6,120.6h0.55v0.55h-0.55zM137.8,115.6h0.55v0.55h-0.55zM130.8,101.0h0.55v0.55h-0.55zM120.0,121.1h0.55v0.55h-0.55zM126.1,112.3h0.55v0.55h-0.55zM162.8,107.0h0.55v0.55h-0.55zM149.3,116.4h0.55v0.55h-0.55zM163.4,116.2h0.55v0.55h-0.55zM146.5,151.4h0.55v0.55h-0.55zM159.7,115.0h0.55v0.55h-0.55zM153.0,95.1h0.55v0.55h-0.55zM160.4,98.3h0.55v0.55h-0.55zM166.4,132.9h0.55v0.55h-0.55zM152.0,136.6h0.55v0.55h-0.55zM151.2,122.3h0.55v0.55h-0.55zM162.6,105.1h0.55v0.55h-0.55zM156.0,127.3h0.55v0.55h-0.55zM165.7,151.2h0.55v0.55h-0.55zM151.7,135.2h0.55v0.55h-0.55zM145.0,121.1h0.55v0.55h-0.55zM155.8,115.2h0.55v0.55h-0.55zM158.1,112.0h0.55v0.55h-0.55zM146.9,130.1h0.55v0.55h-0.55zM154.6,143.8h0.55v0.55h-0.55zM170.8,144.5h0.55v0.55h-0.55zM149.6,115.9h0.55v0.55h-0.55zM150.0,113.9h0.55v0.55h-0.55zM149.2,108.6h0.55v0.55h-0.55zM144.0,151.6h0.55v0.55h-0.55zM164.2,109.2h0.55v0.55h-0.55zM167.1,120.7h0.55v0.55h-0.55zM159.6,132.7h0.55v0.55h-0.55zM167.1,100.7h0.55v0.55h-0.55zM166.2,117.3h0.55v0.55h-0.55zM143.0,119.8h0.55v0.55h-0.55zM164.4,114.6h0.55v0.55h-0.55zM163.5,100.1h0.55v0.55h-0.55zM164.4,131.4h0.55v0.55h-0.55zM142.6,105.8h0.55v0.55h-0.55zM144.7,143.6h0.55v0.55h-0.55z" fill="#8a8a8a"/>
<path d="M149.4,138.5h0.7v0.7h-0.7zM156.4,141.6h0.7v0.7h-0.7zM155.2,140.1h0.7v0.7h-0.7zM156.9,144.7h0.7v0.7h-0.7zM149.9,140.9h0.7v0.7h-0.7zM150.2,136.2h0.7v0.7h-0.7zM151.1,144.1h0.7v0.7h-0.7zM160.0,145.6h0.7v0.7h-0.7zM155.6,139.6h0.7v0.7h-0.7zM154.4,142.2h0.7v0.7h-0.7zM152.8,140.5h0.7v0.7h-0.7zM151.3,139.3h0.7v0.7h-0.7zM155.0,140.8h0.7v0.7h-0.7zM156.4,144.8h0.7v0.7h-0.7zM157.3,142.5h0.7v0.7h-0.7zM151.8,144.2h0.7v0.7h-0.7zM162.8,138.7h0.7v0.7h-0.7zM146.4,134.9h0.7v0.7h-0.7zM159.0,143.1h0.7v0.7h-0.7zM154.9,140.0h0.7v0.7h-0.7zM160.0,138.4h0.7v0.7h-0.7zM157.2,139.5h0.7v0.7h-0.7zM157.6,144.8h0.7v0.7h-0.7zM157.3,144.2h0.7v0.7h-0.7zM153.7,142.5h0.7v0.7h-0.7zM157.2,147.2h0.7v0.7h-0.7zM155.6,141.8h0.7v0.7h-0.7zM152.4,142.3h0.7v0.7h-0.7zM148.5,140.2h0.7v0.7h-0.7zM159.8,138.0h0.7v0.7h-0.7zM153.5,143.2h0.7v0.7h-0.7zM151.7,142.0h0.7v0.7h-0.7zM150.7,139.7h0.7v0.7h-0.7zM159.1,135.8h0.7v0.7h-0.7zM147.4,135.6h0.7v0.7h-0.7zM157.0,138.7h0.7v0.7h-0.7zM159.9,134.3h0.7v0.7h-0.7zM155.8,132.9h0.7v0.7h-0.7zM163.1,142.3h0.7v0.7h-0.7zM153.2,138.9h0.7v0.7h-0.7zM154.4,133.3h0.7v0.7h-0.7zM146.7,136.8h0.7v0.7h-0.7zM152.5,136.6h0.7v0.7h-0.7zM159.9,132.4h0.7v0.7h-0.7zM156.8,136.5h0.7v0.7h-0.7zM153.5,138.3h0.7v0.7h-0.7zM155.3,142.1h0.7v0.7h-0.7zM150.0,145.4h0.7v0.7h-0.7zM151.0,135.6h0.7v0.7h-0.7zM153.9,143.6h0.7v0.7h-0.7zM156.0,139.2h0.7v0.7h-0.7zM160.2,136.2h0.7v0.7h-0.7zM151.4,146.7h0.7v0.7h-0.7zM159.3,138.6h0.7v0.7h-0.7zM154.9,138.7h0.7v0.7h-0.7zM155.6,140.2h0.7v0.7h-0.7zM150.5,136.5h0.7v0.7h-0.7zM154.2,138.1h0.7v0.7h-0.7zM152.6,139.3h0.7v0.7h-0.7zM154.0,146.5h0.7v0.7h-0.7zM155.8,138.3h0.7v0.7h-0.7zM156.2,136.1h0.7v0.7h-0.7zM151.0,141.6h0.7v0.7h-0.7zM151.2,137.5h0.7v0.7h-0.7zM160.4,146.0h0.7v0.7h-0.7zM158.1,136.4h0.7v0.7h-0.7zM148.0,138.1h0.7v0.7h-0.7zM149.7,138.1h0.7v0.7h-0.7zM152.9,141.9h0.7v0.7h-0.7zM162.9,136.4h0.7v0.7h-0.7zM153.5,135.2h0.7v0.7h-0.7zM160.1,143.3h0.7v0.7h-0.7zM155.9,137.6h0.7v0.7h-0.7zM154.0,141.6h0.7v0.7h-0.7zM145.9,141.4h0.7v0.7h-0.7zM156.6,136.9h0.7v0.7h-0.7zM159.2,138.2h0.7v0.7h-0.7zM156.6,143.4h0.7v0.7h-0.7zM157.0,136.1h0.7v0.7h-0.7zM155.8,142.6h0.7v0.7h-0.7zM152.6,136.9h0.7v0.7h-0.7zM154.9,143.0h0.7v0.7h-0.7zM160.0,145.0h0.7v0.7h-0.7zM156.2,134.3h0.7v0.7h-0.7zM154.4,139.3h0.7v0.7h-0.7zM159.9,142.6h0.7v0.7h-0.7zM149.8,136.2h0.7v0.7h-0.7zM155.1,136.9h0.7v0.7h-0.7zM147.8,135.3h0.7v0.7h-0.7zM159.7,141.5h0.7v0.7h-0.7zM150.2,140.3h0.7v0.7h-0.7zM152.4,137.8h0.7v0.7h-0.7zM158.6,144.6h0.7v0.7h-0.7zM158.7,138.8h0.7v0.7h-0.7zM159.4,135.1h0.7v0.7h-0.7zM147.4,138.8h0.7v0.7h-0.7zM152.6,143.6h0.7v0.7h-0.7zM150.4,141.2h0.7v0.7h-0.7zM155.7,141.8h0.7v0.7h-0.7zM152.6,139.3h0.7v0.7h-0.7zM151.2,140.4h0.7v0.7h-0.7zM151.6,142.6h0.7v0.7h-0.7zM155.5,140.0h0.7v0.7h-0.7zM155.0,140.9h0.7v0.7h-0.7zM157.7,144.2h0.7v0.7h-0.7zM147.4,145.6h0.7v0.7h-0.7zM156.0,143.5h0.7v0.7h-0.7zM158.7,138.7h0.7v0.7h-0.7zM151.3,144.2h0.7v0.7h-0.7zM161.4,138.1h0.7v0.7h-0.7zM148.2,144.3h0.7v0.7h-0.7zM158.0,139.8h0.7v0.7h-0.7zM150.2,147.3h0.7v0.7h-0.7zM153.4,141.5h0.7v0.7h-0.7zM152.2,145.9h0.7v0.7h-0.7zM155.8,144.8h0.7v0.7h-0.7zM157.8,142.6h0.7v0.7h-0.7zM153.8,139.5h0.7v0.7h-0.7zM152.1,139.6h0.7v0.7h-0.7zM149.3,143.1h0.7v0.7h-0.7zM158.7,140.5h0.7v0.7h-0.7zM144.2,138.7h0.7v0.7h-0.7zM146.9,140.1h0.7v0.7h-0.7zM160.3,135.3h0.7v0.7h-0.7zM152.5,140.6h0.7v0.7h-0.7zM154.3,142.1h0.7v0.7h-0.7zM158.3,141.9h0.7v0.7h-0.7zM153.3,135.4h0.7v0.7h-0.7zM154.9,138.3h0.7v0.7h-0.7zM155.2,141.2h0.7v0.7h-0.7zM151.4,140.9h0.7v0.7h-0.7zM154.4,134.8h0.7v0.7h-0.7zM153.2,143.1h0.7v0.7h-0.7zM147.1,141.1h0.7v0.7h-0.7zM159.3,136.5h0.7v0.7h-0.7zM153.2,135.7h0.7v0.7h-0.7zM160.4,140.9h0.7v0.7h-0.7zM155.3,140.6h0.7v0.7h-0.7zM154.9,143.5h0.7v0.7h-0.7zM155.2,135.2h0.7v0.7h-0.7zM156.6,149.7h0.7v0.7h-0.7zM159.2,140.8h0.7v0.7h-0.7zM155.4,139.0h0.7v0.7h-0.7zM152.6,138.6h0.7v0.7h-0.7zM153.8,140.4h0.7v0.7h-0.7zM154.4,136.0h0.7v0.7h-0.7zM152.6,141.6h0.7v0.7h-0.7zM157.2,142.8h0.7v0.7h-0.7zM152.0,143.0h0.7v0.7h-0.7zM154.7,144.5h0.7v0.7h-0.7zM152.5,145.6h0.7v0.7h-0.7zM154.0,141.1h0.7v0.7h-0.7zM154.9,140.9h0.7v0.7h-0.7zM151.1,143.1h0.7v0.7h-0.7zM153.0,144.9h0.7v0.7h-0.7zM154.1,136.8h0.7v0.7h-0.7zM147.4,137.3h0.7v0.7h-0.7zM157.5,140.4h0.7v0.7h-0.7zM158.4,142.9h0.7v0.7h-0.7zM156.9,136.2h0.7v0.7h-0.7zM155.1,137.1h0.7v0.7h-0.7zM160.0,138.2h0.7v0.7h-0.7zM155.8,138.9h0.7v0.7h-0.7zM156.0,145.8h0.7v0.7h-0.7zM155.8,145.9h0.7v0.7h-0.7zM144.8,138.5h0.7v0.7h-0.7zM150.0,141.8h0.7v0.7h-0.7zM150.2,147.1h0.7v0.7h-0.7zM155.2,142.0h0.7v0.7h-0.7zM163.9,137.0h0.7v0.7h-0.7zM153.6,142.6h0.7v0.7h-0.7zM152.4,142.3h0.7v0.7h-0.7zM149.3,142.4h0.7v0.7h-0.7zM150.0,142.7h0.7v0.7h-0.7zM150.6,144.9h0.7v0.7h-0.7zM152.1,142.4h0.7v0.7h-0.7zM150.6,142.8h0.7v0.7h-0.7zM146.6,130.0h0.7v0.7h-0.7zM151.5,144.3h0.7v0.7h-0.7zM157.6,145.7h0.7v0.7h-0.7zM155.3,136.5h0.7v0.7h-0.7zM154.7,142.4h0.7v0.7h-0.7zM152.3,142.3h0.7v0.7h-0.7zM157.2,137.5h0.7v0.7h-0.7zM161.0,136.8h0.7v0.7h-0.7zM153.0,140.4h0.7v0.7h-0.7zM154.1,137.4h0.7v0.7h-0.7zM160.0,140.1h0.7v0.7h-0.7zM152.7,137.4h0.7v0.7h-0.7zM156.4,141.1h0.7v0.7h-0.7zM152.3,141.9h0.7v0.7h-0.7zM161.9,140.0h0.7v0.7h-0.7zM149.2,143.0h0.7v0.7h-0.7zM160.6,139.6h0.7v0.7h-0.7zM151.9,142.8h0.7v0.7h-0.7zM153.5,143.9h0.7v0.7h-0.7zM156.1,141.3h0.7v0.7h-0.7zM153.1,143.6h0.7v0.7h-0.7zM155.3,138.6h0.7v0.7h-0.7zM156.2,138.5h0.7v0.7h-0.7zM159.5,140.6h0.7v0.7h-0.7zM154.3,143.1h0.7v0.7h-0.7zM152.3,139.4h0.7v0.7h-0.7zM157.6,145.7h0.7v0.7h-0.7zM157.1,133.7h0.7v0.7h-0.7zM154.3,144.1h0.7v0.7h-0.7zM151.6,141.6h0.7v0.7h-0.7zM153.6,144.7h0.7v0.7h-0.7zM158.0,143.1h0.7v0.7h-0.7zM145.9,147.8h0.7v0.7h-0.7zM154.1,141.2h0.7v0.7h-0.7zM149.9,138.8h0.7v0.7h-0.7zM158.8,137.0h0.7v0.7h-0.7zM155.3,143.5h0.7v0.7h-0.7zM153.6,146.2h0.7v0.7h-0.7zM150.8,139.8h0.7v0.7h-0.7zM156.6,134.9h0.7v0.7h-0.7zM152.7,142.0h0.7v0.7h-0.7zM156.0,143.6h0.7v0.7h-0.7zM153.3,142.8h0.7v0.7h-0.7zM159.4,141.3h0.7v0.7h-0.7zM150.0,142.3h0.7v0.7h-0.7zM163.3,137.6h0.7v0.7h-0.7zM152.0,143.0h0.7v0.7h-0.7zM153.9,137.8h0.7v0.7h-0.7zM155.4,145.2h0.7v0.7h-0.7zM155.7,144.6h0.7v0.7h-0.7zM154.5,137.8h0.7v0.7h-0.7zM158.5,140.3h0.7v0.7h-0.7zM159.1,143.4h0.7v0.7h-0.7zM156.1,141.1h0.7v0.7h-0.7zM153.5,132.2h0.7v0.7h-0.7zM153.8,139.6h0.7v0.7h-0.7zM153.4,143.5h0.7v0.7h-0.7zM153.3,137.7h0.7v0.7h-0.7zM157.4,136.6h0.7v0.7h-0.7zM158.0,141.5h0.7v0.7h-0.7zM157.9,145.7h0.7v0.7h-0.7zM160.0,142.2h0.7v0.7h-0.7zM154.6,147.9h0.7v0.7h-0.7zM155.4,141.3h0.7v0.7h-0.7zM153.5,138.9h0.7v0.7h-0.7zM159.4,144.9h0.7v0.7h-0.7zM158.9,135.2h0.7v0.7h-0.7zM157.4,135.2h0.7v0.7h-0.7zM148.9,146.2h0.7v0.7h-0.7zM155.6,147.4h0.7v0.7h-0.7zM161.0,134.8h0.7v0.7h-0.7zM148.4,147.3h0.7v0.7h-0.7zM151.1,140.0h0.7v0.7h-0.7zM156.7,144.6h0.7v0.7h-0.7zM157.4,136.0h0.7v0.7h-0.7zM154.9,140.8h0.7v0.7h-0.7zM160.1,138.3h0.7v0.7h-0.7zM159.4,144.4h0.7v0.7h-0.7zM154.6,139.7h0.7v0.7h-0.7zM159.6,146.2h0.7v0.7h-0.7zM150.3,134.7h0.7v0.7h-0.7zM154.4,142.7h0.7v0.7h-0.7zM153.4,135.3h0.7v0.7h-0.7zM151.8,143.3h0.7v0.7h-0.7zM150.7,144.7h0.7v0.7h-0.7zM155.6,140.1h0.7v0.7h-0.7zM146.9,134.4h0.7v0.7h-0.7zM154.6,142.2h0.7v0.7h-0.7zM157.4,145.8h0.7v0.7h-0.7zM154.8,140.2h0.7v0.7h-0.7zM156.3,145.5h0.7v0.7h-0.7zM153.6,145.8h0.7v0.7h-0.7zM158.9,129.1h0.7v0.7h-0.7zM156.8,146.7h0.7v0.7h-0.7zM154.9,145.1h0.7v0.7h-0.7zM154.8,142.3h0.7v0.7h-0.7zM153.8,141.2h0.7v0.7h-0.7zM149.3,137.1h0.7v0.7h-0.7zM151.0,145.0h0.7v0.7h-0.7zM158.6,141.5h0.7v0.7h-0.7zM157.6,136.6h0.7v0.7h-0.7zM152.7,143.0h0.7v0.7h-0.7zM150.7,135.0h0.7v0.7h-0.7zM146.8,146.6h0.7v0.7h-0.7zM154.4,140.9h0.7v0.7h-0.7zM155.8,145.7h0.7v0.7h-0.7zM149.6,137.8h0.7v0.7h-0.7zM153.0,148.2h0.7v0.7h-0.7zM149.2,136.3h0.7v0.7h-0.7zM154.5,138.6h0.7v0.7h-0.7zM159.1,140.9h0.7v0.7h-0.7zM154.4,145.9h0.7v0.7h-0.7zM147.6,136.2h0.7v0.7h-0.7zM158.8,135.1h0.7v0.7h-0.7zM152.7,139.3h0.7v0.7h-0.7zM161.7,141.0h0.7v0.7h-0.7zM156.0,144.1h0.7v0.7h-0.7zM151.1,144.7h0.7v0.7h-0.7zM156.1,132.2h0.7v0.7h-0.7zM150.6,136.9h0.7v0.7h-0.7zM157.2,141.9h0.7v0.7h-0.7zM159.9,142.7h0.7v0.7h-0.7zM148.3,134.9h0.7v0.7h-0.7zM150.8,141.0h0.7v0.7h-0.7zM147.5,136.7h0.7v0.7h-0.7zM155.1,136.4h0.7v0.7h-0.7zM154.7,141.0h0.7v0.7h-0.7zM148.0,143.5h0.7v0.7h-0.7zM158.4,139.5h0.7v0.7h-0.7zM155.5,141.1h0.7v0.7h-0.7zM156.3,134.3h0.7v0.7h-0.7zM154.4,137.4h0.7v0.7h-0.7zM152.4,135.7h0.7v0.7h-0.7zM153.2,136.2h0.7v0.7h-0.7zM160.5,137.5h0.7v0.7h-0.7zM150.6,143.4h0.7v0.7h-0.7zM159.2,138.9h0.7v0.7h-0.7zM156.4,140.2h0.7v0.7h-0.7zM153.7,141.2h0.7v0.7h-0.7zM157.3,141.1h0.7v0.7h-0.7zM154.6,139.1h0.7v0.7h-0.7zM159.5,144.6h0.7v0.7h-0.7zM151.1,141.5h0.7v0.7h-0.7zM158.0,139.7h0.7v0.7h-0.7zM154.8,146.9h0.7v0.7h-0.7zM155.7,136.5h0.7v0.7h-0.7zM152.7,137.9h0.7v0.7h-0.7zM153.7,141.3h0.7v0.7h-0.7zM155.6,139.4h0.7v0.7h-0.7zM149.4,138.1h0.7v0.7h-0.7zM157.2,140.3h0.7v0.7h-0.7zM154.3,140.0h0.7v0.7h-0.7zM161.0,139.5h0.7v0.7h-0.7zM156.4,138.9h0.7v0.7h-0.7zM157.5,136.8h0.7v0.7h-0.7zM156.3,142.5h0.7v0.7h-0.7zM153.4,139.7h0.7v0.7h-0.7zM156.8,148.1h0.7v0.7h-0.7zM160.2,139.8h0.7v0.7h-0.7zM160.5,136.1h0.7v0.7h-0.7zM155.4,144.9h0.7v0.7h-0.7zM153.6,142.6h0.7v0.7h-0.7zM158.5,139.2h0.7v0.7h-0.7zM158.2,132.1h0.7v0.7h-0.7zM154.3,141.8h0.7v0.7h-0.7zM151.9,137.4h0.7v0.7h-0.7zM153.8,141.1h0.7v0.7h-0.7zM154.6,140.8h0.7v0.7h-0.7zM142.8,140.2h0.7v0.7h-0.7zM156.7,141.9h0.7v0.7h-0.7zM157.8,143.8h0.7v0.7h-0.7zM162.5,139.5h0.7v0.7h-0.7zM169.4,141.6h0.7v0.7h-0.7zM154.6,136.4h0.7v0.7h-0.7zM154.5,144.9h0.7v0.7h-0.7zM161.6,141.8h0.7v0.7h-0.7zM151.7,143.5h0.7v0.7h-0.7zM150.6,136.2h0.7v0.7h-0.7zM160.9,137.9h0.7v0.7h-0.7zM160.3,137.4h0.7v0.7h-0.7zM155.7,136.6h0.7v0.7h-0.7zM158.3,145.4h0.7v0.7h-0.7zM154.8,139.4h0.7v0.7h-0.7zM150.5,136.0h0.7v0.7h-0.7zM159.6,138.2h0.7v0.7h-0.7zM150.7,143.8h0.7v0.7h-0.7zM153.8,141.8h0.7v0.7h-0.7zM150.3,142.4h0.7v0.7h-0.7zM148.1,141.7h0.7v0.7h-0.7zM154.4,142.9h0.7v0.7h-0.7zM150.6,141.3h0.7v0.7h-0.7zM169.5,143.0h0.7v0.7h-0.7zM147.7,136.2h0.7v0.7h-0.7zM159.0,138.9h0.7v0.7h-0.7zM154.2,141.8h0.7v0.7h-0.7zM154.5,143.2h0.7v0.7h-0.7zM150.6,143.3h0.7v0.7h-0.7zM160.2,136.4h0.7v0.7h-0.7zM151.2,138.3h0.7v0.7h-0.7zM161.5,134.7h0.7v0.7h-0.7zM153.2,136.0h0.7v0.7h-0.7zM155.6,142.9h0.7v0.7h-0.7zM159.0,136.8h0.7v0.7h-0.7zM149.1,147.1h0.7v0.7h-0.7zM156.4,141.3h0.7v0.7h-0.7zM141.3,138.3h0.7v0.7h-0.7zM136.8,139.7h0.7v0.7h-0.7zM157.0,142.9h0.7v0.7h-0.7zM154.3,145.3h0.7v0.7h-0.7zM162.9,139.5h0.7v0.7h-0.7zM159.9,147.9h0.7v0.7h-0.7zM168.8,132.7h0.7v0.7h-0.7zM160.4,147.3h0.7v0.7h-0.7zM161.2,135.0h0.7v0.7h-0.7zM157.0,140.3h0.7v0.7h-0.7zM156.1,140.0h0.7v0.7h-0.7zM146.8,139.4h0.7v0.7h-0.7zM157.0,144.3h0.7v0.7h-0.7zM162.7,140.8h0.7v0.7h-0.7zM157.4,137.1h0.7v0.7h-0.7zM154.9,140.5h0.7v0.7h-0.7zM146.2,145.5h0.7v0.7h-0.7zM149.4,149.3h0.7v0.7h-0.7zM164.7,140.4h0.7v0.7h-0.7zM158.3,140.8h0.7v0.7h-0.7zM156.6,130.3h0.7v0.7h-0.7zM154.2,134.3h0.7v0.7h-0.7zM159.3,140.0h0.7v0.7h-0.7zM148.6,143.0h0.7v0.7h-0.7zM163.1,140.0h0.7v0.7h-0.7zM145.1,143.6h0.7v0.7h-0.7zM163.1,142.9h0.7v0.7h-0.7zM170.2,136.4h0.7v0.7h-0.7zM148.2,142.6h0.7v0.7h-0.7zM148.0,141.8h0.7v0.7h-0.7zM154.9,144.3h0.7v0.7h-0.7zM158.9,140.4h0.7v0.7h-0.7zM150.2,136.6h0.7v0.7h-0.7zM159.5,141.5h0.7v0.7h-0.7zM154.7,139.8h0.7v0.7h-0.7zM151.1,145.1h0.7v0.7h-0.7zM151.6,144.7h0.7v0.7h-0.7zM165.7,141.0h0.7v0.7h-0.7zM153.8,142.1h0.7v0.7h-0.7zM147.6,133.0h0.7v0.7h-0.7zM164.2,141.7h0.7v0.7h-0.7zM154.6,146.8h0.7v0.7h-0.7zM157.8,133.3h0.7v0.7h-0.7zM154.5,137.9h0.7v0.7h-0.7zM161.8,136.9h0.7v0.7h-0.7zM154.4,144.6h0.7v0.7h-0.7zM150.8,139.0h0.7v0.7h-0.7zM161.9,142.3h0.7v0.7h-0.7zM158.6,139.2h0.7v0.7h-0.7zM147.1,140.8h0.7v0.7h-0.7zM163.5,133.6h0.7v0.7h-0.7zM154.6,143.1h0.7v0.7h-0.7zM156.8,140.6h0.7v0.7h-0.7zM159.6,147.6h0.7v0.7h-0.7zM150.5,137.8h0.7v0.7h-0.7zM161.1,136.0h0.7v0.7h-0.7zM150.6,151.7h0.7v0.7h-0.7zM162.9,134.4h0.7v0.7h-0.7zM155.9,144.3h0.7v0.7h-0.7zM163.7,144.5h0.7v0.7h-0.7zM149.4,137.3h0.7v0.7h-0.7zM161.6,140.7h0.7v0.7h-0.7zM150.0,143.0h0.7v0.7h-0.7zM157.5,135.6h0.7v0.7h-0.7zM151.1,141.4h0.7v0.7h-0.7zM160.3,141.3h0.7v0.7h-0.7zM150.5,130.2h0.7v0.7h-0.7zM149.7,133.7h0.7v0.7h-0.7zM154.3,134.9h0.7v0.7h-0.7zM157.4,133.1h0.7v0.7h-0.7zM156.8,147.0h0.7v0.7h-0.7zM153.8,135.2h0.7v0.7h-0.7zM156.7,150.0h0.7v0.7h-0.7zM152.3,134.0h0.7v0.7h-0.7zM163.4,140.1h0.7v0.7h-0.7zM145.6,136.7h0.7v0.7h-0.7zM162.5,133.4h0.7v0.7h-0.7zM149.7,146.5h0.7v0.7h-0.7zM151.8,133.5h0.7v0.7h-0.7zM154.4,145.7h0.7v0.7h-0.7zM143.7,145.7h0.7v0.7h-0.7zM156.7,142.4h0.7v0.7h-0.7zM159.3,139.7h0.7v0.7h-0.7zM142.3,140.0h0.7v0.7h-0.7zM159.3,151.0h0.7v0.7h-0.7zM151.3,134.7h0.7v0.7h-0.7zM160.7,134.3h0.7v0.7h-0.7zM152.6,136.7h0.7v0.7h-0.7zM150.5,138.3h0.7v0.7h-0.7zM154.2,132.2h0.7v0.7h-0.7zM149.6,143.1h0.7v0.7h-0.7zM154.8,135.1h0.7v0.7h-0.7zM151.2,144.1h0.7v0.7h-0.7zM157.7,128.7h0.7v0.7h-0.7zM161.6,144.6h0.7v0.7h-0.7zM152.3,142.8h0.7v0.7h-0.7zM157.9,152.3h0.7v0.7h-0.7zM152.6,125.2h0.7v0.7h-0.7zM156.0,140.7h0.7v0.7h-0.7zM137.0,139.2h0.7v0.7h-0.7zM159.4,141.4h0.7v0.7h-0.7zM153.5,137.4h0.7v0.7h-0.7zM152.2,143.5h0.7v0.7h-0.7zM161.9,140.3h0.7v0.7h-0.7zM150.1,139.4h0.7v0.7h-0.7zM147.5,139.7h0.7v0.7h-0.7zM161.3,139.1h0.7v0.7h-0.7zM160.2,131.1h0.7v0.7h-0.7zM170.6,142.2h0.7v0.7h-0.7zM149.9,139.4h0.7v0.7h-0.7zM146.9,140.2h0.7v0.7h-0.7zM149.3,147.2h0.7v0.7h-0.7zM160.3,142.6h0.7v0.7h-0.7zM151.9,135.8h0.7v0.7h-0.7zM149.6,147.0h0.7v0.7h-0.7zM146.4,141.2h0.7v0.7h-0.7zM152.2,140.3h0.7v0.7h-0.7zM158.6,144.3h0.7v0.7h-0.7zM160.4,141.0h0.7v0.7h-0.7zM149.9,135.6h0.7v0.7h-0.7zM151.4,142.1h0.7v0.7h-0.7zM160.6,141.4h0.7v0.7h-0.7zM160.9,140.6h0.7v0.7h-0.7zM149.2,136.0h0.7v0.7h-0.7zM163.9,142.2h0.7v0.7h-0.7zM156.4,138.9h0.7v0.7h-0.7zM158.0,141.4h0.7v0.7h-0.7zM151.4,140.3h0.7v0.7h-0.7zM151.4,137.0h0.7v0.7h-0.7zM155.7,135.0h0.7v0.7h-0.7zM159.9,138.4h0.7v0.7h-0.7zM161.1,135.1h0.7v0.7h-0.7zM149.2,149.7h0.7v0.7h-0.7zM164.8,141.6h0.7v0.7h-0.7zM165.0,143.0h0.7v0.7h-0.7zM158.1,141.9h0.7v0.7h-0.7zM165.4,145.3h0.7v0.7h-0.7zM147.2,141.0h0.7v0.7h-0.7zM143.8,138.4h0.7v0.7h-0.7zM153.5,143.9h0.7v0.7h-0.7zM160.8,138.5h0.7v0.7h-0.7zM155.2,146.2h0.7v0.7h-0.7zM155.4,137.5h0.7v0.7h-0.7zM153.6,147.6h0.7v0.7h-0.7zM155.7,141.3h0.7v0.7h-0.7zM155.1,142.7h0.7v0.7h-0.7zM154.6,146.3h0.7v0.7h-0.7zM164.5,141.8h0.7v0.7h-0.7zM144.9,146.3h0.7v0.7h-0.7zM156.5,140.6h0.7v0.7h-0.7zM140.8,143.4h0.7v0.7h-0.7zM157.8,125.1h0.7v0.7h-0.7zM165.4,142.2h0.7v0.7h-0.7zM153.8,137.2h0.7v0.7h-0.7zM165.9,143.8h0.7v0.7h-0.7zM151.0,133.8h0.7v0.7h-0.7zM159.2,138.4h0.7v0.7h-0.7zM168.1,145.2h0.7v0.7h-0.7zM156.4,143.3h0.7v0.7h-0.7zM157.7,135.6h0.7v0.7h-0.7zM158.7,145.9h0.7v0.7h-0.7zM151.7,138.3h0.7v0.7h-0.7zM157.9,139.3h0.7v0.7h-0.7zM163.5,144.5h0.7v0.7h-0.7zM162.2,141.7h0.7v0.7h-0.7zM154.6,147.2h0.7v0.7h-0.7zM158.5,142.8h0.7v0.7h-0.7zM164.4,136.6h0.7v0.7h-0.7zM144.9,138.7h0.7v0.7h-0.7zM157.5,145.4h0.7v0.7h-0.7zM153.8,138.1h0.7v0.7h-0.7zM151.2,139.9h0.7v0.7h-0.7zM152.4,146.9h0.7v0.7h-0.7zM172.1,139.7h0.7v0.7h-0.7zM155.7,138.9h0.7v0.7h-0.7zM157.1,136.8h0.7v0.7h-0.7zM154.4,137.1h0.7v0.7h-0.7zM154.4,137.1h0.7v0.7h-0.7zM160.2,134.9h0.7v0.7h-0.7zM164.6,141.0h0.7v0.7h-0.7zM147.2,133.5h0.7v0.7h-0.7zM150.1,132.6h0.7v0.7h-0.7zM154.9,150.7h0.7v0.7h-0.7zM154.2,143.7h0.7v0.7h-0.7zM156.4,139.4h0.7v0.7h-0.7zM167.2,142.6h0.7v0.7h-0.7zM146.7,140.7h0.7v0.7h-0.7zM146.9,139.3h0.7v0.7h-0.7zM156.2,146.8h0.7v0.7h-0.7zM156.6,136.8h0.7v0.7h-0.7zM156.5,142.4h0.7v0.7h-0.7zM150.6,139.7h0.7v0.7h-0.7zM162.8,153.0h0.7v0.7h-0.7zM158.3,136.7h0.7v0.7h-0.7zM161.1,136.9h0.7v0.7h-0.7zM150.4,139.4h0.7v0.7h-0.7zM157.4,140.5h0.7v0.7h-0.7zM159.7,134.5h0.7v0.7h-0.7zM137.5,142.8h0.7v0.7h-0.7zM159.8,139.9h0.7v0.7h-0.7zM150.3,142.0h0.7v0.7h-0.7zM151.2,146.4h0.7v0.7h-0.7zM154.8,144.0h0.7v0.7h-0.7zM143.5,136.2h0.7v0.7h-0.7zM150.1,142.3h0.7v0.7h-0.7zM149.0,136.9h0.7v0.7h-0.7zM146.6,138.6h0.7v0.7h-0.7zM144.0,134.4h0.7v0.7h-0.7zM158.4,143.6h0.7v0.7h-0.7zM166.1,146.0h0.7v0.7h-0.7zM164.0,143.1h0.7v0.7h-0.7zM150.4,135.9h0.7v0.7h-0.7zM160.3,145.3h0.7v0.7h-0.7zM149.0,145.4h0.7v0.7h-0.7zM155.9,142.4h0.7v0.7h-0.7zM148.9,130.0h0.7v0.7h-0.7zM146.3,138.7h0.7v0.7h-0.7zM160.1,139.0h0.7v0.7h-0.7zM163.3,134.2h0.7v0.7h-0.7zM166.1,141.7h0.7v0.7h-0.7zM151.4,138.0h0.7v0.7h-0.7zM161.3,135.2h0.7v0.7h-0.7zM147.0,140.2h0.7v0.7h-0.7zM159.2,139.2h0.7v0.7h-0.7zM153.3,145.8h0.7v0.7h-0.7zM155.0,140.3h0.7v0.7h-0.7zM166.6,148.6h0.7v0.7h-0.7zM149.0,135.3h0.7v0.7h-0.7zM147.5,143.2h0.7v0.7h-0.7zM159.1,138.8h0.7v0.7h-0.7zM154.0,136.6h0.7v0.7h-0.7zM156.7,145.1h0.7v0.7h-0.7zM146.0,137.1h0.7v0.7h-0.7zM160.2,141.6h0.7v0.7h-0.7zM153.3,139.5h0.7v0.7h-0.7zM137.6,134.2h0.7v0.7h-0.7zM152.9,138.9h0.7v0.7h-0.7zM149.8,138.9h0.7v0.7h-0.7zM154.8,134.3h0.7v0.7h-0.7zM154.9,140.3h0.7v0.7h-0.7zM154.9,141.7h0.7v0.7h-0.7zM159.8,150.4h0.7v0.7h-0.7zM139.8,150.5h0.7v0.7h-0.7zM155.8,143.7h0.7v0.7h-0.7zM153.1,141.8h0.7v0.7h-0.7zM152.4,140.0h0.7v0.7h-0.7zM168.6,142.5h0.7v0.7h-0.7zM148.5,146.2h0.7v0.7h-0.7zM153.6,134.9h0.7v0.7h-0.7zM146.2,144.2h0.7v0.7h-0.7zM155.2,143.6h0.7v0.7h-0.7zM144.8,133.5h0.7v0.7h-0.7zM153.8,143.2h0.7v0.7h-0.7zM152.1,146.6h0.7v0.7h-0.7zM154.1,135.1h0.7v0.7h-0.7zM158.7,143.5h0.7v0.7h-0.7zM157.9,141.7h0.7v0.7h-0.7zM145.6,142.6h0.7v0.7h-0.7zM152.9,132.6h0.7v0.7h-0.7zM155.0,139.7h0.7v0.7h-0.7zM150.5,143.3h0.7v0.7h-0.7zM150.5,135.1h0.7v0.7h-0.7zM163.7,141.9h0.7v0.7h-0.7zM162.2,145.8h0.7v0.7h-0.7zM157.1,147.1h0.7v0.7h-0.7zM142.1,139.1h0.7v0.7h-0.7zM167.6,133.9h0.7v0.7h-0.7zM142.9,137.7h0.7v0.7h-0.7zM151.3,136.9h0.7v0.7h-0.7zM153.3,137.3h0.7v0.7h-0.7zM156.7,139.4h0.7v0.7h-0.7zM159.3,139.1h0.7v0.7h-0.7zM152.5,141.6h0.7v0.7h-0.7zM147.8,138.9h0.7v0.7h-0.7zM158.1,137.9h0.7v0.7h-0.7zM160.9,138.8h0.7v0.7h-0.7zM154.6,141.6h0.7v0.7h-0.7zM156.1,140.4h0.7v0.7h-0.7zM142.8,140.2h0.7v0.7h-0.7zM171.0,131.3h0.7v0.7h-0.7zM151.2,137.4h0.7v0.7h-0.7zM157.6,135.6h0.7v0.7h-0.7zM152.9,138.2h0.7v0.7h-0.7zM145.1,140.2h0.7v0.7h-0.7zM163.4,140.9h0.7v0.7h-0.7zM154.4,139.1h0.7v0.7h-0.7zM151.7,132.4h0.7v0.7h-0.7zM155.0,143.6h0.7v0.7h-0.7zM142.6,130.8h0.7v0.7h-0.7zM156.3,148.7h0.7v0.7h-0.7zM164.2,142.0h0.7v0.7h-0.7zM148.1,149.5h0.7v0.7h-0.7zM155.0,136.1h0.7v0.7h-0.7zM148.0,146.6h0.7v0.7h-0.7zM154.8,144.8h0.7v0.7h-0.7zM148.0,142.6h0.7v0.7h-0.7zM150.0,145.3h0.7v0.7h-0.7zM144.3,145.3h0.7v0.7h-0.7zM149.2,138.7h0.7v0.7h-0.7zM147.0,147.6h0.7v0.7h-0.7zM154.5,140.3h0.7v0.7h-0.7zM150.1,138.1h0.7v0.7h-0.7zM154.6,139.5h0.7v0.7h-0.7zM153.4,141.6h0.7v0.7h-0.7zM161.9,143.4h0.7v0.7h-0.7zM156.1,140.7h0.7v0.7h-0.7zM149.1,144.3h0.7v0.7h-0.7zM146.7,137.3h0.7v0.7h-0.7zM163.7,130.5h0.7v0.7h-0.7zM152.7,140.5h0.7v0.7h-0.7zM157.4,145.0h0.7v0.7h-0.7zM150.3,136.9h0.7v0.7h-0.7zM149.3,142.3h0.7v0.7h-0.7zM163.7,142.5h0.7v0.7h-0.7zM154.1,143.6h0.7v0.7h-0.7zM159.9,147.2h0.7v0.7h-0.7zM144.2,141.1h0.7v0.7h-0.7zM162.6,141.5h0.7v0.7h-0.7zM147.3,143.8h0.7v0.7h-0.7zM151.8,141.6h0.7v0.7h-0.7zM170.0,138.1h0.7v0.7h-0.7zM152.3,143.4h0.7v0.7h-0.7zM150.0,142.5h0.7v0.7h-0.7zM148.7,142.4h0.7v0.7h-0.7zM141.6,150.2h0.7v0.7h-0.7zM162.1,141.1h0.7v0.7h-0.7zM167.1,142.0h0.7v0.7h-0.7zM155.2,136.3h0.7v0.7h-0.7zM156.4,137.6h0.7v0.7h-0.7zM150.0,126.4h0.7v0.7h-0.7zM157.2,142.7h0.7v0.7h-0.7zM159.6,134.3h0.7v0.7h-0.7zM154.9,131.6h0.7v0.7h-0.7zM160.4,137.8h0.7v0.7h-0.7zM149.2,135.7h0.7v0.7h-0.7zM149.6,143.8h0.7v0.7h-0.7zM148.8,134.3h0.7v0.7h-0.7zM162.3,132.1h0.7v0.7h-0.7zM152.9,140.3h0.7v0.7h-0.7zM152.7,144.2h0.7v0.7h-0.7zM151.9,141.2h0.7v0.7h-0.7zM153.5,148.7h0.7v0.7h-0.7zM158.0,146.7h0.7v0.7h-0.7zM158.7,136.5h0.7v0.7h-0.7zM154.0,141.5h0.7v0.7h-0.7zM152.8,132.1h0.7v0.7h-0.7zM155.4,137.8h0.7v0.7h-0.7zM157.4,138.6h0.7v0.7h-0.7zM157.9,135.0h0.7v0.7h-0.7zM147.7,139.3h0.7v0.7h-0.7zM159.2,136.8h0.7v0.7h-0.7zM150.5,135.3h0.7v0.7h-0.7zM138.4,143.6h0.7v0.7h-0.7zM151.4,131.8h0.7v0.7h-0.7zM157.6,141.0h0.7v0.7h-0.7zM168.3,143.5h0.7v0.7h-0.7zM161.5,142.2h0.7v0.7h-0.7zM166.9,141.5h0.7v0.7h-0.7zM160.0,141.5h0.7v0.7h-0.7zM151.0,133.2h0.7v0.7h-0.7zM163.0,143.6h0.7v0.7h-0.7zM166.2,136.1h0.7v0.7h-0.7zM138.1,144.0h0.7v0.7h-0.7zM139.1,138.5h0.7v0.7h-0.7zM147.9,136.2h0.7v0.7h-0.7zM142.1,136.0h0.7v0.7h-0.7zM144.9,140.2h0.7v0.7h-0.7zM149.6,141.1h0.7v0.7h-0.7zM143.2,151.5h0.7v0.7h-0.7zM165.4,142.2h0.7v0.7h-0.7zM159.1,147.3h0.7v0.7h-0.7zM148.2,140.4h0.7v0.7h-0.7zM167.2,128.2h0.7v0.7h-0.7zM158.9,142.3h0.7v0.7h-0.7zM152.7,143.4h0.7v0.7h-0.7zM157.6,137.8h0.7v0.7h-0.7zM158.4,139.0h0.7v0.7h-0.7zM161.5,142.6h0.7v0.7h-0.7zM150.6,150.3h0.7v0.7h-0.7zM152.7,142.1h0.7v0.7h-0.7zM153.3,146.1h0.7v0.7h-0.7zM150.0,136.4h0.7v0.7h-0.7zM158.4,132.5h0.7v0.7h-0.7zM154.2,143.7h0.7v0.7h-0.7zM166.2,132.8h0.7v0.7h-0.7zM145.0,136.8h0.7v0.7h-0.7zM158.4,144.5h0.7v0.7h-0.7zM151.6,146.5h0.7v0.7h-0.7zM150.7,142.6h0.7v0.7h-0.7zM153.2,149.1h0.7v0.7h-0.7zM164.2,146.1h0.7v0.7h-0.7zM151.4,132.3h0.7v0.7h-0.7zM152.2,137.6h0.7v0.7h-0.7zM150.2,136.7h0.7v0.7h-0.7zM152.2,142.7h0.7v0.7h-0.7zM163.2,145.5h0.7v0.7h-0.7zM165.4,129.8h0.7v0.7h-0.7zM159.5,152.7h0.7v0.7h-0.7zM162.2,144.5h0.7v0.7h-0.7zM161.3,139.8h0.7v0.7h-0.7zM153.3,137.8h0.7v0.7h-0.7zM151.8,139.1h0.7v0.7h-0.7zM150.6,148.1h0.7v0.7h-0.7zM159.4,145.2h0.7v0.7h-0.7zM166.5,141.9h0.7v0.7h-0.7zM161.8,136.9h0.7v0.7h-0.7zM157.7,144.0h0.7v0.7h-0.7zM147.2,144.1h0.7v0.7h-0.7zM155.5,137.9h0.7v0.7h-0.7zM164.5,141.1h0.7v0.7h-0.7zM154.8,144.8h0.7v0.7h-0.7zM151.3,133.3h0.7v0.7h-0.7zM161.0,145.9h0.7v0.7h-0.7zM151.5,141.8h0.7v0.7h-0.7zM155.5,141.9h0.7v0.7h-0.7zM162.3,141.2h0.7v0.7h-0.7zM160.1,144.8h0.7v0.7h-0.7zM153.2,142.4h0.7v0.7h-0.7zM152.7,139.8h0.7v0.7h-0.7zM164.0,136.5h0.7v0.7h-0.7zM160.4,139.7h0.7v0.7h-0.7zM152.1,141.3h0.7v0.7h-0.7zM151.4,132.4h0.7v0.7h-0.7zM162.5,144.3h0.7v0.7h-0.7zM152.2,134.2h0.7v0.7h-0.7zM148.7,149.3h0.7v0.7h-0.7zM149.0,137.1h0.7v0.7h-0.7zM168.5,130.2h0.7v0.7h-0.7zM147.6,135.6h0.7v0.7h-0.7zM151.3,129.8h0.7v0.7h-0.7zM156.3,133.8h0.7v0.7h-0.7zM146.1,142.1h0.7v0.7h-0.7zM148.9,142.6h0.7v0.7h-0.7zM149.9,148.8h0.7v0.7h-0.7zM147.3,141.9h0.7v0.7h-0.7zM147.7,147.5h0.7v0.7h-0.7zM142.8,138.8h0.7v0.7h-0.7zM156.2,138.4h0.7v0.7h-0.7zM154.1,137.9h0.7v0.7h-0.7zM151.7,141.9h0.7v0.7h-0.7zM168.0,142.9h0.7v0.7h-0.7zM158.3,137.3h0.7v0.7h-0.7zM149.4,140.9h0.7v0.7h-0.7zM150.6,148.9h0.7v0.7h-0.7zM155.2,148.6h0.7v0.7h-0.7zM153.8,146.4h0.7v0.7h-0.7zM145.3,149.5h0.7v0.7h-0.7zM147.0,141.7h0.7v0.7h-0.7zM154.2,139.9h0.7v0.7h-0.7zM160.7,135.9h0.7v0.7h-0.7zM158.6,132.6h0.7v0.7h-0.7zM145.4,144.5h0.7v0.7h-0.7zM164.3,135.4h0.7v0.7h-0.7zM159.1,138.8h0.7v0.7h-0.7zM166.2,142.4h0.7v0.7h-0.7zM167.5,138.6h0.7v0.7h-0.7zM168.1,137.5h0.7v0.7h-0.7zM167.0,144.2h0.7v0.7h-0.7zM145.5,146.0h0.7v0.7h-0.7zM156.8,145.1h0.7v0.7h-0.7zM149.4,138.6h0.7v0.7h-0.7zM146.8,148.8h0.7v0.7h-0.7zM155.2,128.4h0.7v0.7h-0.7zM160.7,141.4h0.7v0.7h-0.7zM173.4,139.2h0.7v0.7h-0.7zM158.8,138.5h0.7v0.7h-0.7zM134.5,145.6h0.7v0.7h-0.7zM151.8,144.4h0.7v0.7h-0.7zM155.7,128.9h0.7v0.7h-0.7zM154.5,145.1h0.7v0.7h-0.7zM162.1,145.5h0.7v0.7h-0.7zM151.8,134.2h0.7v0.7h-0.7zM158.0,135.1h0.7v0.7h-0.7zM164.4,139.6h0.7v0.7h-0.7zM160.6,142.4h0.7v0.7h-0.7zM161.3,142.7h0.7v0.7h-0.7zM158.3,141.6h0.7v0.7h-0.7zM150.0,132.2h0.7v0.7h-0.7zM144.0,146.6h0.7v0.7h-0.7zM150.6,142.6h0.7v0.7h-0.7zM142.4,138.6h0.7v0.7h-0.7zM170.5,150.8h0.7v0.7h-0.7zM160.0,141.9h0.7v0.7h-0.7zM160.2,151.4h0.7v0.7h-0.7zM147.3,140.8h0.7v0.7h-0.7zM152.1,125.5h0.7v0.7h-0.7zM156.2,145.9h0.7v0.7h-0.7zM151.5,134.9h0.7v0.7h-0.7zM164.8,137.6h0.7v0.7h-0.7zM153.7,138.1h0.7v0.7h-0.7zM153.7,141.6h0.7v0.7h-0.7zM161.4,142.7h0.7v0.7h-0.7zM170.1,134.7h0.7v0.7h-0.7zM157.3,139.6h0.7v0.7h-0.7zM171.4,132.2h0.7v0.7h-0.7zM154.9,145.5h0.7v0.7h-0.7zM150.0,140.8h0.7v0.7h-0.7zM156.4,142.9h0.7v0.7h-0.7zM156.8,134.7h0.7v0.7h-0.7zM161.0,128.1h0.7v0.7h-0.7zM148.8,136.1h0.7v0.7h-0.7zM154.2,141.4h0.7v0.7h-0.7zM155.0,142.1h0.7v0.7h-0.7zM165.1,143.5h0.7v0.7h-0.7zM154.3,130.4h0.7v0.7h-0.7zM140.9,143.2h0.7v0.7h-0.7zM163.1,140.1h0.7v0.7h-0.7zM172.8,142.2h0.7v0.7h-0.7zM147.3,143.1h0.7v0.7h-0.7zM147.9,147.0h0.7v0.7h-0.7zM152.8,138.4h0.7v0.7h-0.7zM155.0,148.2h0.7v0.7h-0.7zM145.5,147.2h0.7v0.7h-0.7zM166.5,145.1h0.7v0.7h-0.7zM155.3,145.7h0.7v0.7h-0.7zM151.9,136.5h0.7v0.7h-0.7zM163.6,132.9h0.7v0.7h-0.7zM158.1,137.9h0.7v0.7h-0.7zM152.9,140.5h0.7v0.7h-0.7zM151.7,147.3h0.7v0.7h-0.7zM150.2,134.8h0.7v0.7h-0.7zM146.0,140.8h0.7v0.7h-0.7zM156.5,140.3h0.7v0.7h-0.7zM156.3,134.7h0.7v0.7h-0.7zM157.7,144.9h0.7v0.7h-0.7zM145.1,139.2h0.7v0.7h-0.7zM155.2,138.8h0.7v0.7h-0.7zM149.7,137.3h0.7v0.7h-0.7zM148.0,148.9h0.7v0.7h-0.7zM146.5,135.1h0.7v0.7h-0.7zM144.7,141.4h0.7v0.7h-0.7zM148.3,143.7h0.7v0.7h-0.7zM155.9,142.4h0.7v0.7h-0.7zM160.4,140.4h0.7v0.7h-0.7zM152.4,140.9h0.7v0.7h-0.7zM161.9,136.0h0.7v0.7h-0.7zM153.4,149.0h0.7v0.7h-0.7zM157.7,147.1h0.7v0.7h-0.7zM159.9,131.7h0.7v0.7h-0.7zM152.5,133.8h0.7v0.7h-0.7zM156.9,139.9h0.7v0.7h-0.7zM160.2,141.8h0.7v0.7h-0.7zM152.6,146.4h0.7v0.7h-0.7zM146.1,131.7h0.7v0.7h-0.7zM161.5,142.7h0.7v0.7h-0.7zM159.7,135.7h0.7v0.7h-0.7zM159.8,143.9h0.7v0.7h-0.7zM155.5,140.6h0.7v0.7h-0.7zM153.9,142.8h0.7v0.7h-0.7zM145.6,147.5h0.7v0.7h-0.7zM148.8,135.1h0.7v0.7h-0.7zM163.6,140.2h0.7v0.7h-0.7zM144.3,141.4h0.7v0.7h-0.7zM151.4,142.6h0.7v0.7h-0.7zM146.9,140.0h0.7v0.7h-0.7zM152.3,149.0h0.7v0.7h-0.7zM148.2,145.9h0.7v0.7h-0.7zM161.5,142.4h0.7v0.7h-0.7zM153.2,143.2h0.7v0.7h-0.7zM149.6,145.9h0.7v0.7h-0.7zM143.3,147.7h0.7v0.7h-0.7zM152.4,137.5h0.7v0.7h-0.7zM157.0,149.3h0.7v0.7h-0.7zM154.7,151.1h0.7v0.7h-0.7zM154.4,142.5h0.7v0.7h-0.7zM145.9,140.4h0.7v0.7h-0.7zM154.5,137.4h0.7v0.7h-0.7zM145.7,137.7h0.7v0.7h-0.7zM157.5,144.1h0.7v0.7h-0.7zM167.4,129.9h0.7v0.7h-0.7zM167.4,145.2h0.7v0.7h-0.7zM154.9,147.2h0.7v0.7h-0.7zM157.3,132.1h0.7v0.7h-0.7zM160.0,133.3h0.7v0.7h-0.7zM160.1,133.8h0.7v0.7h-0.7zM143.6,145.4h0.7v0.7h-0.7zM151.7,137.1h0.7v0.7h-0.7zM167.5,140.6h0.7v0.7h-0.7zM165.9,139.2h0.7v0.7h-0.7zM154.4,129.9h0.7v0.7h-0.7zM163.7,138.1h0.7v0.7h-0.7zM161.9,137.0h0.7v0.7h-0.7zM142.2,142.0h0.7v0.7h-0.7zM162.4,128.6h0.7v0.7h-0.7zM146.9,146.9h0.7v0.7h-0.7zM166.1,138.5h0.7v0.7h-0.7zM156.9,143.5h0.7v0.7h-0.7zM158.0,134.6h0.7v0.7h-0.7zM162.5,149.3h0.7v0.7h-0.7zM156.1,141.2h0.7v0.7h-0.7zM150.9,143.2h0.7v0.7h-0.7zM159.7,137.5h0.7v0.7h-0.7zM143.6,133.0h0.7v0.7h-0.7zM158.8,141.3h0.7v0.7h-0.7zM152.6,129.3h0.7v0.7h-0.7zM144.9,149.0h0.7v0.7h-0.7zM148.3,135.2h0.7v0.7h-0.7zM161.9,146.9h0.7v0.7h-0.7zM151.5,141.3h0.7v0.7h-0.7zM158.2,142.9h0.7v0.7h-0.7zM151.9,140.4h0.7v0.7h-0.7zM159.0,148.3h0.7v0.7h-0.7zM157.9,131.1h0.7v0.7h-0.7zM148.3,135.4h0.7v0.7h-0.7zM160.3,148.1h0.7v0.7h-0.7zM158.4,134.0h0.7v0.7h-0.7zM152.7,139.8h0.7v0.7h-0.7zM161.0,141.4h0.7v0.7h-0.7zM160.3,138.0h0.7v0.7h-0.7zM168.2,133.8h0.7v0.7h-0.7zM154.2,145.8h0.7v0.7h-0.7zM160.6,134.4h0.7v0.7h-0.7zM150.5,138.4h0.7v0.7h-0.7zM160.8,144.8h0.7v0.7h-0.7zM144.6,138.9h0.7v0.7h-0.7zM156.4,145.7h0.7v0.7h-0.7zM159.2,147.0h0.7v0.7h-0.7zM152.1,136.8h0.7v0.7h-0.7zM156.2,141.7h0.7v0.7h-0.7zM171.4,140.4h0.7v0.7h-0.7zM154.0,134.8h0.7v0.7h-0.7zM156.6,137.9h0.7v0.7h-0.7zM159.3,139.6h0.7v0.7h-0.7zM149.3,135.4h0.7v0.7h-0.7zM150.6,140.0h0.7v0.7h-0.7zM136.3,136.4h0.7v0.7h-0.7zM154.2,133.2h0.7v0.7h-0.7zM159.2,138.5h0.7v0.7h-0.7zM159.4,141.4h0.7v0.7h-0.7zM152.3,146.7h0.7v0.7h-0.7zM160.8,133.8h0.7v0.7h-0.7zM153.4,133.2h0.7v0.7h-0.7zM150.7,139.5h0.7v0.7h-0.7zM151.3,139.0h0.7v0.7h-0.7zM158.3,145.9h0.7v0.7h-0.7zM158.8,145.1h0.7v0.7h-0.7zM150.8,138.2h0.7v0.7h-0.7zM161.6,137.3h0.7v0.7h-0.7zM158.3,140.8h0.7v0.7h-0.7zM158.9,146.2h0.7v0.7h-0.7zM155.9,137.4h0.7v0.7h-0.7zM149.7,149.4h0.7v0.7h-0.7zM161.1,133.6h0.7v0.7h-0.7zM145.1,127.9h0.7v0.7h-0.7zM155.1,136.9h0.7v0.7h-0.7zM138.0,141.3h0.7v0.7h-0.7zM155.2,150.0h0.7v0.7h-0.7zM155.6,132.8h0.7v0.7h-0.7zM155.4,140.5h0.7v0.7h-0.7zM147.4,133.3h0.7v0.7h-0.7zM150.6,139.9h0.7v0.7h-0.7zM162.0,136.3h0.7v0.7h-0.7zM157.4,148.7h0.7v0.7h-0.7zM148.4,134.5h0.7v0.7h-0.7zM150.7,142.8h0.7v0.7h-0.7zM148.2,145.5h0.7v0.7h-0.7zM150.6,136.7h0.7v0.7h-0.7zM157.6,144.4h0.7v0.7h-0.7zM152.0,139.5h0.7v0.7h-0.7zM160.8,149.2h0.7v0.7h-0.7zM151.3,144.5h0.7v0.7h-0.7zM161.9,143.4h0.7v0.7h-0.7zM156.1,141.5h0.7v0.7h-0.7zM147.6,139.3h0.7v0.7h-0.7zM149.5,137.4h0.7v0.7h-0.7zM156.4,150.3h0.7v0.7h-0.7zM157.0,138.2h0.7v0.7h-0.7zM163.1,135.2h0.7v0.7h-0.7zM161.0,136.1h0.7v0.7h-0.7zM157.2,150.2h0.7v0.7h-0.7zM154.2,136.7h0.7v0.7h-0.7zM153.9,143.2h0.7v0.7h-0.7zM140.2,150.6h0.7v0.7h-0.7zM147.7,142.5h0.7v0.7h-0.7zM159.1,136.0h0.7v0.7h-0.7zM153.0,145.7h0.7v0.7h-0.7zM152.1,143.6h0.7v0.7h-0.7zM154.5,139.9h0.7v0.7h-0.7zM156.0,141.8h0.7v0.7h-0.7zM153.1,145.7h0.7v0.7h-0.7zM155.3,140.8h0.7v0.7h-0.7zM139.7,131.8h0.7v0.7h-0.7zM160.1,143.7h0.7v0.7h-0.7zM157.0,146.3h0.7v0.7h-0.7zM142.6,139.3h0.7v0.7h-0.7zM159.7,144.4h0.7v0.7h-0.7zM162.2,144.1h0.7v0.7h-0.7zM154.2,147.3h0.7v0.7h-0.7zM150.4,138.3h0.7v0.7h-0.7zM166.4,138.6h0.7v0.7h-0.7zM164.3,136.1h0.7v0.7h-0.7zM154.8,145.2h0.7v0.7h-0.7zM143.9,139.6h0.7v0.7h-0.7zM140.0,136.4h0.7v0.7h-0.7zM154.1,140.1h0.7v0.7h-0.7zM161.5,135.0h0.7v0.7h-0.7zM166.1,138.4h0.7v0.7h-0.7zM147.8,141.9h0.7v0.7h-0.7zM159.5,144.5h0.7v0.7h-0.7zM158.7,135.9h0.7v0.7h-0.7zM142.5,148.6h0.7v0.7h-0.7zM156.1,142.1h0.7v0.7h-0.7zM162.5,144.9h0.7v0.7h-0.7zM147.2,131.8h0.7v0.7h-0.7zM142.5,132.4h0.7v0.7h-0.7zM159.0,140.6h0.7v0.7h-0.7zM155.0,135.6h0.7v0.7h-0.7zM155.5,138.1h0.7v0.7h-0.7zM154.5,143.2h0.7v0.7h-0.7zM155.1,143.4h0.7v0.7h-0.7zM153.6,146.9h0.7v0.7h-0.7zM166.9,138.9h0.7v0.7h-0.7zM155.8,139.4h0.7v0.7h-0.7zM152.0,146.0h0.7v0.7h-0.7zM156.5,127.8h0.7v0.7h-0.7zM163.2,143.6h0.7v0.7h-0.7zM145.1,140.9h0.7v0.7h-0.7zM152.8,141.4h0.7v0.7h-0.7zM162.0,151.2h0.7v0.7h-0.7zM162.4,138.8h0.7v0.7h-0.7zM163.7,148.9h0.7v0.7h-0.7zM152.0,142.9h0.7v0.7h-0.7zM159.6,143.5h0.7v0.7h-0.7zM160.7,130.9h0.7v0.7h-0.7zM162.1,145.8h0.7v0.7h-0.7zM153.3,148.8h0.7v0.7h-0.7zM156.2,150.8h0.7v0.7h-0.7zM157.3,143.2h0.7v0.7h-0.7zM159.8,142.9h0.7v0.7h-0.7zM164.2,137.1h0.7v0.7h-0.7zM150.3,136.6h0.7v0.7h-0.7zM161.5,138.3h0.7v0.7h-0.7zM157.7,138.1h0.7v0.7h-0.7zM149.3,137.9h0.7v0.7h-0.7zM154.6,137.4h0.7v0.7h-0.7zM164.2,143.6h0.7v0.7h-0.7zM160.0,141.4h0.7v0.7h-0.7zM154.9,131.3h0.7v0.7h-0.7zM155.0,136.5h0.7v0.7h-0.7zM160.3,139.8h0.7v0.7h-0.7zM156.4,132.0h0.7v0.7h-0.7zM160.0,142.0h0.7v0.7h-0.7zM139.5,137.9h0.7v0.7h-0.7zM150.0,142.1h0.7v0.7h-0.7zM172.5,137.4h0.7v0.7h-0.7zM166.3,145.3h0.7v0.7h-0.7zM152.3,134.5h0.7v0.7h-0.7zM149.7,141.9h0.7v0.7h-0.7zM154.1,143.8h0.7v0.7h-0.7zM157.3,140.3h0.7v0.7h-0.7zM154.8,142.9h0.7v0.7h-0.7zM151.1,140.2h0.7v0.7h-0.7zM150.0,142.1h0.7v0.7h-0.7zM159.3,144.7h0.7v0.7h-0.7zM154.5,136.3h0.7v0.7h-0.7zM151.6,143.5h0.7v0.7h-0.7zM151.1,141.6h0.7v0.7h-0.7zM157.3,144.6h0.7v0.7h-0.7zM149.3,147.5h0.7v0.7h-0.7zM145.4,146.0h0.7v0.7h-0.7zM157.7,146.8h0.7v0.7h-0.7zM152.8,142.4h0.7v0.7h-0.7zM149.9,138.1h0.7v0.7h-0.7zM144.5,141.6h0.7v0.7h-0.7zM152.2,146.6h0.7v0.7h-0.7zM167.3,135.1h0.7v0.7h-0.7zM164.4,142.7h0.7v0.7h-0.7zM148.1,132.0h0.7v0.7h-0.7zM155.5,138.4h0.7v0.7h-0.7zM162.5,137.7h0.7v0.7h-0.7zM166.1,133.0h0.7v0.7h-0.7zM155.7,142.2h0.7v0.7h-0.7zM166.4,144.8h0.7v0.7h-0.7zM152.2,143.4h0.7v0.7h-0.7zM158.1,142.6h0.7v0.7h-0.7zM151.8,137.6h0.7v0.7h-0.7zM147.5,134.5h0.7v0.7h-0.7zM157.3,143.7h0.7v0.7h-0.7zM151.1,144.8h0.7v0.7h-0.7zM147.3,137.7h0.7v0.7h-0.7zM151.7,135.0h0.7v0.7h-0.7zM147.8,141.9h0.7v0.7h-0.7zM152.7,140.3h0.7v0.7h-0.7zM154.6,135.8h0.7v0.7h-0.7zM163.5,138.9h0.7v0.7h-0.7zM166.3,152.5h0.7v0.7h-0.7zM163.2,137.9h0.7v0.7h-0.7zM160.1,136.4h0.7v0.7h-0.7zM141.6,139.2h0.7v0.7h-0.7zM158.4,140.6h0.7v0.7h-0.7zM164.5,144.4h0.7v0.7h-0.7zM160.7,151.2h0.7v0.7h-0.7zM153.6,143.9h0.7v0.7h-0.7zM162.0,139.0h0.7v0.7h-0.7zM158.3,147.1h0.7v0.7h-0.7zM145.6,142.0h0.7v0.7h-0.7zM157.9,145.4h0.7v0.7h-0.7zM157.1,142.9h0.7v0.7h-0.7zM159.9,149.0h0.7v0.7h-0.7zM154.9,142.3h0.7v0.7h-0.7zM152.9,144.9h0.7v0.7h-0.7zM151.4,132.7h0.7v0.7h-0.7zM147.4,138.0h0.7v0.7h-0.7zM148.2,138.4h0.7v0.7h-0.7zM155.4,141.4h0.7v0.7h-0.7zM150.6,146.9h0.7v0.7h-0.7zM160.8,141.5h0.7v0.7h-0.7zM161.9,139.9h0.7v0.7h-0.7zM156.7,146.4h0.7v0.7h-0.7zM158.8,140.9h0.7v0.7h-0.7zM145.5,138.7h0.7v0.7h-0.7zM150.4,144.0h0.7v0.7h-0.7zM158.2,121.8h0.7v0.7h-0.7zM147.6,123.0h0.7v0.7h-0.7zM160.4,126.0h0.7v0.7h-0.7zM163.6,112.2h0.7v0.7h-0.7zM168.3,127.9h0.7v0.7h-0.7zM164.1,121.5h0.7v0.7h-0.7zM155.2,116.6h0.7v0.7h-0.7zM156.7,125.9h0.7v0.7h-0.7zM160.5,121.3h0.7v0.7h-0.7zM158.6,117.1h0.7v0.7h-0.7zM145.7,122.9h0.7v0.7h-0.7zM150.2,121.1h0.7v0.7h-0.7zM163.8,118.2h0.7v0.7h-0.7zM150.8,121.4h0.7v0.7h-0.7zM153.9,120.1h0.7v0.7h-0.7zM159.2,120.3h0.7v0.7h-0.7zM162.0,126.8h0.7v0.7h-0.7zM148.4,110.5h0.7v0.7h-0.7zM153.8,113.8h0.7v0.7h-0.7zM150.2,125.9h0.7v0.7h-0.7zM156.2,120.6h0.7v0.7h-0.7zM155.2,124.5h0.7v0.7h-0.7zM166.7,114.0h0.7v0.7h-0.7zM163.9,119.9h0.7v0.7h-0.7zM147.4,116.8h0.7v0.7h-0.7zM157.9,121.8h0.7v0.7h-0.7zM151.4,124.5h0.7v0.7h-0.7zM155.8,122.4h0.7v0.7h-0.7zM149.6,120.6h0.7v0.7h-0.7zM168.3,114.1h0.7v0.7h-0.7zM158.9,120.1h0.7v0.7h-0.7zM161.6,122.8h0.7v0.7h-0.7zM163.2,121.3h0.7v0.7h-0.7zM146.4,126.2h0.7v0.7h-0.7zM170.1,116.6h0.7v0.7h-0.7zM154.5,122.7h0.7v0.7h-0.7zM148.5,121.8h0.7v0.7h-0.7zM159.1,120.6h0.7v0.7h-0.7zM156.3,124.3h0.7v0.7h-0.7zM156.0,125.9h0.7v0.7h-0.7zM155.1,118.0h0.7v0.7h-0.7zM162.8,123.2h0.7v0.7h-0.7zM148.5,116.8h0.7v0.7h-0.7zM156.5,123.8h0.7v0.7h-0.7zM155.7,119.4h0.7v0.7h-0.7zM156.1,125.8h0.7v0.7h-0.7zM145.6,119.6h0.7v0.7h-0.7zM151.9,122.8h0.7v0.7h-0.7zM166.7,124.9h0.7v0.7h-0.7zM158.7,119.6h0.7v0.7h-0.7zM164.5,119.2h0.7v0.7h-0.7zM153.0,123.5h0.7v0.7h-0.7zM161.9,124.0h0.7v0.7h-0.7zM148.0,119.9h0.7v0.7h-0.7zM155.3,121.7h0.7v0.7h-0.7zM158.1,116.1h0.7v0.7h-0.7zM148.9,117.0h0.7v0.7h-0.7zM148.1,127.9h0.7v0.7h-0.7zM157.8,113.2h0.7v0.7h-0.7zM151.3,121.5h0.7v0.7h-0.7zM162.7,126.1h0.7v0.7h-0.7zM162.4,116.4h0.7v0.7h-0.7zM160.3,116.5h0.7v0.7h-0.7zM159.5,120.0h0.7v0.7h-0.7zM166.3,117.4h0.7v0.7h-0.7zM165.0,123.3h0.7v0.7h-0.7zM149.8,115.8h0.7v0.7h-0.7zM158.8,122.2h0.7v0.7h-0.7zM149.4,122.7h0.7v0.7h-0.7zM146.2,127.0h0.7v0.7h-0.7zM151.9,122.5h0.7v0.7h-0.7zM154.5,123.7h0.7v0.7h-0.7zM161.9,114.3h0.7v0.7h-0.7zM160.1,121.1h0.7v0.7h-0.7zM153.0,123.8h0.7v0.7h-0.7zM160.4,124.2h0.7v0.7h-0.7zM145.6,122.8h0.7v0.7h-0.7zM155.2,120.8h0.7v0.7h-0.7zM168.2,122.1h0.7v0.7h-0.7zM164.9,117.6h0.7v0.7h-0.7zM155.3,117.7h0.7v0.7h-0.7zM155.7,120.1h0.7v0.7h-0.7zM164.3,117.6h0.7v0.7h-0.7zM165.3,118.0h0.7v0.7h-0.7zM169.2,118.2h0.7v0.7h-0.7zM153.8,121.9h0.7v0.7h-0.7zM156.9,118.4h0.7v0.7h-0.7zM162.8,122.9h0.7v0.7h-0.7zM164.3,115.3h0.7v0.7h-0.7zM164.2,113.1h0.7v0.7h-0.7zM159.4,119.1h0.7v0.7h-0.7zM153.1,122.7h0.7v0.7h-0.7zM151.5,119.0h0.7v0.7h-0.7zM152.0,125.1h0.7v0.7h-0.7zM164.3,120.4h0.7v0.7h-0.7zM158.3,118.6h0.7v0.7h-0.7zM164.4,123.6h0.7v0.7h-0.7zM154.0,117.2h0.7v0.7h-0.7zM165.6,116.0h0.7v0.7h-0.7zM161.5,124.9h0.7v0.7h-0.7zM148.3,122.7h0.7v0.7h-0.7zM161.4,124.6h0.7v0.7h-0.7zM166.8,117.4h0.7v0.7h-0.7zM160.8,122.4h0.7v0.7h-0.7zM165.9,121.7h0.7v0.7h-0.7zM161.2,116.1h0.7v0.7h-0.7zM160.2,120.9h0.7v0.7h-0.7zM160.3,115.9h0.7v0.7h-0.7zM153.5,121.7h0.7v0.7h-0.7zM153.4,125.3h0.7v0.7h-0.7zM162.7,119.6h0.7v0.7h-0.7zM166.3,122.0h0.7v0.7h-0.7zM161.0,122.1h0.7v0.7h-0.7zM169.2,117.2h0.7v0.7h-0.7zM164.3,122.8h0.7v0.7h-0.7zM152.9,123.9h0.7v0.7h-0.7zM156.9,118.3h0.7v0.7h-0.7zM156.0,121.7h0.7v0.7h-0.7zM154.5,117.9h0.7v0.7h-0.7zM158.1,120.8h0.7v0.7h-0.7zM152.9,117.9h0.7v0.7h-0.7zM151.3,119.0h0.7v0.7h-0.7zM163.8,122.2h0.7v0.7h-0.7zM152.3,121.2h0.7v0.7h-0.7zM156.3,122.2h0.7v0.7h-0.7zM160.1,113.9h0.7v0.7h-0.7zM150.1,122.3h0.7v0.7h-0.7zM155.8,124.0h0.7v0.7h-0.7zM152.7,113.7h0.7v0.7h-0.7zM173.3,126.4h0.7v0.7h-0.7zM155.0,126.5h0.7v0.7h-0.7zM154.4,117.9h0.7v0.7h-0.7zM162.5,112.3h0.7v0.7h-0.7zM150.5,115.9h0.7v0.7h-0.7zM167.0,115.6h0.7v0.7h-0.7zM158.2,121.1h0.7v0.7h-0.7zM159.2,122.0h0.7v0.7h-0.7zM163.9,121.8h0.7v0.7h-0.7zM154.6,121.5h0.7v0.7h-0.7zM159.7,122.7h0.7v0.7h-0.7zM165.4,119.5h0.7v0.7h-0.7zM154.3,112.6h0.7v0.7h-0.7zM161.2,119.7h0.7v0.7h-0.7zM163.0,116.6h0.7v0.7h-0.7zM156.7,118.1h0.7v0.7h-0.7zM152.0,116.6h0.7v0.7h-0.7zM156.4,118.3h0.7v0.7h-0.7zM162.7,122.3h0.7v0.7h-0.7zM161.8,119.0h0.7v0.7h-0.7zM161.2,119.9h0.7v0.7h-0.7zM149.3,117.8h0.7v0.7h-0.7zM156.9,123.3h0.7v0.7h-0.7zM149.7,128.5h0.7v0.7h-0.7zM157.3,118.0h0.7v0.7h-0.7zM158.6,119.0h0.7v0.7h-0.7zM158.7,114.6h0.7v0.7h-0.7zM161.0,122.0h0.7v0.7h-0.7zM172.1,119.2h0.7v0.7h-0.7zM160.2,126.4h0.7v0.7h-0.7zM153.3,124.5h0.7v0.7h-0.7zM159.4,118.5h0.7v0.7h-0.7zM152.2,130.1h0.7v0.7h-0.7zM158.2,123.6h0.7v0.7h-0.7zM160.5,113.0h0.7v0.7h-0.7zM157.3,119.6h0.7v0.7h-0.7zM166.6,123.7h0.7v0.7h-0.7zM150.4,121.2h0.7v0.7h-0.7zM143.1,122.3h0.7v0.7h-0.7zM156.1,125.3h0.7v0.7h-0.7zM164.0,116.4h0.7v0.7h-0.7zM160.2,120.0h0.7v0.7h-0.7zM157.1,120.7h0.7v0.7h-0.7zM156.7,125.4h0.7v0.7h-0.7zM156.0,130.5h0.7v0.7h-0.7zM144.8,119.7h0.7v0.7h-0.7zM156.2,118.0h0.7v0.7h-0.7zM143.4,115.7h0.7v0.7h-0.7zM157.8,117.1h0.7v0.7h-0.7zM170.6,118.5h0.7v0.7h-0.7zM159.4,116.5h0.7v0.7h-0.7zM150.7,127.2h0.7v0.7h-0.7zM150.6,121.1h0.7v0.7h-0.7zM160.3,120.3h0.7v0.7h-0.7zM162.9,124.8h0.7v0.7h-0.7zM156.7,124.0h0.7v0.7h-0.7zM165.2,121.5h0.7v0.7h-0.7zM167.9,116.9h0.7v0.7h-0.7zM167.4,117.4h0.7v0.7h-0.7zM159.7,123.0h0.7v0.7h-0.7zM163.4,132.1h0.7v0.7h-0.7zM157.1,125.3h0.7v0.7h-0.7zM146.1,123.0h0.7v0.7h-0.7zM147.4,112.3h0.7v0.7h-0.7zM151.1,125.1h0.7v0.7h-0.7zM157.5,120.1h0.7v0.7h-0.7zM155.8,116.8h0.7v0.7h-0.7zM151.8,121.6h0.7v0.7h-0.7zM141.0,124.7h0.7v0.7h-0.7zM156.0,120.1h0.7v0.7h-0.7zM153.7,125.4h0.7v0.7h-0.7zM133.1,137.6h0.7v0.7h-0.7zM130.5,134.4h0.7v0.7h-0.7zM136.2,135.9h0.7v0.7h-0.7zM133.5,130.0h0.7v0.7h-0.7zM138.7,130.3h0.7v0.7h-0.7zM139.2,142.5h0.7v0.7h-0.7zM131.5,135.9h0.7v0.7h-0.7zM138.3,130.8h0.7v0.7h-0.7zM132.0,139.4h0.7v0.7h-0.7zM137.6,139.4h0.7v0.7h-0.7zM133.0,133.0h0.7v0.7h-0.7zM132.0,126.6h0.7v0.7h-0.7zM134.1,140.6h0.7v0.7h-0.7zM135.4,138.5h0.7v0.7h-0.7zM133.4,130.2h0.7v0.7h-0.7zM132.0,127.1h0.7v0.7h-0.7zM131.6,126.9h0.7v0.7h-0.7zM134.4,139.7h0.7v0.7h-0.7zM132.9,134.4h0.7v0.7h-0.7zM134.1,133.9h0.7v0.7h-0.7zM133.2,135.2h0.7v0.7h-0.7zM127.9,133.4h0.7v0.7h-0.7zM128.5,133.9h0.7v0.7h-0.7zM129.8,134.2h0.7v0.7h-0.7zM134.5,135.8h0.7v0.7h-0.7zM131.9,132.9h0.7v0.7h-0.7zM134.1,132.1h0.7v0.7h-0.7zM131.4,136.9h0.7v0.7h-0.7zM132.9,134.7h0.7v0.7h-0.7zM132.9,131.3h0.7v0.7h-0.7zM139.3,133.2h0.7v0.7h-0.7zM134.6,135.0h0.7v0.7h-0.7zM131.4,140.9h0.7v0.7h-0.7zM126.9,140.4h0.7v0.7h-0.7zM127.6,139.2h0.7v0.7h-0.7zM131.7,135.0h0.7v0.7h-0.7zM131.8,141.0h0.7v0.7h-0.7zM127.1,142.7h0.7v0.7h-0.7zM132.5,138.3h0.7v0.7h-0.7zM127.7,141.3h0.7v0.7h-0.7zM128.6,135.0h0.7v0.7h-0.7zM128.6,140.4h0.7v0.7h-0.7zM132.9,138.1h0.7v0.7h-0.7zM129.7,139.4h0.7v0.7h-0.7zM129.8,139.2h0.7v0.7h-0.7zM132.1,140.4h0.7v0.7h-0.7zM132.8,135.8h0.7v0.7h-0.7zM132.6,137.7h0.7v0.7h-0.7zM128.0,140.0h0.7v0.7h-0.7zM131.3,142.0h0.7v0.7h-0.7z" fill="#0a0a0a"/>
<line x1="140.5" y1="92.5" x2="140.5" y2="154.5" stroke="#6a6a6a" stroke-width="0.8"/>
<line x1="115.5" y1="128.5" x2="175.5" y2="128.5" stroke="#6a6a6a" stroke-width="0.8"/>
<text x="130" y="119.8" font-size="3.4" text-anchor="middle" fill="#777">Q1</text>
<text x="150.5" y="119.8" font-size="3.4" text-anchor="middle" fill="#777">Q2</text>
<text x="130" y="140.8" font-size="3.4" text-anchor="middle" fill="#777">Q3</text>
<text x="116.9" y="99.1" font-size="6.7" font-weight="700" text-anchor="start" fill="#000" stroke="#000" stroke-width="0.35">1</text>
<text x="173.9" y="99.1" font-size="6.7" font-weight="700" text-anchor="end" fill="#000" stroke="#000" stroke-width="0.35">21</text>
<text x="116.9" y="135.4" font-size="6.7" font-weight="700" text-anchor="start" fill="#000" stroke="#000" stroke-width="0.35">6</text>
<text x="173.9" y="135.4" font-size="6.7" font-weight="700" text-anchor="end" fill="#000" stroke="#000" stroke-width="0.35">72</text>
<text x="242.4" y="8.6" font-size="11.2" font-weight="700" text-anchor="start" fill="#000" stroke="#000" stroke-width="0.6">B</text>
<line x1="281.1" y1="5.2" x2="281.1" y2="169.7" stroke="#8e8e8e" stroke-width="1.1"/>
<line x1="278.5" y1="167.1" x2="378.3" y2="167.1" stroke="#8e8e8e" stroke-width="1.1"/>
<line x1="278.4" y1="167.1" x2="281.1" y2="167.1" stroke="#8e8e8e" stroke-width="1.1"/>
<text x="273.7" y="169.79999999999998" font-size="7.9" font-weight="400" text-anchor="end" fill="#000" stroke="#000" stroke-width="0.3">0</text>
<line x1="278.4" y1="134.82" x2="281.1" y2="134.82" stroke="#8e8e8e" stroke-width="1.1"/>
<text x="273.7" y="137.51999999999998" font-size="7.9" font-weight="400" text-anchor="end" fill="#000" stroke="#000" stroke-width="0.3">20</text>
<line x1="278.4" y1="102.53999999999999" x2="281.1" y2="102.53999999999999" stroke="#8e8e8e" stroke-width="1.1"/>
<text x="273.7" y="105.24" font-size="7.9" font-weight="400" text-anchor="end" fill="#000" stroke="#000" stroke-width="0.3">40</text>
<line x1="278.4" y1="70.25999999999999" x2="281.1" y2="70.25999999999999" stroke="#8e8e8e" stroke-width="1.1"/>
<text x="273.7" y="72.96" font-size="7.9" font-weight="400" text-anchor="end" fill="#000" stroke="#000" stroke-width="0.3">60</text>
<line x1="278.4" y1="37.97999999999999" x2="281.1" y2="37.97999999999999" stroke="#8e8e8e" stroke-width="1.1"/>
<text x="273.7" y="40.67999999999999" font-size="7.9" font-weight="400" text-anchor="end" fill="#000" stroke="#000" stroke-width="0.3">80</text>
<line x1="278.4" y1="5.699999999999989" x2="281.1" y2="5.699999999999989" stroke="#8e8e8e" stroke-width="1.1"/>
<text x="273.7" y="8.399999999999988" font-size="7.9" font-weight="400" text-anchor="end" fill="#000" stroke="#000" stroke-width="0.3">100</text>
<line x1="329.4" y1="167.1" x2="329.4" y2="169.7" stroke="#8e8e8e" stroke-width="1.1"/>
<line x1="377.8" y1="167.1" x2="377.8" y2="169.7" stroke="#8e8e8e" stroke-width="1.1"/>
<rect x="295.90" y="47.66" width="19.20" height="119.94" fill="#000"/>
<rect x="343.90" y="100.93" width="19.60" height="66.67" fill="#000"/>
<line x1="305.7" y1="30.9" x2="305.7" y2="47.66399999999999" stroke="#1a1a1a" stroke-width="1.1"/>
<line x1="303.59999999999997" y1="30.9" x2="307.8" y2="30.9" stroke="#1a1a1a" stroke-width="1.1"/>
<line x1="353.8" y1="64.5" x2="353.8" y2="100.92599999999999" stroke="#1a1a1a" stroke-width="1.1"/>
<line x1="351.7" y1="64.5" x2="355.90000000000003" y2="64.5" stroke="#1a1a1a" stroke-width="1.1"/>
<path d="M305.5,25.3 V20.7 H353.2 V25.3" fill="none" stroke="#111" stroke-width="1.15"/>
<text x="328.9" y="17" font-size="6.4" font-weight="700" text-anchor="middle" fill="#000" stroke="#000" stroke-width="0.35">P&lt;0.005</text>
<text x="305.2" y="179.8" font-size="8.25" font-weight="700" text-anchor="middle" fill="#000" stroke="#000" stroke-width="0.35">CTRL</text>
<text x="353.6" y="179.8" font-size="8.3" font-weight="700" text-anchor="middle" fill="#000" stroke="#000" stroke-width="0.35">HDAC1-KD</text>
<text x="252.3" y="86.8" font-size="8.25" font-weight="700" text-anchor="middle" fill="#000" stroke="#000" stroke-width="0.35" transform="rotate(-90 252.3 86.8)">Mac-1 positive cells (%)</text>
<line x1="421.6" y1="5.2" x2="421.6" y2="169.7" stroke="#8e8e8e" stroke-width="1.1"/>
<line x1="419" y1="167.1" x2="520" y2="167.1" stroke="#8e8e8e" stroke-width="1.1"/>
<line x1="418.9" y1="167.1" x2="421.6" y2="167.1" stroke="#8e8e8e" stroke-width="1.1"/>
<text x="414.3" y="169.79999999999998" font-size="7.9" font-weight="400" text-anchor="end" fill="#000" stroke="#000" stroke-width="0.3">0</text>
<line x1="418.9" y1="134.82" x2="421.6" y2="134.82" stroke="#8e8e8e" stroke-width="1.1"/>
<text x="414.3" y="137.51999999999998" font-size="7.9" font-weight="400" text-anchor="end" fill="#000" stroke="#000" stroke-width="0.3">10</text>
<line x1="418.9" y1="102.53999999999999" x2="421.6" y2="102.53999999999999" stroke="#8e8e8e" stroke-width="1.1"/>
<text x="414.3" y="105.24" font-size="7.9" font-weight="400" text-anchor="end" fill="#000" stroke="#000" stroke-width="0.3">20</text>
<line x1="418.9" y1="70.25999999999999" x2="421.6" y2="70.25999999999999" stroke="#8e8e8e" stroke-width="1.1"/>
<text x="414.3" y="72.96" font-size="7.9" font-weight="400" text-anchor="end" fill="#000" stroke="#000" stroke-width="0.3">30</text>
<line x1="418.9" y1="37.97999999999999" x2="421.6" y2="37.97999999999999" stroke="#8e8e8e" stroke-width="1.1"/>
<text x="414.3" y="40.67999999999999" font-size="7.9" font-weight="400" text-anchor="end" fill="#000" stroke="#000" stroke-width="0.3">40</text>
<line x1="418.9" y1="5.699999999999989" x2="421.6" y2="5.699999999999989" stroke="#8e8e8e" stroke-width="1.1"/>
<text x="414.3" y="8.399999999999988" font-size="7.9" font-weight="400" text-anchor="end" fill="#000" stroke="#000" stroke-width="0.3">50</text>
<line x1="470.8" y1="167.1" x2="470.8" y2="169.7" stroke="#8e8e8e" stroke-width="1.1"/>
<line x1="519.5" y1="167.1" x2="519.5" y2="169.7" stroke="#8e8e8e" stroke-width="1.1"/>
<rect x="436.30" y="111.70" width="19.40" height="55.90" fill="#000"/>
<rect x="485.10" y="56.80" width="19.80" height="110.80" fill="#000"/>
<line x1="446.2" y1="81.55799999999999" x2="446.2" y2="111.7" stroke="#1a1a1a" stroke-width="1.1"/>
<line x1="444.09999999999997" y1="81.55799999999999" x2="448.3" y2="81.55799999999999" stroke="#1a1a1a" stroke-width="1.1"/>
<line x1="495.4" y1="29" x2="495.4" y2="56.8" stroke="#1a1a1a" stroke-width="1.1"/>
<line x1="493.29999999999995" y1="29" x2="497.5" y2="29" stroke="#1a1a1a" stroke-width="1.1"/>
<path d="M446.5,25.5 V20.6 H495.4 V25.5" fill="none" stroke="#111" stroke-width="1.15"/>
<text x="470.8" y="18.7" font-size="6.6" font-weight="700" text-anchor="middle" fill="#000" stroke="#000" stroke-width="0.35">P&lt;0.05</text>
<text x="446.6" y="179.8" font-size="8.25" font-weight="700" text-anchor="middle" fill="#000" stroke="#000" stroke-width="0.35">CTRL</text>
<text x="495.4" y="179.8" font-size="8.3" font-weight="700" text-anchor="middle" fill="#000" stroke="#000" stroke-width="0.35">HDAC1-KD</text>
<text x="396.6" y="90.5" font-size="8.3" font-weight="700" text-anchor="middle" fill="#000" stroke="#000" stroke-width="0.35" transform="rotate(-90 396.6 90.5)">c-Kit positive cells (%)</text>
<text x="0.5" y="201.1" font-size="11" font-weight="700" text-anchor="start" fill="#000" stroke="#000" stroke-width="0.6">C</text>
<line x1="38.8" y1="212.4" x2="38.8" y2="363.7" stroke="#8e8e8e" stroke-width="1.1"/>
<line x1="36.1" y1="361.2" x2="262.3" y2="361.2" stroke="#8e8e8e" stroke-width="1.1"/>
<line x1="36.1" y1="361.2" x2="38.8" y2="361.2" stroke="#8e8e8e" stroke-width="1.1"/>
<text x="30.8" y="363.7" font-size="7.7" font-weight="700" text-anchor="end" fill="#000" stroke="#000" stroke-width="0.35">0</text>
<line x1="36.1" y1="339.98" x2="38.8" y2="339.98" stroke="#8e8e8e" stroke-width="1.1"/>
<text x="30.8" y="342.48" font-size="7.7" font-weight="700" text-anchor="end" fill="#000" stroke="#000" stroke-width="0.35">100</text>
<line x1="36.1" y1="318.76" x2="38.8" y2="318.76" stroke="#8e8e8e" stroke-width="1.1"/>
<text x="30.8" y="321.26" font-size="7.7" font-weight="700" text-anchor="end" fill="#000" stroke="#000" stroke-width="0.35">200</text>
<line x1="36.1" y1="297.53999999999996" x2="38.8" y2="297.53999999999996" stroke="#8e8e8e" stroke-width="1.1"/>
<text x="30.8" y="300.03999999999996" font-size="7.7" font-weight="700" text-anchor="end" fill="#000" stroke="#000" stroke-width="0.35">300</text>
<line x1="36.1" y1="276.32" x2="38.8" y2="276.32" stroke="#8e8e8e" stroke-width="1.1"/>
<text x="30.8" y="278.82" font-size="7.7" font-weight="700" text-anchor="end" fill="#000" stroke="#000" stroke-width="0.35">400</text>
<line x1="36.1" y1="255.1" x2="38.8" y2="255.1" stroke="#8e8e8e" stroke-width="1.1"/>
<text x="30.8" y="257.6" font-size="7.7" font-weight="700" text-anchor="end" fill="#000" stroke="#000" stroke-width="0.35">500</text>
<line x1="36.1" y1="233.88" x2="38.8" y2="233.88" stroke="#8e8e8e" stroke-width="1.1"/>
<text x="30.8" y="236.38" font-size="7.7" font-weight="700" text-anchor="end" fill="#000" stroke="#000" stroke-width="0.35">600</text>
<line x1="36.1" y1="212.66" x2="38.8" y2="212.66" stroke="#8e8e8e" stroke-width="1.1"/>
<text x="30.8" y="215.16" font-size="7.7" font-weight="700" text-anchor="end" fill="#000" stroke="#000" stroke-width="0.35">700</text>
<line x1="94.5" y1="361.2" x2="94.5" y2="363.7" stroke="#8e8e8e" stroke-width="1.1"/>
<line x1="150.4" y1="361.2" x2="150.4" y2="363.7" stroke="#8e8e8e" stroke-width="1.1"/>
<line x1="205.8" y1="361.2" x2="205.8" y2="363.7" stroke="#8e8e8e" stroke-width="1.1"/>
<line x1="262" y1="361.2" x2="262" y2="363.7" stroke="#8e8e8e" stroke-width="1.1"/>
<line x1="58.699999999999996" y1="353.5" x2="58.699999999999996" y2="354.6" stroke="#1a1a1a" stroke-width="1.1"/>
<line x1="56.8" y1="353.5" x2="60.599999999999994" y2="353.5" stroke="#1a1a1a" stroke-width="1.1"/>
<line x1="75.0" y1="358.2" x2="75.0" y2="359.1" stroke="#1a1a1a" stroke-width="1.1"/>
<line x1="73.1" y1="358.2" x2="76.9" y2="358.2" stroke="#1a1a1a" stroke-width="1.1"/>
<path d="M50.75,361.2 V355.05 H67.10" fill="none" stroke="#000" stroke-width="0.9"/>
<rect x="67.10" y="359.10" width="15.80" height="2.60" fill="#000"/>
<line x1="114.35" y1="348.2" x2="114.35" y2="349.3" stroke="#1a1a1a" stroke-width="1.1"/>
<line x1="112.44999999999999" y1="348.2" x2="116.25" y2="348.2" stroke="#1a1a1a" stroke-width="1.1"/>
<line x1="130.7" y1="333.6" x2="130.7" y2="337.9" stroke="#1a1a1a" stroke-width="1.1"/>
<line x1="128.79999999999998" y1="333.6" x2="132.6" y2="333.6" stroke="#1a1a1a" stroke-width="1.1"/>
<path d="M106.65,361.2 V349.75 H122.50" fill="none" stroke="#000" stroke-width="0.9"/>
<rect x="122.50" y="337.90" width="16.40" height="23.80" fill="#000"/>
<line x1="170.2" y1="333.3" x2="170.2" y2="336" stroke="#1a1a1a" stroke-width="1.1"/>
<line x1="168.29999999999998" y1="333.3" x2="172.1" y2="333.3" stroke="#1a1a1a" stroke-width="1.1"/>
<line x1="186.5" y1="272.1" x2="186.5" y2="282.6" stroke="#1a1a1a" stroke-width="1.1"/>
<line x1="184.6" y1="272.1" x2="188.4" y2="272.1" stroke="#1a1a1a" stroke-width="1.1"/>
<path d="M162.45,361.2 V336.45 H178.40" fill="none" stroke="#000" stroke-width="0.9"/>
<rect x="178.40" y="282.60" width="16.20" height="79.10" fill="#000"/>
<line x1="225.95" y1="295.7" x2="225.95" y2="300.4" stroke="#1a1a1a" stroke-width="1.1"/>
<line x1="224.04999999999998" y1="295.7" x2="227.85" y2="295.7" stroke="#1a1a1a" stroke-width="1.1"/>
<line x1="242.14999999999998" y1="229.9" x2="242.14999999999998" y2="246" stroke="#1a1a1a" stroke-width="1.1"/>
<line x1="240.24999999999997" y1="229.9" x2="244.04999999999998" y2="229.9" stroke="#1a1a1a" stroke-width="1.1"/>
<path d="M218.25,361.2 V300.85 H234.10" fill="none" stroke="#000" stroke-width="0.9"/>
<rect x="234.10" y="246.00" width="16.10" height="115.70" fill="#000"/>
<path d="M170.2,266.5 V262.2 H187 V266.5" fill="none" stroke="#111" stroke-width="1.35"/>
<text x="178.4" y="258.2" font-size="6.5" font-weight="700" text-anchor="middle" fill="#000" stroke="#000" stroke-width="0.35">P&lt;0.05</text>
<path d="M224.8,225.4 V221.2 H241.7 V225.4" fill="none" stroke="#111" stroke-width="1.35"/>
<text x="232.5" y="217.6" font-size="6.6" font-weight="700" text-anchor="middle" fill="#000" stroke="#000" stroke-width="0.35">P&lt;0.0005</text>
<rect x="56.00" y="214.00" width="8.20" height="8.20" fill="#fff" stroke="#000" stroke-width="1.3"/>
<rect x="55.30" y="226.60" width="9.60" height="9.40" fill="#000"/>
<text x="70.2" y="220.8" font-size="8.25" font-weight="700" text-anchor="start" fill="#000" stroke="#000" stroke-width="0.35">CTRL</text>
<text x="70.2" y="234.7" font-size="8.25" font-weight="700" text-anchor="start" fill="#000" stroke="#000" stroke-width="0.35">HDAC1-KD</text>
<text x="6.3" y="373.8" font-size="8.2" font-weight="700" text-anchor="start" fill="#000" stroke="#000" stroke-width="0.35">Plating</text>
<text x="66.8" y="373.7" font-size="8" font-weight="700" text-anchor="middle" fill="#000" stroke="#000" stroke-width="0.35">I</text>
<text x="122.6" y="373.7" font-size="8" font-weight="700" text-anchor="middle" fill="#000" stroke="#000" stroke-width="0.35">II</text>
<text x="178.3" y="373.7" font-size="8" font-weight="700" text-anchor="middle" fill="#000" stroke="#000" stroke-width="0.35">III</text>
<text x="234.1" y="373.9" font-size="8" font-weight="700" text-anchor="middle" fill="#000" stroke="#000" stroke-width="0.35">IV</text>
<text x="8" y="282.6" font-size="8.3" font-weight="700" text-anchor="middle" fill="#000" stroke="#000" stroke-width="0.35" transform="rotate(-90 8 282.6)">C.F.U. (10000 cells)</text>
<text x="274.9" y="201.1" font-size="11.2" font-weight="700" text-anchor="start" fill="#000" stroke="#000" stroke-width="0.6">D</text>
<line x1="309.2" y1="214.1" x2="309.2" y2="369.2" stroke="#8e8e8e" stroke-width="1.1"/>
<line x1="306.3" y1="366.7" x2="467.2" y2="366.7" stroke="#8e8e8e" stroke-width="1.1"/>
<line x1="306.3" y1="366.7" x2="309.2" y2="366.7" stroke="#8e8e8e" stroke-width="1.1"/>
<text x="301.8" y="369.5" font-size="7.9" font-weight="400" text-anchor="end" fill="#000" stroke="#000" stroke-width="0.4">0</text>
<line x1="306.3" y1="336.28" x2="309.2" y2="336.28" stroke="#8e8e8e" stroke-width="1.1"/>
<text x="301.8" y="339.08" font-size="7.9" font-weight="400" text-anchor="end" fill="#000" stroke="#000" stroke-width="0.4">20</text>
<line x1="306.3" y1="305.86" x2="309.2" y2="305.86" stroke="#8e8e8e" stroke-width="1.1"/>
<text x="301.8" y="308.66" font-size="7.9" font-weight="400" text-anchor="end" fill="#000" stroke="#000" stroke-width="0.4">40</text>
<line x1="306.3" y1="275.44" x2="309.2" y2="275.44" stroke="#8e8e8e" stroke-width="1.1"/>
<text x="301.8" y="278.24" font-size="7.9" font-weight="400" text-anchor="end" fill="#000" stroke="#000" stroke-width="0.4">60</text>
<line x1="306.3" y1="245.01999999999998" x2="309.2" y2="245.01999999999998" stroke="#8e8e8e" stroke-width="1.1"/>
<text x="301.8" y="247.82" font-size="7.9" font-weight="400" text-anchor="end" fill="#000" stroke="#000" stroke-width="0.4">80</text>
<line x1="306.3" y1="214.6" x2="309.2" y2="214.6" stroke="#8e8e8e" stroke-width="1.1"/>
<text x="301.8" y="217.4" font-size="7.9" font-weight="400" text-anchor="end" fill="#000" stroke="#000" stroke-width="0.4">100</text>
<line x1="388" y1="366.7" x2="388" y2="369.2" stroke="#8e8e8e" stroke-width="1.1"/>
<line x1="466.9" y1="366.7" x2="466.9" y2="369.2" stroke="#8e8e8e" stroke-width="1.1"/>
<rect x="332.80" y="214.60" width="31.80" height="50.19" fill="#b1b1b1" stroke="#9a9a9a" stroke-width="0.6"/>
<rect x="332.80" y="264.79" width="31.80" height="101.91" fill="#5f5f5f" stroke="#555" stroke-width="0.6"/>
<rect x="411.50" y="214.60" width="32.20" height="90.04" fill="#b1b1b1" stroke="#9a9a9a" stroke-width="0.6"/>
<rect x="411.50" y="304.64" width="32.20" height="62.06" fill="#5f5f5f" stroke="#555" stroke-width="0.6"/>
<path d="M349.3,210.3 V206 H427.3 V210.3" fill="none" stroke="#111" stroke-width="1.15"/>
<text x="381.8" y="200.4" font-size="6.45" font-weight="700" text-anchor="middle" fill="#000" stroke="#000" stroke-width="0.35">P&lt;0.005</text>
<rect x="461.50" y="215.70" width="3.90" height="3.90" fill="#b1b1b1" stroke="#8a8a8a" stroke-width="0.5"/>
<rect x="461.50" y="236.00" width="3.90" height="3.90" fill="#5f5f5f" stroke="#222" stroke-width="0.6"/>
<text x="468" y="220.6" font-size="8.2" font-weight="400" text-anchor="start" fill="#000" stroke="#000" stroke-width="0.3">Aneuploid</text>
<text x="468" y="240.8" font-size="8.2" font-weight="400" text-anchor="start" fill="#000" stroke="#000" stroke-width="0.3">Diploid</text>
<text x="348.4" y="380.2" font-size="8.25" font-weight="700" text-anchor="middle" fill="#000" stroke="#000" stroke-width="0.35">CTRL</text>
<text x="427.5" y="380.2" font-size="8.3" font-weight="700" text-anchor="middle" fill="#000" stroke="#000" stroke-width="0.35">HDAC1-KD</text>
<text x="284" y="291.2" font-size="8.3" font-weight="700" text-anchor="middle" fill="#000" stroke="#000" stroke-width="0.35" transform="rotate(-90 284 291.2)">% of cells</text>
<path d="M260,361.8 H262 V363.8" fill="none" stroke="#aaa" stroke-width="0.8"/>
</g>
</svg>
</body></html>
